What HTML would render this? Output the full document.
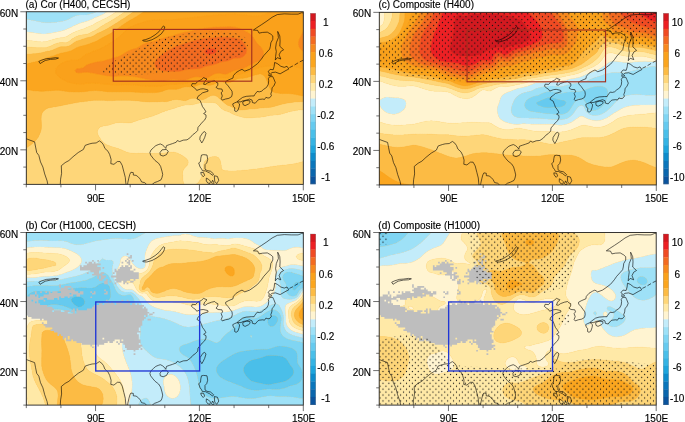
<!DOCTYPE html>
<html><head><meta charset="utf-8"><style>
html,body{margin:0;padding:0;background:#fff;}
svg{display:block;}
text{font-family:"Liberation Sans",sans-serif;font-size:10px;fill:#000;stroke:#000;stroke-width:0.15px;}
svg{will-change:transform;}
</style></head><body>
<svg width="685" height="422" viewBox="0 0 685 422">
<defs>
<pattern id="dotsa" x="5.390" y="5.780" width="5.88" height="5.88" patternUnits="userSpaceOnUse"><circle cx="1.47" cy="1.47" r="0.62" fill="#111"/><circle cx="4.41" cy="4.41" r="0.62" fill="#111"/></pattern>
<pattern id="dotsc" x="2.880" y="2.860" width="5.88" height="5.88" patternUnits="userSpaceOnUse"><circle cx="1.47" cy="1.47" r="0.62" fill="#111"/><circle cx="4.41" cy="4.41" r="0.62" fill="#111"/></pattern>
<pattern id="dotsd" x="2.320" y="2.310" width="5.88" height="5.88" patternUnits="userSpaceOnUse"><circle cx="1.47" cy="1.47" r="0.62" fill="#111"/><circle cx="4.41" cy="4.41" r="0.62" fill="#111"/></pattern>
<pattern id="dotsb" x="1.630" y="1.230" width="5.88" height="5.88" patternUnits="userSpaceOnUse"><circle cx="1.47" cy="1.47" r="0.62" fill="#111"/><circle cx="4.41" cy="4.41" r="0.62" fill="#111"/></pattern>
</defs>
<g transform="translate(26.3,11.75)">
<clipPath id="clipa"><rect x="0" y="0" width="277.0" height="172.6"/></clipPath>
<g clip-path="url(#clipa)">
<rect x="0" y="0" width="277.0" height="172.6" fill="#fba61f"/>
<path fill="#7fd5f3" stroke="#7fd5f3" stroke-width="0.3" fill-rule="evenodd" d="M-1.7 0L-0.4 0L0 -0L1.7 -0.2L3.5 -0.5L5.2 -0.9L6.9 -1.2L8.7 -1.6L9.1 -1.7L10.4 -2L12.1 -2.5L13.8 -2.9L15.6 -3.3L16.5 -3.5L17.3 -3.6L19 -3.8L20.8 -4L22.5 -4.2L24.2 -4.4L26 -4.5L27.7 -4.7L29.4 -4.9L31.2 -5.1L31.7 -5.2L32.9 -5.3L34.6 -5.5L36.4 -5.6L38.1 -5.8L39.8 -6L41.5 -6.2L43.3 -6.3L45 -6.5L46.7 -6.7L48.5 -6.8L50.2 -6.8L51.9 -6.7L53.7 -6.6L55.4 -6.4L57.1 -6.1L58.9 -5.9L60.6 -5.8L62.3 -5.8L64.1 -6L65.8 -6.4L67.4 -6.9L65.8 -6.9L64.1 -6.9L62.3 -6.9L60.6 -6.9L58.9 -6.9L57.1 -6.9L55.4 -6.9L53.7 -6.9L51.9 -6.9L50.2 -6.9L48.5 -6.9L46.7 -6.9L45 -6.9L43.3 -6.9L41.5 -6.9L39.8 -6.9L38.1 -6.9L36.4 -6.9L34.6 -6.9L32.9 -6.9L31.2 -6.9L29.4 -6.9L27.7 -6.9L26 -6.9L24.2 -6.9L22.5 -6.9L20.8 -6.9L19 -6.9L17.3 -6.9L15.6 -6.9L13.8 -6.9L12.1 -6.9L10.4 -6.9L8.7 -6.9L6.9 -6.9L5.2 -6.9L3.5 -6.9L1.7 -6.9L0 -6.9L-1.7 -6.9L-3.5 -6.9L-5.2 -6.9L-6.9 -6.9L-6.9 -5.2L-6.9 -3.5L-6.9 -1.7L-6.9 -0.2L-5.2 -0.1L-3.5 -0.1L-1.9 0Z"/>
<path fill="#9ee1f7" stroke="#9ee1f7" stroke-width="0.3" fill-rule="evenodd" d="M15.6 10.4L17.3 10.7L19 10.9L20.8 11L22.5 11L24.2 11L26 10.8L27.7 10.7L29.4 10.5L30.3 10.4L31.2 10.2L32.9 10L34.6 9.7L36.4 9.4L38.1 9.1L39.8 8.6L39.8 8.6L41.5 7.9L43.3 7L43.5 6.9L45 6.1L46.7 5.2L46.7 5.2L48.5 4.4L50.2 3.8L51.5 3.5L51.9 3.4L53.7 3.2L55.4 3.2L57.1 3.3L58.9 3.3L60.6 3.2L62.3 2.8L64.1 2.3L65.8 1.8L66 1.7L67.5 1.2L69.2 0.6L70.6 0L71 -0.2L72.7 -1.2L73.6 -1.7L74.4 -2.2L76.2 -3.4L76.3 -3.5L77.9 -4.6L78.6 -5.2L79.6 -6L80.8 -6.9L79.6 -6.9L77.9 -6.9L76.2 -6.9L74.4 -6.9L72.7 -6.9L71 -6.9L69.2 -6.9L67.5 -6.9L67.4 -6.9L65.8 -6.4L64.1 -6L62.3 -5.8L60.6 -5.8L58.9 -5.9L57.1 -6.1L55.4 -6.4L53.7 -6.6L51.9 -6.7L50.2 -6.8L48.5 -6.8L46.7 -6.7L45 -6.5L43.3 -6.3L41.5 -6.2L39.8 -6L38.1 -5.8L36.4 -5.6L34.6 -5.5L32.9 -5.3L31.7 -5.2L31.2 -5.1L29.4 -4.9L27.7 -4.7L26 -4.5L24.2 -4.4L22.5 -4.2L20.8 -4L19 -3.8L17.3 -3.6L16.5 -3.5L15.6 -3.3L13.8 -2.9L12.1 -2.5L10.4 -2L9.1 -1.7L8.7 -1.6L6.9 -1.2L5.2 -0.9L3.5 -0.5L1.7 -0.2L0 -0L-0.4 0L-1.7 0L-1.9 0L-3.5 -0.1L-5.2 -0.1L-6.9 -0.2L-6.9 0L-6.9 1.7L-6.9 3.5L-6.9 5.2L-6.9 6.9L-6.9 8.3L-5.2 8.1L-3.5 7.9L-1.7 7.7L0 7.7L1.7 7.8L3.5 8.1L5.2 8.4L6.2 8.6L6.9 8.8L8.7 9.1L10.4 9.5L12.1 9.8L13.8 10.1L15.2 10.4Z"/>
<path fill="#c3ecfa" stroke="#c3ecfa" stroke-width="0.3" fill-rule="evenodd" d="M5.2 20.8L6.9 21L8.7 21.3L10.4 21.6L12.1 21.8L13.8 22L15.6 22.2L17.3 22.2L19 22.2L20.8 22L22.5 21.8L24.2 21.5L26 21.2L27.7 20.8L28.4 20.7L29.4 20.5L31.2 20.2L32.9 19.8L34.6 19.4L36.2 19L36.4 19L38.1 18.4L39.8 17.7L40.8 17.3L41.5 17L43.3 16.2L44.6 15.5L45 15.4L46.7 14.5L48.3 13.8L48.5 13.7L50.2 13L51.9 12.3L52.4 12.1L53.7 11.6L55.4 11L57.1 10.5L57.5 10.4L58.9 10L60.6 9.5L62.3 8.9L63.1 8.6L64.1 8.2L65.8 7.5L66.9 6.9L67.5 6.6L69.2 5.8L70.8 5.2L71 5.1L72.7 4.4L74.4 3.6L74.8 3.5L76.2 2.8L77.9 1.9L78.1 1.7L79.6 0.8L81 0L81.4 -0.2L83.1 -1.4L83.5 -1.7L84.8 -2.7L85.9 -3.5L86.6 -4L88 -5.2L88.3 -5.4L90 -6.9L90 -6.9L90 -6.9L88.3 -6.9L86.6 -6.9L84.8 -6.9L83.1 -6.9L81.4 -6.9L80.8 -6.9L79.6 -6L78.6 -5.2L77.9 -4.6L76.3 -3.5L76.2 -3.4L74.4 -2.2L73.6 -1.7L72.7 -1.2L71 -0.2L70.6 0L69.2 0.6L67.5 1.2L66 1.7L65.8 1.8L64.1 2.3L62.3 2.8L60.6 3.2L58.9 3.3L57.1 3.3L55.4 3.2L53.7 3.2L51.9 3.4L51.5 3.5L50.2 3.8L48.5 4.4L46.7 5.2L46.7 5.2L45 6.1L43.5 6.9L43.3 7L41.5 7.9L39.8 8.6L39.8 8.6L38.1 9.1L36.4 9.4L34.6 9.7L32.9 10L31.2 10.2L30.3 10.4L29.4 10.5L27.7 10.7L26 10.8L24.2 11L22.5 11L20.8 11L19 10.9L17.3 10.7L15.6 10.4L15.2 10.4L13.8 10.1L12.1 9.8L10.4 9.5L8.7 9.1L6.9 8.8L6.2 8.6L5.2 8.4L3.5 8.1L1.7 7.8L0 7.7L-1.7 7.7L-3.5 7.9L-5.2 8.1L-6.9 8.3L-6.9 8.6L-6.9 10.4L-6.9 12.1L-6.9 13.8L-6.9 15.5L-6.9 17.3L-6.9 18.9L-6 19L-5.2 19.1L-3.5 19.4L-1.7 19.7L0 20L1.7 20.3L3.5 20.5L4.8 20.7Z"/>
<path fill="#fff4d1" stroke="#fff4d1" stroke-width="0.3" fill-rule="evenodd" d="M8.7 29.5L10.4 29.7L12.1 29.9L13.9 30.1L15.6 30.2L17.3 30.1L19 30L20.8 29.6L21.7 29.3L22.5 29.1L24.2 28.6L26 28L27.2 27.6L27.7 27.4L29.4 27L31.2 26.6L32.9 26.3L34.6 26.1L36.2 25.9L36.4 25.9L38.1 25.5L39.8 25L41.5 24.2L41.5 24.1L43.3 23.1L44.4 22.4L45 22.1L46.7 21.1L47.6 20.7L48.5 20.3L50.2 19.5L51.7 19L51.9 18.9L53.7 18.3L55.4 17.8L56.9 17.3L57.1 17.2L58.9 16.5L60.6 15.5L60.6 15.5L62.3 14.9L64.1 14.3L65.3 13.8L65.8 13.6L67.5 12.7L68.4 12.1L69.2 11.5L71 10.5L71.3 10.4L72.7 9.7L74.4 8.9L75 8.6L76.2 8.1L77.9 7.3L78.6 6.9L79.6 6.4L81.4 5.5L81.9 5.2L83.1 4.5L84.8 3.5L84.8 3.4L86.6 2.3L87.5 1.7L88.3 1.2L90 0L90 -0L91.8 -1.3L92.4 -1.7L93.5 -2.6L94.6 -3.5L95.2 -4L96.6 -5.2L97 -5.4L98.6 -6.9L97 -6.9L95.2 -6.9L93.5 -6.9L91.8 -6.9L90 -6.9L90 -6.9L88.3 -5.4L88 -5.2L86.6 -4L85.9 -3.5L84.8 -2.7L83.5 -1.7L83.1 -1.4L81.4 -0.2L81 0L79.6 0.8L78.1 1.7L77.9 1.9L76.2 2.8L74.8 3.5L74.4 3.6L72.7 4.4L71 5.1L70.8 5.2L69.2 5.8L67.5 6.6L66.9 6.9L65.8 7.5L64.1 8.2L63.1 8.6L62.3 8.9L60.6 9.5L58.9 10L57.5 10.4L57.1 10.5L55.4 11L53.7 11.6L52.4 12.1L51.9 12.3L50.2 13L48.5 13.7L48.3 13.8L46.7 14.5L45 15.4L44.6 15.5L43.3 16.2L41.5 17L40.8 17.3L39.8 17.7L38.1 18.4L36.4 19L36.2 19L34.6 19.4L32.9 19.8L31.2 20.2L29.4 20.5L28.4 20.7L27.7 20.8L26 21.2L24.2 21.5L22.5 21.8L20.8 22L19 22.2L17.3 22.2L15.6 22.2L13.8 22L12.1 21.8L10.4 21.6L8.7 21.3L6.9 21L5.2 20.8L4.8 20.7L3.5 20.5L1.7 20.3L0 20L-1.7 19.7L-3.5 19.4L-5.2 19.1L-6 19L-6.9 18.9L-6.9 19L-6.9 20.7L-6.9 22.4L-6.9 24.2L-6.9 25.9L-6.9 27.6L-6.9 27.9L-5.2 28.1L-3.5 28.2L-1.7 28.4L0 28.6L1.7 28.8L3.5 28.9L5.2 29.1L6.9 29.3L7.2 29.3Z"/>
<path fill="#ffe9a7" stroke="#ffe9a7" stroke-width="0.3" fill-rule="evenodd" d="M161 174.8L162.7 175.1L164.5 175.1L166.2 174.7L167 174.3L167.9 173.9L169.7 172.8L169.9 172.6L171.4 171.3L171.8 170.9L173.1 169.2L173.2 169.1L174.2 167.4L174.9 166.2L175.1 165.7L175.8 164L176.4 162.2L176.6 161.4L176.8 160.5L177.1 158.8L177.3 157.1L177.3 155.3L177.3 153.6L177.6 151.9L178.2 150.2L178.3 150L179.5 148.4L180 147.9L181.5 146.7L181.8 146.6L183.5 145.7L185.2 145.2L186.1 145L187 144.9L188.7 144.8L189.8 145L190.4 145.1L192.2 146.1L192.7 146.7L193.7 148.4L193.9 148.9L194.3 150.2L194.6 151.9L194.9 153.6L195 155.3L195.3 157.1L195.6 157.5L197.4 158.7L197.8 158.8L199.1 159L200.8 159.1L202.6 159.2L204.3 159.3L206 159.3L207.8 159.2L209.5 159.2L211.2 159.1L212.9 159L214.7 158.9L215.4 158.8L216.4 158.7L218.1 158.5L219.9 158.4L221.6 158.2L223.3 158L225.1 157.8L226.8 157.6L228.5 157.4L230.3 157.2L231.6 157.1L232 157L233.7 156.8L235.4 156.5L237.2 156.2L238.9 156L240.6 155.7L242.4 155.4L242.9 155.3L244.1 155.1L245.8 154.9L247.6 154.6L249.3 154.4L251 154.1L252.8 153.9L254.5 153.8L256 153.6L256.2 153.6L258 153.4L259.7 153.3L261.4 153.1L263.1 152.8L264.9 152.6L266.6 152.3L268.3 152L268.9 151.9L270.1 151.6L271.8 151.2L273.5 150.8L275.3 150.3L275.8 150.2L277 149.8L278.7 149.4L280.5 148.9L281.8 148.4L282.2 148.3L283.9 147.7L283.9 146.7L283.9 145L283.9 143.3L283.9 141.5L283.9 139.8L283.9 138.1L283.9 136.4L283.9 134.6L283.9 132.9L283.9 131.2L283.9 129.4L283.9 127.7L283.9 126L283.9 124.3L283.9 122.5L283.9 120.8L283.9 119.1L283.9 117.4L283.9 115.6L283.9 113.9L283.9 112.2L283.9 110.5L283.9 108.7L283.9 107L283.9 105.3L283.9 103.6L283.9 101.8L283.9 100.6L283 100.1L282.2 99.7L280.5 99L278.7 98.4L278.7 98.4L277 98.1L275.3 98L273.5 98.1L271.8 98.3L271 98.4L270.1 98.5L268.3 98.9L266.6 99.2L264.9 99.6L263.1 100L262.8 100.1L261.4 100.5L259.7 101L258 101.5L256.6 101.8L256.2 101.9L254.5 102.4L252.8 102.7L251 103L249.3 103.2L247.6 103.3L245.8 103.4L244.1 103.5L243.9 103.6L242.4 103.9L240.6 104.3L238.9 104.7L237.2 105L235.5 105.2L234.8 105.3L233.7 105.4L232 105.5L230.3 105.6L228.5 105.7L226.8 105.8L225.1 106L223.3 106.1L221.6 106.1L219.9 106L218.1 105.8L216.4 105.5L215.7 105.3L214.7 105L212.9 104.5L211.2 104L210 103.6L209.5 103.4L207.8 102.8L206 102L205.7 101.8L204.3 101.1L202.6 100.1L202.5 100.1L200.8 99.6L199.1 99L197.8 98.4L197.4 98.2L195.6 97.1L195.1 96.7L193.9 95.5L193.4 94.9L192.2 93.6L191.8 93.2L190.4 91.9L189.6 91.5L188.7 91.1L187 90.8L185.2 90.7L183.5 90.7L181.8 90.8L180 90.8L178.3 90.7L176.6 90.6L174.9 90.8L173.1 91.2L171.9 91.5L171.4 91.6L169.7 92.1L167.9 92.5L166.2 92.8L164.5 93L162.7 93.2L161.5 93.2L161 93.2L160.4 93.2L159.3 93.2L159.1 93.2L157.5 93.5L155.8 93.9L154.1 94.4L152.5 94.9L152.3 95L150.6 95.6L148.9 96.2L147.3 96.7L147.2 96.7L145.4 97.3L143.7 97.8L142 98.2L141.3 98.4L140.2 98.8L138.5 99.4L136.8 100.1L136.7 100.1L135 100.8L133.3 101.5L132.5 101.8L131.6 102.2L129.8 102.9L128.1 103.6L128.1 103.6L126.4 104.2L124.6 104.8L122.9 105.3L122.9 105.3L121.2 105.8L119.5 106.3L117.7 106.7L116.6 107L116 107.2L114.3 107.7L112.5 108.2L110.9 108.7L110.8 108.8L109.1 109.4L107.3 110L106.2 110.5L105.6 110.7L103.9 111.1L102.1 111.1L100.4 111L98.7 110.9L97 110.8L95.2 110.7L93.5 110.7L91.8 110.9L90 111.1L88.3 111.5L86.6 112L86.1 112.2L84.8 112.6L83.1 113.2L81.4 113.5L79.6 113.8L78.7 113.9L77.9 114L76.2 114.5L74.4 115.1L73.6 115.6L72.7 116.4L71.9 117.4L71.1 119.1L71 120.8L71.5 122.5L72.3 124.3L72.7 124.9L73.4 126L74.4 127.6L74.5 127.7L75.9 129.4L76.2 129.7L77.6 131.2L77.9 131.4L79.6 132.6L80.2 132.9L81.4 133.4L83.1 134.1L84.5 134.6L84.8 134.7L86.6 135.3L88.3 135.8L90 136.3L90.3 136.4L91.8 136.8L93.5 137.4L94.9 138.1L95.2 138.2L97 139L98.7 139.8L98.8 139.8L100.4 140.4L102.1 140.9L103.9 141.2L105.6 141.5L106.3 141.5L107.3 141.6L109.1 141.7L110.8 141.7L112.5 141.6L114.3 141.5L116 141.6L117.7 141.6L119.5 141.7L121.2 141.7L122.9 141.7L124.6 141.8L126.4 141.8L128.1 141.7L129.8 141.7L131.6 141.7L133.3 141.6L134 141.5L135 141.5L136.8 141.3L138.5 141.2L140.2 141L142 140.8L143.7 140.6L145.4 140.5L147.2 140.5L148.9 140.7L150.6 141.2L151.6 141.5L152.3 141.9L154.1 142.7L155 143.3L155.8 143.7L157.5 144.9L157.7 145L159.3 146.2L159.9 146.7L161 148L161.4 148.4L161.9 150.2L161.7 151.9L161 153.4L160.9 153.6L159.3 155.2L159.2 155.3L157.7 157.1L157.5 157.3L156.8 158.8L156.3 160.5L156.2 162.2L156.4 164L156.5 165.7L156.5 167.4L156.7 169.1L157.2 170.9L157.5 171.7L158.1 172.6L159.3 173.9L160.1 174.3ZM-5.2 35.3L-3.5 35.3L-1.7 35.2L0 35.2L1.7 35.3L3.5 35.4L5.2 35.6L6.9 35.7L8.7 35.8L10.4 35.9L12.1 36L13.8 36L15.6 36L17.3 36L19 36L20.8 35.7L22.5 35.1L23.9 34.5L24.2 34.4L26 33.5L27.6 32.8L27.7 32.7L29.4 32L31.2 31.5L32.9 31.1L32.9 31.1L34.6 30.8L36.4 30.8L38.1 30.9L39.8 30.9L41.5 30.4L43.1 29.3L43.3 29.2L45 27.8L45.3 27.6L46.7 26.6L47.9 25.9L48.5 25.5L50.2 24.7L51.8 24.2L51.9 24.1L53.7 23.6L55.4 23.2L57.1 22.9L58.9 22.7L60.6 22.5L61 22.4L62.3 22L64.1 21.1L64.8 20.7L65.8 20.1L67.5 19.3L68.3 19L69.2 18.5L71 17.5L71.4 17.3L72.7 16.2L73.7 15.5L74.4 15L76.2 13.9L76.3 13.8L77.9 12.9L79.3 12.1L79.6 11.9L81.4 10.9L82.4 10.4L83.1 10L84.8 9L85.4 8.6L86.6 7.9L88.2 6.9L88.3 6.9L90 5.8L91 5.2L91.8 4.7L93.5 3.5L93.6 3.5L95.2 2.4L96.2 1.7L97 1.2L98.7 0L98.7 -0L100.4 -1.3L100.9 -1.7L102.1 -2.7L103 -3.5L103.9 -4.2L105 -5.2L105.6 -5.7L106.9 -6.9L105.6 -6.9L103.9 -6.9L102.1 -6.9L100.4 -6.9L98.7 -6.9L98.6 -6.9L97 -5.4L96.6 -5.2L95.2 -4L94.6 -3.5L93.5 -2.6L92.4 -1.7L91.8 -1.3L90 -0L90 0L88.3 1.2L87.5 1.7L86.6 2.3L84.8 3.4L84.8 3.5L83.1 4.5L81.9 5.2L81.4 5.5L79.6 6.4L78.6 6.9L77.9 7.3L76.2 8.1L75 8.6L74.4 8.9L72.7 9.7L71.3 10.4L71 10.5L69.2 11.5L68.4 12.1L67.5 12.7L65.8 13.6L65.3 13.8L64.1 14.3L62.3 14.9L60.6 15.5L60.6 15.5L58.9 16.5L57.1 17.2L56.9 17.3L55.4 17.8L53.7 18.3L51.9 18.9L51.7 19L50.2 19.5L48.5 20.3L47.6 20.7L46.7 21.1L45 22.1L44.4 22.4L43.3 23.1L41.6 24.1L41.5 24.2L39.8 25L38.1 25.5L36.4 25.9L36.2 25.9L34.6 26.1L32.9 26.3L31.2 26.6L29.4 27L27.7 27.4L27.2 27.6L26 28L24.2 28.6L22.5 29.1L21.7 29.3L20.8 29.6L19 30L17.3 30.1L15.6 30.2L13.8 30.1L12.1 29.9L10.4 29.7L8.7 29.5L7.2 29.3L6.9 29.3L5.2 29.1L3.5 28.9L1.7 28.8L0 28.6L-1.7 28.4L-3.5 28.2L-5.2 28.1L-6.9 27.9L-6.9 29.3L-6.9 31.1L-6.9 32.8L-6.9 34.5L-6.9 35.5Z"/>
<path fill="#fed679" stroke="#fed679" stroke-width="0.3" fill-rule="evenodd" d="M-5.2 179.5L-3.5 179.5L-1.7 179.5L0 179.5L1.7 179.5L3.5 179.5L5.2 179.5L6.9 179.5L8.7 179.5L10.4 179.5L12.1 179.5L13.8 179.5L15.6 179.5L17.3 179.5L19 179.5L20.8 179.5L22.5 179.5L24.2 179.5L26 179.5L27.7 179.5L29.4 179.5L31.2 179.5L32.9 179.5L34.6 179.5L36.4 179.5L38.1 179.5L39.8 179.5L41.5 179.5L43.3 179.5L45 179.5L46.7 179.5L48.5 179.5L50.2 179.5L51.9 179.5L53.7 179.5L55.4 179.5L57.1 179.5L58.9 179.5L60.6 179.5L62.3 179.5L64.1 179.5L65.8 179.5L67.5 179.5L69.2 179.5L71 179.5L72.7 179.5L74.4 179.5L76.2 179.5L77.9 179.5L79.6 179.5L81.4 179.5L83.1 179.5L84.8 179.5L86.6 179.5L88.3 179.5L90 179.5L91.8 179.5L93.5 179.5L95.2 179.5L97 179.5L98.7 179.5L100.4 179.5L102.1 179.5L103.9 179.5L105.6 179.5L107.3 179.5L109.1 179.5L110.8 179.5L112.5 179.5L114.3 179.5L116 179.5L117.7 179.5L119.5 179.5L121.2 179.5L122.9 179.5L124.6 179.5L126.4 179.5L128.1 179.5L129.8 179.5L131.6 179.5L133.3 179.5L135 179.5L136.8 179.5L138.5 179.5L140.2 179.5L142 179.5L143.7 179.5L145.4 179.5L147.2 179.5L148.9 179.5L150.6 179.5L152.3 179.5L154.1 179.5L155.8 179.5L157.5 179.5L159.3 179.5L161 179.5L162.7 179.5L164.5 179.5L166.2 179.5L167.9 179.5L169.7 179.5L171.4 179.5L173.1 179.5L174.9 179.5L176.6 179.5L178.3 179.5L180 179.5L181.8 179.5L183.5 179.5L185.2 179.5L187 179.5L188.7 179.5L190.4 179.5L192.2 179.5L193.9 179.5L195.6 179.5L197.4 179.5L199.1 179.5L200.8 179.5L202.6 179.5L204.3 179.5L206 179.5L207.8 179.5L209.5 179.5L211.2 179.5L212.9 179.5L214.7 179.5L216.4 179.5L218.1 179.5L219.9 179.5L221.6 179.5L223.3 179.5L225.1 179.5L226.8 179.5L228.5 179.5L230.3 179.5L232 179.5L233.7 179.5L235.4 179.5L237.2 179.5L238.9 179.5L240.6 179.5L242.4 179.5L244.1 179.5L245.8 179.5L247.6 179.5L249.3 179.5L251 179.5L252.8 179.5L254.5 179.5L256.2 179.5L258 179.5L259.7 179.5L261.4 179.5L263.1 179.5L264.9 179.5L266.6 179.5L268.3 179.5L270.1 179.5L271.8 179.5L273.5 179.5L275.3 179.5L277 179.5L278.7 179.5L280.5 179.5L282.2 179.5L283.9 179.5L283.9 177.8L283.9 176.1L283.9 174.3L283.9 172.6L283.9 170.9L283.9 169.1L283.9 167.4L283.9 165.7L283.9 164L283.9 162.2L283.9 160.5L283.9 158.8L283.9 157.1L283.9 155.3L283.9 153.6L283.9 151.9L283.9 150.2L283.9 148.4L283.9 147.7L282.2 148.3L281.8 148.4L280.5 148.9L278.7 149.4L277 149.8L275.8 150.2L275.3 150.3L273.5 150.8L271.8 151.2L270.1 151.6L268.9 151.9L268.3 152L266.6 152.3L264.9 152.6L263.1 152.8L261.4 153.1L259.7 153.3L258 153.4L256.2 153.6L256 153.6L254.5 153.8L252.8 153.9L251 154.1L249.3 154.4L247.6 154.6L245.8 154.9L244.1 155.1L242.9 155.3L242.4 155.4L240.6 155.7L238.9 156L237.2 156.2L235.4 156.5L233.7 156.8L232 157L231.6 157.1L230.3 157.2L228.5 157.4L226.8 157.6L225.1 157.8L223.3 158L221.6 158.2L219.9 158.4L218.1 158.5L216.4 158.7L215.4 158.8L214.7 158.9L212.9 159L211.2 159.1L209.5 159.2L207.8 159.2L206 159.3L204.3 159.3L202.6 159.2L200.8 159.1L199.1 159L197.8 158.8L197.4 158.7L195.6 157.5L195.3 157.1L195 155.3L194.9 153.6L194.6 151.9L194.3 150.2L193.9 148.9L193.7 148.4L192.7 146.7L192.2 146.1L190.4 145.1L189.8 145L188.7 144.8L187 144.9L186.1 145L185.2 145.2L183.5 145.7L181.8 146.6L181.5 146.7L180 147.9L179.5 148.4L178.3 150L178.2 150.2L177.6 151.9L177.3 153.6L177.3 155.3L177.3 157.1L177.1 158.8L176.8 160.5L176.6 161.4L176.4 162.2L175.8 164L175.1 165.7L174.9 166.2L174.2 167.4L173.2 169.1L173.1 169.2L171.8 170.9L171.4 171.3L169.9 172.6L169.7 172.8L167.9 173.9L167 174.3L166.2 174.7L164.5 175.1L162.7 175.1L161 174.8L160.1 174.3L159.3 173.9L158.1 172.6L157.5 171.7L157.2 170.9L156.7 169.1L156.5 167.4L156.5 165.7L156.4 164L156.2 162.2L156.3 160.5L156.8 158.8L157.5 157.3L157.7 157.1L159.2 155.3L159.3 155.2L160.9 153.6L161 153.4L161.7 151.9L161.9 150.2L161.4 148.4L161 148L159.9 146.7L159.3 146.2L157.7 145L157.5 144.9L155.8 143.7L155 143.3L154.1 142.7L152.3 141.9L151.6 141.5L150.6 141.2L148.9 140.7L147.2 140.5L145.4 140.5L143.7 140.6L142 140.8L140.2 141L138.5 141.2L136.8 141.3L135 141.5L134 141.5L133.3 141.6L131.6 141.7L129.8 141.7L128.1 141.7L126.4 141.8L124.6 141.8L122.9 141.7L121.2 141.7L119.5 141.7L117.7 141.6L116 141.6L114.3 141.5L112.5 141.6L110.8 141.7L109.1 141.7L107.3 141.6L106.3 141.5L105.6 141.5L103.9 141.2L102.1 140.9L100.4 140.4L98.8 139.8L98.7 139.8L97 139L95.2 138.2L94.9 138.1L93.5 137.4L91.8 136.8L90.3 136.4L90 136.3L88.3 135.8L86.6 135.3L84.8 134.7L84.5 134.6L83.1 134.1L81.4 133.4L80.2 132.9L79.6 132.6L77.9 131.4L77.6 131.2L76.2 129.7L75.9 129.4L74.5 127.7L74.4 127.6L73.4 126L72.7 124.9L72.3 124.3L71.5 122.5L71 120.8L71.1 119.1L71.9 117.4L72.7 116.4L73.6 115.6L74.4 115.1L76.2 114.5L77.9 114L78.7 113.9L79.6 113.8L81.4 113.5L83.1 113.2L84.8 112.6L86.1 112.2L86.6 112L88.3 111.5L90 111.1L91.8 110.9L93.5 110.7L95.2 110.7L96.9 110.8L98.7 110.9L100.4 111L102.1 111.1L103.9 111.1L105.6 110.7L106.2 110.5L107.3 110L109.1 109.4L110.8 108.8L110.9 108.7L112.5 108.2L114.3 107.7L116 107.2L116.6 107L117.7 106.7L119.5 106.3L121.2 105.8L122.9 105.3L122.9 105.3L124.6 104.8L126.4 104.2L128.1 103.6L128.1 103.6L129.8 102.9L131.6 102.2L132.5 101.8L133.3 101.5L135 100.8L136.7 100.1L136.8 100.1L138.5 99.4L140.2 98.8L141.3 98.4L142 98.2L143.7 97.8L145.4 97.3L147.2 96.7L147.3 96.7L148.9 96.2L150.6 95.6L152.3 95L152.5 94.9L154.1 94.4L155.8 93.9L157.5 93.5L159.1 93.2L159.3 93.2L160.4 93.2L161 93.2L161.5 93.2L162.7 93.2L164.5 93L166.2 92.8L167.9 92.5L169.7 92.1L171.4 91.6L171.9 91.5L173.1 91.2L174.9 90.8L176.6 90.6L178.3 90.7L180 90.8L181.8 90.8L183.5 90.7L185.2 90.7L187 90.8L188.7 91.1L189.6 91.5L190.4 91.9L191.8 93.2L192.2 93.6L193.4 94.9L193.9 95.5L195.1 96.7L195.6 97.1L197.4 98.2L197.8 98.4L199.1 99L200.8 99.6L202.5 100.1L202.6 100.1L204.3 101.1L205.7 101.8L206 102L207.8 102.8L209.5 103.4L210 103.6L211.2 104L212.9 104.5L214.7 105L215.7 105.3L216.4 105.5L218.1 105.8L219.9 106L221.6 106.1L223.3 106.1L225.1 106L226.8 105.8L228.5 105.7L230.3 105.6L232 105.5L233.7 105.4L234.8 105.3L235.4 105.2L237.2 105L238.9 104.7L240.6 104.3L242.4 103.9L243.9 103.6L244.1 103.5L245.8 103.4L247.6 103.3L249.3 103.2L251 103L252.8 102.7L254.5 102.4L256.2 101.9L256.6 101.8L258 101.5L259.7 101L261.4 100.5L262.8 100.1L263.1 100L264.9 99.6L266.6 99.2L268.3 98.9L270.1 98.5L271 98.4L271.8 98.3L273.5 98.1L275.3 98L277 98.1L278.7 98.4L278.7 98.4L280.5 99L282.2 99.7L283 100.1L283.9 100.6L283.9 100.1L283.9 98.4L283.9 96.7L283.9 94.9L283.9 93.2L283.9 91.5L283.9 90.7L282.2 90.5L280.5 90.2L278.7 89.9L277 89.8L275.3 89.8L273.5 89.9L271.8 90.1L270.1 90.2L268.3 90.3L266.6 90.5L264.9 90.7L263.1 90.9L261.4 91.2L259.7 91.5L259.7 91.5L258 91.9L256.2 92.3L254.5 92.7L252.8 93.2L252.8 93.2L251 93.7L249.3 94.2L247.6 94.7L246.7 94.9L245.8 95.2L244.1 95.5L242.4 95.7L240.6 95.8L238.9 95.8L237.2 95.9L235.5 96.1L233.7 96.3L232 96.5L231.2 96.7L230.3 96.8L228.5 97L226.8 97.1L225.1 97.2L223.3 97.3L221.6 97.5L219.9 97.7L218.1 97.9L216.4 98.1L214.7 98.2L212.9 98.2L211.2 98L209.5 97.2L208.4 96.7L207.8 96.3L206 95.4L205 94.9L204.3 94.6L202.6 93.9L200.8 93.2L200.8 93.2L199.1 91.9L198.6 91.5L197.4 90.4L196.6 89.8L195.6 88.9L194.4 88L193.9 87.6L192.6 86.3L192.2 85.8L190.6 84.6L190.4 84.5L188.7 83.7L187 83.5L185.2 83.8L183.5 84.5L183.3 84.6L181.8 85.3L180.2 86.3L180 86.4L178.3 87.2L176.6 87.9L174.9 87.8L173.1 87.3L171.4 86.9L169.7 86.6L167.9 86.5L166.2 86.5L164.5 86.8L162.7 87.4L161.5 88L161 88.2L159.3 88.8L157.5 88.8L155.8 88.5L154.1 88.2L153 88L152.3 87.9L150.6 87.7L148.9 87.8L147.2 88L147 88L145.4 88.4L143.7 88.9L142 89.5L140.8 89.8L140.2 89.8L138.5 89.9L136.8 89.8L135 89.8L133.3 89.9L131.6 89.9L129.8 90L128.1 90L126.4 90.1L124.6 90.1L122.9 90.1L121.2 90L119.5 89.9L117.7 89.8L116.9 89.8L116 89.7L114.3 89.5L112.5 89.3L110.8 89.1L109.1 88.9L107.3 88.8L105.6 88.7L103.9 88.6L102.1 88.6L100.4 88.5L98.7 88.5L97 88.4L95.2 88.4L93.5 88.4L91.8 88.5L90 88.6L88.3 88.7L86.6 88.8L84.8 88.8L83.1 88.8L81.4 88.8L79.6 88.7L77.9 88.6L76.2 88.5L74.4 88.4L72.7 88.4L71 88.4L69.2 88.5L67.5 88.6L65.8 88.7L64.1 88.9L62.3 89.2L60.6 89.4L58.9 89.6L57.5 89.8L57.1 89.8L55.4 90L53.7 90.2L51.9 90.5L50.2 90.8L48.5 91.1L46.7 91.4L46.5 91.5L45 91.8L43.3 92.1L41.5 92.5L39.8 92.8L38.1 93.2L37.8 93.2L36.4 93.5L34.6 93.9L32.9 94.3L31.2 94.6L29.4 94.9L29 94.9L27.7 95.1L26 95.4L24.2 95.7L22.5 96.1L20.8 96.7L20.8 96.7L19 97.7L18.2 98.4L17.3 99.3L16.6 100.1L15.6 101.8L15.6 102L15.1 103.6L14.9 105.3L14.8 107L14.9 108.7L15 110.5L15.1 112.2L15.2 113.9L15.1 115.6L14.9 117.4L14.5 119.1L14 120.8L13.8 121.1L13.3 122.5L12.5 124.3L12.1 124.9L11.5 126L10.4 127.5L10.2 127.7L8.7 129.4L8.7 129.5L6.9 131.1L6.8 131.2L5.2 132.5L4.6 132.9L3.5 133.8L2.3 134.6L1.7 135L0 136.3L-0.1 136.4L-1.7 137.5L-2.5 138.1L-3.5 138.7L-5.1 139.8L-5.2 139.9L-6.9 141L-6.9 141.5L-6.9 143.3L-6.9 145L-6.9 146.7L-6.9 148.4L-6.9 150.2L-6.9 151.9L-6.9 153.6L-6.9 155.3L-6.9 157.1L-6.9 158.8L-6.9 160.5L-6.9 162.2L-6.9 164L-6.9 165.7L-6.9 167.4L-6.9 169.1L-6.9 170.9L-6.9 172.6L-6.9 174.3L-6.9 176.1L-6.9 177.8L-6.9 179.5ZM-5.2 43.3L-4.4 43.1L-3.5 43L-1.7 42.7L0 42.5L1.7 42.3L3.5 42.3L5.2 42.2L6.9 42.1L8.7 42L10.4 41.8L12.1 41.6L13 41.4L13.8 41.3L15.6 41L17.3 40.6L19 40.1L20.5 39.7L20.8 39.6L22.5 39.4L24.2 39L26 38.4L27.1 38L27.7 37.7L29.4 37L31.1 36.2L31.2 36.2L32.9 35.6L34.6 35L36.4 34.9L38.1 35L39.8 34.9L41.5 34.6L41.9 34.5L43.3 34L45 33L45.3 32.8L46.7 31.7L47.6 31.1L48.5 30.4L50.2 29.5L50.7 29.3L51.9 28.9L53.7 28.4L55.4 27.8L56 27.6L57.1 27.3L58.9 26.8L60.6 26.1L61.6 25.9L62.3 25.7L64.1 25.4L65.8 24.8L67.1 24.2L67.5 24L69.2 22.9L69.9 22.4L71 21.8L72.7 21.1L73.5 20.7L74.4 20.3L76.2 19.5L77.2 19L77.9 18.6L79.6 17.7L80.4 17.3L81.4 16.7L83.1 15.7L83.4 15.5L84.8 14.7L86.3 13.8L86.6 13.6L88.3 12.6L89 12.1L90 11.5L91.7 10.4L91.8 10.3L93.5 9.2L94.4 8.6L95.2 8.1L97 7L97 6.9L98.7 5.9L99.8 5.2L100.4 4.7L102.1 3.6L102.4 3.5L103.9 2.5L105 1.7L105.6 1.3L107.3 0L107.3 -0L109.1 -1.4L109.5 -1.7L110.8 -2.8L111.7 -3.5L112.5 -4.1L113.9 -5.2L114.3 -5.4L116 -6.6L116.5 -6.9L116 -6.9L114.3 -6.9L112.5 -6.9L110.8 -6.9L109.1 -6.9L107.3 -6.9L106.9 -6.9L105.6 -5.7L105 -5.2L103.9 -4.2L103 -3.5L102.1 -2.7L100.9 -1.7L100.4 -1.3L98.7 -0L98.7 0L97 1.2L96.2 1.7L95.2 2.4L93.6 3.5L93.5 3.5L91.8 4.7L91 5.2L90 5.8L88.3 6.9L88.2 6.9L86.6 7.9L85.4 8.6L84.8 9L83.1 10L82.4 10.4L81.4 10.9L79.6 11.9L79.3 12.1L77.9 12.9L76.3 13.8L76.2 13.9L74.4 15L73.7 15.5L72.7 16.2L71.4 17.3L71 17.5L69.2 18.5L68.3 19L67.5 19.3L65.8 20.1L64.8 20.7L64.1 21.1L62.3 22L61 22.4L60.6 22.5L58.9 22.7L57.1 22.9L55.4 23.2L53.7 23.6L51.9 24.1L51.8 24.2L50.2 24.7L48.5 25.5L47.9 25.9L46.7 26.6L45.3 27.6L45 27.8L43.3 29.2L43.1 29.3L41.5 30.4L39.8 30.9L38.1 30.9L36.4 30.8L34.6 30.8L32.9 31.1L32.9 31.1L31.2 31.5L29.4 32L27.7 32.7L27.6 32.8L26 33.5L24.2 34.4L23.9 34.5L22.5 35.1L20.8 35.7L19 36L17.3 36L15.6 36L13.8 36L12.1 36L10.4 35.9L8.7 35.8L6.9 35.7L5.2 35.6L3.5 35.4L1.7 35.3L0 35.2L-1.7 35.2L-3.5 35.3L-5.2 35.3L-6.9 35.5L-6.9 36.2L-6.9 38L-6.9 39.7L-6.9 41.4L-6.9 43.1L-6.9 43.7Z"/>
<path fill="#fcbb44" stroke="#fcbb44" stroke-width="0.3" fill-rule="evenodd" d="M-5.2 139.9L-5.1 139.8L-3.5 138.7L-2.5 138.1L-1.7 137.5L-0.1 136.4L0 136.3L1.7 135L2.3 134.6L3.5 133.8L4.6 132.9L5.2 132.5L6.8 131.2L6.9 131.1L8.7 129.5L8.7 129.4L10.2 127.7L10.4 127.5L11.5 126L12.1 124.9L12.5 124.3L13.3 122.5L13.8 121.1L14 120.8L14.5 119.1L14.9 117.4L15.1 115.6L15.2 113.9L15.1 112.2L15 110.5L14.9 108.7L14.8 107L14.9 105.3L15.1 103.6L15.6 102L15.6 101.8L16.6 100.1L17.3 99.3L18.2 98.4L19 97.7L20.8 96.7L20.8 96.7L22.5 96.1L24.2 95.7L26 95.4L27.7 95.1L29 94.9L29.4 94.9L31.2 94.6L32.9 94.3L34.6 93.9L36.4 93.5L37.8 93.2L38.1 93.2L39.8 92.8L41.5 92.5L43.3 92.1L45 91.8L46.5 91.5L46.7 91.4L48.5 91.1L50.2 90.8L51.9 90.5L53.7 90.2L55.4 90L57.1 89.8L57.5 89.8L58.9 89.6L60.6 89.4L62.3 89.2L64.1 88.9L65.8 88.7L67.5 88.6L69.2 88.5L71 88.4L72.7 88.4L74.4 88.4L76.2 88.5L77.9 88.6L79.6 88.7L81.4 88.8L83.1 88.8L84.8 88.8L86.6 88.8L88.3 88.7L90 88.6L91.8 88.5L93.5 88.4L95.2 88.4L97 88.4L98.7 88.5L100.4 88.5L102.1 88.6L103.9 88.6L105.6 88.7L107.3 88.8L109.1 88.9L110.8 89.1L112.5 89.3L114.3 89.5L116 89.7L116.9 89.8L117.7 89.8L119.5 89.9L121.2 90L122.9 90.1L124.6 90.1L126.4 90.1L128.1 90L129.8 90L131.6 89.9L133.3 89.9L135 89.8L136.8 89.8L138.5 89.9L140.2 89.8L140.8 89.8L142 89.5L143.7 88.9L145.4 88.4L147 88L147.2 88L148.9 87.8L150.6 87.7L152.3 87.9L153 88L154.1 88.2L155.8 88.5L157.5 88.8L159.3 88.8L161 88.2L161.5 88L162.7 87.4L164.5 86.8L166.2 86.5L167.9 86.5L169.7 86.6L171.4 86.9L173.1 87.3L174.9 87.8L176.6 87.9L178.3 87.2L180 86.4L180.2 86.3L181.8 85.3L183.3 84.6L183.5 84.5L185.2 83.8L187 83.5L188.7 83.7L190.4 84.5L190.6 84.6L192.2 85.8L192.6 86.3L193.9 87.6L194.4 88L195.6 88.9L196.6 89.8L197.4 90.4L198.6 91.5L199.1 91.9L200.8 93.2L200.8 93.2L202.6 93.9L204.3 94.6L205 94.9L206 95.4L207.8 96.3L208.4 96.7L209.5 97.2L211.2 98L212.9 98.2L214.7 98.2L216.4 98.1L218.1 97.9L219.9 97.7L221.6 97.5L223.3 97.3L225.1 97.2L226.8 97.1L228.5 97L230.3 96.8L231.2 96.7L232 96.5L233.7 96.3L235.4 96.1L237.2 95.9L238.9 95.8L240.6 95.8L242.4 95.7L244.1 95.5L245.8 95.2L246.7 94.9L247.6 94.7L249.3 94.2L251 93.7L252.8 93.2L252.8 93.2L254.5 92.7L256.2 92.3L258 91.9L259.7 91.5L259.7 91.5L261.4 91.2L263.1 90.9L264.9 90.7L266.6 90.5L268.3 90.3L270.1 90.2L271.8 90.1L273.5 89.9L275.3 89.8L277 89.8L278.7 89.9L280.5 90.2L282.2 90.5L283.9 90.7L283.9 89.8L283.9 88L283.9 86.3L283.9 84.6L283.9 83.1L282.2 83.4L280.5 83.7L278.7 84L277 84.2L275.3 83.9L273.5 83.6L271.8 83.2L270.1 82.8L270.1 82.8L268.3 82.5L266.6 82.2L264.9 82L263.1 81.8L261.4 81.7L259.7 81.7L258 81.7L256.2 81.8L254.5 81.7L252.8 81.6L251 81.3L249.9 81.1L249.3 81L247.6 80.4L245.8 79.4L245.8 79.4L244.3 77.7L244.1 77.4L243.3 75.9L242.6 74.2L242.4 73.6L242 72.5L241.3 70.8L240.6 69L240.6 69L240 67.3L239.1 65.6L238.9 65.3L237.6 63.9L237.2 63.6L235.4 62.6L233.7 62.1L232 62.4L230.3 62.8L228.5 63.3L226.8 63.8L226.5 63.9L225.1 64.4L223.3 65L221.6 65.5L221.4 65.6L219.9 66L218.1 66.3L216.4 66.5L214.7 66.6L212.9 66.7L211.2 67L210.5 67.3L209.5 67.8L207.8 68.8L207.3 69L206 69.8L204.3 70.4L202.6 70.8L202.6 70.8L200.8 70.9L199.7 70.8L199.1 70.7L197.4 70.4L195.6 70L193.9 69.9L192.2 70.3L190.9 70.8L190.4 71L188.7 71.9L187.4 72.5L187 72.7L185.2 73.3L183.5 73.6L181.8 73.6L180 73.3L178.3 72.8L177.5 72.5L176.6 72.3L174.9 72.4L174.2 72.5L173.1 72.9L171.4 73.6L169.7 74.2L169.7 74.2L167.9 74.8L166.2 75.1L164.5 75.3L162.7 75.2L161 75.1L159.3 75L157.5 75.3L155.8 75.8L155.4 75.9L154.1 76.5L152.3 77L150.6 77.4L148.9 77.6L147.2 77.6L145.4 77.6L143.7 77.6L142 77.6L141.6 77.7L140.2 78L138.5 78.6L136.8 79.2L136.2 79.4L135 79.8L133.3 80.2L131.6 80.5L129.8 80.7L128.1 80.8L126.4 80.8L124.6 80.8L122.9 80.8L121.2 80.8L119.5 80.8L117.7 80.8L116 80.8L114.3 80.7L112.5 80.6L110.8 80.5L109.1 80.4L107.3 80.3L105.6 80.2L103.9 80.1L102.1 80.1L100.4 80L98.7 80L97 80L95.2 80.1L93.5 80.1L91.8 80.1L90 80.1L88.3 80.1L86.6 80.1L84.8 80.1L83.1 80L81.4 79.9L79.6 79.7L77.9 79.5L76.7 79.4L76.2 79.3L74.4 79.1L72.7 79L71 78.8L69.2 78.7L67.5 78.8L65.8 78.9L64.1 79.1L62.3 79.3L61.6 79.4L60.6 79.5L58.9 79.7L57.1 79.9L55.4 80.1L53.7 80.2L51.9 80.3L50.2 80.3L48.5 80.3L46.7 80.2L45 80.1L43.3 80L41.5 79.8L39.8 79.5L39 79.4L38.1 79.2L36.4 79L34.6 78.7L32.9 78.6L31.2 78.6L29.4 78.6L27.7 78.7L26 78.7L24.2 78.9L22.5 79L20.8 79.1L19 79.3L17.3 79.4L17.3 79.4L15.6 79.4L13.8 79.4L13.8 79.4L12.1 79.3L10.4 79.2L8.7 79.1L6.9 78.9L5.2 78.6L3.5 78.3L1.7 78L0 77.7L-0.1 77.7L-1.7 77.6L-3.5 77.6L-5.2 77.5L-6.9 77.4L-6.9 77.7L-6.9 79.4L-6.9 81.1L-6.9 82.8L-6.9 84.6L-6.9 86.3L-6.9 88L-6.9 89.8L-6.9 91.5L-6.9 93.2L-6.9 94.9L-6.9 96.7L-6.9 98.4L-6.9 100.1L-6.9 101.8L-6.9 103.6L-6.9 105.3L-6.9 107L-6.9 108.7L-6.9 110.5L-6.9 112.2L-6.9 113.9L-6.9 115.6L-6.9 117.4L-6.9 119.1L-6.9 120.8L-6.9 122.5L-6.9 124.3L-6.9 126L-6.9 127.7L-6.9 129.4L-6.9 131.2L-6.9 132.9L-6.9 134.6L-6.9 136.4L-6.9 138.1L-6.9 139.8L-6.9 141ZM-5.2 54.2L-3.5 53.5L-3.4 53.5L-1.7 53L0 52.5L1.7 52L2.3 51.8L3.5 51.5L5.2 51L6.9 50.6L8.7 50.2L9.1 50.1L10.4 49.7L12.1 49.2L13.9 48.7L14.8 48.3L15.6 48.1L17.3 47.4L19 46.8L19.5 46.6L20.8 46.1L22.5 45.5L24.2 44.9L24.5 44.9L26 44.4L27.7 43.9L29.4 43.3L29.8 43.1L31.2 42.7L32.9 42.1L34.6 41.6L35.3 41.4L36.4 41.2L38.1 40.8L39.8 40.5L41.5 40.1L43 39.7L43.3 39.6L45 39L46.7 38L46.8 38L48.5 37L49.9 36.2L50.2 36.1L51.9 35.4L53.7 34.8L54.6 34.5L55.4 34.3L57.1 33.9L58.9 33.4L60.6 33L61.2 32.8L62.3 32.4L64.1 31.7L65.8 31.1L65.8 31.1L67.5 30.5L69.2 29.8L70.3 29.3L71 29L72.7 27.9L73.2 27.6L74.4 26.9L76.2 25.9L76.2 25.9L77.9 25.1L79.6 24.2L79.7 24.2L81.4 23.3L82.9 22.4L83.1 22.4L84.8 21.4L85.9 20.7L86.6 20.3L88.3 19.1L88.5 19L90 18L91 17.3L91.8 16.7L93.3 15.5L93.5 15.4L95.2 14.2L95.7 13.8L96.9 12.9L98.2 12.1L98.7 11.8L100.4 10.6L100.9 10.4L102.1 9.6L103.8 8.6L103.9 8.6L105.6 7.6L106.8 6.9L107.3 6.6L109.1 5.6L109.7 5.2L110.8 4.5L112.4 3.5L112.5 3.4L114.3 2.2L115 1.7L116 1.1L117.7 0L117.7 0L119.5 -0.8L121.2 -1.5L122 -1.7L122.9 -2L124.6 -2.5L126.4 -3L128.1 -3.4L128.6 -3.5L129.8 -3.7L131.6 -4L133.3 -4.3L135 -4.5L136.8 -4.8L138.5 -5L139.8 -5.2L140.2 -5.2L142 -5.4L143.7 -5.6L145.4 -5.8L147.2 -6L148.9 -6.2L150.6 -6.4L152.3 -6.6L154.1 -6.8L155 -6.9L154.1 -6.9L152.3 -6.9L150.6 -6.9L148.9 -6.9L147.2 -6.9L145.4 -6.9L143.7 -6.9L142 -6.9L140.2 -6.9L138.5 -6.9L136.8 -6.9L135 -6.9L133.3 -6.9L131.6 -6.9L129.8 -6.9L128.1 -6.9L126.4 -6.9L124.6 -6.9L122.9 -6.9L121.2 -6.9L119.5 -6.9L117.7 -6.9L116.5 -6.9L116 -6.6L114.3 -5.4L113.9 -5.2L112.5 -4.1L111.7 -3.5L110.8 -2.8L109.5 -1.7L109.1 -1.4L107.3 -0L107.3 0L105.6 1.3L105 1.7L103.9 2.5L102.4 3.5L102.1 3.6L100.4 4.7L99.8 5.2L98.7 5.9L97 6.9L97 7L95.2 8.1L94.4 8.6L93.5 9.2L91.8 10.3L91.7 10.4L90 11.5L89 12.1L88.3 12.6L86.6 13.6L86.3 13.8L84.8 14.7L83.4 15.5L83.1 15.7L81.4 16.7L80.4 17.3L79.6 17.7L77.9 18.6L77.2 19L76.2 19.5L74.4 20.3L73.5 20.7L72.7 21.1L71 21.8L69.9 22.4L69.2 22.9L67.5 24L67.1 24.2L65.8 24.8L64.1 25.4L62.3 25.7L61.6 25.9L60.6 26.1L58.9 26.8L57.1 27.3L56 27.6L55.4 27.8L53.7 28.4L51.9 28.9L50.7 29.3L50.2 29.5L48.5 30.4L47.6 31.1L46.7 31.7L45.3 32.8L45 33L43.3 34L41.9 34.5L41.5 34.6L39.8 34.9L38.1 35L36.4 34.9L34.6 35L32.9 35.6L31.2 36.2L31.1 36.2L29.4 37L27.7 37.7L27.1 38L26 38.4L24.2 39L22.5 39.4L20.8 39.6L20.5 39.7L19 40.1L17.3 40.6L15.6 41L13.9 41.3L13 41.4L12.1 41.6L10.4 41.8L8.7 42L6.9 42.1L5.2 42.2L3.5 42.3L1.7 42.3L0 42.5L-1.7 42.7L-3.5 43L-4.4 43.1L-5.2 43.3L-6.9 43.7L-6.9 44.9L-6.9 46.6L-6.9 48.3L-6.9 50.1L-6.9 51.8L-6.9 53.5L-6.9 55Z"/>
<path fill="#fba61f" stroke="#fba61f" stroke-width="0.3" fill-rule="evenodd" d="M271.8 83.2L273.5 83.6L275.3 83.9L277 84.2L278.7 84L280.5 83.7L282.2 83.4L283.9 83.1L283.9 82.8L283.9 81.1L283.9 79.4L283.9 77.7L283.9 75.9L283.9 74.2L283.9 72.5L283.9 70.8L283.9 69L283.9 67.3L283.9 65.6L283.9 63.9L283.9 62.1L283.9 60.9L283.2 60.4L282.2 59.8L280.5 58.8L280.2 58.7L278.7 58L277 57.3L276 57L275.3 56.7L273.5 56.2L271.8 55.7L270.3 55.2L270.1 55.2L268.3 54.6L266.6 54L265.3 53.5L264.9 53.4L263.1 52.8L261.4 52.2L259.7 51.8L259.7 51.8L258 51.7L256.2 51.8L256 51.8L254.5 52L252.8 52.2L251 52.6L249.3 52.9L247.6 53.2L246.2 53.5L245.8 53.6L244.1 53.9L242.4 54.2L240.6 54.4L238.9 54.7L237.2 55L235.7 55.2L235.4 55.3L233.7 55.6L232 56L230.3 56.5L228.9 57L228.5 57.1L226.8 57.7L225.1 58.4L224.5 58.7L223.3 59.2L221.6 59.9L220.4 60.4L219.9 60.6L218.1 61.2L216.4 61.6L214.7 61.9L213.3 62.1L212.9 62.2L211.2 62.5L209.5 63L207.8 63.6L207.3 63.9L206 64.4L204.3 65.2L203.3 65.6L202.6 65.9L200.8 66.2L199.1 66.3L197.4 66.2L195.6 66L193.9 65.9L192.2 65.9L190.4 66.3L188.7 66.9L187.8 67.3L187 67.7L185.2 68.5L183.7 69L183.5 69.1L181.8 69.5L180 69.6L178.3 69.5L176.6 69.2L175 69L174.9 69L173.1 69L172.4 69L171.4 69.1L169.7 69.4L167.9 69.8L166.2 70.3L164.5 70.7L164.2 70.8L162.7 71.1L161 71.4L159.3 71.6L157.5 71.8L155.8 72L154.1 72.2L152.3 72.3L150.6 72.4L148.9 72.5L148.1 72.5L147.2 72.5L145.4 72.6L143.7 72.7L142 72.9L140.2 73.2L138.5 73.5L136.8 73.8L135 74.1L134 74.2L133.3 74.3L131.6 74.5L129.8 74.5L128.1 74.6L126.4 74.5L124.6 74.5L122.9 74.4L121.2 74.3L119.5 74.2L119.1 74.2L117.7 74.1L116 74L114.3 73.8L112.5 73.6L110.8 73.4L109.1 73.3L107.3 73.1L105.6 73L103.9 72.9L102.1 72.9L100.4 72.9L98.7 72.9L97 72.9L95.2 72.9L93.5 72.9L91.8 73L90 73L88.3 73L86.6 72.9L84.8 72.9L83.1 72.7L81.4 72.6L80.4 72.5L79.6 72.4L77.9 72.2L76.2 72L74.4 71.8L72.7 71.6L71 71.5L69.2 71.4L67.5 71.3L65.8 71.3L64.1 71.4L62.3 71.5L60.6 71.6L58.9 71.7L57.1 71.9L55.4 72L53.7 72L51.9 72L50.2 71.9L48.5 71.7L46.7 71.5L45 71.1L43.8 70.8L43.3 70.6L41.5 70L39.8 69.3L39.2 69L38.1 68.4L36.4 67.5L36 67.3L34.6 66.4L33.4 65.6L32.9 65.1L31.4 63.9L31.2 63.5L30.1 62.1L29.4 60.4L29.4 59.7L29.4 58.7L29.4 58.7L30 57L31.2 55.3L31.2 55.2L32.9 53.6L32.9 53.5L34.6 52.3L35.4 51.8L36.4 51.2L38.1 50.4L38.9 50.1L39.8 49.7L41.5 49.2L43.3 48.9L45 48.6L46.7 48.5L48.5 48.5L50.2 48.5L51.9 48.3L51.9 48.3L53.7 47.2L54.5 46.6L55.4 45.9L56.6 44.9L57.1 44.5L58.9 43.4L59.2 43.1L60.6 42.4L62.3 41.6L62.7 41.4L64.1 40.9L65.8 40.2L67.2 39.7L67.5 39.6L69.2 38.9L71 38.3L71.7 38L72.7 37.6L74.4 36.8L75.6 36.2L76.2 36L77.9 35.1L78.9 34.5L79.6 34.1L81.4 33.1L81.9 32.8L83.1 32.1L84.7 31.1L84.8 31L86.6 29.9L87.3 29.3L88.3 28.7L89.7 27.6L90 27.4L91.8 26L91.9 25.9L93.5 24.5L93.8 24.2L95.2 22.9L95.7 22.4L97 21.3L97.5 20.7L98.7 19.6L99.3 19L100.4 18L101.3 17.3L102.1 16.6L103.8 15.5L103.9 15.5L105.6 14.6L107.3 13.9L107.6 13.8L109.1 13.3L110.8 12.6L112.4 12.1L112.5 12L114.3 11.4L116 10.8L117.5 10.4L117.7 10.3L119.5 9.8L121.2 9.4L122.9 9L124.6 8.8L126.1 8.6L126.4 8.6L128.1 8.5L129.8 8.5L131.6 8.5L133.3 8.5L135 8.5L136.8 8.5L138.5 8.5L140.2 8.4L142 8.4L143.7 8.3L145.4 8.2L147.2 8L148.9 7.8L150.6 7.6L152.3 7.3L154.1 7.1L155.8 6.9L155.8 6.9L157.5 6.7L159.3 6.6L161 6.5L162.7 6.3L164.5 6.1L166.2 5.9L167.9 5.7L169.7 5.5L171.4 5.3L172.7 5.2L173.1 5.1L174.9 4.9L176.6 4.7L178.3 4.5L180 4.3L181.8 4.1L183.5 4L185.2 3.8L187 3.6L188.7 3.5L189.2 3.5L190.4 3.4L192.2 3.2L193.9 3.1L195.6 3L197.4 2.9L199.1 2.8L200.8 2.7L202.6 2.7L204.3 2.6L206 2.6L207.8 2.6L209.5 2.7L211.2 2.8L212.9 2.9L214.7 3.1L216.4 3.2L218.1 3.4L218.3 3.5L219.9 3.6L221.6 3.8L223.3 4L225.1 4.2L226.8 4.3L228.5 4.4L230.3 4.4L232 4.3L233.7 4.1L235.4 3.8L236.6 3.5L237.2 3.3L238.9 2.7L240.6 1.9L240.9 1.7L242.4 0.9L243.9 0L244.1 -0.1L245.8 -1.3L246.4 -1.7L247.6 -2.5L248.8 -3.5L249.3 -3.8L251 -5.1L251.1 -5.2L252.8 -6.5L253.3 -6.9L252.8 -6.9L251 -6.9L249.3 -6.9L247.6 -6.9L245.8 -6.9L244.1 -6.9L242.4 -6.9L240.6 -6.9L238.9 -6.9L237.2 -6.9L235.4 -6.9L233.7 -6.9L232 -6.9L230.3 -6.9L228.5 -6.9L226.8 -6.9L225.1 -6.9L223.3 -6.9L221.6 -6.9L219.9 -6.9L218.1 -6.9L216.4 -6.9L214.7 -6.9L212.9 -6.9L211.2 -6.9L209.5 -6.9L207.8 -6.9L206 -6.9L204.3 -6.9L202.6 -6.9L200.8 -6.9L199.1 -6.9L197.4 -6.9L195.6 -6.9L193.9 -6.9L192.2 -6.9L190.4 -6.9L188.7 -6.9L187 -6.9L185.2 -6.9L183.5 -6.9L181.8 -6.9L180 -6.9L178.3 -6.9L176.6 -6.9L174.9 -6.9L173.1 -6.9L171.4 -6.9L169.7 -6.9L167.9 -6.9L166.2 -6.9L164.5 -6.9L162.7 -6.9L161 -6.9L159.3 -6.9L157.5 -6.9L155.8 -6.9L155 -6.9L154.1 -6.8L152.3 -6.6L150.6 -6.4L148.9 -6.2L147.2 -6L145.4 -5.8L143.7 -5.6L142 -5.4L140.2 -5.2L139.8 -5.2L138.5 -5L136.8 -4.8L135 -4.5L133.3 -4.3L131.6 -4L129.8 -3.7L128.6 -3.5L128.1 -3.4L126.4 -3L124.6 -2.5L122.9 -2L122 -1.7L121.2 -1.5L119.5 -0.8L117.7 0L117.7 0L116 1.1L115 1.7L114.3 2.2L112.5 3.4L112.4 3.5L110.8 4.5L109.7 5.2L109.1 5.6L107.3 6.6L106.8 6.9L105.6 7.6L103.9 8.6L103.8 8.6L102.1 9.6L100.9 10.4L100.4 10.6L98.7 11.8L98.2 12.1L97 12.9L95.7 13.8L95.2 14.2L93.5 15.4L93.3 15.5L91.8 16.7L91 17.3L90 18L88.5 19L88.3 19.1L86.6 20.3L85.9 20.7L84.8 21.4L83.1 22.4L82.9 22.4L81.4 23.3L79.7 24.2L79.6 24.2L77.9 25.1L76.2 25.9L76.2 25.9L74.4 26.9L73.2 27.6L72.7 27.9L71 29L70.3 29.3L69.2 29.8L67.5 30.5L65.8 31.1L65.8 31.1L64.1 31.7L62.3 32.4L61.2 32.8L60.6 33L58.9 33.4L57.1 33.9L55.4 34.3L54.6 34.5L53.7 34.8L51.9 35.4L50.2 36.1L49.9 36.2L48.5 37L46.8 38L46.7 38L45 39L43.3 39.6L43 39.7L41.5 40.1L39.8 40.5L38.1 40.8L36.4 41.2L35.3 41.4L34.6 41.6L32.9 42.1L31.2 42.7L29.8 43.1L29.4 43.3L27.7 43.9L26 44.4L24.5 44.9L24.2 44.9L22.5 45.5L20.8 46.1L19.5 46.6L19 46.8L17.3 47.4L15.6 48.1L14.8 48.3L13.9 48.7L12.1 49.2L10.4 49.7L9.1 50.1L8.7 50.2L6.9 50.6L5.2 51L3.5 51.5L2.3 51.8L1.7 52L0 52.5L-1.7 53L-3.4 53.5L-3.5 53.5L-5.2 54.2L-6.9 55L-6.9 55.2L-6.9 57L-6.9 58.7L-6.9 60.4L-6.9 62.1L-6.9 63.9L-6.9 65.6L-6.9 67.3L-6.9 69L-6.9 70.8L-6.9 72.5L-6.9 74.2L-6.9 75.9L-6.9 77.4L-5.2 77.5L-3.5 77.6L-1.7 77.6L-0.1 77.7L0 77.7L1.7 78L3.5 78.3L5.2 78.6L6.9 78.9L8.7 79.1L10.4 79.2L12.1 79.3L13.8 79.4L13.8 79.4L15.6 79.4L17.3 79.4L17.3 79.4L19 79.3L20.8 79.1L22.5 79L24.2 78.9L26 78.7L27.7 78.7L29.4 78.6L31.2 78.6L32.9 78.6L34.6 78.7L36.4 79L38.1 79.2L39 79.4L39.8 79.5L41.5 79.8L43.3 80L45 80.1L46.7 80.2L48.5 80.3L50.2 80.3L51.9 80.3L53.7 80.2L55.4 80.1L57.1 79.9L58.9 79.7L60.6 79.5L61.6 79.4L62.3 79.3L64.1 79.1L65.8 78.9L67.5 78.8L69.2 78.7L71 78.8L72.7 79L74.4 79.1L76.2 79.3L76.7 79.4L77.9 79.5L79.6 79.7L81.4 79.9L83.1 80L84.8 80.1L86.6 80.1L88.3 80.1L90 80.1L91.8 80.1L93.5 80.1L95.2 80.1L97 80L98.7 80L100.4 80L102.1 80.1L103.9 80.1L105.6 80.2L107.3 80.3L109.1 80.4L110.8 80.5L112.5 80.6L114.3 80.7L116 80.8L117.7 80.8L119.5 80.8L121.2 80.8L122.9 80.8L124.6 80.8L126.4 80.8L128.1 80.8L129.8 80.7L131.6 80.5L133.3 80.2L135 79.8L136.2 79.4L136.8 79.2L138.5 78.6L140.2 78L141.6 77.7L142 77.6L143.7 77.6L145.4 77.6L147.2 77.6L148.9 77.6L150.6 77.4L152.3 77L154.1 76.5L155.4 75.9L155.8 75.8L157.5 75.3L159.3 75L161 75.1L162.7 75.2L164.5 75.3L166.2 75.1L167.9 74.8L169.7 74.2L169.7 74.2L171.4 73.6L173.1 72.9L174.2 72.5L174.9 72.4L176.6 72.3L177.5 72.5L178.3 72.8L180 73.3L181.8 73.6L183.5 73.6L185.2 73.3L187 72.7L187.4 72.5L188.7 71.9L190.4 71L190.9 70.8L192.2 70.3L193.9 69.9L195.6 70L197.4 70.4L199.1 70.7L199.7 70.8L200.8 70.9L202.6 70.8L202.6 70.8L204.3 70.4L206 69.8L207.3 69L207.8 68.8L209.5 67.8L210.5 67.3L211.2 67L212.9 66.7L214.7 66.6L216.4 66.5L218.1 66.3L219.9 66L221.4 65.6L221.6 65.5L223.3 65L225.1 64.4L226.5 63.9L226.8 63.8L228.5 63.3L230.3 62.8L232 62.4L233.7 62.1L235.4 62.6L237.2 63.6L237.6 63.9L238.9 65.3L239.1 65.6L240 67.3L240.6 69L240.6 69L241.3 70.8L242 72.5L242.4 73.6L242.6 74.2L243.3 75.9L244.1 77.4L244.3 77.7L245.8 79.4L245.8 79.4L247.6 80.4L249.3 81L249.9 81.1L251 81.3L252.8 81.6L254.5 81.7L256.2 81.8L258 81.7L259.7 81.7L261.4 81.7L263.1 81.8L264.9 82L266.6 82.2L268.3 82.5L270.1 82.8L270.1 82.8Z"/>
<path fill="#faa11b" stroke="#faa11b" stroke-width="0.3" fill-rule="evenodd" d="M119.5 74.2L121.2 74.3L122.9 74.4L124.6 74.5L126.4 74.5L128.1 74.6L129.8 74.5L131.6 74.5L133.3 74.3L134 74.2L135 74.1L136.8 73.8L138.5 73.5L140.2 73.2L142 72.9L143.7 72.7L145.4 72.6L147.2 72.5L148.1 72.5L148.9 72.5L150.6 72.4L152.4 72.3L154.1 72.2L155.8 72L157.5 71.8L159.3 71.6L161 71.4L162.7 71.1L164.2 70.8L164.5 70.7L166.2 70.3L167.9 69.8L169.7 69.4L171.4 69.1L172.4 69L173.1 69L174.9 69L175 69L176.6 69.2L178.3 69.5L180 69.6L181.8 69.5L183.5 69.1L183.7 69L185.2 68.5L187 67.7L187.8 67.3L188.7 66.9L190.4 66.3L192.2 65.9L193.9 65.9L195.6 66L197.4 66.2L199.1 66.3L200.8 66.2L202.6 65.9L203.3 65.6L204.3 65.2L206 64.4L207.3 63.9L207.8 63.6L209.5 63L211.2 62.5L212.9 62.2L213.3 62.1L214.7 61.9L216.4 61.6L218.1 61.2L219.9 60.6L220.4 60.4L221.6 59.9L223.3 59.2L224.5 58.7L225.1 58.4L226.8 57.7L228.5 57.1L228.9 57L230.3 56.5L232 56L233.7 55.6L235.4 55.3L235.7 55.2L237.2 55L238.9 54.7L240.6 54.4L242.4 54.2L244.1 53.9L245.8 53.6L246.2 53.5L247.6 53.2L249.3 52.9L251 52.6L252.8 52.2L254.5 52L256 51.8L256.2 51.8L258 51.7L259.7 51.8L259.7 51.8L261.4 52.2L263.1 52.8L264.9 53.4L265.3 53.5L266.6 54L268.3 54.6L270.1 55.2L270.3 55.2L271.8 55.7L273.5 56.2L275.3 56.7L276 57L277 57.3L278.7 58L280.2 58.7L280.5 58.8L282.2 59.8L283.2 60.4L283.9 60.9L283.9 60.4L283.9 58.7L283.9 57L283.9 55.2L283.9 53.5L283.9 51.8L283.9 50.1L283.9 48.3L283.9 46.6L283.9 44.9L283.9 43.1L283.9 41.9L282.2 41.4L282.2 41.4L280.5 40.9L278.7 40.2L277.6 39.7L277 39.4L275.3 38.2L275 38L273.5 36.3L273.5 36.2L272.6 34.5L272.2 32.8L272.2 31.1L272.5 29.3L273.1 27.6L273.5 26.7L273.9 25.9L274.8 24.2L275.3 23.1L275.6 22.4L276.5 20.7L277 19.7L277.4 19L278.2 17.3L278.7 16.3L279.1 15.5L280.1 13.8L280.5 13.2L281.1 12.1L282.2 10.5L282.3 10.4L283.6 8.6L283.9 8.3L283.9 6.9L283.9 5.2L283.9 3.5L283.9 1.7L283.9 0L283.9 -1.7L283.9 -3.5L283.9 -5.2L283.9 -6.9L282.2 -6.9L280.5 -6.9L278.7 -6.9L277 -6.9L275.3 -6.9L273.5 -6.9L271.8 -6.9L270.1 -6.9L268.3 -6.9L266.6 -6.9L264.9 -6.9L263.1 -6.9L261.4 -6.9L259.7 -6.9L258 -6.9L256.2 -6.9L254.5 -6.9L253.3 -6.9L252.8 -6.5L251.1 -5.2L251 -5.1L249.3 -3.8L248.8 -3.5L247.6 -2.5L246.4 -1.7L245.8 -1.3L244.1 -0.1L243.9 0L242.4 0.9L240.9 1.7L240.6 1.9L238.9 2.7L237.2 3.3L236.6 3.5L235.4 3.8L233.7 4.1L232 4.3L230.3 4.4L228.5 4.4L226.8 4.3L225.1 4.2L223.3 4L221.6 3.8L219.9 3.6L218.3 3.5L218.1 3.4L216.4 3.2L214.7 3.1L212.9 2.9L211.2 2.8L209.5 2.7L207.8 2.6L206 2.6L204.3 2.6L202.6 2.7L200.8 2.7L199.1 2.8L197.4 2.9L195.6 3L193.9 3.1L192.2 3.2L190.4 3.4L189.2 3.5L188.7 3.5L187 3.6L185.2 3.8L183.5 4L181.8 4.1L180 4.3L178.3 4.5L176.6 4.7L174.9 4.9L173.1 5.1L172.7 5.2L171.4 5.3L169.7 5.5L167.9 5.7L166.2 5.9L164.5 6.1L162.7 6.3L161 6.5L159.3 6.6L157.5 6.7L155.8 6.9L155.8 6.9L154.1 7.1L152.3 7.3L150.6 7.6L148.9 7.8L147.2 8L145.4 8.2L143.7 8.3L142 8.4L140.2 8.4L138.5 8.5L136.8 8.5L135 8.5L133.3 8.5L131.6 8.5L129.8 8.5L128.1 8.5L126.4 8.6L126.1 8.6L124.6 8.8L122.9 9L121.2 9.4L119.5 9.8L117.7 10.3L117.5 10.4L116 10.8L114.3 11.4L112.5 12L112.4 12.1L110.8 12.6L109.1 13.3L107.6 13.8L107.3 13.9L105.6 14.6L103.9 15.5L103.8 15.5L102.1 16.6L101.3 17.3L100.4 18L99.3 19L98.7 19.6L97.5 20.7L97 21.3L95.7 22.4L95.2 22.9L93.8 24.2L93.5 24.5L91.9 25.9L91.8 26L90 27.4L89.7 27.6L88.3 28.7L87.3 29.3L86.6 29.9L84.8 31L84.7 31.1L83.1 32.1L81.9 32.8L81.4 33.1L79.6 34.1L78.9 34.5L77.9 35.1L76.2 36L75.6 36.2L74.4 36.8L72.7 37.6L71.7 38L71 38.3L69.2 38.9L67.5 39.6L67.2 39.7L65.8 40.2L64.1 40.9L62.7 41.4L62.3 41.6L60.6 42.4L59.2 43.1L58.9 43.4L57.1 44.5L56.6 44.9L55.4 45.9L54.5 46.6L53.7 47.2L51.9 48.3L51.9 48.3L50.2 48.5L48.5 48.5L46.7 48.5L45 48.6L43.3 48.9L41.5 49.2L39.8 49.7L38.9 50.1L38.1 50.4L36.4 51.2L35.4 51.8L34.6 52.3L32.9 53.5L32.9 53.6L31.2 55.2L31.2 55.3L30 57L29.4 58.7L29.4 58.7L29.4 59.7L29.4 60.4L30.1 62.1L31.2 63.5L31.4 63.9L32.9 65.1L33.4 65.6L34.6 66.4L36 67.3L36.4 67.5L38.1 68.4L39.2 69L39.8 69.3L41.5 70L43.3 70.6L43.8 70.8L45 71.1L46.7 71.5L48.5 71.7L50.2 71.9L51.9 72L53.7 72L55.4 72L57.1 71.9L58.9 71.7L60.6 71.6L62.3 71.5L64.1 71.4L65.8 71.3L67.5 71.3L69.2 71.4L71 71.5L72.7 71.6L74.4 71.8L76.2 72L77.9 72.2L79.6 72.4L80.4 72.5L81.4 72.6L83.1 72.7L84.8 72.9L86.6 72.9L88.3 73L90 73L91.8 73L93.5 72.9L95.2 72.9L97 72.9L98.7 72.9L100.4 72.9L102.1 72.9L103.9 72.9L105.6 73L107.3 73.1L109.1 73.3L110.8 73.4L112.5 73.6L114.3 73.8L116 74L117.7 74.1L119.1 74.2ZM135.2 69L135 69L133.3 68.9L131.6 68.8L129.8 68.6L128.1 68.4L126.4 68.2L124.6 68L122.9 67.8L121.2 67.6L119.8 67.3L119.5 67.2L117.7 66.8L116 66.4L114.3 66L112.5 65.7L112 65.6L110.8 65.3L109.1 65L107.3 64.8L105.6 64.6L103.9 64.4L102.1 64.3L100.4 64.2L98.7 64.1L97 64.1L95.2 64.1L93.5 64.1L91.8 64.2L90 64.4L88.3 64.5L86.6 64.5L84.8 64.4L83.1 64.2L81.4 64L80.6 63.9L79.6 63.7L77.9 63.4L76.2 63.1L74.4 62.8L72.7 62.5L71 62.2L70.6 62.1L69.2 61.8L67.5 61.5L65.8 61.1L64.1 60.9L62.3 60.6L60.6 60.4L58.9 60.5L57.1 60.6L55.4 60.9L53.7 61.1L51.9 61.1L50.2 60.7L49.7 60.4L48.8 58.7L50.2 57.2L51.3 57L51.9 56.9L53.7 56.8L55.4 56.6L57.1 55.9L57.9 55.2L58.9 54.6L60.2 53.5L60.6 53.2L62.3 52.5L64.1 51.9L64.3 51.8L65.8 51.4L67.5 51L69.2 50.5L71 50.2L71.7 50.1L72.7 49.9L74.4 49.7L76.2 49.5L77.9 49.1L79.6 48.6L80.5 48.3L81.4 48.1L83.1 47.5L84.8 47L86.2 46.6L86.6 46.5L88.3 46L90 45.5L91.8 45L92 44.9L93.5 44.3L95.2 43.4L95.7 43.1L97 42.3L98.4 41.4L98.7 41.2L100.4 40.2L101.3 39.7L102.1 39.3L103.9 38.5L105.3 38L105.6 37.8L107.3 37.3L109.1 36.8L110.8 36.4L111.1 36.2L112.5 35.3L113.8 34.5L114.3 34.2L116 33.1L116.5 32.8L117.7 32.2L119.5 31.5L120.9 31.1L121.2 31L122.9 30.6L124.6 30.2L126.4 29.9L128.1 29.5L128.7 29.3L129.8 29L131.6 28.3L133.3 27.6L133.4 27.6L135 27L136.8 26.5L138.5 26L138.8 25.9L140.2 25.5L142 25.1L143.7 24.8L145.4 24.4L146.4 24.2L147.2 23.9L148.9 23.3L150.6 22.7L151.6 22.4L152.3 22.2L154.1 21.7L155.8 21.2L157.5 20.8L158.2 20.7L159.3 20.5L161 20.2L162.7 19.9L164.5 19.5L166.2 19.1L166.6 19L167.9 18.6L169.7 18.2L171.4 17.8L173.1 17.5L174.3 17.3L174.9 17.2L176.6 16.9L178.3 16.6L180 16.4L181.8 16.2L183.5 16L185.2 15.8L187 15.6L187.7 15.5L188.7 15.4L190.4 15.3L192.2 15.3L193.9 15.2L195.6 15.2L197.4 15.2L199.1 15.2L200.8 15.1L202.6 15.1L204.3 15.1L206 15.2L207.8 15.4L208.4 15.5L209.5 15.7L211.2 16.1L212.9 16.6L214.6 17.3L214.7 17.3L216.4 18.1L218.1 19L218.1 19L219.9 19.9L221.3 20.7L221.6 20.9L223.3 22.1L223.7 22.4L225.1 23.7L225.5 24.2L226.8 25.7L227 25.9L228.1 27.6L228.5 28.2L229.2 29.3L230.3 31.1L230.3 31.1L231.9 32.8L232 32.9L233.6 34.5L233.7 34.7L235.1 36.2L235.4 36.8L236.2 38L236.9 39.7L237.2 41.4L237.2 41.4L237.2 41.4L237 43.2L236.5 44.9L235.5 46.6L235.4 46.6L233.7 48.3L233.7 48.3L232 49.2L230.3 50L230.2 50.1L228.5 50.8L226.8 51.6L226.5 51.8L225.1 52.4L223.3 53.3L223 53.5L221.6 54.2L219.9 55.2L219.8 55.2L218.1 56.1L216.4 56.9L216.3 57L214.7 57.4L212.9 57.6L211.2 57.9L209.5 58.2L207.9 58.7L207.8 58.7L206 59.4L204.3 60.3L204 60.4L202.6 61.1L200.8 62L200.4 62.1L199.1 62.4L197.4 62.3L196.6 62.1L195.6 61.9L193.9 61.6L192.2 61.5L190.4 61.7L188.7 62.1L188.6 62.1L187 62.7L185.2 63.7L184.9 63.9L183.5 64.7L182 65.6L181.8 65.7L180 66.3L178.3 66.5L176.6 66.1L174.9 65.6L174.5 65.6L173.1 65.3L171.4 65.1L169.7 65.1L167.9 65.3L166.8 65.6L166.2 65.7L164.5 66.3L162.7 67L162 67.3L161 67.7L159.3 68.3L157.5 68.6L155.8 68.5L154.1 68.3L152.3 68.1L150.6 67.9L148.9 67.8L147.2 67.8L145.4 67.8L143.7 68L142 68.2L140.2 68.6L138.5 68.9L137.3 69L136.8 69.1Z"/>
<path fill="#f7891e" stroke="#f7891e" stroke-width="0.3" fill-rule="evenodd" d="M136.8 69.1L137.3 69L138.5 68.9L140.2 68.6L142 68.2L143.7 68L145.4 67.8L147.2 67.8L148.9 67.8L150.6 67.9L152.3 68.1L154.1 68.3L155.8 68.5L157.5 68.6L159.3 68.3L161 67.7L162 67.3L162.7 67L164.5 66.3L166.2 65.7L166.8 65.6L167.9 65.3L169.7 65.1L171.4 65.1L173.1 65.3L174.5 65.6L174.9 65.6L176.6 66.1L178.3 66.5L180 66.3L181.8 65.7L182 65.6L183.5 64.7L184.9 63.9L185.2 63.7L187 62.7L188.6 62.1L188.7 62.1L190.4 61.7L192.2 61.5L193.9 61.6L195.6 61.9L196.6 62.1L197.4 62.3L199.1 62.4L200.4 62.1L200.8 62L202.6 61.1L204 60.4L204.3 60.3L206 59.4L207.8 58.7L207.9 58.7L209.5 58.2L211.2 57.9L212.9 57.6L214.7 57.4L216.3 57L216.4 56.9L218.1 56.1L219.8 55.2L219.9 55.2L221.6 54.2L223 53.5L223.3 53.3L225.1 52.4L226.5 51.8L226.8 51.6L228.5 50.8L230.2 50.1L230.3 50L232 49.2L233.7 48.3L233.7 48.3L235.4 46.6L235.5 46.6L236.5 44.9L237 43.2L237.2 41.4L237.2 41.4L237.2 41.4L236.9 39.7L236.2 38L235.4 36.8L235.1 36.2L233.7 34.7L233.6 34.5L232 32.9L231.9 32.8L230.3 31.1L230.3 31.1L229.2 29.3L228.5 28.2L228.1 27.6L227 25.9L226.8 25.7L225.5 24.2L225.1 23.7L223.7 22.4L223.3 22.1L221.6 20.9L221.3 20.7L219.9 19.9L218.1 19L218.1 19L216.4 18.1L214.7 17.3L214.6 17.3L212.9 16.6L211.2 16.1L209.5 15.7L208.4 15.5L207.7 15.4L206 15.2L204.3 15.1L202.6 15.1L200.8 15.1L199.1 15.2L197.4 15.2L195.6 15.2L193.9 15.2L192.2 15.3L190.4 15.3L188.7 15.4L187.7 15.5L187 15.6L185.2 15.8L183.5 16L181.8 16.2L180 16.4L178.3 16.6L176.6 16.9L174.9 17.2L174.3 17.3L173.1 17.5L171.4 17.8L169.7 18.2L167.9 18.6L166.6 19L166.2 19.1L164.5 19.5L162.7 19.9L161 20.2L159.3 20.5L158.2 20.7L157.5 20.8L155.8 21.2L154.1 21.7L152.4 22.2L151.6 22.4L150.6 22.7L148.9 23.3L147.2 23.9L146.4 24.2L145.4 24.4L143.7 24.8L142 25.1L140.2 25.5L138.8 25.9L138.5 26L136.8 26.5L135 27L133.4 27.6L133.3 27.6L131.6 28.3L129.8 29L128.7 29.3L128.1 29.5L126.4 29.9L124.6 30.2L122.9 30.6L121.2 31L120.9 31.1L119.5 31.5L117.7 32.2L116.5 32.8L116 33.1L114.3 34.2L113.8 34.5L112.5 35.3L111.1 36.2L110.8 36.4L109.1 36.8L107.3 37.3L105.6 37.8L105.3 38L103.9 38.5L102.1 39.3L101.3 39.7L100.4 40.2L98.7 41.2L98.4 41.4L97 42.3L95.7 43.1L95.2 43.4L93.5 44.3L92 44.9L91.8 45L90 45.5L88.3 46L86.6 46.5L86.2 46.6L84.8 47L83.1 47.5L81.4 48.1L80.5 48.3L79.6 48.6L77.9 49.1L76.2 49.5L74.4 49.7L72.7 49.9L71.7 50.1L71 50.2L69.2 50.5L67.5 51L65.8 51.4L64.3 51.8L64.1 51.9L62.3 52.5L60.6 53.2L60.2 53.5L58.9 54.6L57.9 55.2L57.1 55.9L55.4 56.6L53.7 56.8L51.9 56.9L51.3 57L50.2 57.2L48.8 58.7L49.7 60.4L50.2 60.7L51.9 61.1L53.7 61.1L55.4 60.9L57.1 60.6L58.9 60.5L60.6 60.4L62.3 60.6L64.1 60.9L65.8 61.1L67.5 61.5L69.2 61.8L70.6 62.1L71 62.2L72.7 62.5L74.4 62.8L76.2 63.1L77.9 63.4L79.6 63.7L80.6 63.9L81.4 64L83.1 64.2L84.8 64.4L86.6 64.5L88.3 64.5L90 64.4L91.8 64.2L93.5 64.1L95.2 64.1L97 64.1L98.7 64.1L100.4 64.2L102.1 64.3L103.9 64.4L105.6 64.6L107.3 64.8L109.1 65L110.8 65.3L112 65.6L112.5 65.7L114.3 66L116 66.4L117.7 66.8L119.5 67.2L119.8 67.3L121.2 67.6L122.9 67.8L124.6 68L126.4 68.2L128.1 68.4L129.8 68.6L131.6 68.8L133.3 68.9L135 69L135.2 69ZM134.7 58.7L133.3 58.1L131.6 57.3L131.1 57L129.8 55.9L129.2 55.2L128.4 53.5L128.4 51.8L128.9 50.1L129.8 48.6L130 48.3L131.4 46.6L131.6 46.5L133.2 44.9L133.3 44.8L135 43.3L135.2 43.1L136.8 42L137.5 41.4L138.5 40.8L140.2 39.7L140.2 39.7L142 38.7L143.3 38L143.7 37.7L145.4 36.8L146.4 36.2L147.2 35.9L148.9 35L150 34.5L150.6 34.3L152.3 33.7L154.1 33.2L155.2 32.8L155.8 32.6L157.5 32.1L159.3 31.5L160.6 31.1L161 30.9L162.7 30.4L164.5 29.9L166.2 29.4L166.3 29.3L167.9 28.9L169.7 28.5L171.4 28.1L173.1 27.7L173.7 27.6L174.9 27.4L176.6 27.1L178.3 26.9L180 26.7L181.8 26.5L183.5 26.3L185.2 26.1L187 25.9L187.2 25.9L188.7 25.7L190.4 25.6L192.2 25.5L193.9 25.5L195.6 25.5L197.4 25.5L199.1 25.6L200.8 25.6L202.6 25.7L204.3 25.8L205.6 25.9L206 25.9L207.8 26.1L209.5 26.4L211.2 26.8L212.9 27.3L213.5 27.6L214.7 28.4L215.8 29.3L216.4 30L217.3 31.1L218.1 32.2L218.6 32.8L219.5 34.5L219.9 35.7L220 36.2L220.3 38L220.2 39.7L219.9 41.1L219.8 41.4L218.7 43.1L218.1 43.7L216.7 44.9L216.4 45.1L214.7 45.9L212.9 46.3L211.2 46.5L209.5 46.5L207.8 46.6L207.8 46.6L206 47.3L204.3 48L203.6 48.3L202.6 48.7L200.8 49.3L199.1 49.6L197.4 49.8L195.6 49.9L195.2 50.1L193.9 50.5L192.2 51.3L190.9 51.8L190.4 52L188.7 52.5L187 53L185.2 53.5L185 53.5L183.5 53.8L181.8 54.1L180 54.4L178.3 54.8L177.4 55.2L176.6 55.7L174.9 56.5L173.1 56.9L172.5 57L171.4 57.1L169.7 57.2L167.9 57.3L166.2 57.4L164.5 57.6L162.7 57.7L161 57.8L159.3 57.9L157.5 58.3L156.5 58.7L155.8 59L154.1 59.5L152.3 59.7L150.6 59.7L148.9 59.7L147.2 59.7L145.4 59.7L143.7 59.7L142 59.7L140.2 59.6L138.5 59.4L136.8 59.2L135 58.8ZM282.2 41.4L283.9 41.9L283.9 41.4L283.9 39.7L283.9 38L283.9 36.2L283.9 34.5L283.9 32.8L283.9 31.1L283.9 29.3L283.9 27.6L283.9 25.9L283.9 24.2L283.9 22.4L283.9 20.7L283.9 19L283.9 17.3L283.9 15.5L283.9 13.8L283.9 12.1L283.9 10.4L283.9 8.6L283.9 8.3L283.6 8.6L282.3 10.4L282.2 10.5L281.1 12.1L280.5 13.2L280.1 13.8L279.1 15.5L278.7 16.3L278.2 17.3L277.4 19L277 19.7L276.5 20.7L275.6 22.4L275.3 23.1L274.8 24.2L273.9 25.9L273.5 26.7L273.1 27.6L272.5 29.3L272.2 31.1L272.2 32.8L272.6 34.5L273.5 36.2L273.5 36.3L275 38L275.3 38.2L277 39.4L277.6 39.7L278.7 40.2L280.5 40.9L282.2 41.4Z"/>
<path fill="#f36b21" stroke="#f36b21" stroke-width="0.3" fill-rule="evenodd" d="M135 58.8L136.8 59.2L138.5 59.4L140.2 59.6L142 59.7L143.7 59.7L145.4 59.7L147.2 59.7L148.9 59.7L150.6 59.7L152.3 59.7L154.1 59.5L155.8 59L156.5 58.7L157.5 58.3L159.3 57.9L161 57.8L162.7 57.7L164.5 57.6L166.2 57.4L167.9 57.3L169.7 57.2L171.4 57.1L172.5 57L173.1 56.9L174.9 56.5L176.6 55.7L177.4 55.2L178.3 54.8L180 54.4L181.8 54.1L183.5 53.8L185 53.5L185.2 53.5L187 53L188.7 52.5L190.4 52L190.9 51.8L192.2 51.3L193.9 50.5L195.2 50.1L195.6 49.9L197.4 49.8L199.1 49.6L200.8 49.3L202.6 48.7L203.6 48.3L204.3 48L206 47.3L207.8 46.6L207.8 46.6L209.5 46.5L211.2 46.5L212.9 46.3L214.7 45.9L216.4 45.1L216.7 44.9L218.1 43.7L218.7 43.1L219.8 41.4L219.9 41.1L220.2 39.7L220.3 38L220 36.2L219.9 35.7L219.5 34.5L218.6 32.8L218.1 32.2L217.3 31.1L216.4 30L215.8 29.3L214.7 28.4L213.5 27.6L212.9 27.3L211.2 26.8L209.5 26.4L207.8 26.1L206 25.9L205.6 25.9L204.3 25.8L202.6 25.7L200.8 25.6L199.1 25.6L197.4 25.5L195.6 25.5L193.9 25.5L192.2 25.5L190.4 25.6L188.7 25.7L187.2 25.9L187 25.9L185.2 26.1L183.5 26.3L181.8 26.5L180 26.7L178.3 26.9L176.6 27.1L174.9 27.4L173.7 27.6L173.1 27.7L171.4 28.1L169.7 28.5L167.9 28.9L166.3 29.3L166.2 29.4L164.5 29.9L162.7 30.4L161 30.9L160.6 31.1L159.3 31.5L157.5 32.1L155.8 32.6L155.2 32.8L154.1 33.2L152.3 33.7L150.6 34.3L150 34.5L148.9 35L147.2 35.9L146.4 36.2L145.4 36.8L143.7 37.7L143.3 38L142 38.7L140.2 39.7L140.2 39.7L138.5 40.8L137.5 41.4L136.8 42L135.2 43.1L135 43.3L133.3 44.8L133.2 44.9L131.6 46.5L131.4 46.6L130 48.3L129.8 48.6L128.9 50.1L128.4 51.8L128.4 53.5L129.2 55.2L129.8 55.9L131.1 57L131.6 57.3L133.3 58.1L134.7 58.7ZM179.3 41.4L178.3 39.7L179.7 38L180.1 37.8L181.8 37.3L183.5 37.1L185.2 37L187 37L188.7 37.5L189.5 38L190 39.7L188.7 41.2L188.4 41.4L187 42L185.2 42.2L183.5 42.3L181.8 42.2L180 41.8Z"/>
<path fill="#f04b23" stroke="#f04b23" stroke-width="0.3" fill-rule="evenodd" d="M180 41.8L181.8 42.2L183.5 42.3L185.2 42.2L187 42L188.4 41.4L188.7 41.2L190 39.7L189.5 38L188.7 37.5L187 37L185.2 37L183.5 37.1L181.8 37.3L180.1 37.8L179.7 38L178.3 39.7L179.3 41.4Z"/>

<path fill="url(#dotsa)" d="M76.2 57.0 L86.6 50.1 L93.5 46.6 L110.8 38.0 L128.1 29.3 L145.4 24.2 L166.2 20.7 L187.0 19.7 L207.8 20.7 L219.9 25.9 L221.6 34.5 L214.7 43.1 L200.8 48.3 L180.0 53.5 L155.8 58.7 L128.1 62.1 L103.9 63.2 L86.6 62.1 L76.2 60.4 Z"/>
<path fill="none" stroke="#000" stroke-width="0.6" stroke-linejoin="round" d="M-1.4 126.3 L1.7 127.7 L8.3 130.1 L9.3 135.3 L10.4 140.8 L12.5 143.6 L14.2 150.2 L16.6 155.3 L18.4 162.2 L20.8 169.1 L21.8 174.3"/>
<path fill="none" stroke="#000" stroke-width="0.6" stroke-linejoin="round" d="M33.9 174.3 L34.3 167.4 L35.3 161.6 L35.0 154.0 L38.8 150.9 L42.6 148.8 L46.7 145.0 L51.9 140.8 L57.1 137.7 L58.9 133.6 L63.0 132.2 L65.8 131.5 L69.9 131.2 L73.1 129.1 L75.5 130.8 L77.2 133.2 L78.6 136.7 L81.7 139.5 L83.4 142.9 L84.8 147.7 L84.5 151.9 L87.6 152.6 L91.1 149.8 L93.8 149.8 L95.9 153.6 L97.6 160.2 L99.0 165.7 L99.4 170.5 L100.1 174.3"/>
<path fill="none" stroke="#000" stroke-width="0.6" stroke-linejoin="round" d="M101.1 174.3 L101.5 170.9 L102.5 166.4 L103.5 162.6 L104.6 160.5 L107.0 160.9 L107.0 163.3 L109.8 163.6 L112.2 165.4 L113.9 167.4 L115.3 170.2 L118.4 170.9 L120.5 172.9 L120.5 174.3"/>
<path fill="none" stroke="#000" stroke-width="0.6" stroke-linejoin="round" d="M123.3 174.3 L126.4 172.3 L128.1 170.9 L131.2 169.8 L134.7 168.1 L135.7 165.7 L136.4 162.6 L135.7 159.5 L134.3 154.6 L132.3 151.5 L128.8 148.8 L126.7 146.4 L124.3 143.3 L123.6 140.8 L124.6 138.4 L127.1 136.0 L129.5 133.9 L131.9 132.9 L134.0 132.2 L136.1 133.2 L137.8 134.6 L139.5 136.7 L140.2 133.9 L143.0 132.9 L146.1 131.9 L149.9 130.5 L151.0 128.8 L153.4 129.8 L156.9 128.4 L160.7 128.1 L164.1 125.7 L166.5 122.9 L169.0 121.2 L171.4 118.7 L171.7 115.6 L173.8 113.2 L175.9 110.5 L178.3 108.4 L179.7 105.6 L179.7 103.2 L177.3 101.8 L179.7 100.1 L178.0 97.3 L176.2 94.9 L175.2 92.2 L173.8 88.7 L170.7 87.0 L171.7 84.6 L174.2 82.8 L176.2 81.1 L181.8 79.4 L181.4 78.0 L176.9 77.0 L174.2 77.3 L170.4 78.7 L169.3 77.0 L167.2 75.6 L165.2 73.9 L165.9 71.8 L169.3 72.1 L171.4 69.7 L174.9 68.0 L177.3 65.9 L180.7 67.3 L178.3 69.7 L177.3 72.5 L179.0 72.8 L181.4 71.1 L185.2 69.7 L188.4 69.0 L189.7 70.4 L191.5 71.1 L191.5 73.5 L189.7 75.6 L191.8 77.0 L195.6 77.3 L196.3 79.4 L194.9 81.1 L196.0 84.2 L194.9 87.0 L196.0 88.4 L199.1 87.3 L202.6 86.6 L205.3 84.9 L206.0 82.2 L205.7 79.4 L203.6 76.6 L201.9 74.2 L199.4 71.5 L199.4 69.7 L202.6 68.0 L206.7 66.3 L207.1 63.9 L209.8 60.8 L213.3 58.7 L215.7 57.6 L218.5 59.4 L223.3 57.6 L226.8 55.2 L231.3 51.8 L235.1 47.3 L237.5 43.8 L240.6 40.4 L243.4 37.3 L244.1 34.5 L244.5 31.1 L246.5 27.6 L246.5 24.2 L244.5 22.4 L241.0 20.4 L236.1 20.7 L232.7 21.4 L231.3 18.6 L227.1 18.3 L230.6 15.9 L235.4 12.8 L240.6 9.3 L245.8 5.5 L251.0 2.8 L258.0 2.1 L264.9 2.4 L271.8 2.4 L275.3 1.0 L278.7 1.4"/>
<path fill="none" stroke="#000" stroke-width="0.6" stroke-linejoin="round" d="M133.7 140.8 L135.7 138.1 L139.9 137.7 L142.0 139.5 L140.2 142.9 L136.8 144.3 L134.0 143.3 L133.7 140.8"/>
<path fill="none" stroke="#000" stroke-width="0.6" stroke-linejoin="round" d="M173.5 127.7 L175.5 131.2 L176.6 129.4 L178.3 126.0 L179.7 121.5 L178.3 119.8 L176.6 120.8 L173.8 125.0 L173.5 127.7"/>
<path fill="none" stroke="#000" stroke-width="0.6" stroke-linejoin="round" d="M206.4 92.2 L208.4 91.1 L210.9 90.1 L213.3 92.2 L212.9 94.9 L211.6 98.7 L209.8 99.8 L208.4 99.1 L208.4 96.0 L207.1 94.6 L206.4 92.2"/>
<path fill="none" stroke="#000" stroke-width="0.6" stroke-linejoin="round" d="M216.4 90.1 L219.9 88.7 L223.7 89.1 L223.7 90.8 L222.3 92.2 L218.8 93.9 L216.8 92.9 L216.4 90.1"/>
<path fill="none" stroke="#000" stroke-width="0.6" stroke-linejoin="round" d="M210.9 89.8 L212.6 88.4 L216.4 85.6 L219.9 84.6 L225.1 84.2 L227.8 84.2 L228.5 82.8 L230.9 79.7 L233.0 80.1 L235.4 79.4 L237.2 77.7 L240.3 75.6 L242.0 72.5 L242.4 69.0 L242.0 67.0 L243.4 64.9 L246.5 64.9 L247.6 67.3 L249.0 70.8 L247.6 74.2 L245.8 75.9 L245.5 79.4 L244.5 82.2 L245.1 83.9 L243.4 86.0 L241.7 86.3 L239.6 85.6 L238.2 87.7 L236.5 87.3 L232.7 87.7 L231.3 88.7 L228.9 91.5 L226.1 90.8 L225.8 88.4 L223.3 87.3 L219.9 88.4 L216.4 89.1 L214.7 90.1 L211.2 90.1 L210.9 89.8"/>
<path fill="none" stroke="#000" stroke-width="0.6" stroke-linejoin="round" d="M242.4 63.9 L243.1 61.1 L241.7 60.1 L243.8 57.6 L246.9 58.0 L247.9 54.5 L248.3 50.7 L251.0 51.8 L254.5 54.5 L258.0 55.6 L260.7 54.5 L262.5 57.3 L259.7 58.7 L253.8 62.1 L249.3 60.4 L245.8 60.8 L244.1 62.1 L245.5 63.5 L242.4 63.9"/>
<path fill="none" stroke="#000" stroke-width="0.6" stroke-linejoin="round" d="M249.0 48.3 L249.3 44.9 L250.0 39.7 L249.3 36.2 L250.0 31.1 L252.1 25.9 L251.7 22.1 L251.4 19.7 L253.5 24.2 L253.8 29.3 L253.5 34.5 L257.3 38.0 L254.5 39.7 L252.8 43.1 L254.5 47.3 L251.0 45.9 L249.0 48.3"/>
<path fill="none" stroke="#000" stroke-width="0.6" stroke-linejoin="round" d="M263.1 55.9 L266.6 54.2"/>
<path fill="none" stroke="#000" stroke-width="0.6" stroke-linejoin="round" d="M268.3 53.2 L271.8 51.1"/>
<path fill="none" stroke="#000" stroke-width="0.6" stroke-linejoin="round" d="M273.5 50.1 L278.7 47.6"/>
<path fill="none" stroke="#000" stroke-width="0.6" stroke-linejoin="round" d="M175.2 143.3 L177.3 142.9 L180.7 143.3 L181.4 147.7 L180.4 151.2 L178.7 152.9 L178.7 157.4 L180.7 158.8 L184.2 159.5 L187.3 162.2 L186.3 163.6 L183.2 161.2 L181.1 160.2 L179.0 159.1 L176.2 159.1 L175.2 157.1 L173.8 155.3 L172.4 151.2 L174.2 149.8 L174.5 146.4 L175.2 143.3"/>
<path fill="none" stroke="#000" stroke-width="0.6" stroke-linejoin="round" d="M174.5 160.5 L177.3 160.9 L178.3 163.6 L176.9 165.0 L174.9 162.6 L174.5 160.5"/>
<path fill="none" stroke="#000" stroke-width="0.6" stroke-linejoin="round" d="M180.0 166.4 L182.1 167.4 L184.2 169.5 L183.5 171.9 L181.4 171.2 L180.0 169.1 L180.0 166.4"/>
<path fill="none" stroke="#000" stroke-width="0.6" stroke-linejoin="round" d="M186.3 168.5 L187.7 171.2 L187.0 172.9 L185.2 171.2 L186.3 168.5"/>
<path fill="none" stroke="#000" stroke-width="0.6" stroke-linejoin="round" d="M188.0 164.0 L191.1 164.7 L192.5 168.5 L190.4 171.9 L188.4 169.5 L188.0 164.0"/>
<path fill="none" stroke="#000" stroke-width="0.6" stroke-linejoin="round" d="M192.2 173.3 L194.6 174.3 L195.6 173.3"/>
<path fill="none" stroke="#000" stroke-width="0.6" stroke-linejoin="round" d="M12.5 49.7 L15.6 48.3 L20.1 46.9 L24.2 46.6 L29.4 45.9 L32.2 46.3 L29.4 47.3 L24.2 47.6 L19.0 48.7 L15.6 50.7 L13.8 51.8 L12.5 49.7"/>
<path fill="none" stroke="#000" stroke-width="0.6" stroke-linejoin="round" d="M116.3 28.5 L119.5 27.8 L124.0 26.1 L128.8 23.1 L132.6 20.0 L135.0 16.9 L137.1 14.2 L138.5 15.2 L137.5 18.6 L135.0 22.1 L130.9 25.2 L125.7 28.0 L120.5 29.5 L117.0 29.3 L116.3 28.5"/>
<rect x="86.96" y="17.66" width="138.50" height="51.78" fill="none" stroke="#a3301e" stroke-width="1.15"/>
</g>
<rect x="0" y="0" width="277.0" height="172.6" fill="none" stroke="#222" stroke-width="0.9"/>
<line x1="-3" y1="172.60" x2="0" y2="172.60" stroke="#333" stroke-width="0.7"/>
<line x1="-3" y1="155.34" x2="0" y2="155.34" stroke="#333" stroke-width="0.7"/>
<line x1="-6" y1="138.08" x2="0" y2="138.08" stroke="#333" stroke-width="0.7"/>
<line x1="-3" y1="120.82" x2="0" y2="120.82" stroke="#333" stroke-width="0.7"/>
<line x1="-3" y1="103.56" x2="0" y2="103.56" stroke="#333" stroke-width="0.7"/>
<line x1="-3" y1="86.30" x2="0" y2="86.30" stroke="#333" stroke-width="0.7"/>
<line x1="-6" y1="69.04" x2="0" y2="69.04" stroke="#333" stroke-width="0.7"/>
<line x1="-3" y1="51.78" x2="0" y2="51.78" stroke="#333" stroke-width="0.7"/>
<line x1="-3" y1="34.52" x2="0" y2="34.52" stroke="#333" stroke-width="0.7"/>
<line x1="-3" y1="17.26" x2="0" y2="17.26" stroke="#333" stroke-width="0.7"/>
<line x1="-6" y1="0.00" x2="0" y2="0.00" stroke="#333" stroke-width="0.7"/>
<line x1="0.00" y1="172.6" x2="0.00" y2="175.6" stroke="#333" stroke-width="0.7"/>
<line x1="34.62" y1="172.6" x2="34.62" y2="175.6" stroke="#333" stroke-width="0.7"/>
<line x1="69.25" y1="172.6" x2="69.25" y2="178.6" stroke="#333" stroke-width="0.7"/>
<line x1="103.88" y1="172.6" x2="103.88" y2="175.6" stroke="#333" stroke-width="0.7"/>
<line x1="138.50" y1="172.6" x2="138.50" y2="175.6" stroke="#333" stroke-width="0.7"/>
<line x1="173.12" y1="172.6" x2="173.12" y2="178.6" stroke="#333" stroke-width="0.7"/>
<line x1="207.75" y1="172.6" x2="207.75" y2="175.6" stroke="#333" stroke-width="0.7"/>
<line x1="242.38" y1="172.6" x2="242.38" y2="175.6" stroke="#333" stroke-width="0.7"/>
<line x1="277.00" y1="172.6" x2="277.00" y2="178.6" stroke="#333" stroke-width="0.7"/>
<text x="-8.2" y="5.10" text-anchor="end">60N</text>
<text x="-8.2" y="74.14" text-anchor="end">40N</text>
<text x="-8.2" y="143.18" text-anchor="end">20N</text>
<text x="69.55" y="190.20" text-anchor="middle">90E</text>
<text x="173.43" y="190.20" text-anchor="middle">120E</text>
<text x="277.30" y="190.20" text-anchor="middle">150E</text>
<text x="-0.9" y="-3.90">(a) Cor (H400, CECSH)</text>
<rect x="284.0" y="1.50" width="5.5" height="8.06" fill="#d31920"/>
<rect x="284.0" y="9.26" width="5.5" height="8.06" fill="#ed2024"/>
<rect x="284.0" y="17.02" width="5.5" height="8.06" fill="#f04b23"/>
<rect x="284.0" y="24.78" width="5.5" height="8.06" fill="#f36b21"/>
<rect x="284.0" y="32.54" width="5.5" height="8.06" fill="#f7891e"/>
<rect x="284.0" y="40.30" width="5.5" height="8.06" fill="#faa11b"/>
<rect x="284.0" y="48.05" width="5.5" height="8.06" fill="#fba61f"/>
<rect x="284.0" y="55.81" width="5.5" height="8.06" fill="#fcbb44"/>
<rect x="284.0" y="63.57" width="5.5" height="8.06" fill="#fed679"/>
<rect x="284.0" y="71.33" width="5.5" height="8.06" fill="#ffe9a7"/>
<rect x="284.0" y="79.09" width="5.5" height="8.06" fill="#fff4d1"/>
<rect x="284.0" y="86.85" width="5.5" height="8.06" fill="#c3ecfa"/>
<rect x="284.0" y="94.61" width="5.5" height="8.06" fill="#9ee1f7"/>
<rect x="284.0" y="102.37" width="5.5" height="8.06" fill="#7fd5f3"/>
<rect x="284.0" y="110.13" width="5.5" height="8.06" fill="#66caef"/>
<rect x="284.0" y="117.89" width="5.5" height="8.06" fill="#4abfe9"/>
<rect x="284.0" y="125.65" width="5.5" height="8.06" fill="#35b3e3"/>
<rect x="284.0" y="133.40" width="5.5" height="8.06" fill="#1ea5dc"/>
<rect x="284.0" y="141.16" width="5.5" height="8.06" fill="#0e8ccb"/>
<rect x="284.0" y="148.92" width="5.5" height="8.06" fill="#0b76bb"/>
<rect x="284.0" y="156.68" width="5.5" height="8.06" fill="#0a66ad"/>
<rect x="284.0" y="164.44" width="5.5" height="8.06" fill="#0b539d"/>
<rect x="284.0" y="1.5" width="5.5" height="170.7" fill="none" stroke="#777" stroke-width="0.3"/>
<text x="299.5" y="13.96" text-anchor="middle">1</text>
<text x="299.5" y="45.00" text-anchor="middle">0.6</text>
<text x="299.5" y="76.03" text-anchor="middle">0.2</text>
<text x="299.5" y="107.07" text-anchor="middle">-0.2</text>
<text x="299.5" y="138.10" text-anchor="middle">-0.6</text>
<text x="299.5" y="169.14" text-anchor="middle">-1</text>
</g>
<g transform="translate(26.3,232.5)">
<clipPath id="clipb"><rect x="0" y="0" width="277.0" height="172.6"/></clipPath>
<g clip-path="url(#clipb)">
<rect x="0" y="0" width="277.0" height="172.6" fill="#fba61f"/>
<path fill="#4abfe9" stroke="#4abfe9" stroke-width="0.3" fill-rule="evenodd" d="M240.6 152L242.4 152.2L244.1 152L244.7 151.9L245.8 151.6L247.6 151.3L249.3 150.9L251 150.5L252.8 150.2L252.9 150.2L254.5 149.8L256.2 149.4L258 149L259.7 148.4L259.7 148.4L261.4 147.3L262.4 146.7L263.1 146.1L264.4 145L264.9 144.5L266 143.3L266.6 142.2L267 141.5L267.4 139.8L267.4 138.1L266.7 136.4L266.6 136.2L265.5 134.6L264.9 133.8L264.2 132.9L263.2 131.2L263.1 131.1L262.1 129.4L261.4 128.2L261.1 127.7L259.7 126L259.7 126L258 124.9L256.6 124.3L256.2 124.1L254.5 123.7L252.8 123.4L251 123.2L249.3 123.1L247.6 123L245.8 122.9L244.1 122.9L242.4 123L240.6 123.3L238.9 123.8L237.4 124.3L237.2 124.4L235.4 124.9L233.7 125.5L232 125.9L231.7 126L230.3 126.4L228.5 126.8L226.8 127.2L225.1 127.7L225.1 127.7L223.3 128.7L222.2 129.4L221.6 130L220.2 131.2L219.9 131.5L218.7 132.9L218.1 133.9L217.7 134.6L217.2 136.4L217.2 138.1L217.7 139.8L218.1 140.6L218.6 141.5L219.8 143.3L219.9 143.3L221.2 145L221.6 145.4L222.8 146.7L223.3 147.1L225.1 148.4L225.1 148.4L226.8 149L228.5 149.5L230.3 150L231.1 150.2L232 150.3L233.7 150.7L235.4 151L237.2 151.4L238.9 151.7L239.8 151.9ZM51.9 74.4L53.7 74.5L54.6 74.2L55.4 73.9L57.1 72.6L57.3 72.5L58.3 70.8L58.4 69L57.8 67.3L57.1 66.4L56.3 65.6L55.4 65L53.7 64.3L51.9 64L50.2 64.1L48.5 64.4L46.7 65.1L45.9 65.6L45 67.1L44.9 67.3L45 67.6L45.4 69L46.7 70.8L46.7 70.8L48.5 72.4L48.6 72.5L50.2 73.6L51.4 74.2Z"/>
<path fill="#66caef" stroke="#66caef" stroke-width="0.3" fill-rule="evenodd" d="M223.3 157.1L225.1 157.4L226.8 157.6L228.5 157.7L230.3 157.7L232 157.7L233.7 157.5L235.4 157.4L237.2 157.1L237.6 157.1L238.9 156.9L240.6 156.6L242.4 156.5L244.1 156.5L245.8 156.7L247.6 156.8L249.3 156.8L251 156.8L252.8 156.7L254.5 156.4L256.2 156.1L258 155.7L259 155.3L259.7 155.1L261.4 154.4L263.1 153.6L263.2 153.6L264.9 153.2L266.6 152.8L268.3 152.3L269.5 151.9L270.1 151.7L271.8 150.8L272.7 150.2L273.5 149.4L274.4 148.4L275.3 147L275.4 146.7L276 145L276.3 143.3L276.4 141.5L276.1 139.8L275.6 138.1L275.3 137.3L274.9 136.4L273.9 134.6L273.5 134.2L272.7 132.9L271.8 131.7L271.5 131.2L271.1 129.4L270.9 127.7L270.9 126L270.9 124.3L270.9 122.5L270.6 120.8L270.1 119.5L269.9 119.1L268.3 117.4L268.3 117.4L266.6 116.3L265.1 115.6L264.9 115.6L263.1 115L261.4 114.6L259.7 114.2L258.3 113.9L258 113.9L256.2 113.7L254.5 113.6L252.8 113.6L251 113.8L250.7 113.9L249.3 114.2L247.6 114.8L245.8 115.5L245.5 115.6L244.1 116.1L242.4 116.6L240.6 116.7L238.9 116.7L237.2 116.7L235.4 116.8L233.7 116.8L232 117L230.3 117.1L228.5 117.3L227.6 117.4L226.8 117.4L225.1 117.6L223.3 117.8L221.6 117.9L219.9 118.2L218.1 118.4L216.4 118.7L214.7 119.1L214.7 119.1L212.9 119.6L211.2 120.1L209.5 120.8L209.4 120.8L207.8 121.6L206 122.5L205.9 122.5L204.3 123.4L202.9 124.3L202.6 124.5L200.8 125.6L200.1 126L199.1 126.7L197.5 127.7L197.4 127.8L195.6 129.1L195.1 129.4L193.9 130.5L193 131.2L192.2 132.2L191.5 132.9L190.6 134.6L190.4 135.1L190.1 136.4L190.1 138.1L190.4 139.4L190.5 139.8L191.4 141.5L192.2 142.6L192.7 143.3L193.9 144.4L194.6 145L195.6 145.6L197.4 146.6L197.5 146.7L199.1 147.5L200.8 148.2L201.3 148.4L202.6 148.9L204.3 149.6L205.8 150.2L206 150.2L207.8 150.9L209.5 151.5L210.4 151.9L211.2 152.2L212.9 152.9L214.7 153.6L214.7 153.6L216.4 154.5L218.1 155.3L218.3 155.3L219.9 156L221.6 156.6L223.3 157.1ZM239.8 151.9L238.9 151.7L237.2 151.4L235.4 151L233.7 150.7L232 150.3L231.1 150.2L230.3 150L228.5 149.5L226.8 149L225.1 148.4L225.1 148.4L223.3 147.1L222.8 146.7L221.6 145.4L221.2 145L219.9 143.3L219.8 143.3L218.6 141.5L218.1 140.6L217.7 139.8L217.2 138.1L217.2 136.4L217.7 134.6L218.1 133.9L218.7 132.9L219.9 131.5L220.2 131.2L221.6 130L222.2 129.4L223.3 128.7L225.1 127.7L225.1 127.7L226.8 127.2L228.5 126.8L230.3 126.4L231.7 126L232 125.9L233.7 125.5L235.5 124.9L237.2 124.4L237.4 124.3L238.9 123.8L240.6 123.3L242.4 123L244.1 122.9L245.8 122.9L247.6 123L249.3 123.1L251 123.2L252.8 123.4L254.5 123.7L256.2 124.1L256.6 124.3L258 124.9L259.7 126L259.7 126L261.1 127.7L261.4 128.2L262.1 129.4L263.1 131.1L263.2 131.2L264.2 132.9L264.9 133.8L265.5 134.6L266.6 136.2L266.7 136.4L267.4 138.1L267.4 139.8L267 141.5L266.6 142.2L266 143.3L264.9 144.5L264.4 145L263.1 146.1L262.4 146.7L261.4 147.3L259.7 148.4L259.7 148.4L258 149L256.2 149.4L254.5 149.8L252.9 150.2L252.8 150.2L251 150.5L249.3 150.9L247.6 151.3L245.8 151.6L244.7 151.9L244.1 152L242.4 152.2L240.6 152ZM244.1 93.9L245.8 94.1L247.6 93.4L247.8 93.2L249.3 91.8L249.5 91.5L250.6 89.8L251 89.1L251.4 88L251.6 86.3L251 84.9L250.8 84.6L249.3 83.5L247.6 83.1L245.8 83.3L244.1 84.2L243.6 84.6L242.4 86L242.2 86.3L241.5 88L241.4 89.8L241.8 91.5L242.4 92.4L243.1 93.2ZM53.7 79.6L55.4 79.8L57.1 79.7L58.9 79.5L59.8 79.4L60.6 79.2L62.3 78.7L64.1 78.1L65.1 77.7L65.8 77.3L67.5 76.3L68.2 75.9L69.2 75.2L70.8 74.2L71 74.1L72.7 72.9L73.4 72.5L74.4 71.8L76.2 70.9L76.4 70.8L77.9 70L79.6 69.2L80 69L81.4 68.3L82.7 67.3L83.1 66.8L83.9 65.6L84.3 63.9L84.3 62.1L84.2 60.4L84 58.7L83.8 57L83.5 55.2L83.1 54.1L82.8 53.5L81.4 51.9L81.2 51.8L79.6 50.9L77.9 50.4L76.2 50.5L74.4 51.2L73.2 51.8L72.7 52.1L71 53.3L70.6 53.5L69.2 54.4L67.5 55.1L66.9 55.2L65.8 55.5L64.1 55.5L62.3 55.5L60.6 55.4L58.9 55.3L57.1 55.2L55.4 55.2L53.7 55.3L51.9 55.4L50.2 55.6L48.5 55.8L46.7 56L45 56.3L43.3 56.6L41.5 56.9L41.2 57L39.8 57.3L38.1 57.7L36.4 58L34.6 58.4L33.1 58.7L32.9 58.7L31.2 59L29.4 59.3L27.7 59.4L26 59.5L24.2 59.4L22.5 59.3L20.8 59.1L19 58.9L17.3 58.7L17.3 58.7L15.6 58.5L13.8 58.5L12.1 58.5L10.4 58.6L9.6 58.7L8.7 58.8L6.9 59.3L5.2 59.9L4.3 60.4L3.5 61L2.2 62.1L1.7 62.8L1.2 63.9L0.7 65.6L0.7 67.3L1.1 69L1.7 70.4L1.9 70.8L3 72.5L3.5 73L4.5 74.2L5.2 74.8L6.9 75.9L7 75.9L8.7 76.1L10.4 76L11 75.9L12.1 75.7L13.8 75.2L15.6 74.7L17.1 74.2L17.3 74.1L19 73.5L20.8 73L22.5 72.5L22.8 72.5L24.2 72.2L26 71.9L27.7 71.9L29.4 71.9L31.2 72.2L32.8 72.5L32.9 72.5L34.6 72.8L36.4 73.2L38.1 73.7L39.5 74.2L39.8 74.3L41.5 74.9L43.3 75.7L43.7 75.9L45 76.5L46.7 77.4L47.3 77.7L48.5 78.2L50.2 78.8L51.9 79.4L52.2 79.4ZM51.4 74.2L50.2 73.6L48.6 72.5L48.5 72.4L46.7 70.8L46.7 70.8L45.4 69L45 67.6L44.9 67.3L45 67.1L45.9 65.6L46.7 65.1L48.5 64.4L50.2 64.1L51.9 64L53.7 64.3L55.4 65L56.3 65.6L57.1 66.4L57.8 67.3L58.4 69L58.3 70.8L57.3 72.5L57.1 72.6L55.4 73.9L54.6 74.2L53.7 74.5L51.9 74.4ZM266.6 57.1L268.3 57.7L269 57L270.1 56L270.7 55.2L271.8 54.3L272.9 53.5L273.5 52.8L274.2 51.8L273.7 50.1L273.5 49.9L271.8 49.4L270.1 49.8L269.6 50.1L268.3 51L267.7 51.8L266.8 53.5L266.6 54.1L266.4 55.2L266.6 57Z"/>
<path fill="#7fd5f3" stroke="#7fd5f3" stroke-width="0.3" fill-rule="evenodd" d="M188.7 165.8L190.4 165.8L192 165.7L192.2 165.7L193.9 165.5L195.6 165.3L197.4 165.1L199.1 164.8L200.8 164.5L202.6 164.3L204.3 164.1L206 164L207.8 164L209.5 164.2L211.2 164.4L212.9 164.8L214.7 165.1L216.4 165.4L218.1 165.6L218.9 165.7L219.9 165.8L221.6 165.9L223.3 166L225.1 166L226.8 165.9L228.5 165.8L229.3 165.7L230.3 165.6L232 165.3L233.7 165L235.4 164.6L237.2 164.2L238.4 164L238.9 163.9L240.6 163.6L242.4 163.4L244.1 163.3L245.8 163.4L247.6 163.5L249.3 163.7L251 163.9L252.7 164L252.8 164L254.5 164.1L256.2 164.1L258 164.1L259.7 164.1L261.4 164.2L263.1 164.2L264.9 164.4L266.6 164.6L268.3 164.8L270.1 165.1L271.8 165.4L273.5 165.7L273.7 165.7L275.3 165.8L277 165.7L277 165.7L278.7 165.1L280.5 164.1L280.7 164L282.2 162.8L282.7 162.2L283.9 160.9L283.9 160.5L283.9 158.8L283.9 157.1L283.9 155.3L283.9 153.6L283.9 151.9L283.9 150.2L283.9 148.4L283.9 146.7L283.9 145L283.9 143.3L283.9 141.5L283.9 139.8L283.9 138.1L283.9 136.4L283.9 134.6L283.9 132.9L283.9 131.2L283.9 129.4L283.9 127.7L283.9 126.1L283.9 126L283.6 124.3L283.3 122.5L282.9 120.8L282.5 119.1L282.2 118.3L281.9 117.4L281.2 115.6L280.5 114.4L280.2 113.9L278.9 112.2L278.7 112L277 110.5L277 110.5L275.3 109.8L273.5 109.3L271.8 109L270.7 108.7L270.1 108.6L268.3 108.3L266.6 108L264.9 107.6L263.1 107L263 107L261.4 106.4L259.7 105.7L259 105.3L258 104.6L256.7 103.6L256.2 103.1L255.3 101.8L254.5 100.2L254.5 100.1L254 98.4L253.9 96.7L253.9 94.9L254.1 93.2L254.3 91.5L254.5 90.7L254.6 89.8L254.9 88L255 86.3L254.8 84.6L254.5 83.6L254.2 82.8L253.3 81.1L252.8 80.4L251.8 79.4L251 78.6L249.3 77.7L249.2 77.7L247.6 77.3L245.8 77.3L244.3 77.7L244.1 77.7L242.4 78.4L240.6 79.3L240.5 79.4L238.9 80.5L238 81.1L237.2 81.7L235.5 82.8L235.4 82.9L233.7 84L232.5 84.6L232 84.9L230.3 85.6L228.5 85.9L226.8 85.9L225.1 85.7L223.3 85.3L221.6 84.9L220.1 84.6L219.9 84.5L219.4 84.6L218.1 84.7L216.4 85.7L215.6 86.3L214.7 87.1L213.8 88L212.9 89L212.2 89.8L211.2 91L210.8 91.5L209.5 93.1L209.3 93.2L207.8 94.9L207.8 95L206 96.6L206 96.7L204.3 98.1L203.9 98.4L202.6 99.5L201.7 100.1L200.8 100.8L199.5 101.8L199.1 102.2L197.7 103.6L197.4 104L196.3 105.3L195.6 106.1L194.9 107L193.9 108.2L193.4 108.7L192.2 109.6L190.4 110.5L188.7 110.1L187 109.3L185.7 108.7L185.2 108.5L183.5 107.8L181.8 107.3L180.4 107L180 107L178.3 106.8L176.6 106.8L174.9 106.9L173.8 107L173.1 107.1L171.4 107.5L169.7 107.9L167.9 108.5L167.3 108.7L166.2 109.2L164.5 109.9L163 110.5L162.7 110.6L161 111.2L159.3 111.8L157.8 112.2L157.5 112.3L155.8 112.9L154.1 113.9L154.1 114L153.1 115.6L153.1 117.4L153.6 119.1L154.1 119.8L154.9 120.8L155.8 121.6L157.2 122.5L157.5 122.8L159.3 123.7L160.3 124.3L161 124.7L162.6 126L162.7 126.1L164.1 127.7L164.5 128.2L165.2 129.4L166.2 131.2L166.2 131.2L167.1 132.9L167.9 134.6L167.9 134.6L168.7 136.4L169.3 138.1L169.7 139L169.9 139.8L170.4 141.5L170.9 143.3L171.3 145L171.4 145.7L171.6 146.7L171.9 148.4L172.2 150.2L172.4 151.9L172.7 153.6L173.1 155.3L173.1 155.3L173.9 157.1L174.9 158.8L174.9 158.8L176.2 160.5L176.6 161L178 162.2L178.3 162.5L180 163.6L180.7 164L181.8 164.5L183.5 165.1L185.2 165.5L187 165.7L187.1 165.7ZM223.3 157.1L221.6 156.6L219.9 156L218.3 155.3L218.1 155.3L216.4 154.5L214.7 153.6L214.7 153.6L212.9 152.9L211.2 152.2L210.4 151.9L209.5 151.5L207.8 150.9L206 150.2L205.8 150.2L204.3 149.6L202.6 148.9L201.3 148.4L200.8 148.2L199.1 147.5L197.5 146.7L197.4 146.6L195.6 145.6L194.6 145L193.9 144.4L192.7 143.3L192.2 142.6L191.4 141.5L190.5 139.8L190.4 139.4L190.1 138.1L190.1 136.4L190.4 135.1L190.6 134.6L191.5 132.9L192.2 132.2L193 131.2L193.9 130.5L195.1 129.4L195.6 129.1L197.4 127.8L197.5 127.7L199.1 126.7L200.1 126L200.8 125.6L202.6 124.5L202.9 124.3L204.3 123.4L205.9 122.5L206 122.5L207.8 121.6L209.4 120.8L209.5 120.8L211.2 120.1L212.9 119.6L214.7 119.1L214.7 119.1L216.4 118.7L218.1 118.4L219.9 118.2L221.6 117.9L223.3 117.8L225.1 117.6L226.8 117.4L227.6 117.4L228.5 117.3L230.3 117.1L232 117L233.7 116.8L235.4 116.8L237.2 116.7L238.9 116.7L240.6 116.7L242.4 116.6L244.1 116.1L245.5 115.6L245.8 115.5L247.6 114.8L249.3 114.2L250.7 113.9L251 113.8L252.8 113.6L254.5 113.6L256.2 113.7L258 113.9L258.3 113.9L259.7 114.2L261.4 114.6L263.1 115L264.9 115.6L265.1 115.6L266.6 116.3L268.3 117.4L268.3 117.4L269.9 119.1L270.1 119.5L270.6 120.8L270.9 122.5L270.9 124.3L270.9 126L270.9 127.7L271.1 129.4L271.5 131.2L271.8 131.7L272.7 132.9L273.5 134.2L273.9 134.6L274.9 136.4L275.3 137.3L275.6 138.1L276.1 139.8L276.4 141.5L276.3 143.3L276 145L275.4 146.7L275.3 147L274.4 148.4L273.5 149.4L272.7 150.2L271.8 150.8L270.1 151.7L269.5 151.9L268.3 152.3L266.6 152.8L264.9 153.2L263.2 153.6L263.1 153.6L261.4 154.4L259.7 155.1L259 155.3L258 155.7L256.2 156.1L254.5 156.4L252.8 156.7L251 156.8L249.3 156.8L247.6 156.8L245.8 156.7L244.1 156.5L242.4 156.5L240.6 156.6L238.9 156.9L237.6 157.1L237.2 157.1L235.4 157.4L233.7 157.5L232 157.7L230.3 157.7L228.5 157.7L226.8 157.6L225.1 157.4L223.3 157.1ZM223.7 103.6L225.1 103L225.8 103.6L225.1 105.2ZM243.1 93.2L242.4 92.4L241.8 91.5L241.4 89.8L241.5 88L242.2 86.3L242.4 86L243.6 84.6L244.1 84.2L245.8 83.3L247.6 83.1L249.3 83.5L250.8 84.6L251 84.9L251.6 86.3L251.4 88L251 89.1L250.6 89.8L249.5 91.5L249.3 91.8L247.8 93.2L247.6 93.4L245.8 94.1L244.1 93.9ZM53.7 83.2L55.4 83.6L57.1 83.9L58.9 84.1L60.6 84.2L62.3 84.3L64.1 84.2L65.8 84L67.5 83.8L69.2 83.5L71 83.1L72.1 82.8L72.7 82.7L74.4 82.2L76.2 81.7L77.9 81.1L77.9 81.1L79.6 80.6L81.4 80L83.1 79.5L83.4 79.4L84.8 79L86.6 78.5L88.3 78.1L90 77.7L90.4 77.7L91.8 77.4L93.5 77.1L95.2 76.9L97 76.6L98.7 76.4L100.4 76.1L101 75.9L102.1 75.7L103.9 75.1L105.6 74.2L105.6 74.2L107.2 72.5L107.3 72.3L107.9 70.8L108 69L107.7 67.3L107.3 66.3L107 65.6L106 63.9L105.6 63.5L103.9 62.1L102.1 62.2L100.4 62.6L98.7 62.9L97 63L95.2 62.7L93.9 62.1L93.5 62L91.8 60.7L91.5 60.4L90.1 58.7L90 58.5L89.2 57L88.5 55.2L88.3 54.8L87.8 53.5L87.1 51.8L86.6 50.8L86 50.1L85 48.3L84.8 48L83.9 46.6L83.1 44.9L83.1 44.9L81.9 43.1L81.4 42.4L80.2 41.4L79.6 40.9L77.9 40.2L76.2 40.2L74.4 40.6L72.8 41.4L72.7 41.5L71 42.4L69.8 43.1L69.2 43.5L67.5 44.4L66.7 44.9L65.8 45.3L64.1 46.1L62.8 46.6L62.3 46.8L60.6 47.4L58.9 47.9L57.1 48.3L56.9 48.3L55.4 48.6L53.7 49L51.9 49.3L50.2 49.5L48.5 49.8L46.8 50.1L46.7 50.1L45 50.3L43.3 50.6L41.5 51L39.8 51.3L38.1 51.7L37.5 51.8L36.4 52L34.6 52.4L32.9 52.7L31.2 53L29.4 53.2L27.7 53.3L26 53.3L24.2 53.3L22.5 53.2L20.8 53.1L19 53L17.3 52.9L15.6 52.9L13.8 52.9L12.1 52.9L10.4 53L8.7 53.1L6.9 53.2L5.2 53.4L4.4 53.5L3.5 53.7L1.7 54.1L0 54.7L-1.2 55.2L-1.7 55.5L-3.5 56.6L-3.9 57L-5.2 58.1L-5.7 58.7L-6.9 60.4L-6.9 60.4L-6.9 62.1L-6.9 63.9L-6.9 65.6L-6.9 67.3L-6.9 68.3L-6.5 69L-5.2 70.8L-5.2 70.8L-3.5 72.5L-3.5 72.5L-1.7 73.9L-1.4 74.2L0 75.2L0.9 75.9L1.7 76.4L3.5 77.5L3.7 77.7L5.2 78.4L6.9 79L8.7 79.3L10.4 79.4L12.1 79.2L13.8 79L15.6 78.7L17.3 78.4L19 78.1L20.8 77.7L21.2 77.7L22.5 77.4L24.2 77.2L26 77L27.7 76.9L29.4 76.9L31.2 76.9L32.9 77.1L34.6 77.3L36.4 77.6L36.7 77.7L38.1 77.9L39.8 78.4L41.5 78.9L42.9 79.4L43.3 79.5L45 80.2L46.7 80.9L47.3 81.1L48.5 81.6L50.2 82.2L51.9 82.8L52.3 82.8ZM52.2 79.4L51.9 79.4L50.2 78.8L48.5 78.2L47.3 77.7L46.7 77.4L45 76.5L43.7 75.9L43.3 75.7L41.5 74.9L39.8 74.3L39.5 74.2L38.1 73.7L36.4 73.2L34.6 72.8L32.9 72.5L32.8 72.5L31.2 72.2L29.4 71.9L27.7 71.9L26 71.9L24.2 72.2L22.8 72.5L22.5 72.5L20.8 73L19 73.5L17.3 74.1L17.1 74.2L15.6 74.7L13.8 75.2L12.1 75.7L11 75.9L10.4 76L8.7 76.1L7 75.9L6.9 75.9L5.2 74.8L4.5 74.2L3.5 73L3 72.5L1.9 70.8L1.7 70.4L1.1 69L0.7 67.3L0.7 65.6L1.2 63.9L1.7 62.8L2.2 62.1L3.5 61L4.3 60.4L5.2 59.9L6.9 59.3L8.7 58.8L9.6 58.7L10.4 58.6L12.1 58.5L13.8 58.5L15.6 58.5L17.3 58.7L17.3 58.7L19 58.9L20.8 59.1L22.5 59.3L24.2 59.4L26 59.5L27.7 59.4L29.4 59.3L31.2 59L32.9 58.7L33.1 58.7L34.6 58.4L36.4 58L38.1 57.7L39.8 57.3L41.2 57L41.5 56.9L43.3 56.6L45 56.3L46.7 56L48.5 55.8L50.2 55.6L51.9 55.4L53.7 55.3L55.4 55.2L57.1 55.2L58.9 55.3L60.6 55.4L62.3 55.5L64.1 55.5L65.8 55.5L66.9 55.2L67.5 55.1L69.2 54.4L70.6 53.5L71 53.3L72.7 52.1L73.2 51.8L74.4 51.2L76.2 50.5L77.9 50.4L79.6 50.9L81.2 51.8L81.4 51.9L82.8 53.5L83.1 54.1L83.5 55.2L83.8 57L84 58.7L84.2 60.4L84.3 62.1L84.3 63.9L83.9 65.6L83.1 66.8L82.7 67.3L81.4 68.3L80 69L79.6 69.2L77.9 70L76.4 70.8L76.2 70.9L74.4 71.8L73.4 72.5L72.7 72.9L71 74.1L70.8 74.2L69.2 75.2L68.2 75.9L67.5 76.3L65.8 77.3L65.1 77.7L64.1 78.1L62.3 78.7L60.6 79.2L59.8 79.4L58.9 79.5L57.1 79.7L55.4 79.8L53.7 79.6ZM263.1 62.9L264.9 63.6L266.6 63.8L268.3 63.5L270.1 62.7L270.6 62.1L271.6 60.4L271.8 60.1L272.5 58.7L273.5 57.4L274 57L275.3 56L277 55.2L277 55.2L278.5 53.5L278.7 53L279.3 51.8L279.7 50.1L279.7 48.3L279.2 46.6L278.7 45.8L278 44.9L277 44L275.7 43.1L275.3 42.9L273.5 42.2L271.8 41.7L270.9 41.4L270.1 41.2L268.3 40.7L266.6 40.2L265.1 39.7L264.9 39.6L263.1 39.4L261.4 39.5L260.6 39.7L259.7 40.1L258 41.3L257.8 41.4L256.7 43.1L256.2 44.9L256.7 46.6L257.6 48.3L258 48.9L258.8 50.1L259.7 51.8L259.7 51.8L259.9 53.5L259.9 55.2L259.9 57L260.1 58.7L260.7 60.4L261.4 61.5L262 62.1ZM266.6 57L266.4 55.2L266.6 54.1L266.8 53.5L267.7 51.8L268.3 51L269.6 50.1L270.1 49.8L271.8 49.4L273.5 49.9L273.7 50.1L274.2 51.8L273.5 52.8L272.9 53.5L271.8 54.3L270.7 55.2L270.1 56L269 57L268.3 57.7L266.6 57.1ZM8.7 -1.7L10.4 -1.6L12.1 -1.5L13.8 -1.4L15.6 -1.3L17.3 -1.3L19 -1.2L20.8 -1.1L22.5 -1.1L24.2 -1.1L26 -1.2L27.7 -1.3L29.4 -1.4L31.2 -1.5L32.9 -1.6L34.6 -1.6L36.4 -1.6L38.1 -1.4L39.8 -1.2L41.5 -1L43.3 -0.7L45 -0.4L46.7 -0.2L48.5 -0.1L50.2 -0L51.9 -0.1L53.7 -0.2L55.4 -0.5L57.1 -0.8L58.9 -1.2L60.6 -1.6L61 -1.7L62.3 -2L64.1 -2.5L65.8 -2.9L67.5 -3.4L67.9 -3.5L69.2 -3.8L71 -4.3L72.7 -4.7L74.4 -5.1L74.7 -5.2L76.2 -5.5L77.9 -5.9L79.6 -6.2L81.4 -6.5L83.1 -6.8L83.7 -6.9L83.1 -6.9L81.4 -6.9L79.6 -6.9L77.9 -6.9L76.2 -6.9L74.4 -6.9L72.7 -6.9L71 -6.9L69.2 -6.9L67.5 -6.9L65.8 -6.9L64.1 -6.9L62.3 -6.9L60.6 -6.9L58.9 -6.9L57.1 -6.9L55.4 -6.9L53.7 -6.9L51.9 -6.9L50.2 -6.9L48.5 -6.9L46.7 -6.9L45 -6.9L43.3 -6.9L41.5 -6.9L39.8 -6.9L38.1 -6.9L36.4 -6.9L34.6 -6.9L32.9 -6.9L31.2 -6.9L29.4 -6.9L27.7 -6.9L26 -6.9L24.2 -6.9L22.5 -6.9L20.8 -6.9L19 -6.9L17.3 -6.9L15.6 -6.9L13.8 -6.9L12.1 -6.9L10.4 -6.9L8.7 -6.9L6.9 -6.9L5.2 -6.9L3.5 -6.9L1.7 -6.9L0 -6.9L-1.7 -6.9L-3.5 -6.9L-5.2 -6.9L-6.9 -6.9L-6.9 -5.2L-6.9 -3.5L-6.9 -2.6L-5.2 -2.6L-3.5 -2.6L-1.7 -2.6L0 -2.5L1.7 -2.4L3.5 -2.2L5.2 -2L6.9 -1.8L8.5 -1.7Z"/>
<path fill="#9ee1f7" stroke="#9ee1f7" stroke-width="0.3" fill-rule="evenodd" d="M114.3 178.5L115.3 179.5L116 179.5L117.7 179.5L119.5 179.5L121.2 179.5L122.9 179.5L124.2 179.5L124.6 178.2L124.8 177.8L124.9 176.1L124.7 174.3L124.7 173.8L124.4 172.6L123.9 170.9L123.2 169.1L122.9 168.5L122.2 167.4L121.2 166.2L120.1 165.7L119.5 165.5L117.7 165.7L117.7 165.7L116 166.7L115.2 167.4L114.3 168.3L113.6 169.1L112.5 170.8L112.5 170.9L112 172.6L112.1 174.3L112.5 175.9L112.6 176.1L113.7 177.8ZM167.9 179.5L169.7 179.5L171.4 179.5L173.1 179.5L174.9 179.5L176.6 179.5L178.3 179.5L180 179.5L181.8 179.5L183.5 179.5L185.2 179.5L187 179.5L188.7 179.5L190.4 179.5L192.2 179.5L193.9 179.5L195.6 179.5L197.4 179.5L199.1 179.5L200.8 179.5L202.6 179.5L204.3 179.5L206 179.5L207.8 179.5L209.5 179.5L211.2 179.5L212.9 179.5L214.7 179.5L216.4 179.5L218.1 179.5L219.6 179.5L219.9 179.4L221.6 179.1L223.3 178.8L225.1 178.4L226.8 178.1L228.1 177.8L228.5 177.7L230.3 177.3L232 177L233.7 176.6L235.5 176.3L236.6 176.1L237.2 176L238.9 175.7L240.6 175.5L242.4 175.3L244.1 175.3L245.8 175.3L247.6 175.4L249.3 175.5L251 175.8L252.8 176L252.8 176.1L254.5 176.4L256.2 176.7L258 177.1L259.7 177.5L260.8 177.8L261.4 177.9L263.1 178.3L264.9 178.7L266.6 179.1L268.3 179.4L269 179.5L270.1 179.5L271.8 179.5L273.5 179.5L275.3 179.5L277 179.5L278.7 179.5L280.5 179.5L281.2 179.5L282.2 179.3L283.9 178.9L283.9 177.8L283.9 176.1L283.9 174.3L283.9 172.6L283.9 170.9L283.9 169.1L283.9 167.4L283.9 165.7L283.9 164L283.9 162.2L283.9 160.9L282.7 162.2L282.2 162.8L280.7 164L280.5 164.1L278.7 165.1L277 165.7L277 165.7L275.3 165.8L273.7 165.7L273.5 165.7L271.8 165.4L270.1 165.1L268.3 164.8L266.6 164.6L264.9 164.4L263.1 164.2L261.4 164.2L259.7 164.1L258 164.1L256.2 164.1L254.5 164.1L252.8 164L252.7 164L251 163.9L249.3 163.7L247.6 163.5L245.8 163.4L244.1 163.3L242.4 163.4L240.6 163.6L238.9 163.9L238.4 164L237.2 164.2L235.4 164.6L233.7 165L232 165.3L230.3 165.6L229.3 165.7L228.5 165.8L226.8 165.9L225.1 166L223.3 166L221.6 165.9L219.9 165.8L218.9 165.7L218.1 165.6L216.4 165.4L214.7 165.1L212.9 164.8L211.2 164.4L209.5 164.2L207.8 164L206 164L204.3 164.1L202.6 164.3L200.8 164.5L199.1 164.8L197.4 165.1L195.6 165.3L193.9 165.5L192.2 165.7L192 165.7L190.4 165.8L188.7 165.8L187.1 165.7L187 165.7L185.2 165.5L183.5 165.1L181.8 164.5L180.7 164L180 163.6L178.3 162.5L178 162.2L176.6 161L176.2 160.5L174.9 158.8L174.9 158.8L173.9 157.1L173.1 155.3L173.1 155.3L172.7 153.6L172.4 151.9L172.2 150.2L171.9 148.4L171.6 146.7L171.4 145.7L171.3 145L170.9 143.3L170.4 141.5L169.9 139.8L169.7 139L169.3 138.1L168.7 136.4L167.9 134.6L167.9 134.6L167.1 132.9L166.2 131.2L166.2 131.2L165.2 129.4L164.5 128.2L164.1 127.7L162.7 126.1L162.6 126L161 124.7L160.3 124.3L159.3 123.7L157.5 122.8L157.2 122.5L155.8 121.6L154.9 120.8L154.1 119.8L153.6 119.1L153.1 117.4L153.1 115.6L154.1 114L154.1 113.9L155.8 112.9L157.5 112.3L157.8 112.2L159.3 111.8L161 111.2L162.7 110.6L163 110.5L164.5 109.9L166.2 109.2L167.3 108.7L167.9 108.5L169.7 107.9L171.4 107.5L173.1 107.1L173.8 107L174.9 106.9L176.6 106.8L178.3 106.8L180 107L180.4 107L181.8 107.3L183.5 107.8L185.2 108.5L185.7 108.7L187 109.3L188.7 110.1L190.4 110.5L192.2 109.6L193.4 108.7L193.9 108.2L194.9 107L195.6 106.1L196.3 105.3L197.4 104L197.7 103.6L199.1 102.2L199.5 101.8L200.8 100.8L201.7 100.1L202.6 99.5L203.9 98.4L204.3 98.1L206 96.7L206 96.6L207.8 95L207.8 94.9L209.3 93.2L209.5 93.1L210.8 91.5L211.2 91L212.2 89.8L212.9 89L213.8 88L214.7 87.1L215.6 86.3L216.4 85.7L218.1 84.7L219.4 84.6L219.9 84.5L220.1 84.6L221.6 84.9L223.3 85.3L225.1 85.7L226.8 85.9L228.5 85.9L230.3 85.6L232 84.9L232.5 84.6L233.7 84L235.4 82.9L235.5 82.8L237.2 81.7L238 81.1L238.9 80.5L240.5 79.4L240.6 79.3L242.4 78.4L244.1 77.7L244.3 77.7L245.8 77.3L247.6 77.3L249.2 77.7L249.3 77.7L251 78.6L251.8 79.4L252.8 80.4L253.3 81.1L254.2 82.8L254.5 83.6L254.8 84.6L255 86.3L254.9 88L254.6 89.8L254.5 90.7L254.3 91.5L254.1 93.2L253.9 94.9L253.9 96.7L254 98.4L254.5 100.1L254.5 100.2L255.3 101.8L256.2 103.1L256.7 103.6L258 104.6L259 105.3L259.7 105.7L261.4 106.4L263 107L263.1 107L264.9 107.6L266.6 108L268.3 108.3L270.1 108.6L270.7 108.7L271.8 109L273.5 109.3L275.3 109.8L277 110.5L277 110.5L278.7 112L278.9 112.2L280.2 113.9L280.5 114.4L281.2 115.6L281.9 117.4L282.2 118.3L282.5 119.1L282.9 120.8L283.3 122.5L283.6 124.3L283.9 126L283.9 126.1L283.9 126L283.9 124.3L283.9 122.5L283.9 120.8L283.9 119.1L283.9 117.4L283.9 115.6L283.9 113.9L283.9 112.2L283.9 110.5L283.9 110L282.5 108.7L282.2 108.5L280.5 107.3L279.9 107L278.7 106.4L277 105.7L275.8 105.3L275.3 105.1L273.5 104.6L271.8 104.2L270.1 103.8L269.2 103.6L268.3 103.3L266.6 102.8L264.9 102.1L264.3 101.8L263.1 101.3L261.5 100.1L261.4 100.1L259.7 98.4L259.7 98.3L258.6 96.7L258 95.1L257.9 94.9L257.4 93.2L257.2 91.5L257.2 89.8L257.3 88L257.3 86.3L257.3 84.6L257 82.8L256.6 81.1L256.2 79.8L256.1 79.4L255.4 77.7L254.6 75.9L254.5 75.7L253.6 74.2L252.8 72.8L252.4 72.5L251 71.5L249.3 71.2L247.6 71.5L245.8 72L244.8 72.5L244.1 72.8L242.4 73.6L241.4 74.2L240.6 74.6L238.9 75.6L238.3 75.9L237.2 76.6L235.4 77.5L234.9 77.7L233.7 78.2L232 78.7L230.3 79L228.5 79.1L226.8 79.1L225.1 78.9L223.3 78.8L221.6 78.6L219.9 78.6L218.1 78.8L216.4 79.1L215.6 79.4L214.7 79.7L212.9 80.5L211.5 81.1L211.2 81.3L209.5 82.2L208 82.8L207.8 83L206 83.8L204.3 84.6L204.3 84.6L202.6 85.3L200.8 85.9L199.3 86.3L199.1 86.4L197.4 86.8L195.6 87.2L193.9 87.6L192.2 87.9L191.4 88L190.4 88.2L188.7 88.6L187 89L185.2 89.4L183.9 89.8L183.5 89.9L181.8 90.4L180 90.8L178.3 91.3L177.7 91.5L176.6 91.8L174.9 92.2L173.1 92.7L171.4 93L170.6 93.2L169.7 93.4L167.9 93.7L166.2 94L164.5 94.3L162.7 94.4L161 94.4L159.3 94.3L157.5 93.9L155.8 93.4L155.5 93.2L154.1 92.7L152.3 91.9L151.5 91.5L150.6 91.1L148.9 90.3L147.7 89.8L147.2 89.5L145.4 88.8L143.7 88.1L143.5 88L142 87.5L140.2 86.9L138.5 86.3L138.4 86.3L136.8 85.9L135 85.5L133.3 85.1L131.6 84.8L130.4 84.6L129.8 84.5L128.1 84.2L126.4 83.8L124.6 83.4L123.2 82.8L122.9 82.7L121.2 81.9L120.2 81.1L119.5 80.5L118.6 79.4L117.7 78L117.6 77.7L116.8 75.9L116.1 74.2L116 73.9L115.5 72.5L114.8 70.8L114.3 69.7L114 69L113 67.3L112.5 66.7L111.8 65.6L110.8 64.6L110.2 63.9L109.1 62.7L108.6 62.1L107.3 61L106.4 60.4L105.6 59.9L103.9 59.5L102.1 59.5L100.4 59.6L98.7 59.6L97 59.2L95.8 58.7L95.2 58.4L93.5 57L93.4 57L92 55.2L91.8 55L90.8 53.5L90 52.2L89.8 51.8L88.8 50.1L88.3 48.9L88 48.3L87.4 46.6L87 44.9L86.7 43.1L86.6 42.3L86.4 41.4L86.1 39.7L85.9 38L85.9 36.2L86 34.5L86.5 32.8L86.6 32.4L86.9 31.1L87 29.3L86.6 28.7L84.9 27.6L84.8 27.6L83.1 27.4L81.4 27.4L79.6 27.4L77.9 27L76.3 25.9L76.2 24.7L76 25.9L74.6 27.6L74.4 27.7L72.8 29.3L72.7 29.4L71 30.9L70.8 31.1L69.3 32.8L69.2 32.8L68.5 34.5L67.5 35.7L66.9 36.2L65.8 37.1L64.3 38L64.1 38.1L62.3 39L60.9 39.7L60.6 39.8L58.9 40.6L57.1 41.3L56.9 41.4L55.4 42L53.7 42.6L51.9 43.1L51.9 43.1L50.2 43.5L48.5 43.9L46.7 44.3L45 44.7L44 44.9L43.3 45L41.5 45.4L39.8 45.8L38.1 46.3L36.7 46.6L36.4 46.7L34.6 47.1L32.9 47.5L31.2 47.8L29.4 48.1L27.7 48.3L27.6 48.3L26 48.4L24.6 48.3L24.2 48.3L22.5 48.3L20.8 48.2L19 48.2L17.3 48.2L15.6 48.2L13.8 48.3L13.8 48.3L12.1 48.4L10.4 48.5L8.7 48.6L6.9 48.7L5.2 48.8L3.5 48.8L1.7 48.9L0 49L-1.7 49.4L-3.5 49.8L-4.3 50.1L-5.2 50.3L-6.9 50.9L-6.9 51.8L-6.9 53.5L-6.9 55.2L-6.9 57L-6.9 58.7L-6.9 60.4L-5.7 58.7L-5.2 58.1L-3.9 57L-3.5 56.6L-1.7 55.5L-1.2 55.2L0 54.7L1.7 54.1L3.5 53.7L4.4 53.5L5.2 53.4L6.9 53.2L8.7 53.1L10.4 53L12.1 52.9L13.8 52.9L15.6 52.9L17.3 52.9L19 53L20.8 53.1L22.5 53.2L24.2 53.3L26 53.3L27.7 53.3L29.4 53.2L31.2 53L32.9 52.7L34.6 52.4L36.4 52L37.5 51.8L38.1 51.7L39.8 51.3L41.5 51L43.3 50.6L45 50.3L46.7 50.1L46.8 50.1L48.5 49.8L50.2 49.5L51.9 49.3L53.7 49L55.4 48.6L56.9 48.3L57.1 48.3L58.9 47.9L60.6 47.4L62.3 46.8L62.8 46.6L64.1 46.1L65.8 45.3L66.7 44.9L67.5 44.4L69.2 43.5L69.8 43.1L71 42.4L72.7 41.5L72.8 41.4L74.4 40.6L76.2 40.2L77.9 40.2L79.6 40.9L80.2 41.4L81.4 42.4L81.9 43.1L83.1 44.9L83.1 44.9L83.9 46.6L84.8 48L85 48.3L86 50.1L86.6 50.8L87.1 51.8L87.8 53.5L88.3 54.8L88.5 55.2L89.2 57L90 58.5L90.1 58.7L91.5 60.4L91.8 60.7L93.5 62L93.9 62.1L95.2 62.7L97 63L98.7 62.9L100.4 62.6L102.1 62.2L103.9 62.1L105.6 63.5L106 63.9L107 65.6L107.3 66.3L107.7 67.3L108 69L107.9 70.8L107.3 72.3L107.2 72.5L105.6 74.2L105.6 74.2L103.9 75.1L102.1 75.7L101 75.9L100.4 76.1L98.7 76.4L97 76.6L95.2 76.9L93.5 77.1L91.8 77.4L90.4 77.7L90 77.7L88.3 78.1L86.6 78.5L84.8 79L83.4 79.4L83.1 79.5L81.4 80L79.6 80.6L77.9 81.1L77.9 81.1L76.2 81.7L74.4 82.2L72.7 82.7L72.1 82.8L71 83.1L69.2 83.5L67.5 83.8L65.8 84L64.1 84.2L62.3 84.3L60.6 84.2L58.9 84.1L57.1 83.9L55.4 83.6L53.7 83.2L52.3 82.8L51.9 82.8L50.2 82.2L48.5 81.6L47.3 81.1L46.7 80.9L45 80.2L43.3 79.5L42.9 79.4L41.5 78.9L39.8 78.4L38.1 77.9L36.7 77.7L36.4 77.6L34.6 77.3L32.9 77.1L31.2 76.9L29.4 76.9L27.7 76.9L26 77L24.2 77.2L22.5 77.4L21.2 77.7L20.8 77.7L19 78.1L17.3 78.4L15.6 78.7L13.9 79L12.1 79.2L10.4 79.4L8.7 79.3L6.9 79L5.2 78.4L3.7 77.7L3.5 77.5L1.7 76.4L0.9 75.9L0 75.2L-1.4 74.2L-1.7 73.9L-3.5 72.5L-3.5 72.5L-5.2 70.8L-5.2 70.8L-6.5 69L-6.9 68.3L-6.9 69L-6.9 70.8L-6.9 72.5L-6.9 74.2L-6.9 75.9L-6.9 77.1L-5.2 77.5L-4.6 77.7L-3.5 77.9L-1.7 78.5L0 79.1L0.7 79.4L1.7 79.8L3.5 80.6L4.7 81.1L5.2 81.3L6.9 81.8L8.7 82L10.4 82.1L12.1 82.1L13.8 82L15.6 81.9L17.3 81.7L19 81.5L20.8 81.3L22 81.1L22.5 81.1L24.2 80.9L26 80.7L27.7 80.6L29.4 80.6L31.2 80.6L32.9 80.6L34.6 80.8L36.4 81L37.3 81.1L38.1 81.3L39.8 81.6L41.5 82.1L43.3 82.6L43.9 82.8L45 83.3L46.7 83.9L48.3 84.6L48.5 84.6L50.2 85.4L51.9 86.1L52.6 86.3L53.7 86.7L55.4 87.3L57.1 87.9L57.6 88L58.9 88.4L60.6 88.8L62.3 89.2L64.1 89.5L65.8 89.7L65.9 89.8L67.5 89.9L69.2 90L71 89.9L72.7 89.8L73.3 89.8L74.4 89.6L76.2 89.3L77.9 89L79.6 88.5L81.3 88L81.4 88L83.1 87.5L84.8 86.9L86.6 86.3L86.7 86.3L88.3 85.8L90 85.3L91.8 84.9L93.4 84.6L93.5 84.6L95.2 84.3L97 84.1L98.7 84L100.4 84L102.1 84.1L103.9 84.3L105.2 84.6L105.6 84.7L107.3 85.2L109.1 86L109.7 86.3L110.8 87.2L111.7 88L112.5 89.5L112.7 89.8L113.3 91.5L113.6 93.2L113.9 94.9L114 96.7L114 98.4L114 100.1L113.9 101.8L113.8 103.6L113.6 105.3L113.5 107L113.6 108.7L113.9 110.5L114.3 111.5L114.6 112.2L115.7 113.9L116 114.2L117.2 115.6L117.7 116.1L119 117.4L119.5 117.8L120.9 119.1L121.2 119.4L122.7 120.8L122.9 121L124.6 122.5L124.8 122.5L126.4 123.7L127.4 124.3L128.1 124.7L129.8 125.4L131.6 125.9L132 126L133.3 126.3L135 126.6L136.8 126.8L138.5 127.1L140.2 127.4L141.3 127.7L142 127.9L143.7 128.5L145.4 129.2L145.8 129.4L147.2 130.1L148.9 131.1L149 131.2L150.6 132.2L151.6 132.9L152.3 133.4L153.9 134.6L154.1 134.8L155.7 136.4L155.8 136.4L157.2 138.1L157.5 138.5L158.5 139.8L159.3 141.1L159.5 141.5L160.4 143.3L161 144.8L161.1 145L161.6 146.7L162.1 148.4L162.4 150.2L162.7 151.9L162.7 151.9L163 153.6L163.2 155.3L163.3 157.1L163.4 158.8L163.5 160.5L163.6 162.2L163.7 164L163.8 165.7L163.9 167.4L164.1 169.1L164.4 170.9L164.5 171.4L164.7 172.6L165.1 174.3L165.6 176.1L166.2 177.5L166.3 177.8L167.2 179.5ZM225.1 105.2L225.8 103.6L225.1 103L223.7 103.6ZM258 66.3L259.7 66.6L261.4 66.8L263.1 66.9L264.9 66.8L266.6 66.5L268.3 66L269.2 65.6L270.1 65.1L271.6 63.9L271.8 63.6L272.8 62.1L273.5 60.8L273.8 60.4L274.8 58.7L275.3 58.3L277 57L277.1 57L278.7 56L279.8 55.2L280.5 54.5L281.4 53.5L282.2 52.2L282.5 51.8L283.2 50.1L283.6 48.3L283.7 46.6L283.4 44.9L282.8 43.1L282.2 42.2L281.6 41.4L280.5 40.4L279.5 39.7L278.7 39.2L277 38.4L275.9 38L275.3 37.7L273.5 37.3L271.8 36.9L270.1 36.5L268.4 36.2L268.3 36.2L266.6 36.1L264.9 36L263.1 36.1L262.4 36.2L261.4 36.4L259.7 36.8L258 37.4L256.9 38L256.2 38.4L254.7 39.7L254.5 40L253.5 41.4L252.8 43.1L252.8 43.6L252.5 44.9L252.6 46.6L252.8 47.5L252.9 48.3L253.5 50.1L253.9 51.8L254.3 53.5L254.4 55.2L254.5 57L254.4 58.7L254.5 60.4L254.5 60.6L254.7 62.1L255.1 63.9L256.2 65.4L256.5 65.6ZM262 62.1L261.4 61.5L260.7 60.4L260.1 58.7L259.9 57L259.9 55.2L259.9 53.5L259.7 51.8L259.7 51.8L258.8 50.1L258 48.9L257.6 48.3L256.7 46.6L256.2 44.9L256.7 43.1L257.8 41.4L258 41.3L259.7 40.1L260.6 39.7L261.4 39.5L263.1 39.4L264.9 39.6L265.1 39.7L266.6 40.2L268.3 40.7L270.1 41.2L270.9 41.4L271.8 41.7L273.5 42.2L275.3 42.9L275.7 43.1L277 44L278 44.9L278.7 45.8L279.2 46.6L279.7 48.3L279.7 50.1L279.3 51.8L278.7 53L278.5 53.5L277 55.2L277 55.2L275.3 56L274 57L273.5 57.4L272.5 58.7L271.8 60.1L271.6 60.4L270.6 62.1L270.1 62.7L268.3 63.5L266.6 63.8L264.9 63.6L263.1 62.9ZM50.2 12.3L51.9 12.3L53.7 12.2L54.6 12.1L55.4 12L57.1 11.7L58.9 11.3L60.6 10.8L62.3 10.4L62.3 10.4L64.1 9.8L65.8 9.4L67.5 8.9L69 8.6L69.2 8.6L71 8.3L72.7 8L74.4 7.8L76.2 7.5L77.9 7.3L79.6 7L80.1 6.9L81.4 6.7L83.1 6.5L84.8 6.3L86.6 6.2L88.3 6.1L90 6L91.8 6.1L93.5 6.1L95.2 6.2L96.9 6.4L98.7 6.5L100.4 6.6L102.1 6.7L103.9 6.7L105.6 6.6L107.3 6.3L109.1 5.7L110.3 5.2L110.8 5L112.5 4.1L113.6 3.5L114.3 3.1L116 2.1L116.7 1.7L117.7 1.2L119.5 0.3L120.2 0L121.2 -0.4L122.9 -1L124.6 -1.6L125.3 -1.7L126.4 -2L128.1 -2.4L129.8 -2.6L131.6 -2.8L133.3 -3L135 -3.2L136.8 -3.4L137.4 -3.5L138.5 -3.6L140.2 -3.8L142 -4.1L143.7 -4.4L145.4 -4.8L147.2 -5.1L147.3 -5.2L148.9 -5.6L150.6 -6L152.4 -6.5L154.1 -6.8L154.5 -6.9L154.1 -6.9L152.3 -6.9L150.6 -6.9L148.9 -6.9L147.2 -6.9L145.4 -6.9L143.7 -6.9L142 -6.9L140.2 -6.9L138.5 -6.9L136.8 -6.9L135 -6.9L133.3 -6.9L131.6 -6.9L129.8 -6.9L128.1 -6.9L126.4 -6.9L124.6 -6.9L122.9 -6.9L121.2 -6.9L119.5 -6.9L117.7 -6.9L116 -6.9L114.3 -6.9L112.5 -6.9L110.8 -6.9L109.1 -6.9L107.3 -6.9L105.6 -6.9L103.9 -6.9L102.1 -6.9L100.4 -6.9L98.7 -6.9L97 -6.9L95.2 -6.9L93.5 -6.9L91.8 -6.9L90 -6.9L88.3 -6.9L86.6 -6.9L84.8 -6.9L83.7 -6.9L83.1 -6.8L81.4 -6.5L79.6 -6.2L77.9 -5.9L76.2 -5.5L74.7 -5.2L74.4 -5.1L72.7 -4.7L71 -4.3L69.2 -3.8L67.9 -3.5L67.5 -3.4L65.8 -2.9L64.1 -2.5L62.3 -2L61 -1.7L60.6 -1.6L58.9 -1.2L57.1 -0.8L55.4 -0.5L53.7 -0.2L51.9 -0.1L50.2 -0L48.5 -0.1L46.7 -0.2L45 -0.4L43.3 -0.7L41.5 -1L39.8 -1.2L38.1 -1.4L36.4 -1.6L34.6 -1.6L32.9 -1.6L31.2 -1.5L29.4 -1.4L27.7 -1.3L26 -1.2L24.2 -1.1L22.5 -1.1L20.8 -1.1L19 -1.2L17.3 -1.3L15.6 -1.3L13.9 -1.4L12.1 -1.5L10.4 -1.6L8.7 -1.7L8.5 -1.7L6.9 -1.8L5.2 -2L3.5 -2.2L1.7 -2.4L0 -2.5L-1.7 -2.6L-3.5 -2.6L-5.2 -2.6L-6.9 -2.6L-6.9 -1.7L-6.9 0L-6.9 1.7L-6.9 3.5L-6.9 5.2L-6.9 6.9L-6.9 8.6L-6.9 8.7L-5.2 8.9L-3.5 9.1L-1.7 9.2L0 9.3L1.7 9.1L3.5 8.8L4.7 8.6L5.2 8.5L6.9 8.3L8.7 8.1L10.4 7.9L12.1 7.9L13.8 7.8L15.6 7.8L17.3 7.9L19 8L20.8 8.1L22.5 8.3L24.2 8.4L26 8.6L27.7 8.6L29.4 8.5L31.2 8.4L32.9 8.3L34.6 8.3L36.4 8.4L37.7 8.6L38.1 8.7L39.8 9.1L41.5 9.6L43.3 10.2L43.6 10.4L45 10.9L46.7 11.5L48.5 12.1L48.5 12.1ZM169.7 -5.1L171.4 -4.7L173.1 -4.5L174.9 -4.4L176.6 -4.5L178.3 -4.8L180 -5.1L180.3 -5.2L181.8 -5.6L183.5 -6.1L185.2 -6.7L186 -6.9L185.2 -6.9L183.5 -6.9L181.8 -6.9L180 -6.9L178.3 -6.9L176.6 -6.9L174.9 -6.9L173.1 -6.9L171.4 -6.9L169.7 -6.9L167.9 -6.9L166.2 -6.9L164.5 -6.9L162.7 -6.9L161.9 -6.9L162.7 -6.8L164.5 -6.4L166.2 -6L167.9 -5.5L169.2 -5.2Z"/>
<path fill="#c3ecfa" stroke="#c3ecfa" stroke-width="0.3" fill-rule="evenodd" d="M103.9 179.5L105.6 179.5L107.3 179.5L109.1 179.5L110.8 179.5L112.5 179.5L114.3 179.5L115.3 179.5L114.3 178.5L113.7 177.8L112.6 176.1L112.5 175.9L112.1 174.3L112 172.6L112.5 170.9L112.5 170.8L113.6 169.1L114.3 168.3L115.2 167.4L116 166.7L117.7 165.7L117.7 165.7L119.5 165.5L120.1 165.7L121.2 166.2L122.2 167.4L122.9 168.5L123.2 169.1L123.9 170.9L124.4 172.6L124.7 173.8L124.7 174.3L124.9 176.1L124.8 177.8L124.6 178.2L124.2 179.5L124.6 179.5L126.4 179.5L128.1 179.5L129.8 179.5L131.6 179.5L133.3 179.5L135 179.5L136.8 179.5L138.5 179.5L140.2 179.5L142 179.5L143.7 179.5L145.4 179.5L147.2 179.5L148.9 179.5L150.6 179.5L152.3 179.5L154.1 179.5L155.8 179.5L157.5 179.5L159.3 179.5L161 179.5L162.7 179.5L164.5 179.5L166.2 179.5L167.2 179.5L166.3 177.8L166.2 177.5L165.6 176.1L165.1 174.3L164.7 172.6L164.5 171.4L164.4 170.9L164.1 169.1L163.9 167.4L163.8 165.7L163.7 164L163.6 162.2L163.5 160.5L163.4 158.8L163.3 157.1L163.2 155.3L163 153.6L162.7 151.9L162.7 151.9L162.4 150.2L162.1 148.4L161.6 146.7L161.1 145L161 144.8L160.4 143.3L159.5 141.5L159.3 141.1L158.5 139.8L157.5 138.5L157.2 138.1L155.8 136.4L155.7 136.4L154.1 134.8L153.9 134.6L152.3 133.4L151.6 132.9L150.6 132.2L149 131.2L148.9 131.1L147.2 130.1L145.8 129.4L145.4 129.2L143.7 128.5L142 127.9L141.3 127.7L140.2 127.4L138.5 127.1L136.8 126.8L135 126.6L133.3 126.3L132 126L131.6 125.9L129.8 125.4L128.1 124.7L127.4 124.3L126.4 123.7L124.8 122.5L124.6 122.5L122.9 121L122.7 120.8L121.2 119.4L120.9 119.1L119.5 117.8L119 117.4L117.7 116.1L117.2 115.6L116 114.2L115.7 113.9L114.6 112.2L114.3 111.5L113.9 110.5L113.6 108.7L113.5 107L113.6 105.3L113.8 103.6L113.9 101.8L114 100.1L114 98.4L114 96.7L113.9 94.9L113.6 93.2L113.3 91.5L112.7 89.8L112.5 89.5L111.7 88L110.8 87.2L109.7 86.3L109.1 86L107.3 85.2L105.6 84.7L105.2 84.6L103.9 84.3L102.1 84.1L100.4 84L98.7 84L97 84.1L95.2 84.3L93.5 84.6L93.4 84.6L91.8 84.9L90 85.3L88.3 85.8L86.7 86.3L86.6 86.3L84.8 86.9L83.1 87.5L81.4 88L81.3 88L79.6 88.5L77.9 89L76.2 89.3L74.4 89.6L73.3 89.8L72.7 89.8L71 89.9L69.2 90L67.5 89.9L65.9 89.8L65.8 89.7L64.1 89.5L62.3 89.2L60.6 88.8L58.9 88.4L57.6 88L57.1 87.9L55.4 87.3L53.7 86.7L52.6 86.3L51.9 86.1L50.2 85.4L48.5 84.6L48.3 84.6L46.7 83.9L45 83.3L43.9 82.8L43.3 82.6L41.5 82.1L39.8 81.6L38.1 81.3L37.3 81.1L36.4 81L34.6 80.8L32.9 80.6L31.2 80.6L29.4 80.6L27.7 80.6L26 80.7L24.2 80.9L22.5 81.1L22 81.1L20.8 81.3L19 81.5L17.3 81.7L15.6 81.9L13.8 82L12.1 82.1L10.4 82.1L8.7 82L6.9 81.8L5.2 81.3L4.7 81.1L3.5 80.6L1.7 79.8L0.7 79.4L0 79.1L-1.7 78.5L-3.5 77.9L-4.6 77.7L-5.2 77.5L-6.9 77.1L-6.9 77.7L-6.9 79.4L-6.9 81.1L-6.9 82.8L-6.9 84.6L-6.9 86.3L-6.9 86.8L-6.6 86.3L-5.2 84.7L-5.1 84.6L-3.5 83.6L-1.7 82.9L0 82.9L1.7 83.6L3.5 84.2L5.2 84.5L5.4 84.6L6.9 84.8L8.7 84.9L10.4 85L12.1 85L13.8 84.9L15.6 84.9L17.3 84.8L19 84.6L19.8 84.6L20.8 84.5L22.5 84.4L24.2 84.2L26 84.1L27.7 84L29.4 83.9L31.2 83.9L32.9 83.9L34.6 83.9L36.4 84.1L38.1 84.3L39.8 84.6L39.8 84.6L41.5 85L43.3 85.5L45 86.2L45.3 86.3L46.7 87L48.5 87.8L48.9 88L50.2 88.7L51.9 89.6L52.2 89.8L53.7 90.6L55.4 91.5L55.4 91.5L57.1 92.4L58.8 93.2L58.9 93.2L60.6 94.1L62.3 94.8L62.6 94.9L64.1 95.6L65.8 96.2L67.1 96.7L67.5 96.8L69.2 97.3L71 97.8L72.7 98.1L74.4 98.3L75.4 98.4L76.2 98.4L77.9 98.4L78.5 98.4L79.6 98.3L81.4 98.1L83.1 97.7L84.8 97.2L86.2 96.7L86.6 96.5L88.3 95.8L90 95L90.2 94.9L91.8 94.3L93.5 93.7L95.1 93.2L95.2 93.2L96.7 93.2L97 93.2L98.7 94.7L98.8 94.9L99.3 96.7L99.3 98.4L99.1 100.1L98.7 101.5L98.6 101.8L97.9 103.6L97.3 105.3L97 106.4L96.7 107L96.2 108.7L95.9 110.5L95.7 112.2L95.7 113.9L95.8 115.6L96.1 117.4L96.4 119.1L96.8 120.8L97 121.4L97.3 122.5L97.8 124.3L98.4 126L98.7 126.7L99.1 127.7L99.7 129.4L100.4 131.2L100.4 131.2L101.2 132.9L101.9 134.6L102.1 135.3L102.6 136.4L103.2 138.1L103.8 139.8L103.9 140L104.3 141.5L104.8 143.3L105.1 145L105.4 146.7L105.6 148.4L105.6 148.4L105.8 150.2L105.8 151.9L105.8 153.6L105.7 155.3L105.6 156.8L105.6 157.1L105.4 158.8L105.1 160.5L104.7 162.2L104.3 164L103.9 165.7L103.9 165.7L103.4 167.4L103 169.1L102.5 170.9L102.2 172.6L102.3 174.3L102.6 176.1L102.8 177.8L103 179.5ZM145.4 165.7L143.7 165.3L142 164.3L141.6 164L140.2 162.6L140 162.2L139.1 160.5L138.6 158.8L138.5 158.5L138.2 157.1L138 155.3L137.8 153.6L137.4 151.9L137.2 150.2L137.2 148.4L137.6 146.7L138.4 145L138.5 144.8L140 143.3L140.2 143.1L142 142.2L143.7 141.9L145.4 142.1L147.2 142.6L148.3 143.3L148.9 143.6L150.4 145L150.6 145.2L151.7 146.7L152.3 147.8L152.7 148.4L153.3 150.2L153.7 151.9L154 153.6L154 155.3L153.9 157.1L153.6 158.8L153.1 160.5L152.3 162.2L152.3 162.2L150.9 164L150.6 164.2L148.9 165.3L147.3 165.7L147.2 165.7L145.4 165.7ZM219.9 179.5L221.6 179.5L223.3 179.5L225.1 179.5L226.8 179.5L228.5 179.5L230.3 179.5L232 179.5L233.7 179.5L235.4 179.5L237.2 179.5L238.9 179.5L240.6 179.5L242.4 179.5L244.1 179.5L245.8 179.5L247.6 179.5L249.3 179.5L251 179.5L252.8 179.5L254.5 179.5L256.2 179.5L258 179.5L259.7 179.5L261.4 179.5L263.1 179.5L264.9 179.5L266.6 179.5L268.3 179.5L269 179.5L268.3 179.4L266.6 179.1L264.9 178.7L263.1 178.3L261.4 177.9L260.8 177.8L259.7 177.5L258 177.1L256.2 176.7L254.5 176.4L252.8 176.1L252.8 176L251 175.8L249.3 175.5L247.6 175.4L245.8 175.3L244.1 175.3L242.4 175.3L240.6 175.5L238.9 175.7L237.2 176L236.6 176.1L235.4 176.3L233.7 176.6L232 177L230.3 177.3L228.5 177.7L228.1 177.8L226.8 178.1L225.1 178.4L223.3 178.8L221.6 179.1L219.9 179.4L219.6 179.5ZM282.2 179.5L283.9 179.5L283.9 178.9L282.2 179.3L281.2 179.5ZM283.9 110L283.9 108.7L283.9 107L283.9 105.3L283.9 105L282.2 104L281.3 103.6L280.5 103.2L278.7 102.5L277 101.8L277 101.8L275.3 101.3L273.5 100.8L271.8 100.3L271.2 100.1L270.1 99.8L268.3 99.2L266.6 98.4L266.6 98.4L264.9 97.4L263.9 96.7L263.1 96L262.1 94.9L261.4 94L260.9 93.2L260.2 91.5L259.7 89.8L259.7 88L259.7 86.3L259.7 84.6L259.7 84.2L259.6 82.8L259.4 81.1L259.2 79.4L259 77.7L258.9 75.9L259 74.2L259.7 72.5L259.7 72.5L261.4 71.2L262.2 70.8L263.1 70.4L264.9 69.8L266.6 69.1L266.8 69L268.3 68.4L270.1 67.4L270.2 67.3L271.8 66.1L272.3 65.6L273.5 64.1L273.7 63.9L274.8 62.1L275.3 61.2L275.7 60.4L277 58.7L277 58.7L278.7 57.9L280.4 57L280.5 56.9L282.2 55.7L282.9 55.2L283.9 54.2L283.9 53.5L283.9 51.8L283.9 50.1L283.9 48.3L283.9 46.6L283.9 44.9L283.9 43.1L283.9 41.4L283.9 39.7L283.9 38L283.9 36.3L283.8 36.2L282.2 35.3L280.5 34.5L280.5 34.5L278.7 33.9L277 33.5L275.3 33.1L273.5 32.8L273.3 32.8L271.8 32.5L270.1 32.3L268.3 32.1L266.6 32L264.9 32L263.1 32.4L261.8 32.8L261.4 32.9L259.7 33.4L258 33.7L256.2 34.2L255.4 34.5L254.5 34.9L252.8 36.2L252.8 36.2L251.3 38L251 38.4L250.3 39.7L249.6 41.4L249.3 42.3L249 43.1L248.7 44.9L248.6 46.6L248.7 48.3L249 50.1L249.3 51.8L249.2 53.5L249 55.2L248.6 57L248 58.7L247.6 59.9L247.4 60.4L246.5 62.1L245.8 63.2L245.4 63.9L244.1 65.6L244.1 65.6L242.7 67.3L242.4 67.7L241.1 69L240.6 69.4L239 70.8L238.9 70.9L237.2 72L236.4 72.5L235.4 73L233.7 73.7L232 74.2L232 74.2L230.3 74.4L228.5 74.4L226.8 74.3L226.2 74.2L225.1 74.1L223.3 74L221.6 73.9L219.9 74L218.3 74.2L218.1 74.2L216.4 74.6L214.7 75.2L212.9 75.8L212.7 75.9L211.2 76.5L209.5 77.1L207.8 77.7L207.8 77.7L206 78.2L204.3 78.6L202.6 79L200.8 79.2L199.5 79.4L199.1 79.4L197.4 79.6L195.6 79.7L193.9 79.7L192.2 79.8L190.4 79.8L188.7 79.8L187 79.9L185.2 80L183.5 80.1L181.8 80.3L180 80.5L178.3 80.8L176.6 81.1L176.6 81.1L174.9 81.3L173.1 81.5L171.4 81.7L169.7 81.8L167.9 81.9L166.2 82L164.5 82L162.7 82L161 81.9L159.3 81.7L157.5 81.4L155.8 81.1L155.8 81.1L154.1 80.6L152.3 80.1L150.6 79.6L149.9 79.4L148.9 79.1L147.2 78.8L145.4 78.5L143.7 78.2L142 78L140.2 77.9L138.5 77.7L138.5 77.7L136.8 77.2L135 76.7L133.3 76.2L132.3 75.9L131.6 75.7L129.8 75.2L128.1 74.6L127.3 74.2L126.4 73.8L124.6 72.8L124.2 72.5L122.9 71.5L122.1 70.8L121.2 69.8L120.5 69L119.5 67.8L119.1 67.3L117.7 65.6L117.7 65.6L116.1 63.9L116 63.8L114.3 63.1L112.5 62.2L112.5 62.1L110.8 60.9L110.3 60.4L109.1 59.3L108.3 58.7L107.3 57.8L105.6 57L105.4 57L103.9 56.7L102.1 56.8L100.4 56.9L98.7 56.4L97 55.5L96.6 55.2L95.2 54.1L94.6 53.5L93.5 52.3L93.1 51.8L91.8 50.2L91.6 50.1L90.7 48.3L90.3 46.6L90.2 44.9L90.2 43.1L90.3 41.4L90.4 39.7L90.8 38L91.4 36.2L91.8 35.5L92.3 34.5L93.1 32.8L93.5 31.6L93.7 31.1L94.1 29.3L94.3 27.6L95 25.9L95.2 25.4L96.6 24.2L96.9 23.9L98.7 23.5L100.4 23.8L101 24.2L102.1 25L102.9 25.9L103.9 27.2L104.1 27.6L105.2 29.3L105.6 29.9L106.3 31.1L107.3 32.3L107.7 32.8L109.1 34L109.6 34.5L110.8 35.2L112.5 36L113.6 36.2L114.3 36.4L116 36.3L116.2 36.2L117.7 35.6L118.7 34.5L119.2 32.8L119.3 31.1L119.1 29.3L118.9 27.6L118.7 25.9L118.7 24.2L118.8 22.4L119.1 20.7L119.5 19.7L119.7 19L120.3 17.3L121 15.5L121.2 15.2L121.8 13.8L122.7 12.1L122.9 11.7L123.8 10.4L124.7 9.3L125.3 8.6L126.4 7.9L128.1 7L128.2 6.9L129.8 6.3L131.6 5.8L133.3 5.4L134.5 5.2L135 5.1L136.8 4.8L138.5 4.5L140.2 4.2L142 3.9L143.7 3.7L145.4 3.5L145.5 3.5L147.2 3.3L148.9 3.2L150.6 3.2L152.3 3.2L154.1 2.9L155.8 2.1L157.4 1.7L157.5 1.7L159.3 1.6L160.2 1.7L161 1.8L162.7 2.2L164.5 2.6L166.2 3.2L166.9 3.5L167.9 3.8L169.7 4.3L171.4 4.8L173.1 4.9L174.9 5L176.6 5.1L178.3 5.2L178.3 5.2L180 5.3L181.8 5.4L183.5 5.6L185.2 5.9L187 6.2L188.7 6.4L190.4 6.2L192.2 6L193.9 5.9L195.6 6L197.4 6.1L199.1 6.3L200.8 6.4L202.6 6.4L204.3 6.1L206 5.8L207.8 5.6L209.5 5.4L211.2 5.4L212.9 5.4L214.7 5.5L216.4 5.6L218.1 5.9L219.9 6.2L221.6 6.8L221.9 6.9L223.3 7.5L225.1 8.5L225.2 8.6L226.8 9.7L227.7 10.4L228.5 10.9L230.3 12.1L230.3 12.1L232 12.8L233.7 13.8L233.8 13.8L235.4 15.1L236 15.5L237.2 16.4L238.9 17.2L239.3 17.3L240.6 17.5L242.4 17.6L244.1 17.7L245.8 17.8L247.6 17.9L249.3 17.9L251 18L252.8 18.1L254.5 18.2L256.2 18.3L258 18.2L259.7 17.9L261.4 17.3L261.4 17.3L263.1 16.5L264.9 15.8L265.7 15.5L266.6 15.2L268.3 14.9L270.1 14.8L271.8 14.8L273.5 15L275.3 15.4L277 15.5L278.7 14.8L280.5 13.9L280.5 13.8L282.2 12.3L282.4 12.1L283.8 10.4L283.9 10.1L283.9 8.6L283.9 6.9L283.9 5.2L283.9 3.5L283.9 1.7L283.9 0L283.9 -1.7L283.9 -3.5L283.9 -5.2L283.9 -6.9L282.2 -6.9L280.5 -6.9L278.7 -6.9L277 -6.9L275.3 -6.9L273.5 -6.9L271.8 -6.9L270.1 -6.9L268.3 -6.9L266.6 -6.9L264.9 -6.9L263.1 -6.9L261.4 -6.9L259.7 -6.9L258 -6.9L256.2 -6.9L254.5 -6.9L252.8 -6.9L251 -6.9L249.3 -6.9L247.6 -6.9L245.8 -6.9L244.1 -6.9L242.4 -6.9L240.6 -6.9L238.9 -6.9L237.2 -6.9L235.4 -6.9L233.7 -6.9L232 -6.9L230.3 -6.9L228.5 -6.9L226.8 -6.9L225.1 -6.9L223.3 -6.9L221.6 -6.9L219.9 -6.9L218.1 -6.9L216.4 -6.9L214.7 -6.9L212.9 -6.9L211.2 -6.9L209.5 -6.9L207.8 -6.9L206 -6.9L204.3 -6.9L202.6 -6.9L200.8 -6.9L199.1 -6.9L197.4 -6.9L195.6 -6.9L193.9 -6.9L192.2 -6.9L190.4 -6.9L188.7 -6.9L187 -6.9L186 -6.9L185.2 -6.7L183.5 -6.1L181.8 -5.6L180.3 -5.2L180 -5.1L178.3 -4.8L176.6 -4.5L174.9 -4.4L173.1 -4.5L171.4 -4.7L169.7 -5.1L169.2 -5.2L167.9 -5.5L166.2 -6L164.5 -6.4L162.7 -6.8L161.9 -6.9L161 -6.9L159.3 -6.9L157.5 -6.9L155.8 -6.9L154.5 -6.9L154.1 -6.8L152.3 -6.5L150.6 -6L148.9 -5.6L147.3 -5.2L147.2 -5.1L145.4 -4.8L143.7 -4.4L142 -4.1L140.2 -3.8L138.5 -3.6L137.4 -3.5L136.8 -3.4L135 -3.2L133.3 -3L131.6 -2.8L129.8 -2.6L128.1 -2.4L126.4 -2L125.3 -1.7L124.6 -1.6L122.9 -1L121.2 -0.4L120.2 0L119.5 0.3L117.7 1.2L116.7 1.7L116 2.1L114.3 3.1L113.6 3.5L112.5 4.1L110.8 5L110.3 5.2L109.1 5.7L107.3 6.3L105.6 6.6L103.9 6.7L102.1 6.7L100.4 6.6L98.7 6.5L96.9 6.4L95.2 6.2L93.5 6.1L91.8 6.1L90 6L88.3 6.1L86.6 6.2L84.8 6.3L83.1 6.5L81.4 6.7L80.1 6.9L79.6 7L77.9 7.3L76.2 7.5L74.4 7.8L72.7 8L71 8.3L69.2 8.6L69 8.6L67.5 8.9L65.8 9.4L64.1 9.8L62.3 10.4L62.3 10.4L60.6 10.8L58.9 11.3L57.1 11.7L55.4 12L54.6 12.1L53.7 12.2L51.9 12.3L50.2 12.3L48.5 12.1L48.5 12.1L46.7 11.5L45 10.9L43.6 10.4L43.3 10.2L41.5 9.6L39.8 9.1L38.1 8.7L37.7 8.6L36.4 8.4L34.6 8.3L32.9 8.3L31.2 8.4L29.4 8.5L27.7 8.6L26 8.6L24.2 8.4L22.5 8.3L20.8 8.1L19 8L17.3 7.9L15.6 7.8L13.9 7.8L12.1 7.9L10.4 7.9L8.7 8.1L6.9 8.3L5.2 8.5L4.7 8.6L3.5 8.8L1.7 9.1L0 9.3L-1.7 9.2L-3.5 9.1L-5.2 8.9L-6.9 8.7L-6.9 10.4L-6.9 12.1L-6.9 13.8L-6.9 15.5L-6.9 16L-5.2 15.8L-3.5 15.7L-1.7 15.6L-0 15.5L0 15.5L1.7 15.3L3.5 15.1L5.2 14.9L6.9 14.7L8.7 14.6L10.4 14.5L12.1 14.4L13.8 14.4L15.6 14.5L17.3 14.6L19 14.7L20.8 14.8L22.5 14.9L24.2 15L26 15.1L27.7 15.2L29.4 15.2L31.2 15.2L32.9 15.3L34.6 15.5L35.2 15.5L36.4 15.7L38.1 16.1L39.8 16.6L41.5 17.2L41.8 17.3L43.3 17.9L45 18.6L45.8 19L46.7 19.4L48.5 20.3L49.3 20.7L50.2 21.3L51.9 22.4L51.9 22.4L53.7 24.1L53.7 24.2L54.8 25.9L55.2 27.6L55.1 29.3L54.5 31.1L53.7 32.1L53.2 32.8L51.9 33.9L51.3 34.5L50.2 35.2L48.5 36.2L48.5 36.2L46.7 37.2L45 38L45 38L43.3 38.7L41.5 39.3L40.5 39.7L39.8 40L38.1 40.6L36.4 41.2L35.9 41.4L34.6 41.8L32.9 42.3L31.2 42.7L29.4 43L27.7 43.1L27.7 43.2L26 43.4L24.2 43.6L22.5 43.7L20.8 43.7L19 43.7L17.3 43.8L15.6 44L13.9 44.3L12.1 44.5L10.4 44.7L8.7 44.9L8.4 44.9L6.9 45L5.2 45L3.5 45L1.7 44.9L0 44.9L-1.7 45L-3.5 45.2L-5.2 45.3L-6.9 45.5L-6.9 46.6L-6.9 48.3L-6.9 50.1L-6.9 50.9L-5.2 50.3L-4.3 50.1L-3.5 49.8L-1.7 49.4L0 49L1.7 48.9L3.5 48.8L5.2 48.8L6.9 48.7L8.7 48.6L10.4 48.5L12.1 48.4L13.8 48.3L13.8 48.3L15.6 48.2L17.3 48.2L19 48.2L20.8 48.2L22.5 48.3L24.2 48.3L24.6 48.3L26 48.4L27.6 48.3L27.7 48.3L29.4 48.1L31.2 47.8L32.9 47.5L34.6 47.1L36.4 46.7L36.7 46.6L38.1 46.3L39.8 45.8L41.5 45.4L43.3 45L44 44.9L45 44.7L46.7 44.3L48.5 43.9L50.2 43.5L51.9 43.1L51.9 43.1L53.7 42.6L55.4 42L56.9 41.4L57.1 41.3L58.9 40.6L60.6 39.8L60.9 39.7L62.3 39L64.1 38.1L64.3 38L65.8 37.1L66.9 36.2L67.5 35.7L68.5 34.5L69.2 32.8L69.3 32.8L70.8 31.1L71 30.9L72.7 29.4L72.8 29.3L74.4 27.7L74.6 27.6L76 25.9L76.2 24.7L76.3 25.9L77.9 27L79.6 27.4L81.4 27.4L83.1 27.4L84.8 27.6L84.9 27.6L86.6 28.7L87 29.3L86.9 31.1L86.6 32.4L86.5 32.8L86 34.5L85.9 36.2L85.9 38L86.1 39.7L86.4 41.4L86.6 42.3L86.7 43.1L87 44.9L87.4 46.6L88 48.3L88.3 48.9L88.8 50.1L89.8 51.8L90 52.2L90.8 53.5L91.8 55L92 55.2L93.4 57L93.5 57L95.2 58.4L95.8 58.7L97 59.2L98.7 59.6L100.4 59.6L102.1 59.5L103.9 59.5L105.6 59.9L106.4 60.4L107.3 61L108.6 62.1L109.1 62.7L110.2 63.9L110.8 64.6L111.8 65.6L112.5 66.7L113 67.3L114 69L114.3 69.7L114.8 70.8L115.5 72.5L116 73.9L116.1 74.2L116.8 75.9L117.6 77.7L117.7 78L118.6 79.4L119.5 80.5L120.2 81.1L121.2 81.9L122.9 82.7L123.2 82.8L124.6 83.4L126.4 83.8L128.1 84.2L129.8 84.5L130.4 84.6L131.6 84.8L133.3 85.1L135 85.5L136.8 85.9L138.4 86.3L138.5 86.3L140.2 86.9L142 87.5L143.5 88L143.7 88.1L145.4 88.8L147.2 89.5L147.7 89.8L148.9 90.3L150.6 91.1L151.5 91.5L152.3 91.9L154.1 92.7L155.5 93.2L155.8 93.4L157.5 93.9L159.3 94.3L161 94.4L162.7 94.4L164.5 94.3L166.2 94L167.9 93.7L169.7 93.4L170.6 93.2L171.4 93L173.1 92.7L174.9 92.2L176.6 91.8L177.7 91.5L178.3 91.3L180 90.8L181.8 90.4L183.5 89.9L183.9 89.8L185.2 89.4L187 89L188.7 88.6L190.4 88.2L191.4 88L192.2 87.9L193.9 87.6L195.6 87.2L197.4 86.8L199.1 86.4L199.3 86.3L200.8 85.9L202.6 85.3L204.3 84.6L204.3 84.6L206 83.8L207.8 83L208 82.8L209.5 82.2L211.2 81.3L211.5 81.1L212.9 80.5L214.7 79.7L215.6 79.4L216.4 79.1L218.1 78.8L219.9 78.6L221.6 78.6L223.3 78.8L225.1 78.9L226.8 79.1L228.5 79.1L230.3 79L232 78.7L233.7 78.2L234.9 77.7L235.4 77.5L237.2 76.6L238.3 75.9L238.9 75.6L240.6 74.6L241.4 74.2L242.4 73.6L244.1 72.8L244.8 72.5L245.8 72L247.6 71.5L249.3 71.2L251 71.5L252.4 72.5L252.8 72.8L253.6 74.2L254.5 75.7L254.6 75.9L255.4 77.7L256.1 79.4L256.2 79.8L256.6 81.1L257 82.8L257.3 84.6L257.3 86.3L257.3 88L257.2 89.8L257.2 91.5L257.4 93.2L257.9 94.9L258 95.1L258.6 96.7L259.7 98.3L259.7 98.4L261.4 100.1L261.5 100.1L263.1 101.3L264.3 101.8L264.9 102.1L266.6 102.8L268.3 103.3L269.2 103.6L270.1 103.8L271.8 104.2L273.5 104.6L275.3 105.1L275.8 105.3L277 105.7L278.7 106.4L279.9 107L280.5 107.3L282.2 108.5L282.5 108.7ZM256.5 65.6L256.2 65.4L255.1 63.9L254.7 62.1L254.5 60.6L254.5 60.4L254.4 58.7L254.5 57L254.4 55.2L254.3 53.5L253.9 51.8L253.5 50.1L252.9 48.3L252.8 47.5L252.6 46.6L252.5 44.9L252.8 43.6L252.8 43.1L253.5 41.4L254.5 40L254.7 39.7L256.2 38.4L256.9 38L258 37.4L259.7 36.8L261.4 36.4L262.4 36.2L263.1 36.1L264.9 36L266.6 36.1L268.3 36.2L268.4 36.2L270.1 36.5L271.8 36.9L273.5 37.3L275.3 37.7L275.9 38L277 38.4L278.7 39.2L279.5 39.7L280.5 40.4L281.6 41.4L282.2 42.2L282.8 43.1L283.4 44.9L283.7 46.6L283.6 48.3L283.2 50.1L282.5 51.8L282.2 52.2L281.4 53.5L280.5 54.5L279.8 55.2L278.7 56L277.1 57L277 57L275.3 58.3L274.8 58.7L273.8 60.4L273.5 60.8L272.8 62.1L271.8 63.6L271.6 63.9L270.1 65.1L269.2 65.6L268.3 66L266.6 66.5L264.9 66.8L263.1 66.9L261.4 66.8L259.7 66.6L258 66.3Z"/>
<path fill="#fff4d1" stroke="#fff4d1" stroke-width="0.3" fill-rule="evenodd" d="M-5.2 179.5L-3.5 179.5L-1.7 179.5L0 179.5L1.7 179.5L3.2 179.5L3.1 177.8L3 176.1L2.8 174.3L2.6 172.6L2.3 170.9L1.9 169.1L1.7 168.3L1.5 167.4L1 165.7L0.5 164L0 162.3L-0 162.2L-0.6 160.5L-1.1 158.8L-1.7 157.1L-1.7 157L-2.3 155.3L-2.8 153.6L-3.3 151.9L-3.5 151.5L-3.8 150.2L-4.3 148.4L-4.7 146.7L-5.1 145L-5.2 144.5L-5.4 143.3L-5.8 141.5L-6.1 139.8L-6.3 138.1L-6.6 136.4L-6.8 134.6L-6.9 133.9L-6.9 134.6L-6.9 136.4L-6.9 138.1L-6.9 139.8L-6.9 141.5L-6.9 143.3L-6.9 145L-6.9 146.7L-6.9 148.4L-6.9 150.2L-6.9 151.9L-6.9 153.6L-6.9 155.3L-6.9 157.1L-6.9 158.8L-6.9 160.5L-6.9 162.2L-6.9 164L-6.9 165.7L-6.9 167.4L-6.9 169.1L-6.9 170.9L-6.9 172.6L-6.9 174.3L-6.9 176.1L-6.9 177.8L-6.9 179.5ZM98.7 179.5L100.4 179.5L102.1 179.5L103 179.5L102.8 177.8L102.6 176.1L102.3 174.3L102.2 172.6L102.5 170.9L103 169.1L103.4 167.4L103.9 165.7L103.9 165.7L104.3 164L104.7 162.2L105.1 160.5L105.4 158.8L105.6 157.1L105.6 156.8L105.7 155.3L105.8 153.6L105.8 151.9L105.8 150.2L105.6 148.4L105.6 148.4L105.4 146.7L105.1 145L104.8 143.3L104.3 141.5L103.9 140L103.8 139.8L103.2 138.1L102.6 136.4L102.1 135.3L101.9 134.6L101.2 132.9L100.4 131.2L100.4 131.2L99.7 129.4L99.1 127.7L98.7 126.7L98.4 126L97.8 124.3L97.3 122.5L97 121.4L96.8 120.8L96.4 119.1L96.1 117.4L95.8 115.6L95.7 113.9L95.7 112.2L95.9 110.5L96.2 108.7L96.7 107L97 106.4L97.3 105.3L97.9 103.6L98.6 101.8L98.7 101.5L99.1 100.1L99.3 98.4L99.3 96.7L98.8 94.9L98.7 94.7L97 93.2L96.7 93.2L95.2 93.2L95.1 93.2L93.5 93.7L91.8 94.3L90.2 94.9L90 95L88.3 95.8L86.6 96.5L86.2 96.7L84.8 97.2L83.1 97.7L81.4 98.1L79.6 98.3L78.5 98.4L77.9 98.4L76.2 98.4L75.4 98.4L74.4 98.3L72.7 98.1L71 97.8L69.2 97.3L67.5 96.8L67.1 96.7L65.8 96.2L64.1 95.6L62.6 94.9L62.3 94.8L60.6 94.1L58.9 93.2L58.8 93.2L57.1 92.4L55.4 91.5L55.4 91.5L53.7 90.6L52.2 89.8L51.9 89.6L50.2 88.7L48.9 88L48.5 87.8L46.7 87L45.3 86.3L45 86.2L43.3 85.5L41.5 85L39.8 84.6L39.8 84.6L38.1 84.3L36.4 84.1L34.6 83.9L32.9 83.9L31.2 83.9L29.4 83.9L27.7 84L26 84.1L24.2 84.2L22.5 84.4L20.8 84.5L19.8 84.6L19 84.6L17.3 84.8L15.6 84.9L13.8 84.9L12.1 85L10.4 85L8.7 84.9L6.9 84.8L5.4 84.6L5.2 84.5L3.5 84.2L1.7 83.6L0 82.9L-1.7 82.9L-3.5 83.6L-5.1 84.6L-5.2 84.7L-6.6 86.3L-6.9 86.8L-6.9 88L-6.9 89.8L-6.9 91.5L-6.9 93.2L-6.9 94.9L-6.9 96.7L-6.9 98.4L-6.9 100.1L-6.9 101.8L-6.9 103.6L-6.9 105.3L-6.9 107L-6.9 108.7L-6.9 110.5L-6.9 112.2L-6.9 113.9L-6.9 115.6L-6.9 116.4L-6.8 115.6L-6.4 113.9L-5.9 112.2L-5.4 110.5L-5.2 110L-4.7 108.7L-4 107L-3.5 105.9L-3.2 105.3L-2.3 103.6L-1.7 102.4L-1.5 101.8L-0.7 100.1L-0 98.4L0 98.4L0.3 96.7L0.8 94.9L1.4 93.2L1.7 92.6L2.3 91.5L3.5 90.1L3.8 89.8L5.2 88.9L6.9 88.4L8.7 88.2L10.4 88.1L12.1 88L13.4 88L13.8 88L15.6 88L17.3 88L19 87.9L20.8 87.8L22.5 87.8L24.2 87.7L26 87.6L27.7 87.5L29.4 87.4L31.2 87.3L32.9 87.2L34.6 87.2L36.4 87.2L38.1 87.4L39.8 87.6L41.5 88L41.8 88L43.3 88.6L45 89.4L45.7 89.8L46.7 90.4L48.3 91.5L48.5 91.6L50.2 92.9L50.6 93.2L51.9 94.3L52.8 94.9L53.7 95.7L54.9 96.7L55.4 97.1L56.9 98.4L57.1 98.6L58.8 100.1L58.9 100.1L60.6 101.8L60.7 101.8L62.3 103.6L62.3 103.6L63.8 105.3L64.1 105.7L65 107L65.8 108.3L66.1 108.7L66.9 110.5L67.5 112.2L67.5 112.2L68 113.9L68.3 115.6L68.6 117.4L68.8 119.1L69.2 120.8L69.3 120.8L70.4 122.5L71 123.3L71.9 124.3L72.7 125L73.9 126L74.4 126.4L76.2 127.7L76.2 127.7L77.9 129L78.5 129.4L79.6 130.4L80.5 131.2L81.4 132L82.1 132.9L83.1 133.9L83.7 134.6L84.8 136L85.1 136.4L86.6 138.1L86.6 138.1L88 139.8L88.3 140.1L89.4 141.5L90 142.3L90.7 143.3L91.8 144.6L92 145L93.1 146.7L93.5 147.3L94.1 148.4L95 150.2L95.2 150.6L95.8 151.9L96.4 153.6L96.9 155.3L97 155.3L97.3 157.1L97.6 158.8L97.8 160.5L97.9 162.2L98.1 164L98.1 165.7L98.2 167.4L98.4 169.1L98.5 170.9L98.7 172.6L98.3 174.3L97.9 176.1L97.4 177.8L97.1 179.5ZM145.4 165.7L147.2 165.7L147.3 165.7L148.9 165.3L150.6 164.2L150.9 164L152.3 162.2L152.3 162.2L153.1 160.5L153.6 158.8L153.9 157.1L154 155.3L154 153.6L153.7 151.9L153.3 150.2L152.7 148.4L152.3 147.8L151.7 146.7L150.6 145.2L150.4 145L148.9 143.6L148.3 143.3L147.2 142.6L145.4 142.1L143.7 141.9L142 142.2L140.2 143.1L140 143.3L138.5 144.8L138.4 145L137.6 146.7L137.2 148.4L137.2 150.2L137.4 151.9L137.8 153.6L138 155.3L138.2 157.1L138.5 158.5L138.6 158.8L139.1 160.5L140 162.2L140.2 162.6L141.6 164L142 164.3L143.7 165.3L145.4 165.7ZM282.2 104L283.9 105L283.9 103.6L283.9 101.8L283.9 101L282.2 100.2L282 100.1L280.5 99.5L278.7 98.8L277.5 98.4L277 98.2L275.3 97.7L273.5 97.2L271.8 96.7L271.7 96.7L270.1 96L268.3 95.2L267.9 94.9L266.6 94L265.7 93.2L264.9 92.3L264.2 91.5L263.3 89.8L263.1 89.2L262.9 88L262.6 86.3L262.4 84.6L262.3 82.8L262.2 81.1L262.1 79.4L262.3 77.7L262.8 75.9L263.1 75.3L263.8 74.2L264.9 73.3L265.8 72.5L266.6 72L268.3 71L268.6 70.8L270.1 69.9L271.1 69L271.8 68.5L273.1 67.3L273.5 66.9L274.6 65.6L275.3 64.7L275.8 63.9L276.9 62.1L277 61.9L278.3 60.4L278.7 60.1L280.5 59.1L281.3 58.7L282.2 58.2L283.9 57.2L283.9 57L283.9 55.2L283.9 54.2L282.9 55.2L282.2 55.7L280.5 56.9L280.4 57L278.7 57.9L277 58.7L277 58.7L275.7 60.4L275.3 61.2L274.8 62.1L273.7 63.9L273.5 64.1L272.3 65.6L271.8 66.1L270.2 67.3L270.1 67.4L268.3 68.4L266.8 69L266.6 69.1L264.9 69.8L263.1 70.4L262.2 70.8L261.4 71.2L259.7 72.5L259.7 72.5L259 74.2L258.9 75.9L259 77.7L259.2 79.4L259.4 81.1L259.6 82.8L259.7 84.2L259.7 84.6L259.7 86.3L259.7 88L259.7 89.8L260.2 91.5L260.9 93.2L261.4 94L262.1 94.9L263.1 96L263.9 96.7L264.9 97.4L266.6 98.4L266.6 98.4L268.3 99.2L270.1 99.8L271.2 100.1L271.8 100.3L273.5 100.8L275.3 101.3L277 101.8L277 101.8L278.7 102.5L280.5 103.2L281.3 103.6ZM157.5 81.4L159.3 81.7L161 81.9L162.7 82L164.5 82L166.2 82L167.9 81.9L169.7 81.8L171.4 81.7L173.1 81.5L174.9 81.3L176.6 81.1L176.6 81.1L178.3 80.8L180 80.5L181.8 80.3L183.5 80.1L185.2 80L187 79.9L188.7 79.8L190.4 79.8L192.2 79.8L193.9 79.7L195.6 79.7L197.4 79.6L199.1 79.4L199.5 79.4L200.8 79.2L202.6 79L204.3 78.6L206 78.2L207.8 77.7L207.8 77.7L209.5 77.1L211.2 76.5L212.7 75.9L212.9 75.8L214.7 75.2L216.4 74.6L218.1 74.2L218.3 74.2L219.9 74L221.6 73.9L223.3 74L225.1 74.1L226.2 74.2L226.8 74.3L228.5 74.4L230.3 74.4L232 74.2L232 74.2L233.7 73.7L235.5 73L236.4 72.5L237.2 72L238.9 70.9L239 70.8L240.6 69.4L241.1 69L242.4 67.7L242.7 67.3L244.1 65.6L244.1 65.6L245.4 63.9L245.8 63.2L246.5 62.1L247.4 60.4L247.6 59.9L248 58.7L248.6 57L249 55.2L249.2 53.5L249.3 51.8L249 50.1L248.7 48.3L248.6 46.6L248.7 44.9L249 43.1L249.3 42.3L249.6 41.4L250.3 39.7L251 38.4L251.3 38L252.8 36.2L252.8 36.2L254.5 34.9L255.4 34.5L256.2 34.2L258 33.7L259.7 33.4L261.4 32.9L261.8 32.8L263.1 32.4L264.9 32L266.6 32L268.3 32.1L270.1 32.3L271.8 32.5L273.3 32.8L273.5 32.8L275.3 33.1L277 33.5L278.7 33.9L280.5 34.5L280.5 34.5L282.2 35.3L283.8 36.2L283.9 36.3L283.9 36.2L283.9 34.5L283.9 32.8L283.9 31.1L283.9 29.3L283.9 27.6L283.9 27.6L283.7 27.6L282.2 27.7L280.5 27.9L278.7 28L277 28L275.3 27.8L274.6 27.6L273.5 27.3L271.8 26.4L270.9 25.9L270.1 24.3L270 24.2L270.1 24.1L270.9 22.4L271.8 21.9L273.5 21.3L275.3 20.9L277 20.8L278.7 20.9L280.5 21.3L282.2 21.7L283.9 22.1L283.9 20.7L283.9 19L283.9 17.3L283.9 15.5L283.9 13.8L283.9 12.1L283.9 10.4L283.9 10.1L283.8 10.4L282.4 12.1L282.2 12.3L280.5 13.8L280.5 13.9L278.7 14.8L277 15.5L275.3 15.4L273.5 15L271.8 14.8L270.1 14.8L268.3 14.9L266.6 15.2L265.7 15.5L264.9 15.8L263.1 16.5L261.4 17.3L261.4 17.3L259.7 17.9L258 18.2L256.2 18.3L254.5 18.2L252.8 18.1L251 18L249.3 17.9L247.6 17.9L245.8 17.8L244.1 17.7L242.4 17.6L240.6 17.5L239.3 17.3L238.9 17.2L237.2 16.4L236 15.5L235.4 15.1L233.8 13.8L233.7 13.8L232 12.8L230.3 12.1L230.3 12.1L228.5 10.9L227.7 10.4L226.8 9.7L225.2 8.6L225.1 8.5L223.3 7.5L221.9 6.9L221.6 6.8L219.9 6.2L218.1 5.9L216.4 5.6L214.7 5.5L212.9 5.4L211.2 5.4L209.5 5.4L207.8 5.6L206 5.8L204.3 6.1L202.6 6.4L200.8 6.4L199.1 6.3L197.4 6.1L195.6 6L193.9 5.9L192.2 6L190.4 6.2L188.7 6.4L187 6.2L185.2 5.9L183.5 5.6L181.8 5.4L180 5.3L178.3 5.2L178.3 5.2L176.6 5.1L174.9 5L173.1 4.9L171.4 4.8L169.7 4.3L167.9 3.8L166.9 3.5L166.2 3.2L164.5 2.6L162.7 2.2L161 1.8L160.2 1.7L159.3 1.6L157.5 1.7L157.4 1.7L155.8 2.1L154.1 2.9L152.3 3.2L150.6 3.2L148.9 3.2L147.2 3.3L145.5 3.5L145.4 3.5L143.7 3.7L142 3.9L140.2 4.2L138.5 4.5L136.8 4.8L135 5.1L134.5 5.2L133.3 5.4L131.6 5.8L129.8 6.3L128.2 6.9L128.1 7L126.4 7.9L125.3 8.6L124.6 9.3L123.8 10.4L122.9 11.7L122.7 12.1L121.8 13.8L121.2 15.2L121 15.5L120.3 17.3L119.7 19L119.5 19.7L119.1 20.7L118.8 22.4L118.7 24.2L118.7 25.9L118.9 27.6L119.1 29.3L119.3 31.1L119.2 32.8L118.7 34.5L117.7 35.6L116.2 36.2L116 36.3L114.3 36.4L113.6 36.2L112.5 36L110.8 35.2L109.6 34.5L109.1 34L107.7 32.8L107.3 32.3L106.3 31.1L105.6 29.9L105.2 29.3L104.1 27.6L103.9 27.2L102.9 25.9L102.1 25L101 24.2L100.4 23.8L98.7 23.5L97 23.9L96.6 24.2L95.2 25.4L95 25.9L94.3 27.6L94.1 29.3L93.7 31.1L93.5 31.6L93.1 32.8L92.3 34.5L91.8 35.5L91.4 36.2L90.8 38L90.4 39.7L90.3 41.4L90.2 43.1L90.2 44.9L90.3 46.6L90.7 48.3L91.6 50.1L91.8 50.2L93.1 51.8L93.5 52.3L94.6 53.5L95.2 54.1L96.6 55.2L97 55.5L98.7 56.4L100.4 56.9L102.1 56.8L103.9 56.7L105.4 57L105.6 57L107.3 57.8L108.3 58.7L109.1 59.3L110.3 60.4L110.8 60.9L112.5 62.1L112.5 62.2L114.3 63.1L116 63.8L116.1 63.9L117.7 65.6L117.7 65.6L119.1 67.3L119.5 67.8L120.5 69L121.2 69.8L122.1 70.8L122.9 71.5L124.2 72.5L124.6 72.8L126.4 73.8L127.3 74.2L128.1 74.6L129.8 75.2L131.6 75.7L132.3 75.9L133.3 76.2L135 76.7L136.8 77.2L138.5 77.7L138.5 77.7L140.2 77.9L142 78L143.7 78.2L145.4 78.5L147.2 78.8L148.9 79.1L149.9 79.4L150.6 79.6L152.3 80.1L154.1 80.6L155.8 81.1L155.8 81.1ZM162.1 72.5L161 72.3L159.3 71.8L157.5 71.3L155.8 70.8L155.8 70.8L154.1 70.5L152.3 70.3L150.6 70.1L148.9 69.9L147.2 69.7L145.4 69.5L143.7 69.2L142.2 69L142 69L140.2 68.8L138.5 68.7L136.8 68.8L135.4 69L135 69.1L133.3 69.3L131.6 69.3L129.8 69.1L129.7 69L128.1 68.6L126.4 67.9L125.6 67.3L124.6 66.7L123.5 65.6L122.9 65L122.1 63.9L121.2 62.4L121 62.1L119.5 60.8L117.7 60.4L116 60.8L114.3 60.5L114.2 60.4L112.5 59.5L111.7 58.7L110.8 57.5L110.3 57L109.3 55.2L109.1 54.5L108.4 53.5L107.6 51.8L107.3 51.2L105.7 50.1L105.6 50L104.8 50.1L103.9 50.1L102.1 50.5L100.4 50.5L99 50.1L98.7 49.9L97 48.6L96.7 48.3L95.8 46.6L95.8 44.9L96.4 43.1L97 42.4L98.2 41.4L98.7 41.1L100.4 40.9L102.1 41.2L102.9 41.4L103.9 41.8L105.6 42.3L107.3 42.5L109.1 42.2L110.8 41.7L111.9 41.4L112.5 41.3L114.3 41L116 40.5L117.7 39.7L117.7 39.7L119.5 38.5L120.1 38L121.2 36.7L121.5 36.2L122.3 34.5L122.9 32.8L122.9 32.4L123.2 31.1L123.4 29.3L123.6 27.6L124 25.9L124.5 24.2L124.6 23.8L125.3 22.4L126.3 20.7L126.4 20.5L127.4 19L128.1 18.1L128.8 17.3L129.8 16.1L130.4 15.5L131.6 14.4L132.3 13.8L133.3 13.1L135 12.3L135.5 12.1L136.8 11.6L138.5 11.1L140.2 10.7L141.7 10.4L142 10.3L143.7 10L145.4 9.7L147.2 9.4L148.9 9.1L150.6 8.8L151.6 8.6L152.3 8.5L154.1 8.3L155.8 8.4L157.5 8.5L159.3 8.6L159.3 8.6L161 8.8L162.7 9.1L164.5 9.3L166.2 9.6L167.9 9.7L169.7 9.9L171.4 10.1L172.8 10.4L173.1 10.4L174.9 11L176.6 11.4L178.3 11.8L180 12.1L180.1 12.1L181.8 12.3L183.5 12.3L185.2 12.2L186.1 12.1L187 12L188.7 11.8L190.4 12L190.7 12.1L192.2 12.4L193.9 12.6L195.6 12.8L197.4 12.9L199.1 13L200.8 13L202.6 12.9L204.3 12.5L205.6 12.1L206 11.9L207.8 11.6L209.5 11.5L211.2 11.7L212.7 12.1L212.9 12.1L214.7 12.6L216.4 12.9L218.1 13.4L219.7 13.8L219.9 13.9L221.6 14.4L223.3 14.9L225.1 15.5L225.2 15.5L226.8 16L228.5 16.6L230.2 17.3L230.3 17.3L232 18.7L232.3 19L233.7 20.4L234.1 20.7L235.4 21.8L236.4 22.4L237.2 23L238.9 24L239.3 24.2L240.6 24.9L242.4 25.8L242.5 25.9L244.1 27.2L244.6 27.6L245.8 29.2L245.9 29.3L246.5 31.1L246.4 32.8L246.2 34.5L245.8 35.9L245.8 36.2L245.3 38L244.7 39.7L244.1 41.4L244.1 41.4L243.4 43.1L242.8 44.9L242.4 46.6L242.4 47.1L242.1 48.3L241.9 50.1L241.5 51.8L241.2 53.5L240.8 55.2L240.6 55.7L240.3 57L239.7 58.7L239.2 60.4L238.9 61.1L238.5 62.1L237.7 63.9L237.2 65L236.8 65.6L235.5 67.3L235.4 67.4L233.7 68.2L232 68.6L230.3 68.7L228.5 68.6L226.8 68.4L225.1 68.2L223.3 68.1L221.6 68.1L219.9 68.3L218.1 68.6L216.8 69L216.4 69.1L214.7 69.8L212.9 70.6L212.7 70.8L211.2 71.5L209.5 72.5L209.4 72.5L207.8 73.1L206 73.4L204.3 73.5L202.6 73.5L200.8 73.4L199.1 73.2L197.4 73L195.6 72.8L193.9 72.6L193.2 72.5L192.2 72.3L190.4 72.1L188.7 71.9L187 71.7L185.2 71.5L183.5 71.3L181.8 71.2L180 71.2L178.3 71.3L176.6 71.5L174.9 71.8L173.1 72.2L171.8 72.5L171.4 72.6L169.7 72.8L167.9 73L166.2 73L164.5 72.9L162.7 72.6ZM-5.2 45.3L-3.5 45.2L-1.7 45L0 44.9L1.7 44.9L3.5 45L5.2 45L6.9 45L8.4 44.9L8.7 44.9L10.4 44.7L12.1 44.5L13.9 44.3L15.6 44L17.3 43.8L19 43.7L20.8 43.7L22.5 43.7L24.2 43.6L26 43.4L27.7 43.2L27.7 43.1L29.4 43L31.2 42.7L32.9 42.3L34.6 41.8L35.9 41.4L36.4 41.2L38.1 40.6L39.8 40L40.5 39.7L41.5 39.3L43.3 38.7L45 38L45 38L46.7 37.2L48.5 36.2L48.5 36.2L50.2 35.2L51.3 34.5L51.9 33.9L53.2 32.8L53.7 32.1L54.5 31.1L55.1 29.3L55.2 27.6L54.8 25.9L53.7 24.2L53.7 24.1L51.9 22.4L51.9 22.4L50.2 21.3L49.3 20.7L48.5 20.3L46.7 19.4L45.8 19L45 18.6L43.3 17.9L41.8 17.3L41.5 17.2L39.8 16.6L38.1 16.1L36.4 15.7L35.2 15.5L34.6 15.5L32.9 15.3L31.2 15.2L29.4 15.2L27.7 15.2L26 15.1L24.2 15L22.5 14.9L20.8 14.8L19 14.7L17.3 14.6L15.6 14.5L13.8 14.4L12.1 14.4L10.4 14.5L8.7 14.6L6.9 14.7L5.2 14.9L3.5 15.1L1.7 15.3L0 15.5L-0 15.5L-1.7 15.6L-3.5 15.7L-5.2 15.8L-6.9 16L-6.9 17.3L-6.9 19L-6.9 20.7L-6.9 22.4L-6.9 22.5L-6.8 22.4L-5.2 21.9L-3.5 21.5L-1.7 21.1L0 20.7L0 20.7L1.7 20.5L3.5 20.3L5.2 20.1L6.9 20L8.7 20L10.4 20L12.1 20.1L13.9 20.2L15.6 20.3L17.3 20.4L19 20.6L20.8 20.7L20.8 20.7L22.5 20.8L24.2 20.9L26 20.9L27.7 21L29.4 21.2L31.2 21.3L32.9 21.6L34.6 22L36.4 22.4L36.4 22.4L38.1 23.2L39.8 24L40.1 24.2L41.5 25.3L42.3 25.9L43.3 27.6L42.8 29.3L41.5 30.7L41.2 31.1L39.8 32.1L38.9 32.8L38.1 33.3L36.4 34.5L36.4 34.5L34.6 36L34.3 36.2L32.9 37.2L31.3 38L31.2 38L29.4 38.6L27.7 38.9L26 39.2L24.2 39.4L22.5 39.5L20.8 39.6L19 39.6L17.4 39.7L17.3 39.7L15.6 40L13.8 40.4L12.1 40.7L10.4 41L8.7 41.3L7.6 41.4L6.9 41.5L5.2 41.6L3.5 41.7L1.7 41.7L0 41.7L-1.7 41.6L-2.9 41.4L-3.5 41.3L-5.2 41L-6.9 40.6L-6.9 41.4L-6.9 43.1L-6.9 44.9L-6.9 45.5Z"/>
<path fill="#ffe9a7" stroke="#ffe9a7" stroke-width="0.3" fill-rule="evenodd" d="M3.5 179.5L5.2 179.5L6.9 179.5L8.7 179.5L10.4 179.5L12.1 179.5L13.8 179.5L15.6 179.5L17.3 179.5L19 179.5L19.4 179.5L19.3 177.8L19.3 176.1L19.2 174.3L19 172.6L19 172.6L18.7 170.9L18.2 169.1L17.7 167.4L17.3 166.4L17.1 165.7L16.4 164L15.6 162.2L15.6 162.2L14.8 160.5L13.9 158.8L13.8 158.7L13 157.1L12.1 155.3L12.1 155.3L11.1 153.6L10.4 152.3L10.2 151.9L9.3 150.2L8.7 148.7L8.5 148.4L7.8 146.7L7.3 145L6.9 143.9L6.7 143.3L6.3 141.5L6 139.8L5.7 138.1L5.4 136.4L5.2 134.6L5.2 134.6L4.9 132.9L4.5 131.2L4.2 129.4L3.9 127.7L3.7 126L3.5 124.3L3.5 124.2L3.3 122.5L3.2 120.8L3.1 119.1L3.1 117.4L3.1 115.6L3.1 113.9L3.3 112.2L3.5 110.5L3.5 110.5L3.8 108.7L4.2 107L4.5 105.3L4.9 103.6L5.1 101.8L5.2 101L5.3 100.1L5.5 98.4L5.7 96.7L6.1 94.9L6.9 93.2L6.9 93.2L8.7 92.4L10.4 92.1L12.1 91.9L13.9 91.9L15.6 91.8L17.3 91.8L19 91.7L20.8 91.7L22.5 91.7L24.2 91.6L26 91.6L27.7 91.5L27.9 91.5L29.4 91.4L31.2 91.3L32.9 91.2L34.6 91.1L36.4 91L38.1 91L39.8 91.1L41.5 91.5L41.5 91.5L43.3 92.6L44.1 93.2L45 94.1L45.9 94.9L46.7 95.9L47.4 96.7L48.5 98.1L48.7 98.4L49.9 100.1L50.2 100.6L51 101.8L51.9 103.6L51.9 103.6L52.7 105.3L53.3 107L53.7 108.1L53.8 108.7L54.2 110.5L54.5 112.2L54.7 113.9L54.9 115.6L55.1 117.4L55.2 119.1L55.4 120.8L55.4 120.8L55.6 122.5L56 124.3L56.3 126L56.7 127.7L57.1 129.1L57.3 129.4L57.9 131.2L58.6 132.9L58.9 133.4L59.6 134.6L60.6 136.2L60.7 136.4L62.3 138.1L62.3 138.1L64.1 139.3L64.8 139.8L65.8 140.3L67.5 141.2L68.2 141.5L69.2 142L71 142.9L71.7 143.3L72.7 143.8L74.4 144.7L74.8 145L76.2 145.8L77.4 146.7L77.9 147.1L79.6 148.4L79.6 148.4L81.4 149.8L81.9 150.2L83.1 151.2L83.8 151.9L84.8 153L85.4 153.6L86.6 155.1L86.7 155.3L87.8 157.1L88.3 157.9L88.7 158.8L89.5 160.5L90 162.2L90 162.2L90.4 164L90.6 165.7L90.7 167.4L90.7 169.1L90.4 170.9L90 172.6L90 172.6L89.7 174.3L89.2 176.1L88.7 177.8L88.3 179.1L88.1 179.5L88.3 179.5L90 179.5L91.8 179.5L93.5 179.5L95.2 179.5L97 179.5L97.1 179.5L97.4 177.8L97.9 176.1L98.3 174.3L98.7 172.6L98.5 170.9L98.4 169.1L98.2 167.4L98.1 165.7L98.1 164L97.9 162.2L97.8 160.5L97.6 158.8L97.3 157.1L97 155.3L96.9 155.3L96.4 153.6L95.8 151.9L95.2 150.6L95 150.2L94.1 148.4L93.5 147.3L93.1 146.7L92 145L91.8 144.6L90.7 143.3L90 142.3L89.4 141.5L88.3 140.1L88 139.8L86.6 138.1L86.6 138.1L85.1 136.4L84.8 136L83.7 134.6L83.1 133.9L82.1 132.9L81.4 132L80.5 131.2L79.6 130.4L78.5 129.4L77.9 129L76.2 127.7L76.2 127.7L74.4 126.4L73.9 126L72.7 125L71.9 124.3L71 123.3L70.4 122.5L69.3 120.8L69.2 120.8L68.8 119.1L68.6 117.4L68.3 115.6L68 113.9L67.5 112.2L67.5 112.2L66.9 110.5L66.1 108.7L65.8 108.3L65 107L64.1 105.7L63.8 105.3L62.3 103.6L62.3 103.6L60.7 101.8L60.6 101.8L58.9 100.1L58.8 100.1L57.1 98.6L56.9 98.4L55.4 97.1L54.9 96.7L53.7 95.7L52.8 94.9L51.9 94.3L50.6 93.2L50.2 92.9L48.5 91.6L48.3 91.5L46.7 90.4L45.7 89.8L45 89.4L43.3 88.6L41.8 88L41.5 88L39.8 87.6L38.1 87.4L36.4 87.2L34.6 87.2L32.9 87.2L31.2 87.3L29.4 87.4L27.7 87.5L26 87.6L24.2 87.7L22.5 87.8L20.8 87.8L19 87.9L17.3 88L15.6 88L13.8 88L13.4 88L12.1 88L10.4 88.1L8.7 88.2L6.9 88.4L5.2 88.9L3.8 89.8L3.5 90.1L2.3 91.5L1.7 92.6L1.4 93.2L0.8 94.9L0.3 96.7L0 98.4L-0 98.4L-0.7 100.1L-1.5 101.8L-1.7 102.4L-2.3 103.6L-3.2 105.3L-3.5 105.9L-4 107L-4.7 108.7L-5.2 110L-5.4 110.5L-5.9 112.2L-6.4 113.9L-6.8 115.6L-6.9 116.4L-6.9 117.4L-6.9 119.1L-6.9 120.8L-6.9 122.5L-6.9 124.3L-6.9 126L-6.9 127.7L-6.9 129.4L-6.9 131.2L-6.9 132.9L-6.9 133.9L-6.8 134.6L-6.6 136.4L-6.3 138.1L-6.1 139.8L-5.8 141.5L-5.4 143.3L-5.2 144.5L-5.1 145L-4.7 146.7L-4.3 148.4L-3.8 150.2L-3.5 151.5L-3.3 151.9L-2.8 153.6L-2.3 155.3L-1.7 157L-1.7 157.1L-1.1 158.8L-0.6 160.5L-0 162.2L0 162.3L0.5 164L1 165.7L1.5 167.4L1.7 168.3L1.9 169.1L2.3 170.9L2.6 172.6L2.8 174.3L3 176.1L3.1 177.8L3.2 179.5ZM282.2 100.2L283.9 101L283.9 100.1L283.9 98.4L283.9 97.3L282.2 96.7L282 96.7L280.5 96.1L278.7 95.5L277 94.9L277 94.9L275.3 94.5L273.5 94L271.8 93.2L271.7 93.2L270.1 92.2L269.1 91.5L268.3 90.8L267.5 89.8L266.6 88.2L266.5 88L265.9 86.3L265.4 84.6L265.1 82.8L265 81.1L265.2 79.4L265.7 77.7L266.6 75.9L266.6 75.9L268.2 74.2L268.3 74.1L270.1 72.7L270.4 72.5L271.8 71.3L272.4 70.8L273.5 69.7L274.1 69L275.3 67.7L275.6 67.3L277 65.6L277 65.6L278.4 63.9L278.7 63.4L280.1 62.1L280.5 61.9L282.2 60.9L283.1 60.4L283.9 60L283.9 58.7L283.9 57.2L282.2 58.2L281.3 58.7L280.5 59.1L278.7 60.1L278.3 60.4L277 61.9L276.9 62.1L275.8 63.9L275.3 64.7L274.6 65.6L273.5 66.9L273.1 67.3L271.8 68.5L271.1 69L270.1 69.9L268.6 70.8L268.3 71L266.6 72L265.8 72.5L264.9 73.3L263.8 74.2L263.1 75.3L262.8 75.9L262.3 77.7L262.1 79.4L262.2 81.1L262.3 82.8L262.4 84.6L262.6 86.3L262.9 88L263.1 89.2L263.3 89.8L264.2 91.5L264.9 92.3L265.7 93.2L266.6 94L267.9 94.9L268.3 95.2L270.1 96L271.7 96.7L271.8 96.7L273.5 97.2L275.3 97.7L277 98.2L277.5 98.4L278.7 98.8L280.5 99.5L282 100.1ZM162.7 72.6L164.5 72.9L166.2 73L167.9 73L169.7 72.8L171.4 72.6L171.8 72.5L173.1 72.2L174.9 71.8L176.6 71.5L178.3 71.3L180 71.2L181.8 71.2L183.5 71.3L185.2 71.5L187 71.7L188.7 71.9L190.4 72.1L192.2 72.3L193.2 72.5L193.9 72.6L195.6 72.8L197.4 73L199.1 73.2L200.8 73.4L202.6 73.5L204.3 73.5L206 73.4L207.8 73.1L209.4 72.5L209.5 72.5L211.2 71.5L212.7 70.8L212.9 70.6L214.7 69.8L216.4 69.1L216.8 69L218.1 68.6L219.9 68.3L221.6 68.1L223.3 68.1L225.1 68.2L226.8 68.4L228.5 68.6L230.3 68.7L232 68.6L233.7 68.2L235.4 67.4L235.5 67.3L236.8 65.6L237.2 65L237.7 63.9L238.5 62.1L238.9 61.1L239.2 60.4L239.7 58.7L240.3 57L240.6 55.7L240.8 55.2L241.2 53.5L241.5 51.8L241.9 50.1L242.1 48.3L242.4 47.1L242.4 46.6L242.8 44.9L243.4 43.1L244.1 41.4L244.1 41.4L244.7 39.7L245.3 38L245.8 36.2L245.8 35.9L246.2 34.5L246.4 32.8L246.5 31.1L245.9 29.3L245.8 29.2L244.6 27.6L244.1 27.2L242.5 25.9L242.4 25.8L240.6 24.9L239.3 24.2L238.9 24L237.2 23L236.4 22.4L235.4 21.8L234.1 20.7L233.7 20.4L232.3 19L232 18.7L230.3 17.3L230.2 17.3L228.5 16.6L226.8 16L225.2 15.5L225.1 15.5L223.3 14.9L221.6 14.4L219.9 13.9L219.7 13.8L218.1 13.4L216.4 12.9L214.7 12.6L212.9 12.1L212.7 12.1L211.2 11.7L209.5 11.5L207.8 11.6L206 11.9L205.6 12.1L204.3 12.5L202.6 12.9L200.8 13L199.1 13L197.4 12.9L195.6 12.8L193.9 12.6L192.2 12.4L190.7 12.1L190.4 12L188.7 11.8L187 12L186.1 12.1L185.2 12.2L183.5 12.3L181.8 12.3L180.1 12.1L180.1 12.1L178.3 11.8L176.6 11.4L174.9 11L173.1 10.4L172.8 10.4L171.4 10.1L169.7 9.9L167.9 9.7L166.2 9.6L164.5 9.3L162.7 9.1L161 8.8L159.3 8.6L159.3 8.6L157.5 8.5L155.8 8.4L154.1 8.3L152.3 8.5L151.6 8.6L150.6 8.8L148.9 9.1L147.2 9.4L145.4 9.7L143.7 10L142 10.3L141.7 10.4L140.2 10.7L138.5 11.1L136.8 11.6L135.5 12.1L135 12.3L133.3 13.1L132.3 13.8L131.6 14.4L130.4 15.5L129.8 16.1L128.8 17.3L128.1 18.1L127.4 19L126.4 20.5L126.3 20.7L125.3 22.4L124.6 23.8L124.5 24.2L124 25.9L123.6 27.6L123.4 29.3L123.2 31.1L122.9 32.4L122.9 32.8L122.3 34.5L121.5 36.2L121.2 36.7L120.1 38L119.5 38.5L117.7 39.7L117.7 39.7L116 40.5L114.3 41L112.5 41.3L111.9 41.4L110.8 41.7L109.1 42.2L107.3 42.5L105.6 42.3L103.9 41.8L102.9 41.4L102.1 41.2L100.4 40.9L98.7 41.1L98.2 41.4L96.9 42.4L96.4 43.1L95.8 44.9L95.8 46.6L96.7 48.3L97 48.6L98.7 49.9L99 50.1L100.4 50.5L102.1 50.5L103.9 50.1L104.8 50.1L105.6 50L105.7 50.1L107.3 51.2L107.6 51.8L108.4 53.5L109.1 54.5L109.3 55.2L110.3 57L110.8 57.5L111.7 58.7L112.5 59.5L114.2 60.4L114.3 60.5L116 60.8L117.7 60.4L119.5 60.8L121 62.1L121.2 62.4L122.1 63.9L122.9 65L123.5 65.6L124.6 66.7L125.6 67.3L126.4 67.9L128.1 68.6L129.7 69L129.8 69.1L131.6 69.3L133.3 69.3L135 69.1L135.4 69L136.8 68.8L138.5 68.7L140.2 68.8L142 69L142.2 69L143.7 69.2L145.4 69.5L147.2 69.7L148.9 69.9L150.6 70.1L152.3 70.3L154.1 70.5L155.8 70.8L155.8 70.8L157.5 71.3L159.3 71.8L161 72.3L162.1 72.5ZM159.7 65.6L159.3 65.5L157.5 65L155.8 64.6L154.1 64.2L152.3 63.9L152.3 63.9L150.6 63.6L148.9 63.4L147.2 63.3L145.4 63.2L143.7 63.2L142 63.3L140.2 63.5L138.5 63.7L137.9 63.9L136.8 64.1L135 64.4L133.3 64.7L131.6 64.9L129.8 64.8L128.1 64.4L126.9 63.9L126.4 63.6L124.6 62.3L124.5 62.1L123.1 60.4L122.9 60.1L121.9 58.7L121.2 57.9L119.5 58.3L118.7 58.7L117.7 59L116 59.1L114.9 58.7L114.3 58.3L113.2 57L112.7 55.2L113 53.5L113.6 51.8L113.9 50.1L114.2 48.3L114.3 48.3L115 46.6L116 45.4L116.5 44.9L117.7 43.9L118.7 43.1L119.5 42.6L120.9 41.4L121.2 41.2L122.6 39.7L122.9 39.4L124 38L124.6 36.9L125.1 36.2L125.9 34.5L126.4 33.2L126.6 32.8L127 31.1L127.5 29.3L128.1 27.9L128.3 27.6L129.4 25.9L129.8 25.3L130.8 24.2L131.6 23.2L132.3 22.4L133.3 21.3L133.9 20.7L135 19.7L136 19L136.8 18.5L138.5 17.9L140.2 17.5L141.6 17.3L142 17.2L143.7 17L145.4 16.9L147.2 16.9L148.9 16.8L150.6 16.8L152.3 16.9L154.1 16.9L155.8 16.9L157.5 17L159.3 17.1L161 17.2L161.7 17.3L162.7 17.4L164.5 17.5L166.2 17.8L167.9 18L169.7 18.3L171.4 18.6L173.1 18.9L173.8 19L174.9 19.1L176.6 19.4L178.3 19.6L180.1 19.8L181.8 20L183.5 20.1L185.2 20.3L187 20.4L188.7 20.3L190.4 19.6L192.2 19L192.4 19L193.9 18.5L195.6 18.2L197.4 17.9L199.1 17.6L200.8 17.3L200.8 17.3L202.6 16.8L204.3 16.2L206 15.5L207.8 15.6L209.5 15.9L211.2 16.5L212.9 17L213.6 17.3L214.7 17.6L216.4 18.3L218.1 18.9L218.4 19L219.9 19.5L221.6 20.2L223 20.7L223.3 20.8L225.1 21.5L226.8 22.3L227.1 22.4L228.5 23.4L229.4 24.2L230.3 25L231.1 25.9L232 26.9L232.6 27.6L233.7 29.2L233.9 29.3L234.8 31.1L235.4 32.8L235.4 33.4L235.6 34.5L235.4 35.5L235.4 36.2L234.9 38L234.1 39.7L233.7 40.6L233.4 41.4L233.2 43.1L233 44.9L232.6 46.6L232 48L231.9 48.3L230.6 50.1L230.3 50.4L228.5 51.8L228.5 51.8L226.8 52.9L226 53.5L225.1 54.4L224.1 55.2L223.3 56L221.9 57L221.6 57.2L219.9 58.1L218.7 58.7L218.1 58.9L216.4 59.7L214.7 60.4L214.7 60.4L212.9 61.4L211.6 62.1L211.2 62.4L209.5 63.4L208.6 63.9L207.8 64.3L206 64.9L204.3 65.3L202.6 65.4L200.8 65.3L199.1 65.1L197.4 64.9L195.6 64.7L193.9 64.5L192.2 64.3L190.4 64.1L188.7 64L187 64L185.2 64L183.5 64.1L181.8 64.2L180.1 64.4L178.3 64.6L176.6 64.9L174.9 65.5L174.4 65.6L173.1 66L171.4 66.4L169.7 66.6L167.9 66.7L166.2 66.7L164.5 66.5L162.7 66.3L161 65.9ZM-1.7 41.6L0 41.7L1.7 41.7L3.5 41.7L5.2 41.6L6.9 41.5L7.6 41.4L8.7 41.3L10.4 41L12.1 40.7L13.8 40.4L15.6 40L17.3 39.7L17.4 39.7L19 39.6L20.8 39.6L22.5 39.5L24.2 39.4L26 39.2L27.7 38.9L29.4 38.6L31.2 38L31.3 38L32.9 37.2L34.3 36.2L34.6 36L36.4 34.5L36.4 34.5L38.1 33.3L38.9 32.8L39.8 32.1L41.2 31.1L41.5 30.7L42.8 29.3L43.3 27.6L42.3 25.9L41.5 25.3L40.1 24.2L39.8 24L38.1 23.2L36.4 22.4L36.4 22.4L34.6 22L32.9 21.6L31.2 21.3L29.4 21.2L27.7 21L26 20.9L24.2 20.9L22.5 20.8L20.8 20.7L20.8 20.7L19 20.6L17.3 20.4L15.6 20.3L13.9 20.2L12.1 20.1L10.4 20L8.7 20L6.9 20L5.2 20.1L3.5 20.3L1.7 20.5L0 20.7L0 20.7L-1.7 21.1L-3.5 21.5L-5.2 21.9L-6.8 22.4L-6.9 22.5L-6.9 24.2L-6.9 25.9L-6.9 27.6L-6.9 29.3L-6.9 31.1L-6.9 32.8L-6.9 34.5L-6.9 36.2L-6.9 38L-6.9 39.7L-6.9 40.6L-5.2 41L-3.5 41.3L-2.9 41.4ZM-3.7 36.2L-5.2 34.8L-5.5 34.5L-6.1 32.8L-6 31.1L-5.2 29.7L-4.9 29.3L-3.5 28.2L-2.2 27.6L-1.7 27.4L0 26.9L1.7 26.3L3.2 25.9L3.5 25.8L5.2 25.6L6.9 25.5L8.7 25.6L10.4 25.8L10.8 25.9L12.1 26.2L13.9 26.6L15.6 26.9L17.3 27.1L19 27.3L20.8 27.5L21.3 27.6L22.5 27.9L24.2 28.3L26 28.8L27.7 29.3L27.7 29.3L29.4 30.6L29.7 31.1L29.4 32.7L29.4 32.8L27.7 33.3L26 33.6L24.2 33.9L22.5 34.4L22.1 34.5L20.8 34.8L19 35.3L17.3 35.8L15.6 36L13.8 36.2L13.8 36.2L12.1 36.5L10.4 36.9L8.7 37.3L6.9 37.6L5.2 37.8L3.5 37.9L1.7 37.9L0 37.6L-1.7 37.2L-3.5 36.4ZM275.3 27.8L277 28L278.7 28L280.5 27.9L282.2 27.7L283.7 27.6L283.9 27.6L283.9 25.9L283.9 24.2L283.9 22.4L283.9 22.1L282.2 21.7L280.5 21.3L278.7 20.9L277 20.8L275.3 20.9L273.5 21.3L271.8 21.9L270.9 22.4L270.1 24.1L270 24.2L270.1 24.3L270.9 25.9L271.8 26.4L273.5 27.3L274.6 27.6Z"/>
<path fill="#fed679" stroke="#fed679" stroke-width="0.3" fill-rule="evenodd" d="M20.8 179.5L22.5 179.5L24.2 179.5L26 179.5L27.7 179.5L29.4 179.5L31.2 179.5L32.9 179.5L33.4 179.5L32.9 178.4L32.6 177.8L31.9 176.1L31.4 174.3L31.2 172.9L31.1 172.6L31.1 170.9L31.2 170.4L31.3 169.1L31.4 167.4L31.6 165.7L31.7 164L31.7 162.2L31.6 160.5L31.3 158.8L31.2 158.5L30.3 157.1L29.4 156.1L28.8 155.3L27.7 154.4L26.8 153.6L26 153L24.7 151.9L24.2 151.5L22.7 150.2L22.5 150L21.1 148.4L20.8 148L19.9 146.7L19 145.1L19 145L18.2 143.3L17.5 141.5L17.3 141L16.9 139.8L16.4 138.1L15.9 136.4L15.6 134.6L15.6 134.6L15.4 132.9L15.4 131.2L15.4 129.4L15.4 127.7L15.4 126L15.5 124.3L15.5 122.5L15.5 120.8L15.6 119.1L15.6 117.4L15.5 115.6L15.4 113.9L15.3 112.2L15.3 110.5L15.3 108.7L15.3 107L15.5 105.3L15.6 103.6L15.6 101.8L15.6 101.7L16 100.1L17.3 98.8L17.9 98.4L19 98.1L20.8 97.9L22.5 97.9L24.2 97.9L26 98L27.7 98.1L29.4 98.2L31.2 98.3L32.2 98.4L32.9 98.5L34.6 98.9L36.4 99.7L36.8 100.1L37.6 101.8L37.7 103.6L37.5 105.3L37.6 107L38.1 108.6L38.1 108.7L38.8 110.5L39.6 112.2L39.8 112.8L40.2 113.9L40.8 115.6L41.4 117.4L41.5 117.8L41.9 119.1L42.4 120.8L42.9 122.5L43.3 124.3L43.3 124.3L43.5 126L43.8 127.7L44 129.4L44.2 131.2L44.4 132.9L44.6 134.6L44.8 136.4L45 137.3L45.2 138.1L45.7 139.8L46.3 141.5L46.7 142.6L47 143.3L48 145L48.5 145.8L49.2 146.7L50.2 147.9L50.7 148.4L51.9 149.5L52.7 150.2L53.7 150.8L55.4 151.9L55.4 151.9L57.1 152.5L58.9 153L60.6 153.4L61.5 153.6L62.3 153.8L64.1 154.1L65.8 154.4L67.5 154.7L69.2 155L70.3 155.3L71 155.6L72.7 156.5L73.4 157.1L74.4 158.3L74.8 158.8L75.8 160.5L76.2 161.6L76.4 162.2L76.7 164L76.9 165.7L76.8 167.4L76.5 169.1L76.2 170.4L76 170.9L75.4 172.6L74.6 174.3L74.4 174.6L73.5 176.1L72.7 177.3L72.4 177.8L71.1 179.5L72.7 179.5L74.4 179.5L76.2 179.5L77.9 179.5L79.6 179.5L81.4 179.5L83.1 179.5L84.8 179.5L86.6 179.5L88.1 179.5L88.3 179.1L88.7 177.8L89.2 176.1L89.7 174.3L90 172.6L90 172.6L90.4 170.9L90.7 169.1L90.7 167.4L90.6 165.7L90.4 164L90 162.2L90 162.2L89.5 160.5L88.7 158.8L88.3 157.9L87.8 157.1L86.7 155.3L86.6 155.1L85.4 153.6L84.8 153L83.8 151.9L83.1 151.2L81.9 150.2L81.4 149.8L79.6 148.4L79.6 148.4L77.9 147.1L77.4 146.7L76.2 145.8L74.8 145L74.4 144.7L72.7 143.8L71.7 143.3L71 142.9L69.2 142L68.2 141.5L67.5 141.2L65.8 140.3L64.8 139.8L64.1 139.3L62.3 138.1L62.3 138.1L60.7 136.4L60.6 136.2L59.6 134.6L58.9 133.4L58.6 132.9L57.9 131.2L57.3 129.4L57.1 129.1L56.7 127.7L56.3 126L56 124.3L55.6 122.5L55.4 120.8L55.4 120.8L55.2 119.1L55.1 117.4L54.9 115.6L54.7 113.9L54.5 112.2L54.2 110.5L53.8 108.7L53.7 108.1L53.3 107L52.7 105.3L51.9 103.6L51.9 103.6L51 101.8L50.2 100.6L49.9 100.1L48.7 98.4L48.5 98.1L47.4 96.7L46.7 95.9L45.9 94.9L45 94.1L44.1 93.2L43.3 92.6L41.5 91.5L41.5 91.5L39.8 91.1L38.1 91L36.4 91L34.6 91.1L32.9 91.2L31.2 91.3L29.4 91.4L27.9 91.5L27.7 91.5L26 91.6L24.2 91.6L22.5 91.7L20.8 91.7L19 91.7L17.3 91.8L15.6 91.8L13.9 91.9L12.1 91.9L10.4 92.1L8.7 92.4L6.9 93.2L6.9 93.2L6.1 94.9L5.7 96.7L5.5 98.4L5.3 100.1L5.2 101L5.1 101.8L4.9 103.6L4.5 105.3L4.2 107L3.8 108.7L3.5 110.5L3.5 110.5L3.3 112.2L3.1 113.9L3.1 115.6L3.1 117.4L3.1 119.1L3.2 120.8L3.3 122.5L3.5 124.2L3.5 124.3L3.7 126L3.9 127.7L4.2 129.4L4.5 131.2L4.9 132.9L5.2 134.6L5.2 134.6L5.4 136.4L5.7 138.1L6 139.8L6.3 141.5L6.7 143.3L6.9 143.9L7.3 145L7.8 146.7L8.5 148.4L8.7 148.7L9.3 150.2L10.2 151.9L10.4 152.3L11.1 153.6L12.1 155.3L12.1 155.3L13 157.1L13.8 158.7L13.9 158.8L14.8 160.5L15.6 162.2L15.6 162.2L16.4 164L17.1 165.7L17.3 166.4L17.7 167.4L18.2 169.1L18.7 170.9L19 172.6L19 172.6L19.2 174.3L19.3 176.1L19.3 177.8L19.4 179.5ZM282.2 96.7L283.9 97.3L283.9 96.7L283.9 94.9L283.9 93.8L282.2 93.4L281.4 93.2L280.5 93L278.7 92.5L277 92.1L275.3 91.5L275.3 91.5L273.5 90.5L272.4 89.8L271.8 89.3L270.5 88L270.1 87.5L269.2 86.3L268.3 84.6L268.3 84.5L268.1 82.8L268.2 81.1L268.3 80.5L268.6 79.4L269.4 77.7L270.1 76.8L270.8 75.9L271.8 74.9L272.5 74.2L273.5 73.2L274.2 72.5L275.3 71.2L275.7 70.8L277 69L277 69L278.6 67.3L278.7 67.2L280.4 65.6L280.5 65.5L282.2 64.2L282.8 63.9L283.9 63.2L283.9 62.1L283.9 60.4L283.9 60L283.1 60.4L282.2 60.9L280.5 61.9L280.1 62.1L278.7 63.4L278.4 63.9L277 65.6L277 65.6L275.6 67.3L275.3 67.7L274.1 69L273.5 69.7L272.4 70.8L271.8 71.3L270.4 72.5L270.1 72.7L268.3 74.1L268.2 74.2L266.6 75.9L266.6 75.9L265.7 77.7L265.2 79.4L265 81.1L265.1 82.8L265.4 84.6L265.9 86.3L266.5 88L266.6 88.2L267.5 89.8L268.3 90.8L269.1 91.5L270.1 92.2L271.7 93.2L271.8 93.2L273.5 94L275.3 94.5L277 94.9L277 94.9L278.7 95.5L280.5 96.1L282 96.7ZM161 65.9L162.7 66.3L164.5 66.5L166.2 66.7L167.9 66.7L169.7 66.6L171.4 66.4L173.1 66L174.4 65.6L174.9 65.5L176.6 64.9L178.3 64.6L180.1 64.4L181.8 64.2L183.5 64.1L185.2 64L187 64L188.7 64L190.4 64.1L192.2 64.3L193.9 64.5L195.6 64.7L197.4 64.9L199.1 65.1L200.8 65.3L202.6 65.4L204.3 65.3L206 64.9L207.8 64.3L208.6 63.9L209.5 63.4L211.2 62.4L211.6 62.1L212.9 61.4L214.7 60.4L214.7 60.4L216.4 59.7L218.1 58.9L218.7 58.7L219.9 58.1L221.6 57.2L221.9 57L223.3 56L224.1 55.2L225.1 54.4L226 53.5L226.8 52.9L228.5 51.8L228.5 51.8L230.3 50.4L230.6 50.1L231.9 48.3L232 48L232.6 46.6L233 44.9L233.2 43.1L233.4 41.4L233.7 40.6L234.1 39.7L234.9 38L235.4 36.2L235.4 35.5L235.6 34.5L235.4 33.4L235.4 32.8L234.8 31.1L233.9 29.3L233.7 29.2L232.6 27.6L232 26.9L231.1 25.9L230.3 25L229.4 24.2L228.5 23.4L227.1 22.4L226.8 22.3L225.1 21.5L223.3 20.8L223 20.7L221.6 20.2L219.9 19.5L218.4 19L218.1 18.9L216.4 18.3L214.7 17.6L213.6 17.3L212.9 17L211.2 16.5L209.5 15.9L207.8 15.6L206 15.5L204.3 16.2L202.6 16.8L200.8 17.3L200.8 17.3L199.1 17.6L197.4 17.9L195.6 18.2L193.9 18.5L192.4 19L192.2 19L190.4 19.6L188.7 20.3L187 20.4L185.2 20.3L183.5 20.1L181.8 20L180 19.8L178.3 19.6L176.6 19.4L174.9 19.1L173.8 19L173.1 18.9L171.4 18.6L169.7 18.3L167.9 18L166.2 17.8L164.5 17.5L162.7 17.4L161.7 17.3L161 17.2L159.3 17.1L157.5 17L155.8 16.9L154.1 16.9L152.3 16.9L150.6 16.8L148.9 16.8L147.2 16.9L145.4 16.9L143.7 17L142 17.2L141.6 17.3L140.2 17.5L138.5 17.9L136.8 18.5L136 19L135 19.7L133.9 20.7L133.3 21.3L132.3 22.4L131.6 23.2L130.8 24.2L129.8 25.3L129.4 25.9L128.3 27.6L128.1 27.9L127.5 29.3L127 31.1L126.6 32.8L126.4 33.2L125.9 34.5L125.1 36.2L124.6 36.9L124 38L122.9 39.4L122.6 39.7L121.2 41.2L120.9 41.4L119.5 42.6L118.7 43.1L117.7 43.9L116.5 44.9L116 45.4L115 46.6L114.3 48.3L114.2 48.3L113.9 50.1L113.6 51.8L113 53.5L112.7 55.2L113.2 57L114.3 58.3L114.9 58.7L116 59.1L117.7 59L118.7 58.7L119.5 58.3L121.2 57.9L121.9 58.7L122.9 60.1L123.1 60.4L124.5 62.1L124.6 62.3L126.4 63.6L126.9 63.9L128.1 64.4L129.8 64.8L131.6 64.9L133.3 64.7L135 64.4L136.8 64.1L137.9 63.9L138.5 63.7L140.2 63.5L142 63.3L143.7 63.2L145.4 63.2L147.2 63.3L148.9 63.4L150.6 63.6L152.3 63.9L152.4 63.9L154.1 64.2L155.8 64.6L157.5 65L159.3 65.5L159.7 65.6ZM127.4 60.4L126.4 60L124.7 58.7L124.6 58.6L124.1 57L122.9 55.3L122.7 55.2L121.2 54.4L119.5 55.1L119.4 55.2L118 57L117.7 57.1L116 57L115.9 57L115.8 55.2L116 54.6L116.8 53.5L117.6 51.8L117.7 51.2L118.2 50.1L119.1 48.3L119.5 47.9L120.8 46.6L121.2 46.3L122.8 44.9L122.9 44.7L124.5 43.2L124.6 43L126.1 41.4L126.4 41L127.5 39.7L128.1 39L129.4 38L129.8 37.5L131.6 36.2L131.6 36.2L133.3 35.3L135 34.8L136.3 34.5L136.8 34.4L138.5 33.5L140.1 32.8L140.2 32.7L142 32L143.7 31.5L145.4 31.2L147.2 31.1L148.1 31.1L148.9 31.1L149.8 31.1L150.6 31.1L152.3 31.1L153.2 31.1L154.1 31L155.8 30.9L157.5 30.7L159.3 30.4L161 30.3L162.7 30.1L164.5 29.9L166.2 29.8L167.9 29.7L169.7 29.5L171.4 29.3L171.4 29.3L173.1 29.2L174.9 28.9L176.6 28.6L178.3 28.2L180 27.7L180.3 27.6L181.8 27.2L183.5 26.5L185 25.9L185.2 25.8L187 25.1L188.7 24.2L188.9 24.2L190.4 23.8L192.2 23.6L193.9 23.4L195.6 23.3L197.4 23.1L199.1 22.9L200.8 22.7L202.4 22.4L202.6 22.4L204.3 22.2L206 22.1L207.8 22.1L209.5 22.3L210.2 22.4L211.2 22.7L212.9 23.2L214.7 23.7L216.1 24.2L216.4 24.3L218.1 25L219.9 25.8L220.1 25.9L221.6 26.9L222.6 27.6L223.3 28.2L224.6 29.3L225.1 29.8L226.1 31.1L226.8 32L227.3 32.8L228.1 34.5L228.5 36.2L228.4 38L228 39.7L227.7 41.4L227.3 43.1L226.8 44.4L226.4 44.9L225.1 45.9L223.9 46.6L223.3 46.9L221.6 47.6L220 48.3L219.9 48.4L218.1 49.1L216.4 49.9L216.2 50.1L214.7 50.8L212.9 51.6L212.5 51.8L211.2 52.4L209.5 53L208.1 53.5L207.8 53.6L206 54L204.3 54.3L202.6 54.4L200.8 54.4L199.1 54.3L197.4 54.2L195.6 54.1L193.9 54.2L192.2 54.2L190.4 54.4L188.7 54.7L187 55L186.3 55.2L185.2 55.5L183.5 56.1L181.8 56.8L181.5 57L180 57.6L178.3 58.5L178 58.7L176.6 59.4L174.9 60.3L174.6 60.4L173.1 60.8L171.4 61L169.7 61L167.9 60.9L166.2 60.7L164.5 60.5L163.8 60.4L162.7 60.2L161 59.9L159.3 59.5L157.5 59L156.8 58.7L155.8 58.2L154.1 57.5L152.3 57L152.3 57L150.6 56.4L148.9 56.1L147.2 56L145.4 56.1L143.7 56.4L142.1 57L142 57L140.2 57.6L138.5 58.4L137.8 58.7L136.8 59.1L135 59.7L133.3 60.3L132.8 60.4L131.6 60.7L129.8 60.8L128.1 60.6ZM-3.5 36.4L-1.7 37.2L0 37.6L1.7 37.9L3.5 37.9L5.2 37.8L6.9 37.6L8.7 37.3L10.4 36.9L12.1 36.5L13.8 36.2L13.8 36.2L15.6 36L17.3 35.8L19 35.3L20.8 34.8L22.1 34.5L22.5 34.4L24.2 33.9L26 33.6L27.7 33.3L29.4 32.8L29.4 32.7L29.7 31.1L29.4 30.6L27.7 29.3L27.7 29.3L26 28.8L24.2 28.3L22.5 27.9L21.3 27.6L20.8 27.5L19 27.3L17.3 27.1L15.6 26.9L13.9 26.6L12.1 26.2L10.8 25.9L10.4 25.8L8.7 25.6L6.9 25.5L5.2 25.6L3.5 25.8L3.2 25.9L1.7 26.3L0 26.9L-1.7 27.4L-2.2 27.6L-3.5 28.2L-4.9 29.3L-5.2 29.7L-6 31.1L-6.1 32.8L-5.5 34.5L-5.2 34.8L-3.7 36.2Z"/>
<path fill="#fcbb44" stroke="#fcbb44" stroke-width="0.3" fill-rule="evenodd" d="M32.9 178.4L33.4 179.5L34.6 179.5L36.4 179.5L38.1 179.5L39.8 179.5L41.5 179.5L43.3 179.5L45 179.5L46.7 179.5L48.5 179.5L50.2 179.5L51.9 179.5L53.7 179.5L55.4 179.5L57.1 179.5L58.9 179.5L60.6 179.5L62.3 179.5L64.1 179.5L65.8 179.5L67.5 179.5L69.2 179.5L71 179.5L71.1 179.5L72.4 177.8L72.7 177.3L73.5 176.1L74.4 174.6L74.6 174.3L75.4 172.6L76 170.9L76.2 170.4L76.5 169.1L76.8 167.4L76.9 165.7L76.7 164L76.4 162.2L76.2 161.6L75.8 160.5L74.8 158.8L74.4 158.3L73.4 157.1L72.7 156.5L71 155.6L70.3 155.3L69.2 155L67.5 154.7L65.8 154.4L64.1 154.1L62.3 153.8L61.5 153.6L60.6 153.4L58.9 153L57.1 152.5L55.4 151.9L55.4 151.9L53.7 150.8L52.7 150.2L51.9 149.5L50.7 148.4L50.2 147.9L49.2 146.7L48.5 145.8L48 145L47 143.3L46.7 142.6L46.3 141.5L45.7 139.8L45.2 138.1L45 137.3L44.8 136.4L44.6 134.6L44.4 132.9L44.2 131.2L44 129.4L43.8 127.7L43.5 126L43.3 124.3L43.3 124.3L42.9 122.5L42.4 120.8L41.9 119.1L41.5 117.8L41.4 117.4L40.8 115.6L40.2 113.9L39.8 112.8L39.6 112.2L38.8 110.5L38.1 108.7L38.1 108.6L37.6 107L37.5 105.3L37.7 103.6L37.6 101.8L36.8 100.1L36.4 99.7L34.6 98.9L32.9 98.5L32.2 98.4L31.2 98.3L29.4 98.2L27.7 98.1L26 98L24.2 97.9L22.5 97.9L20.8 97.9L19 98.1L17.9 98.4L17.3 98.8L16 100.1L15.6 101.7L15.6 101.8L15.6 103.6L15.5 105.3L15.3 107L15.3 108.7L15.3 110.5L15.3 112.2L15.4 113.9L15.5 115.6L15.6 117.4L15.6 119.1L15.5 120.8L15.5 122.5L15.5 124.3L15.4 126L15.4 127.7L15.4 129.4L15.4 131.2L15.4 132.9L15.6 134.6L15.6 134.6L15.9 136.4L16.4 138.1L16.9 139.8L17.3 141L17.5 141.5L18.2 143.3L19 145L19 145.1L19.9 146.7L20.8 148L21.1 148.4L22.5 150L22.7 150.2L24.2 151.5L24.7 151.9L26 153L26.8 153.6L27.7 154.4L28.8 155.3L29.4 156.1L30.3 157.1L31.2 158.5L31.3 158.8L31.6 160.5L31.7 162.2L31.7 164L31.6 165.7L31.4 167.4L31.3 169.1L31.2 170.4L31.1 170.9L31.1 172.6L31.2 172.9L31.4 174.3L31.9 176.1L32.6 177.8ZM282.2 93.4L283.9 93.8L283.9 93.2L283.9 91.5L283.9 90L282.6 89.8L282.2 89.7L280.5 89.3L278.7 88.8L277 88L277 88L275.3 86.8L274.6 86.3L273.5 84.9L273.3 84.6L272.8 82.8L272.8 81.1L273.3 79.4L273.5 79L274.3 77.7L275.3 76.3L275.6 75.9L277 74.2L277 74.2L278.3 72.5L278.7 72L279.8 70.8L280.5 70L281.6 69L282.2 68.5L283.9 67.3L283.9 67.3L283.9 65.6L283.9 63.9L283.9 63.2L282.8 63.9L282.2 64.2L280.5 65.5L280.4 65.6L278.7 67.2L278.6 67.3L277 69L277 69L275.7 70.8L275.3 71.2L274.2 72.5L273.5 73.2L272.5 74.2L271.8 74.9L270.8 75.9L270.1 76.8L269.4 77.7L268.6 79.4L268.3 80.5L268.2 81.1L268.1 82.8L268.3 84.5L268.3 84.6L269.2 86.3L270.1 87.5L270.5 88L271.8 89.3L272.4 89.8L273.5 90.5L275.3 91.5L275.3 91.5L277 92.1L278.7 92.5L280.5 93L281.4 93.2ZM128.1 60.6L129.8 60.8L131.6 60.7L132.8 60.4L133.3 60.3L135 59.7L136.8 59.1L137.8 58.7L138.5 58.4L140.2 57.6L142 57L142.1 57L143.7 56.4L145.4 56.1L147.2 56L148.9 56.1L150.6 56.4L152.3 57L152.3 57L154.1 57.5L155.8 58.2L156.8 58.7L157.5 59L159.3 59.5L161 59.9L162.7 60.2L163.8 60.4L164.5 60.5L166.2 60.7L167.9 60.9L169.7 61L171.4 61L173.1 60.8L174.6 60.4L174.9 60.3L176.6 59.4L178 58.7L178.3 58.5L180 57.6L181.5 57L181.8 56.8L183.5 56.1L185.2 55.5L186.3 55.2L187 55L188.7 54.7L190.4 54.4L192.2 54.2L193.9 54.2L195.6 54.1L197.4 54.2L199.1 54.3L200.8 54.4L202.6 54.4L204.3 54.3L206 54L207.8 53.6L208.1 53.5L209.5 53L211.2 52.4L212.5 51.8L212.9 51.6L214.7 50.8L216.2 50.1L216.4 49.9L218.1 49.1L219.9 48.4L220 48.3L221.6 47.6L223.3 46.9L223.9 46.6L225.1 45.9L226.4 44.9L226.8 44.4L227.3 43.1L227.7 41.4L228 39.7L228.4 38L228.5 36.2L228.1 34.5L227.3 32.8L226.8 32L226.1 31.1L225.1 29.8L224.6 29.3L223.3 28.2L222.6 27.6L221.6 26.9L220.1 25.9L219.9 25.8L218.1 25L216.4 24.3L216.1 24.2L214.7 23.7L212.9 23.2L211.2 22.7L210.2 22.4L209.5 22.3L207.8 22.1L206 22.1L204.3 22.2L202.6 22.4L202.4 22.4L200.8 22.7L199.1 22.9L197.4 23.1L195.6 23.3L193.9 23.4L192.2 23.6L190.4 23.8L188.9 24.2L188.7 24.2L187 25.1L185.2 25.8L185 25.9L183.5 26.5L181.8 27.2L180.3 27.6L180 27.7L178.3 28.2L176.6 28.6L174.9 28.9L173.1 29.2L171.4 29.3L171.4 29.3L169.7 29.5L167.9 29.7L166.2 29.8L164.5 29.9L162.7 30.1L161 30.3L159.3 30.4L157.5 30.7L155.8 30.9L154.1 31L153.2 31.1L152.3 31.1L150.6 31.1L149.8 31.1L148.9 31.1L148.1 31.1L147.2 31.1L145.4 31.2L143.7 31.5L142 32L140.2 32.7L140.1 32.8L138.5 33.5L136.8 34.4L136.3 34.5L135 34.8L133.3 35.3L131.6 36.2L131.6 36.2L129.8 37.5L129.4 38L128.1 39L127.5 39.7L126.4 41L126.1 41.4L124.6 43L124.5 43.1L122.9 44.7L122.8 44.9L121.2 46.3L120.8 46.6L119.5 47.9L119.1 48.3L118.2 50.1L117.7 51.2L117.6 51.8L116.8 53.5L116 54.6L115.8 55.2L115.9 57L116 57L117.7 57.1L118 57L119.4 55.2L119.5 55.1L121.2 54.4L122.7 55.2L122.9 55.3L124.1 57L124.6 58.6L124.7 58.7L126.4 60L127.4 60.4ZM203.5 43.1L202.6 42.5L201.1 41.4L200.8 41L199.7 39.7L199.1 38.4L198.9 38L198.7 36.2L199.1 35.3L199.7 34.5L200.8 34L202.6 33.7L204.3 33.9L205.8 34.5L206 34.6L207.4 36.2L207.8 37.2L207.9 38L208 39.7L207.9 41.4L207.8 41.7L206.8 43.1L206 43.6L204.3 43.5Z"/>
<path fill="#fba61f" stroke="#fba61f" stroke-width="0.3" fill-rule="evenodd" d="M283.9 90L283.9 89.8L283.9 88L283.9 86.3L283.9 84.6L283.9 84.2L282.2 83.5L281.1 82.8L280.5 82L280 81.1L280.1 79.4L280.5 78.7L281 77.7L282.1 75.9L282.2 75.9L283.7 74.2L283.9 74L283.9 72.5L283.9 70.8L283.9 69L283.9 67.3L282.2 68.5L281.6 69L280.5 70L279.8 70.8L278.7 72L278.3 72.5L277 74.2L277 74.2L275.6 75.9L275.3 76.3L274.3 77.7L273.5 79L273.3 79.4L272.8 81.1L272.8 82.8L273.3 84.6L273.5 84.9L274.6 86.3L275.3 86.8L277 88L277 88L278.7 88.8L280.5 89.3L282.2 89.7L282.6 89.8ZM204.3 43.5L206 43.6L206.8 43.1L207.8 41.7L207.9 41.4L208 39.7L207.9 38L207.8 37.2L207.4 36.2L206 34.6L205.8 34.5L204.3 33.9L202.6 33.7L200.8 34L199.7 34.5L199.1 35.3L198.7 36.2L198.9 38L199.1 38.4L199.7 39.7L200.8 41L201.1 41.4L202.6 42.5L203.5 43.1Z"/>
<path fill="#faa11b" stroke="#faa11b" stroke-width="0.3" fill-rule="evenodd" d="M282.2 83.5L283.9 84.2L283.9 82.8L283.9 81.1L283.9 79.4L283.9 77.7L283.9 75.9L283.9 74.2L283.9 74L283.7 74.2L282.2 75.9L282.1 75.9L281 77.7L280.5 78.7L280.1 79.4L280 81.1L280.5 82L281.1 82.8Z"/>

<path fill="#bebebe" d="M107.3 120.8H109.1V122.5H107.3ZM97.0 117.4H98.7V119.1H97.0ZM107.3 117.4H109.1V119.1H107.3ZM100.4 115.6H112.5V117.4H100.4ZM114.3 115.6H116.0V117.4H114.3ZM65.8 113.9H67.5V115.6H65.8ZM98.7 113.9H114.3V115.6H98.7ZM64.1 112.2H65.8V113.9H64.1ZM71.0 112.2H72.7V113.9H71.0ZM98.7 112.2H116.0V113.9H98.7ZM55.4 110.5H77.9V112.2H55.4ZM91.8 110.5H93.5V112.2H91.8ZM97.0 110.5H112.5V112.2H97.0ZM50.2 108.7H81.4V110.5H50.2ZM83.1 108.7H86.6V110.5H83.1ZM90.0 108.7H91.8V110.5H90.0ZM93.5 108.7H114.3V110.5H93.5ZM39.8 107.0H45.0V108.7H39.8ZM46.7 107.0H88.3V108.7H46.7ZM93.5 107.0H95.2V108.7H93.5ZM97.0 107.0H114.3V108.7H97.0ZM36.4 105.3H38.1V107.0H36.4ZM39.8 105.3H41.5V107.0H39.8ZM43.3 105.3H76.2V107.0H43.3ZM77.9 105.3H112.5V107.0H77.9ZM36.4 103.6H41.5V105.3H36.4ZM43.3 103.6H112.5V105.3H43.3ZM31.2 101.8H32.9V103.6H31.2ZM34.6 101.8H112.5V103.6H34.6ZM31.2 100.1H110.8V101.8H31.2ZM27.7 98.4H114.3V100.1H27.7ZM24.2 96.7H112.5V98.4H24.2ZM26.0 94.9H112.5V96.7H26.0ZM19.0 93.2H114.3V94.9H19.0ZM17.3 91.5H116.0V93.2H17.3ZM15.6 89.8H17.3V91.5H15.6ZM20.8 89.8H116.0V91.5H20.8ZM20.8 88.0H116.0V89.8H20.8ZM13.8 86.3H15.6V88.0H13.8ZM17.3 86.3H117.7V88.0H17.3ZM121.2 86.3H124.6V88.0H121.2ZM-1.7 84.6H0.0V86.3H-1.7ZM5.2 84.6H119.5V86.3H5.2ZM-1.7 82.8H0.0V84.6H-1.7ZM1.7 82.8H117.7V84.6H1.7ZM119.5 82.8H121.2V84.6H119.5ZM0.0 81.1H121.2V82.8H0.0ZM122.9 81.1H126.4V82.8H122.9ZM-1.7 79.4H41.5V81.1H-1.7ZM46.7 79.4H48.5V81.1H46.7ZM50.2 79.4H122.9V81.1H50.2ZM126.4 79.4H128.1V81.1H126.4ZM0.0 77.7H26.0V79.4H0.0ZM27.7 77.7H34.6V79.4H27.7ZM38.1 77.7H43.3V79.4H38.1ZM45.0 77.7H48.5V79.4H45.0ZM50.2 77.7H121.2V79.4H50.2ZM0.0 75.9H27.7V77.7H0.0ZM46.7 75.9H48.5V77.7H46.7ZM50.2 75.9H51.9V77.7H50.2ZM60.6 75.9H121.2V77.7H60.6ZM-1.7 74.2H26.0V75.9H-1.7ZM65.8 74.2H116.0V75.9H65.8ZM117.7 74.2H119.5V75.9H117.7ZM0.0 72.5H20.8V74.2H0.0ZM67.5 72.5H117.7V74.2H67.5ZM-1.7 70.8H13.8V72.5H-1.7ZM72.7 70.8H76.2V72.5H72.7ZM77.9 70.8H88.3V72.5H77.9ZM90.0 70.8H103.9V72.5H90.0ZM105.6 70.8H109.1V72.5H105.6ZM110.8 70.8H112.5V72.5H110.8ZM-1.7 69.0H8.7V70.8H-1.7ZM10.4 69.0H12.1V70.8H10.4ZM71.0 69.0H72.7V70.8H71.0ZM81.4 69.0H83.1V70.8H81.4ZM84.8 69.0H86.6V70.8H84.8ZM90.0 69.0H95.2V70.8H90.0ZM102.1 69.0H103.9V70.8H102.1ZM-1.7 67.3H5.2V69.0H-1.7ZM6.9 67.3H12.1V69.0H6.9ZM17.3 67.3H19.0V69.0H17.3ZM79.6 67.3H81.4V69.0H79.6ZM95.2 67.3H97.0V69.0H95.2ZM100.4 67.3H102.1V69.0H100.4ZM-1.7 65.6H17.3V67.3H-1.7ZM20.8 65.6H27.7V67.3H20.8ZM31.2 65.6H32.9V67.3H31.2ZM-1.7 63.9H12.1V65.6H-1.7ZM13.8 63.9H32.9V65.6H13.8ZM34.6 63.9H38.1V65.6H34.6ZM41.5 63.9H43.3V65.6H41.5ZM64.1 63.9H65.8V65.6H64.1ZM3.5 62.1H8.7V63.9H3.5ZM10.4 62.1H12.1V63.9H10.4ZM17.3 62.1H46.7V63.9H17.3ZM50.2 62.1H53.7V63.9H50.2ZM8.7 60.4H10.4V62.1H8.7ZM22.5 60.4H43.3V62.1H22.5ZM45.0 60.4H57.1V62.1H45.0ZM65.8 60.4H69.2V62.1H65.8ZM77.9 60.4H81.4V62.1H77.9ZM8.7 58.7H10.4V60.4H8.7ZM13.8 58.7H15.6V60.4H13.8ZM19.0 58.7H20.8V60.4H19.0ZM22.5 58.7H24.2V60.4H22.5ZM26.0 58.7H31.2V60.4H26.0ZM34.6 58.7H51.9V60.4H34.6ZM53.7 58.7H57.1V60.4H53.7ZM64.1 58.7H65.8V60.4H64.1ZM67.5 58.7H69.2V60.4H67.5ZM79.6 58.7H81.4V60.4H79.6ZM32.9 57.0H48.5V58.7H32.9ZM77.9 57.0H79.6V58.7H77.9ZM34.6 55.2H41.5V57.0H34.6ZM45.0 55.2H46.7V57.0H45.0ZM32.9 53.5H34.6V55.2H32.9ZM38.1 53.5H45.0V55.2H38.1ZM32.9 51.8H34.6V53.5H32.9ZM77.9 50.1H81.4V51.8H77.9ZM88.3 50.1H90.0V51.8H88.3ZM97.0 50.1H98.7V51.8H97.0ZM100.4 50.1H102.1V51.8H100.4ZM77.9 48.3H81.4V50.1H77.9ZM83.1 48.3H84.8V50.1H83.1ZM90.0 48.3H95.2V50.1H90.0ZM97.0 48.3H100.4V50.1H97.0ZM103.9 48.3H107.3V50.1H103.9ZM72.7 46.6H76.2V48.3H72.7ZM79.6 46.6H81.4V48.3H79.6ZM88.3 46.6H103.9V48.3H88.3ZM107.3 46.6H109.1V48.3H107.3ZM71.0 44.9H72.7V46.6H71.0ZM74.4 44.9H77.9V46.6H74.4ZM90.0 44.9H112.5V46.6H90.0ZM71.0 43.1H72.7V44.9H71.0ZM74.4 43.1H79.6V44.9H74.4ZM84.8 43.1H112.5V44.9H84.8ZM65.8 41.4H76.2V43.1H65.8ZM90.0 41.4H112.5V43.1H90.0ZM60.6 39.7H62.3V41.4H60.6ZM67.5 39.7H72.7V41.4H67.5ZM74.4 39.7H77.9V41.4H74.4ZM86.6 39.7H88.3V41.4H86.6ZM90.0 39.7H112.5V41.4H90.0ZM64.1 38.0H72.7V39.7H64.1ZM88.3 38.0H107.3V39.7H88.3ZM53.7 36.2H74.4V38.0H53.7ZM88.3 36.2H90.0V38.0H88.3ZM91.8 36.2H103.9V38.0H91.8ZM107.3 36.2H109.1V38.0H107.3ZM53.7 34.5H74.4V36.2H53.7ZM76.2 34.5H77.9V36.2H76.2ZM93.5 34.5H105.6V36.2H93.5ZM53.7 32.8H55.4V34.5H53.7ZM57.1 32.8H71.0V34.5H57.1ZM95.2 32.8H97.0V34.5H95.2ZM98.7 32.8H102.1V34.5H98.7ZM103.9 32.8H105.6V34.5H103.9ZM60.6 31.1H74.4V32.8H60.6ZM102.1 31.1H103.9V32.8H102.1ZM58.9 29.3H60.6V31.1H58.9ZM62.3 29.3H65.8V31.1H62.3ZM67.5 29.3H69.2V31.1H67.5ZM95.2 29.3H97.0V31.1H95.2ZM100.4 29.3H103.9V31.1H100.4ZM65.8 27.6H67.5V29.3H65.8ZM71.0 27.6H72.7V29.3H71.0ZM98.7 27.6H100.4V29.3H98.7ZM102.1 27.6H103.9V29.3H102.1ZM105.6 27.6H107.3V29.3H105.6ZM100.4 25.9H102.1V27.6H100.4ZM102.1 24.2H105.6V25.9H102.1ZM103.9 22.4H105.6V24.2H103.9ZM100.4 20.7H102.1V22.4H100.4Z"/>
<path fill="none" stroke="#000" stroke-width="0.6" stroke-linejoin="round" d="M-1.4 126.3 L1.7 127.7 L8.3 130.1 L9.3 135.3 L10.4 140.8 L12.5 143.6 L14.2 150.2 L16.6 155.3 L18.4 162.2 L20.8 169.1 L21.8 174.3"/>
<path fill="none" stroke="#000" stroke-width="0.6" stroke-linejoin="round" d="M33.9 174.3 L34.3 167.4 L35.3 161.6 L35.0 154.0 L38.8 150.9 L42.6 148.8 L46.7 145.0 L51.9 140.8 L57.1 137.7 L58.9 133.6 L63.0 132.2 L65.8 131.5 L69.9 131.2 L73.1 129.1 L75.5 130.8 L77.2 133.2 L78.6 136.7 L81.7 139.5 L83.4 142.9 L84.8 147.7 L84.5 151.9 L87.6 152.6 L91.1 149.8 L93.8 149.8 L95.9 153.6 L97.6 160.2 L99.0 165.7 L99.4 170.5 L100.1 174.3"/>
<path fill="none" stroke="#000" stroke-width="0.6" stroke-linejoin="round" d="M101.1 174.3 L101.5 170.9 L102.5 166.4 L103.5 162.6 L104.6 160.5 L107.0 160.9 L107.0 163.3 L109.8 163.6 L112.2 165.4 L113.9 167.4 L115.3 170.2 L118.4 170.9 L120.5 172.9 L120.5 174.3"/>
<path fill="none" stroke="#000" stroke-width="0.6" stroke-linejoin="round" d="M123.3 174.3 L126.4 172.3 L128.1 170.9 L131.2 169.8 L134.7 168.1 L135.7 165.7 L136.4 162.6 L135.7 159.5 L134.3 154.6 L132.3 151.5 L128.8 148.8 L126.7 146.4 L124.3 143.3 L123.6 140.8 L124.6 138.4 L127.1 136.0 L129.5 133.9 L131.9 132.9 L134.0 132.2 L136.1 133.2 L137.8 134.6 L139.5 136.7 L140.2 133.9 L143.0 132.9 L146.1 131.9 L149.9 130.5 L151.0 128.8 L153.4 129.8 L156.9 128.4 L160.7 128.1 L164.1 125.7 L166.5 122.9 L169.0 121.2 L171.4 118.7 L171.7 115.6 L173.8 113.2 L175.9 110.5 L178.3 108.4 L179.7 105.6 L179.7 103.2 L177.3 101.8 L179.7 100.1 L178.0 97.3 L176.2 94.9 L175.2 92.2 L173.8 88.7 L170.7 87.0 L171.7 84.6 L174.2 82.8 L176.2 81.1 L181.8 79.4 L181.4 78.0 L176.9 77.0 L174.2 77.3 L170.4 78.7 L169.3 77.0 L167.2 75.6 L165.2 73.9 L165.9 71.8 L169.3 72.1 L171.4 69.7 L174.9 68.0 L177.3 65.9 L180.7 67.3 L178.3 69.7 L177.3 72.5 L179.0 72.8 L181.4 71.1 L185.2 69.7 L188.4 69.0 L189.7 70.4 L191.5 71.1 L191.5 73.5 L189.7 75.6 L191.8 77.0 L195.6 77.3 L196.3 79.4 L194.9 81.1 L196.0 84.2 L194.9 87.0 L196.0 88.4 L199.1 87.3 L202.6 86.6 L205.3 84.9 L206.0 82.2 L205.7 79.4 L203.6 76.6 L201.9 74.2 L199.4 71.5 L199.4 69.7 L202.6 68.0 L206.7 66.3 L207.1 63.9 L209.8 60.8 L213.3 58.7 L215.7 57.6 L218.5 59.4 L223.3 57.6 L226.8 55.2 L231.3 51.8 L235.1 47.3 L237.5 43.8 L240.6 40.4 L243.4 37.3 L244.1 34.5 L244.5 31.1 L246.5 27.6 L246.5 24.2 L244.5 22.4 L241.0 20.4 L236.1 20.7 L232.7 21.4 L231.3 18.6 L227.1 18.3 L230.6 15.9 L235.4 12.8 L240.6 9.3 L245.8 5.5 L251.0 2.8 L258.0 2.1 L264.9 2.4 L271.8 2.4 L275.3 1.0 L278.7 1.4"/>
<path fill="none" stroke="#000" stroke-width="0.6" stroke-linejoin="round" d="M133.7 140.8 L135.7 138.1 L139.9 137.7 L142.0 139.5 L140.2 142.9 L136.8 144.3 L134.0 143.3 L133.7 140.8"/>
<path fill="none" stroke="#000" stroke-width="0.6" stroke-linejoin="round" d="M173.5 127.7 L175.5 131.2 L176.6 129.4 L178.3 126.0 L179.7 121.5 L178.3 119.8 L176.6 120.8 L173.8 125.0 L173.5 127.7"/>
<path fill="none" stroke="#000" stroke-width="0.6" stroke-linejoin="round" d="M206.4 92.2 L208.4 91.1 L210.9 90.1 L213.3 92.2 L212.9 94.9 L211.6 98.7 L209.8 99.8 L208.4 99.1 L208.4 96.0 L207.1 94.6 L206.4 92.2"/>
<path fill="none" stroke="#000" stroke-width="0.6" stroke-linejoin="round" d="M216.4 90.1 L219.9 88.7 L223.7 89.1 L223.7 90.8 L222.3 92.2 L218.8 93.9 L216.8 92.9 L216.4 90.1"/>
<path fill="none" stroke="#000" stroke-width="0.6" stroke-linejoin="round" d="M210.9 89.8 L212.6 88.4 L216.4 85.6 L219.9 84.6 L225.1 84.2 L227.8 84.2 L228.5 82.8 L230.9 79.7 L233.0 80.1 L235.4 79.4 L237.2 77.7 L240.3 75.6 L242.0 72.5 L242.4 69.0 L242.0 67.0 L243.4 64.9 L246.5 64.9 L247.6 67.3 L249.0 70.8 L247.6 74.2 L245.8 75.9 L245.5 79.4 L244.5 82.2 L245.1 83.9 L243.4 86.0 L241.7 86.3 L239.6 85.6 L238.2 87.7 L236.5 87.3 L232.7 87.7 L231.3 88.7 L228.9 91.5 L226.1 90.8 L225.8 88.4 L223.3 87.3 L219.9 88.4 L216.4 89.1 L214.7 90.1 L211.2 90.1 L210.9 89.8"/>
<path fill="none" stroke="#000" stroke-width="0.6" stroke-linejoin="round" d="M242.4 63.9 L243.1 61.1 L241.7 60.1 L243.8 57.6 L246.9 58.0 L247.9 54.5 L248.3 50.7 L251.0 51.8 L254.5 54.5 L258.0 55.6 L260.7 54.5 L262.5 57.3 L259.7 58.7 L253.8 62.1 L249.3 60.4 L245.8 60.8 L244.1 62.1 L245.5 63.5 L242.4 63.9"/>
<path fill="none" stroke="#000" stroke-width="0.6" stroke-linejoin="round" d="M249.0 48.3 L249.3 44.9 L250.0 39.7 L249.3 36.2 L250.0 31.1 L252.1 25.9 L251.7 22.1 L251.4 19.7 L253.5 24.2 L253.8 29.3 L253.5 34.5 L257.3 38.0 L254.5 39.7 L252.8 43.1 L254.5 47.3 L251.0 45.9 L249.0 48.3"/>
<path fill="none" stroke="#000" stroke-width="0.6" stroke-linejoin="round" d="M263.1 55.9 L266.6 54.2"/>
<path fill="none" stroke="#000" stroke-width="0.6" stroke-linejoin="round" d="M268.3 53.2 L271.8 51.1"/>
<path fill="none" stroke="#000" stroke-width="0.6" stroke-linejoin="round" d="M273.5 50.1 L278.7 47.6"/>
<path fill="none" stroke="#000" stroke-width="0.6" stroke-linejoin="round" d="M175.2 143.3 L177.3 142.9 L180.7 143.3 L181.4 147.7 L180.4 151.2 L178.7 152.9 L178.7 157.4 L180.7 158.8 L184.2 159.5 L187.3 162.2 L186.3 163.6 L183.2 161.2 L181.1 160.2 L179.0 159.1 L176.2 159.1 L175.2 157.1 L173.8 155.3 L172.4 151.2 L174.2 149.8 L174.5 146.4 L175.2 143.3"/>
<path fill="none" stroke="#000" stroke-width="0.6" stroke-linejoin="round" d="M174.5 160.5 L177.3 160.9 L178.3 163.6 L176.9 165.0 L174.9 162.6 L174.5 160.5"/>
<path fill="none" stroke="#000" stroke-width="0.6" stroke-linejoin="round" d="M180.0 166.4 L182.1 167.4 L184.2 169.5 L183.5 171.9 L181.4 171.2 L180.0 169.1 L180.0 166.4"/>
<path fill="none" stroke="#000" stroke-width="0.6" stroke-linejoin="round" d="M186.3 168.5 L187.7 171.2 L187.0 172.9 L185.2 171.2 L186.3 168.5"/>
<path fill="none" stroke="#000" stroke-width="0.6" stroke-linejoin="round" d="M188.0 164.0 L191.1 164.7 L192.5 168.5 L190.4 171.9 L188.4 169.5 L188.0 164.0"/>
<path fill="none" stroke="#000" stroke-width="0.6" stroke-linejoin="round" d="M192.2 173.3 L194.6 174.3 L195.6 173.3"/>
<path fill="none" stroke="#000" stroke-width="0.6" stroke-linejoin="round" d="M12.5 49.7 L15.6 48.3 L20.1 46.9 L24.2 46.6 L29.4 45.9 L32.2 46.3 L29.4 47.3 L24.2 47.6 L19.0 48.7 L15.6 50.7 L13.8 51.8 L12.5 49.7"/>
<path fill="none" stroke="#000" stroke-width="0.6" stroke-linejoin="round" d="M116.3 28.5 L119.5 27.8 L124.0 26.1 L128.8 23.1 L132.6 20.0 L135.0 16.9 L137.1 14.2 L138.5 15.2 L137.5 18.6 L135.0 22.1 L130.9 25.2 L125.7 28.0 L120.5 29.5 L117.0 29.3 L116.3 28.5"/>
<rect x="69.45" y="69.44" width="103.88" height="69.04" fill="none" stroke="#1f36d6" stroke-width="1.35"/>
</g>
<rect x="0" y="0" width="277.0" height="172.6" fill="none" stroke="#222" stroke-width="0.9"/>
<line x1="-3" y1="172.60" x2="0" y2="172.60" stroke="#333" stroke-width="0.7"/>
<line x1="-3" y1="155.34" x2="0" y2="155.34" stroke="#333" stroke-width="0.7"/>
<line x1="-6" y1="138.08" x2="0" y2="138.08" stroke="#333" stroke-width="0.7"/>
<line x1="-3" y1="120.82" x2="0" y2="120.82" stroke="#333" stroke-width="0.7"/>
<line x1="-3" y1="103.56" x2="0" y2="103.56" stroke="#333" stroke-width="0.7"/>
<line x1="-3" y1="86.30" x2="0" y2="86.30" stroke="#333" stroke-width="0.7"/>
<line x1="-6" y1="69.04" x2="0" y2="69.04" stroke="#333" stroke-width="0.7"/>
<line x1="-3" y1="51.78" x2="0" y2="51.78" stroke="#333" stroke-width="0.7"/>
<line x1="-3" y1="34.52" x2="0" y2="34.52" stroke="#333" stroke-width="0.7"/>
<line x1="-3" y1="17.26" x2="0" y2="17.26" stroke="#333" stroke-width="0.7"/>
<line x1="-6" y1="0.00" x2="0" y2="0.00" stroke="#333" stroke-width="0.7"/>
<line x1="0.00" y1="172.6" x2="0.00" y2="175.6" stroke="#333" stroke-width="0.7"/>
<line x1="34.62" y1="172.6" x2="34.62" y2="175.6" stroke="#333" stroke-width="0.7"/>
<line x1="69.25" y1="172.6" x2="69.25" y2="178.6" stroke="#333" stroke-width="0.7"/>
<line x1="103.88" y1="172.6" x2="103.88" y2="175.6" stroke="#333" stroke-width="0.7"/>
<line x1="138.50" y1="172.6" x2="138.50" y2="175.6" stroke="#333" stroke-width="0.7"/>
<line x1="173.12" y1="172.6" x2="173.12" y2="178.6" stroke="#333" stroke-width="0.7"/>
<line x1="207.75" y1="172.6" x2="207.75" y2="175.6" stroke="#333" stroke-width="0.7"/>
<line x1="242.38" y1="172.6" x2="242.38" y2="175.6" stroke="#333" stroke-width="0.7"/>
<line x1="277.00" y1="172.6" x2="277.00" y2="178.6" stroke="#333" stroke-width="0.7"/>
<text x="-8.2" y="5.10" text-anchor="end">60N</text>
<text x="-8.2" y="74.14" text-anchor="end">40N</text>
<text x="-8.2" y="143.18" text-anchor="end">20N</text>
<text x="69.55" y="189.40" text-anchor="middle">90E</text>
<text x="173.43" y="189.40" text-anchor="middle">120E</text>
<text x="277.30" y="189.40" text-anchor="middle">150E</text>
<text x="-0.9" y="-3.90">(b) Cor (H1000, CECSH)</text>
<rect x="284.0" y="1.50" width="5.5" height="8.06" fill="#d31920"/>
<rect x="284.0" y="9.26" width="5.5" height="8.06" fill="#ed2024"/>
<rect x="284.0" y="17.02" width="5.5" height="8.06" fill="#f04b23"/>
<rect x="284.0" y="24.78" width="5.5" height="8.06" fill="#f36b21"/>
<rect x="284.0" y="32.54" width="5.5" height="8.06" fill="#f7891e"/>
<rect x="284.0" y="40.30" width="5.5" height="8.06" fill="#faa11b"/>
<rect x="284.0" y="48.05" width="5.5" height="8.06" fill="#fba61f"/>
<rect x="284.0" y="55.81" width="5.5" height="8.06" fill="#fcbb44"/>
<rect x="284.0" y="63.57" width="5.5" height="8.06" fill="#fed679"/>
<rect x="284.0" y="71.33" width="5.5" height="8.06" fill="#ffe9a7"/>
<rect x="284.0" y="79.09" width="5.5" height="8.06" fill="#fff4d1"/>
<rect x="284.0" y="86.85" width="5.5" height="8.06" fill="#c3ecfa"/>
<rect x="284.0" y="94.61" width="5.5" height="8.06" fill="#9ee1f7"/>
<rect x="284.0" y="102.37" width="5.5" height="8.06" fill="#7fd5f3"/>
<rect x="284.0" y="110.13" width="5.5" height="8.06" fill="#66caef"/>
<rect x="284.0" y="117.89" width="5.5" height="8.06" fill="#4abfe9"/>
<rect x="284.0" y="125.65" width="5.5" height="8.06" fill="#35b3e3"/>
<rect x="284.0" y="133.40" width="5.5" height="8.06" fill="#1ea5dc"/>
<rect x="284.0" y="141.16" width="5.5" height="8.06" fill="#0e8ccb"/>
<rect x="284.0" y="148.92" width="5.5" height="8.06" fill="#0b76bb"/>
<rect x="284.0" y="156.68" width="5.5" height="8.06" fill="#0a66ad"/>
<rect x="284.0" y="164.44" width="5.5" height="8.06" fill="#0b539d"/>
<rect x="284.0" y="1.5" width="5.5" height="170.7" fill="none" stroke="#777" stroke-width="0.3"/>
<text x="299.5" y="13.96" text-anchor="middle">1</text>
<text x="299.5" y="45.00" text-anchor="middle">0.6</text>
<text x="299.5" y="76.03" text-anchor="middle">0.2</text>
<text x="299.5" y="107.07" text-anchor="middle">-0.2</text>
<text x="299.5" y="138.10" text-anchor="middle">-0.6</text>
<text x="299.5" y="169.14" text-anchor="middle">-1</text>
</g>
<g transform="translate(379.3,12.35)">
<clipPath id="clipc"><rect x="0" y="0" width="277.0" height="172.6"/></clipPath>
<g clip-path="url(#clipc)">
<rect x="0" y="0" width="277.0" height="172.6" fill="#fba61f"/>
<path fill="#66caef" stroke="#66caef" stroke-width="0.3" fill-rule="evenodd" d="M166.2 95.2L167.9 95.4L169.7 95.4L171.4 95.3L173.1 94.9L173.6 94.9L174.9 94.9L175.8 94.9L176.6 94.9L178.3 94.9L178.8 94.9L180 94.9L181.8 94.6L183.5 94L184.9 93.2L185.2 92.9L186.4 91.5L187 89.8L185.2 88.3L184.3 88L183.5 87.9L181.8 87.7L180 87.4L178.3 87L176.6 86.3L176.5 86.3L174.9 85.8L173.1 85.4L171.4 85.2L169.7 85.2L167.9 85.5L166.2 86.1L165.6 86.3L164.5 86.8L162.7 87.6L161.7 88L161 88.4L159.3 89.1L157.6 89.8L157.5 89.8L157.3 91.5L157.5 91.7L159.3 93.1L159.4 93.2L161 93.7L162.7 94.3L164.5 94.8L164.9 94.9Z"/>
<path fill="#7fd5f3" stroke="#7fd5f3" stroke-width="0.3" fill-rule="evenodd" d="M176.6 101.9L178.3 102.1L180 102.1L181.8 102.1L183.5 101.9L183.8 101.8L185.2 101.5L187 100.7L187.9 100.1L188.7 99.4L189.7 98.4L190.4 97.5L191 96.7L192.2 95L192.2 94.9L193.3 93.2L193.9 92.1L194.3 91.5L195.4 89.8L195.6 89.4L196.9 88L197.4 87.5L199.1 86.5L200.8 86.3L200.8 86.3L200.8 86.3L202.6 86.6L204.3 87.5L204.7 88L206 89.6L206.1 89.8L207 91.5L207.5 93.2L207.8 94.9L207.8 94.9L209.3 96.7L209.5 96.8L211.2 97.7L212.9 98.1L214.7 98.2L216.4 97.9L218.1 97.3L219.5 96.7L219.9 96.4L221.6 95.2L221.9 94.9L223.3 93.5L223.6 93.2L224.9 91.5L225.1 91.2L225.9 89.8L226.8 88L226.8 88L227.5 86.3L228 84.6L228.4 82.8L228.5 81.9L228.6 81.1L228.6 79.4L228.5 79.2L228.1 77.7L226.8 75.9L226.8 75.9L225.1 74.8L223.4 74.2L223.3 74.2L221.6 73.9L219.9 73.9L218.1 74L216.4 74.2L216.2 74.2L214.7 74.5L212.9 75L211.2 75.5L209.9 75.9L209.5 76.1L207.8 76.7L206 77.3L205 77.7L204.3 78L202.6 78.6L200.8 79.1L199.1 79.4L198.7 79.4L197.4 79.5L195.6 79.5L193.9 79.5L192.2 79.5L190.4 79.6L188.7 79.7L187 80L185.2 80.3L183.5 80.7L181.8 81L180 81.1L178.3 80.8L176.6 80.3L174.9 79.9L173.1 79.6L171.6 79.4L171.4 79.4L169.7 79.4L169.2 79.4L167.9 79.5L166.2 79.9L164.5 80.4L162.8 81.1L162.7 81.1L161 82L159.3 82.8L159.3 82.8L157.5 83.3L155.8 83.7L154.1 84.2L152.9 84.6L152.3 84.8L150.6 85.6L149.4 86.3L148.9 86.7L147.3 88L147.2 88.2L146.1 89.8L145.4 91.5L145.4 91.5L145.3 93.2L145.4 93.6L145.8 94.9L147.1 96.7L147.2 96.7L148.9 97.8L150 98.4L150.6 98.6L152.3 99.1L154.1 99.5L155.8 99.7L157.5 99.9L159.3 100.1L159.3 100.1L161 100.4L162.7 100.7L164.5 101L166.2 101.2L167.9 101.4L169.7 101.5L171.4 101.6L173.1 101.7L174.9 101.8L175 101.8ZM164.9 94.9L164.5 94.8L162.7 94.3L161 93.7L159.4 93.2L159.3 93.1L157.5 91.7L157.3 91.5L157.5 89.8L157.6 89.8L159.3 89.1L161 88.4L161.7 88L162.7 87.6L164.5 86.8L165.6 86.3L166.2 86.1L167.9 85.5L169.7 85.2L171.4 85.2L173.1 85.4L174.9 85.8L176.5 86.3L176.6 86.3L178.3 87L180 87.4L181.8 87.7L183.5 87.9L184.3 88L185.2 88.3L187 89.8L186.4 91.5L185.2 92.9L184.9 93.2L183.5 94L181.8 94.6L180 94.9L178.8 94.9L178.3 94.9L176.6 94.9L175.8 94.9L174.9 94.9L173.6 94.9L173.1 94.9L171.4 95.3L169.7 95.4L167.9 95.4L166.2 95.2Z"/>
<path fill="#9ee1f7" stroke="#9ee1f7" stroke-width="0.3" fill-rule="evenodd" d="M173.1 107.1L174.9 107.2L176.6 107.3L178.3 107.4L180 107.4L181.8 107.4L183.5 107.2L184.6 107L185.2 106.9L187 106.4L188.7 105.6L189.2 105.3L190.4 104.5L191.7 103.6L192.2 103.1L193.4 101.8L193.9 101.2L194.8 100.1L195.6 98.9L196 98.4L197.2 96.7L197.4 96.4L198.6 94.9L199.1 94.4L200.8 93.3L201.7 93.2L202.6 93.1L202.8 93.2L204.3 93.9L205 94.9L205.6 96.7L206 97.6L206.3 98.4L207.7 100.1L207.8 100.2L209.5 101.5L210.2 101.8L211.2 102.3L212.9 102.9L214.7 103.1L216.4 103.2L218.1 103L219.9 102.6L221.6 102L222.1 101.8L223.3 101.2L225.1 100.3L225.3 100.1L226.8 99.1L227.7 98.4L228.5 97.7L229.8 96.7L230.3 96.2L231.6 94.9L232 94.5L233.3 93.2L233.7 92.7L234.8 91.5L235.4 90.7L236.3 89.8L237.2 88.7L237.9 88L238.9 87L239.9 86.3L240.6 85.8L242.4 84.9L243.3 84.6L244.1 84.2L245.8 83.7L247.6 83.2L249.3 82.8L249.3 82.8L251 82.6L252.8 82.4L254.5 82.3L256.2 82.2L258 82.2L259.7 82.3L261.4 82.4L263.1 82.6L264.9 82.7L266.6 82.8L266.9 82.8L268.3 82.9L270.1 83L271.8 83L273.5 83L275.1 82.8L275.3 82.8L277 82.5L278.7 81.9L280.2 81.1L280.5 81L282.2 79.7L282.6 79.4L283.9 78L283.9 77.7L283.9 75.9L283.9 74.2L283.9 72.5L283.9 70.8L283.9 69L283.9 67.3L283.9 65.6L283.9 63.9L283.9 62.7L283.6 62.1L282.4 60.4L282.2 60.1L281 58.7L280.5 58.1L279.2 57L278.7 56.5L277 55.2L277 55.2L275.3 54L273.5 54L271.8 54.2L270.1 54.5L268.3 54.8L266.6 55.1L266.2 55.2L264.9 55.5L263.1 55.9L261.4 56.3L259.7 56.8L258.8 57L258 57.2L256.2 57.7L254.5 58.1L252.8 58.6L252.3 58.7L251 59L249.3 59.4L247.6 59.8L245.8 60.1L244.1 60.3L242.4 60.4L240.6 60.4L238.9 60.2L237.2 60.1L235.4 60.1L233.7 60.2L232 60.4L232 60.4L230.3 60.7L228.5 61.2L226.8 61.7L225.2 62.1L225.1 62.2L223.3 62.7L221.6 63.3L219.9 63.8L219.8 63.9L218.1 64.4L216.4 64.9L214.7 65.5L214.4 65.6L212.9 66.1L211.2 66.8L210.1 67.3L209.5 67.6L207.8 68.3L206 68.9L205.4 69L204.3 69.3L202.6 69.7L200.8 70.1L199.1 70.4L197.4 70.7L196.9 70.8L195.6 71L193.9 71.3L192.2 71.6L190.4 72L188.7 72.5L188.6 72.5L187 73L185.2 73.4L183.5 73.8L181.8 74.1L180 74.2L178.3 74.1L176.6 73.9L174.9 73.7L173.1 73.6L171.4 73.6L169.7 73.7L167.9 73.9L166.2 74.1L165.6 74.2L164.5 74.4L162.7 74.7L161 75.1L159.3 75.5L157.6 75.9L157.5 76L155.8 76.7L154.1 77.6L153.9 77.7L152.3 78.3L150.6 78.8L148.9 79.3L148.3 79.4L147.2 79.7L145.4 80.2L143.7 80.7L142.5 81.1L142 81.4L140.2 82.3L139.4 82.8L138.5 83.6L137.4 84.6L136.8 85.2L135.9 86.3L135 87.6L134.8 88L134 89.8L133.3 91.5L133.3 91.5L132.7 93.2L132.2 94.9L131.9 96.7L131.8 98.4L132.2 100.1L133 101.8L133.3 102.2L134.7 103.6L135 103.8L136.8 104.7L138.5 105.3L138.5 105.3L140.2 105.5L142 105.6L143.7 105.6L145.4 105.7L147.2 105.7L148.9 105.7L150.6 105.8L152.4 105.8L154.1 105.9L155.8 105.9L157.5 106L159.3 106.1L161 106.2L162.7 106.3L164.5 106.4L166.2 106.6L167.9 106.7L169.7 106.8L171.4 107L171.9 107ZM175 101.8L174.9 101.8L173.1 101.7L171.4 101.6L169.7 101.5L167.9 101.4L166.2 101.2L164.5 101L162.7 100.7L161 100.4L159.3 100.1L159.3 100.1L157.5 99.9L155.8 99.7L154.1 99.5L152.3 99.1L150.6 98.6L150 98.4L148.9 97.8L147.2 96.7L147.1 96.7L145.8 94.9L145.4 93.6L145.3 93.2L145.4 91.5L145.4 91.5L146.1 89.8L147.2 88.2L147.3 88L148.9 86.7L149.4 86.3L150.6 85.6L152.3 84.8L152.9 84.6L154.1 84.2L155.8 83.7L157.5 83.3L159.3 82.8L159.3 82.8L161 82L162.7 81.1L162.8 81.1L164.5 80.4L166.2 79.9L167.9 79.5L169.2 79.4L169.7 79.4L171.4 79.4L171.6 79.4L173.1 79.6L174.9 79.9L176.6 80.3L178.3 80.8L180 81.1L181.8 81L183.5 80.7L185.2 80.3L187 80L188.7 79.7L190.4 79.6L192.2 79.5L193.9 79.5L195.6 79.5L197.4 79.5L198.7 79.4L199.1 79.4L200.8 79.1L202.6 78.6L204.3 78L205 77.7L206 77.3L207.8 76.7L209.5 76.1L209.9 75.9L211.2 75.5L212.9 75L214.7 74.5L216.2 74.2L216.4 74.2L218.1 74L219.9 73.9L221.6 73.9L223.3 74.2L223.4 74.2L225.1 74.8L226.8 75.9L226.8 75.9L228.1 77.7L228.5 79.2L228.6 79.4L228.6 81.1L228.5 81.9L228.4 82.8L228 84.6L227.5 86.3L226.8 88L226.8 88L225.9 89.8L225.1 91.2L224.9 91.5L223.6 93.2L223.3 93.5L221.9 94.9L221.6 95.2L219.9 96.4L219.5 96.7L218.1 97.3L216.4 97.9L214.7 98.2L212.9 98.1L211.2 97.7L209.5 96.8L209.3 96.7L207.8 94.9L207.8 94.9L207.5 93.2L207 91.5L206.1 89.8L206 89.6L204.7 88L204.3 87.5L202.6 86.6L200.8 86.3L200.8 86.3L200.8 86.3L199.1 86.5L197.4 87.5L196.9 88L195.6 89.4L195.4 89.8L194.3 91.5L193.9 92.1L193.3 93.2L192.2 94.9L192.2 95L191 96.7L190.4 97.5L189.7 98.4L188.7 99.4L187.9 100.1L187 100.7L185.2 101.5L183.8 101.8L183.5 101.9L181.8 102.1L180 102.1L178.3 102.1L176.6 101.9Z"/>
<path fill="#c3ecfa" stroke="#c3ecfa" stroke-width="0.3" fill-rule="evenodd" d="M174.9 112.2L176.6 112.5L178.3 112.7L180 112.8L181.8 112.8L183.5 112.6L185.2 112.4L186.1 112.2L187 112L188.7 111.5L190.4 110.7L191 110.5L192.2 109.8L193.9 108.8L194 108.7L195.6 107.6L196.4 107L197.4 106.3L198.8 105.3L199.1 105.1L200.8 104.2L202.6 104L204.3 104.5L206 105.3L206 105.3L207.8 106.1L209.5 106.9L209.9 107L211.2 107.5L212.9 107.9L214.7 108.2L216.4 108.4L218.1 108.4L219.9 108.2L221.6 107.9L223.3 107.4L224.3 107L225.1 106.7L226.8 105.9L227.9 105.3L228.5 104.9L230.3 103.8L230.7 103.6L232 102.7L233.2 101.8L233.7 101.5L235.4 100.4L235.9 100.1L237.2 99.3L238.9 98.4L238.9 98.4L240.6 97.3L242 96.7L242.4 96.4L244.1 95.6L245.8 94.9L245.8 94.9L247.6 94.3L249.3 93.9L251 93.6L252.8 93.3L253.6 93.2L254.5 93.1L256.2 93L258 92.8L259.7 92.8L261.4 92.7L263.1 92.7L264.9 92.7L266.6 92.7L268.3 92.6L270.1 92.6L271.8 92.6L273.5 92.6L275.3 92.6L277 92.5L278.7 92.4L280.5 92.1L282.2 91.8L283.8 91.5L283.9 91.5L283.9 89.8L283.9 88L283.9 86.3L283.9 84.6L283.9 82.8L283.9 81.1L283.9 79.4L283.9 78L282.6 79.4L282.2 79.7L280.5 81L280.2 81.1L278.7 81.9L277 82.5L275.3 82.8L275.1 82.8L273.5 83L271.8 83L270.1 83L268.3 82.9L266.9 82.8L266.6 82.8L264.9 82.7L263.1 82.6L261.4 82.4L259.7 82.3L258 82.2L256.2 82.2L254.5 82.3L252.8 82.4L251 82.6L249.3 82.8L249.3 82.8L247.6 83.2L245.8 83.7L244.1 84.2L243.3 84.6L242.4 84.9L240.6 85.8L239.9 86.3L238.9 87L237.9 88L237.2 88.7L236.3 89.8L235.4 90.7L234.8 91.5L233.7 92.7L233.3 93.2L232 94.5L231.6 94.9L230.3 96.2L229.8 96.7L228.5 97.7L227.7 98.4L226.8 99.1L225.3 100.1L225.1 100.3L223.3 101.2L222.1 101.8L221.6 102L219.9 102.6L218.1 103L216.4 103.2L214.7 103.1L212.9 102.9L211.2 102.3L210.2 101.8L209.5 101.5L207.8 100.2L207.7 100.1L206.3 98.4L206 97.6L205.6 96.7L205 94.9L204.3 93.9L202.8 93.2L202.6 93.1L201.7 93.2L200.8 93.3L199.1 94.4L198.6 94.9L197.4 96.4L197.2 96.7L196 98.4L195.6 98.9L194.8 100.1L193.9 101.2L193.4 101.8L192.2 103.1L191.7 103.6L190.4 104.5L189.2 105.3L188.7 105.6L187 106.4L185.2 106.9L184.6 107L183.5 107.2L181.8 107.4L180.1 107.4L178.3 107.4L176.6 107.3L174.9 107.2L173.1 107.1L171.9 107L171.4 107L169.7 106.8L167.9 106.7L166.2 106.6L164.5 106.4L162.7 106.3L161 106.2L159.3 106.1L157.5 106L155.8 105.9L154.1 105.9L152.3 105.8L150.6 105.8L148.9 105.7L147.2 105.7L145.4 105.7L143.7 105.6L142 105.6L140.2 105.5L138.5 105.3L138.5 105.3L136.8 104.7L135 103.8L134.7 103.6L133.3 102.2L133 101.8L132.2 100.1L131.8 98.4L131.9 96.7L132.2 94.9L132.7 93.2L133.3 91.5L133.3 91.5L134 89.8L134.8 88L135 87.6L135.9 86.3L136.8 85.2L137.4 84.6L138.5 83.6L139.4 82.8L140.2 82.3L142 81.4L142.5 81.1L143.7 80.7L145.4 80.2L147.2 79.7L148.3 79.4L148.9 79.3L150.6 78.8L152.4 78.3L153.9 77.7L154.1 77.6L155.8 76.7L157.5 76L157.6 75.9L159.3 75.5L161 75.1L162.7 74.7L164.5 74.4L165.6 74.2L166.2 74.1L167.9 73.9L169.7 73.7L171.4 73.6L173.1 73.6L174.9 73.7L176.6 73.9L178.3 74.1L180 74.2L181.8 74.1L183.5 73.8L185.2 73.4L187 73L188.6 72.5L188.7 72.5L190.4 72L192.2 71.6L193.9 71.3L195.6 71L196.9 70.8L197.4 70.7L199.1 70.4L200.8 70.1L202.6 69.7L204.3 69.3L205.4 69L206 68.9L207.8 68.3L209.5 67.6L210.1 67.3L211.2 66.8L212.9 66.1L214.4 65.6L214.7 65.5L216.4 64.9L218.1 64.4L219.8 63.9L219.9 63.8L221.6 63.3L223.3 62.7L225.1 62.2L225.2 62.1L226.8 61.7L228.5 61.2L230.3 60.7L232 60.4L232 60.4L233.7 60.2L235.4 60.1L237.2 60.1L238.9 60.2L240.6 60.4L242.4 60.4L244.1 60.3L245.8 60.1L247.6 59.8L249.3 59.4L251 59L252.3 58.7L252.8 58.6L254.5 58.1L256.2 57.7L258 57.2L258.8 57L259.7 56.8L261.4 56.3L263.1 55.9L264.9 55.5L266.2 55.2L266.6 55.1L268.3 54.8L270.1 54.5L271.8 54.2L273.5 54L275.3 54L277 55.2L277 55.2L278.7 56.5L279.2 57L280.5 58.1L281 58.7L282.2 60.1L282.4 60.4L283.6 62.1L283.9 62.7L283.9 62.1L283.9 60.4L283.9 58.7L283.9 57L283.9 55.2L283.9 53.5L283.9 52.3L283.1 51.8L282.2 51.3L280.5 50.4L279.9 50.1L278.7 49.7L277 49.3L275.3 49.2L273.5 49.2L271.8 49.2L270.1 49.1L268.3 49.1L266.6 49L264.9 49L263.1 49.1L261.4 49.1L259.7 49.2L258 49.4L256.2 49.5L254.5 49.6L252.8 49.8L251 49.9L249.3 49.9L247.6 49.9L245.8 49.9L244.1 49.8L242.4 49.6L240.6 49.4L238.9 49.2L237.2 48.9L235.4 48.8L233.7 48.7L232 49L230.3 49.6L229.4 50.1L228.5 50.6L227 51.8L226.8 51.9L225.1 53.3L224.8 53.5L223.3 54.5L222.3 55.2L221.6 55.7L219.9 56.7L219.4 57L218.1 57.6L216.4 58.4L215.6 58.7L214.7 59L212.9 59.6L211.2 60.2L210.5 60.4L209.5 60.8L207.8 61.5L206.4 62.1L206 62.3L204.3 63.2L202.8 63.9L202.6 63.9L200.8 64.6L199.1 65.1L197.4 65.5L196.7 65.6L195.6 65.8L193.9 66.1L192.2 66.4L190.4 66.7L188.7 67.2L188.2 67.3L187 67.6L185.2 68.1L183.5 68.4L181.8 68.7L180 68.8L178.3 68.8L176.6 68.8L174.9 68.7L173.1 68.7L171.4 68.9L170.5 69L169.7 69.2L167.9 69.5L166.2 69.8L164.5 70L162.7 70.2L161 70.4L159.3 70.5L157.5 70.5L155.8 70.7L155.6 70.8L154.1 71.3L152.3 72.1L151.3 72.5L150.6 72.8L148.9 73.5L147.2 74.1L146.6 74.2L145.4 74.5L143.7 74.9L142 75.3L140.2 75.6L138.5 75.9L138.5 75.9L136.8 76.6L135 77.3L133.9 77.7L133.3 77.9L131.6 78.6L129.8 79.3L129.4 79.4L128.1 79.9L126.4 80.7L125.5 81.1L124.6 81.7L123.1 82.8L122.9 83L121.8 84.6L121.2 85.9L121 86.3L120.5 88L119.9 89.8L119.5 91.5L119.5 91.5L118.7 93.2L118.1 94.9L117.8 96.7L117.8 98.4L118.1 100.1L118.6 101.8L119.1 103.6L119.5 104.4L119.9 105.3L121.2 106.8L121.4 107L122.9 108.1L124 108.7L124.6 109.1L126.4 109.8L128.1 110.5L128.1 110.5L129.8 110.9L131.6 111.3L133.3 111.7L135 111.9L136.8 112.1L138.5 112.1L140.2 111.8L142 111.6L143.7 111.5L145.4 111.5L147.2 111.6L148.9 111.6L150.6 111.7L152.3 111.8L154.1 111.9L155.8 111.9L157.5 112L159.3 112L161 112L162.7 112L164.5 112L166.2 111.9L167.9 111.9L169.7 111.9L171.4 111.9L173.1 112L174.5 112.2ZM13.8 101.9L14.2 101.8L15.6 101.8L17.3 101.4L19 100.9L20.8 100.1L20.8 100.1L22.5 99L23.4 98.4L24.2 97.5L25.1 96.7L26 95.1L26.1 94.9L26.6 93.2L26.8 91.5L26.7 89.8L26 88.4L25.8 88L24.2 87L22.9 86.3L22.5 86.2L20.8 85.8L19 85.5L17.3 85.3L15.6 85.3L13.9 85.2L12.1 85L10.4 84.8L8.7 84.7L6.9 84.7L5.2 85.1L3.5 85.8L2.5 86.3L1.7 86.9L0.7 88L0.1 89.8L0.2 91.5L0.6 93.2L1.5 94.9L1.7 95.3L2.7 96.7L3.5 97.4L4.5 98.4L5.2 98.9L6.9 100.1L6.9 100.1L8.7 100.9L10.4 101.4L12.1 101.7L13.5 101.8Z"/>
<path fill="#fff4d1" stroke="#fff4d1" stroke-width="0.3" fill-rule="evenodd" d="M161 119.1L162.7 119.2L164.5 119.2L166.2 119.1L167.8 119.1L167.9 119.1L169.7 119.1L171.4 119.1L171.6 119.1L173.1 119.2L174.9 119.4L176.6 119.6L178.3 119.7L180 119.7L181.8 119.6L183.5 119.5L185.2 119.3L186.1 119.1L187 118.9L188.7 118.5L190.4 118L192.1 117.4L192.2 117.4L193.9 116.7L195.6 115.9L196.1 115.6L197.4 115.1L199.1 114.3L200 113.9L200.8 113.6L202.6 113.1L204.3 112.9L206 113L207.8 113.3L209.5 113.7L210.3 113.9L211.2 114.1L212.9 114.5L214.7 114.8L216.4 114.9L218.1 115L219.9 114.9L221.6 114.7L223.3 114.3L224.6 113.9L225.1 113.8L226.8 113.2L228.5 112.4L228.9 112.2L230.3 111.5L232 110.5L232 110.5L233.7 109.4L234.6 108.7L235.4 108.2L237.2 107L237.2 107L238.9 106L240.6 105.3L240.6 105.3L242.4 104.7L244.1 104.3L245.8 103.9L247.3 103.6L247.6 103.5L249.3 103.2L251 103L252.8 102.7L254.5 102.6L256.2 102.4L258 102.3L259.7 102.2L261.4 102L263.1 101.9L263.8 101.8L264.9 101.8L266.6 101.6L268.3 101.4L270.1 101.2L271.8 101L273.5 100.8L275.3 100.6L277 100.5L278.7 100.6L280.5 100.7L282.2 100.9L283.9 101.1L283.9 100.1L283.9 98.4L283.9 96.7L283.9 94.9L283.9 93.2L283.9 91.5L283.9 91.5L283.8 91.5L282.2 91.8L280.5 92.1L278.7 92.4L277 92.5L275.3 92.6L273.5 92.6L271.8 92.6L270.1 92.6L268.3 92.6L266.6 92.7L264.9 92.7L263.1 92.7L261.4 92.7L259.7 92.8L258 92.8L256.2 93L254.5 93.1L253.6 93.2L252.8 93.3L251 93.6L249.3 93.9L247.6 94.3L245.8 94.9L245.8 94.9L244.1 95.6L242.4 96.4L242 96.7L240.6 97.3L238.9 98.4L238.9 98.4L237.2 99.3L235.9 100.1L235.4 100.4L233.7 101.5L233.2 101.8L232 102.7L230.7 103.6L230.3 103.8L228.5 104.9L227.9 105.3L226.8 105.9L225.1 106.7L224.3 107L223.3 107.4L221.6 107.9L219.9 108.2L218.1 108.4L216.4 108.4L214.7 108.2L212.9 107.9L211.2 107.5L209.9 107L209.5 106.9L207.8 106.1L206 105.3L206 105.3L204.3 104.5L202.6 104L200.8 104.2L199.1 105.1L198.8 105.3L197.4 106.3L196.4 107L195.6 107.6L194 108.7L193.9 108.8L192.2 109.8L191 110.5L190.4 110.7L188.7 111.5L187 112L186.1 112.2L185.2 112.4L183.5 112.6L181.8 112.8L180 112.8L178.3 112.7L176.6 112.5L174.9 112.2L174.5 112.2L173.1 112L171.4 111.9L169.7 111.9L167.9 111.9L166.2 111.9L164.5 112L162.7 112L161 112L159.3 112L157.5 112L155.8 111.9L154.1 111.9L152.3 111.8L150.6 111.7L148.9 111.6L147.2 111.6L145.4 111.5L143.7 111.5L142 111.6L140.2 111.8L138.5 112.1L136.8 112.1L135 111.9L133.3 111.7L131.6 111.3L129.8 110.9L128.1 110.5L128.1 110.5L126.4 109.8L124.6 109.1L124 108.7L122.9 108.1L121.4 107L121.2 106.8L119.9 105.3L119.5 104.4L119.1 103.6L118.6 101.8L118.1 100.1L117.8 98.4L117.8 96.7L118.1 94.9L118.7 93.2L119.5 91.5L119.5 91.5L119.9 89.8L120.5 88L121 86.3L121.2 85.9L121.8 84.6L122.9 83L123.1 82.8L124.6 81.7L125.5 81.1L126.4 80.7L128.1 79.9L129.4 79.4L129.8 79.3L131.6 78.6L133.3 77.9L133.9 77.7L135 77.3L136.8 76.6L138.5 75.9L138.5 75.9L140.2 75.6L142 75.3L143.7 74.9L145.4 74.5L146.6 74.2L147.2 74.1L148.9 73.5L150.6 72.8L151.3 72.5L152.3 72.1L154.1 71.3L155.6 70.8L155.8 70.7L157.5 70.5L159.3 70.5L161 70.4L162.7 70.2L164.5 70L166.2 69.8L167.9 69.5L169.7 69.2L170.5 69L171.4 68.9L173.1 68.7L174.9 68.7L176.6 68.8L178.3 68.8L180 68.8L181.8 68.7L183.5 68.4L185.2 68.1L187 67.6L188.2 67.3L188.7 67.2L190.4 66.7L192.2 66.4L193.9 66.1L195.6 65.8L196.7 65.6L197.4 65.5L199.1 65.1L200.8 64.6L202.6 63.9L202.8 63.9L204.3 63.2L206 62.3L206.4 62.1L207.8 61.5L209.5 60.8L210.5 60.4L211.2 60.2L212.9 59.6L214.7 59L215.6 58.7L216.4 58.4L218.1 57.6L219.4 57L219.9 56.7L221.6 55.7L222.3 55.2L223.3 54.5L224.8 53.5L225.1 53.3L226.8 51.9L227 51.8L228.5 50.6L229.4 50.1L230.3 49.6L232 49L233.7 48.7L235.4 48.8L237.2 48.9L238.9 49.2L240.6 49.4L242.4 49.6L244.1 49.8L245.8 49.9L247.6 49.9L249.3 49.9L251 49.9L252.8 49.8L254.5 49.6L256.2 49.5L258 49.4L259.7 49.2L261.4 49.1L263.1 49.1L264.9 49L266.6 49L268.3 49.1L270.1 49.1L271.8 49.2L273.5 49.2L275.3 49.2L277 49.3L278.7 49.7L279.9 50.1L280.5 50.4L282.2 51.3L283.1 51.8L283.9 52.3L283.9 51.8L283.9 50.1L283.9 48.3L283.9 48.1L282.2 47.7L280.5 47.4L278.7 47.4L277 47.4L275.3 47L274.2 46.6L273.5 46.3L271.8 45.6L270.1 45.2L268.8 44.9L268.3 44.8L266.6 44.4L264.9 44.2L263.1 44L261.4 43.9L259.7 43.8L258 43.8L256.2 43.8L254.5 43.9L252.8 43.9L251 43.9L249.3 43.9L247.6 43.8L245.8 43.6L244.1 43.4L243.1 43.1L242.4 43L240.6 42.6L238.9 42.1L237.2 41.6L236.5 41.4L235.4 41.1L233.7 40.7L232 40.5L230.3 40.5L228.5 40.9L227.6 41.4L226.8 41.9L225.6 43.1L225.1 43.9L224.4 44.9L223.3 46.4L223.2 46.6L221.8 48.3L221.6 48.6L220.2 50.1L219.9 50.3L218.2 51.8L218.1 51.8L216.4 53L215.6 53.5L214.7 54.1L212.9 55L212.4 55.2L211.2 55.7L209.5 56.4L207.8 57L207.8 57L206 57.8L204.3 58.7L204.3 58.7L202.6 59.5L200.8 60.3L200.5 60.4L199.1 61L197.4 61.5L195.6 61.9L194.6 62.1L193.9 62.3L192.2 62.6L190.4 62.9L188.7 63.3L187 63.7L186.5 63.9L185.2 64.2L183.5 64.5L181.8 64.8L180 65L178.3 65.1L176.6 65.2L174.9 65.2L173.1 65.3L171.4 65.5L170.7 65.6L169.7 65.8L167.9 66.1L166.2 66.4L164.5 66.7L162.7 66.9L161 67.1L159.3 67.3L159.1 67.3L157.5 67.4L155.8 67.6L154.1 68L152.3 68.5L150.6 69L150.4 69L148.9 69.6L147.2 70.1L145.4 70.6L144.7 70.8L143.7 71L142 71.4L140.2 71.8L138.5 72.1L136.8 72.5L136.8 72.5L135 72.9L133.3 73.3L131.6 73.7L129.8 73.9L128.1 74.1L126.4 74.2L124.6 74.1L122.9 74L121.2 73.9L119.7 74.2L119.5 74.3L117.7 75.1L116 75.9L116 76L114.3 77L112.9 77.7L112.5 78L110.8 78.7L109.1 78.7L107.3 78.2L105.9 77.7L105.6 77.6L103.9 77.4L103 77.7L102.1 78.1L100.4 79.2L100.1 79.4L98.7 80.7L98.1 81.1L97 82.2L96 82.8L95.2 83.5L93.5 84.5L93.4 84.6L91.8 85.4L90 85.9L88.3 86.2L86.6 86.3L84.8 86.2L83.1 85.9L81.4 85.5L79.6 84.8L79.1 84.6L77.9 84.1L76.2 83.2L75.5 82.8L74.4 82.3L72.7 81.4L72.3 81.1L71 80.5L69.2 79.8L67.5 79.4L67.3 79.4L65.8 79.2L64.1 79.1L62.3 79L60.6 79L58.9 78.9L57.1 78.9L55.4 78.8L53.7 78.6L51.9 78.4L50.2 78.1L48.6 77.7L48.5 77.6L46.7 77.2L45 76.7L43.3 76.1L42.9 75.9L41.5 75.5L39.8 74.9L38.1 74.4L37.6 74.2L36.4 73.9L34.6 73.6L32.9 73.5L31.2 73.5L29.4 73.6L27.7 73.7L26 73.8L24.2 73.9L22.5 73.9L20.8 73.9L19 73.8L17.3 73.6L15.6 73.4L13.9 73L12.1 72.6L11.9 72.5L10.4 72.1L8.7 71.5L6.9 70.9L6.7 70.8L5.2 70.3L3.5 69.6L1.7 69.1L1.6 69L0 68.7L-1.7 68.7L-3.5 68.9L-4.8 69L-5.2 69.1L-6.9 69.4L-6.9 70.8L-6.9 72.5L-6.9 74.2L-6.9 75.9L-6.9 77.7L-6.9 79.4L-6.9 81.1L-6.9 82.8L-6.9 84.6L-6.9 86.3L-6.9 88L-6.9 89.8L-6.9 91.5L-6.9 93.2L-6.9 94.9L-6.9 96.7L-6.9 98.4L-6.9 100.1L-6.9 101.8L-6.9 103.6L-6.9 105.3L-6.9 107L-6.9 107.2L-5.2 107.7L-3.5 108.3L-2.2 108.7L-1.7 108.9L0 109.4L1.7 110L3 110.5L3.5 110.6L5.2 111.2L6.9 111.6L8.7 112L9.6 112.2L10.4 112.3L12.1 112.6L13.8 112.7L15.6 112.9L17.3 112.9L19 112.9L20.8 112.9L22.5 112.8L24.2 112.7L26 112.6L27.7 112.5L29.4 112.4L31.2 112.2L31.7 112.2L32.9 112.1L34.6 111.8L36.4 111.5L38.1 111L39.8 110.6L40.4 110.5L41.5 110.1L43.3 109.7L45 109.3L46.7 109L48.5 108.7L48.5 108.7L50.2 108.6L51.9 108.5L53.7 108.6L55.3 108.7L55.4 108.7L57.1 109L58.9 109.2L60.6 109.5L62.3 109.8L64.1 110.1L65.8 110.4L66.4 110.5L67.5 110.6L69.2 110.8L71 110.9L72.7 110.9L74.4 110.9L76.2 110.9L77.9 110.8L79.6 110.7L81.4 110.6L83.1 110.5L83.8 110.5L84.8 110.4L86.6 110.3L88.3 110.1L90 110.1L91.8 110L93.5 110L95.2 110L97 110L98.7 110.1L100.4 110.2L102.1 110.4L103.9 110.5L105.6 110.4L107.3 110.3L109.1 110.3L109.6 110.5L110.8 110.7L112.5 111.5L113.5 112.2L114.3 112.6L116 113.7L116.3 113.9L117.7 114.7L119.5 115.6L119.6 115.6L121.2 116.2L122.9 116.7L124.6 117.1L126.4 117.3L127.7 117.4L128.1 117.4L128.7 117.4L129.8 117.3L131.6 117.2L133.3 116.9L135 116.5L136.8 116.1L138.5 115.7L140.2 115.8L142 116.2L143.7 116.6L145.4 116.9L147.2 117.3L147.4 117.4L148.9 117.7L150.6 118L152.3 118.3L154.1 118.6L155.8 118.8L157.5 118.9L159.3 119.1L160.3 119.1ZM13.5 101.8L12.1 101.7L10.4 101.4L8.7 100.9L6.9 100.1L6.9 100.1L5.2 98.9L4.5 98.4L3.5 97.4L2.7 96.7L1.7 95.3L1.5 94.9L0.6 93.2L0.2 91.5L0.1 89.8L0.7 88L1.7 86.9L2.5 86.3L3.5 85.8L5.2 85.1L6.9 84.7L8.7 84.7L10.4 84.8L12.1 85L13.9 85.2L15.6 85.3L17.3 85.3L19 85.5L20.8 85.8L22.5 86.2L22.9 86.3L24.2 87L25.8 88L26 88.4L26.7 89.8L26.8 91.5L26.6 93.2L26.1 94.9L26 95.1L25.1 96.7L24.2 97.5L23.4 98.4L22.5 99L20.8 100.1L20.8 100.1L19 100.9L17.3 101.4L15.6 101.8L14.2 101.8L13.8 101.9ZM-5.2 15.1L-3.5 14.9L-1.7 14.6L0 14.1L0.8 13.8L1.7 13.3L3.4 12.1L3.5 11.9L4.2 10.4L4.7 8.6L5.1 6.9L5.2 5.9L5.3 5.2L5.3 3.5L5.3 1.7L5.2 0.1L5.2 0L4.8 -1.7L4.3 -3.5L4 -5.2L3.7 -6.9L3.5 -6.9L1.7 -6.9L0 -6.9L-1.7 -6.9L-3.5 -6.9L-5.2 -6.9L-6.9 -6.9L-6.9 -5.2L-6.9 -3.5L-6.9 -1.7L-6.9 0L-6.9 1.7L-6.9 3.5L-6.9 5.2L-6.9 6.9L-6.9 8.6L-6.9 10.4L-6.9 12.1L-6.9 13.8L-6.9 15.3Z"/>
<path fill="#ffe9a7" stroke="#ffe9a7" stroke-width="0.3" fill-rule="evenodd" d="M167.9 131.3L169.7 131.6L171.4 131.8L173.1 131.7L174.9 131.4L176.1 131.2L176.6 131.1L178.3 130.7L180 130.3L181.8 130L183.5 129.6L184.1 129.4L185.2 129.2L187 128.9L188.7 128.5L190.4 128.1L191.9 127.7L192.2 127.7L193.9 127.3L195.6 126.9L197.4 126.5L199.1 126.1L199.7 126L200.8 125.8L202.6 125.5L204.3 125.4L206 125.3L207.8 125.3L209.5 125.3L211.2 125.3L212.9 125.4L214.7 125.5L216.4 125.5L218.1 125.5L219.9 125.4L221.6 125.2L223.3 124.9L225.1 124.5L225.9 124.3L226.8 124L228.5 123.5L230.3 122.8L230.8 122.5L232 122L233.7 121.2L234.4 120.8L235.4 120.3L237.2 119.3L237.6 119.1L238.9 118.4L240.6 117.6L241.1 117.4L242.4 116.8L244.1 116.2L245.8 115.7L246.3 115.6L247.6 115.4L249.3 115.2L251 115L252.8 114.9L254.5 114.8L256.2 114.8L258 114.8L259.7 114.8L261.4 114.8L263.1 114.9L264.9 114.9L266.6 115L268.3 115.1L270.1 115.3L271.8 115.5L273 115.6L273.5 115.7L275.3 116L277 116.3L278.7 116.6L280.5 116.9L282.2 117.3L282.8 117.4L283.9 117.6L283.9 117.4L283.9 115.6L283.9 113.9L283.9 112.2L283.9 110.5L283.9 108.7L283.9 107L283.9 105.3L283.9 103.6L283.9 101.8L283.9 101.1L282.2 100.9L280.5 100.7L278.7 100.6L277 100.5L275.3 100.6L273.5 100.8L271.8 101L270.1 101.2L268.3 101.4L266.6 101.6L264.9 101.8L263.8 101.8L263.1 101.9L261.4 102L259.7 102.2L258 102.3L256.2 102.4L254.5 102.6L252.8 102.7L251 103L249.3 103.2L247.6 103.5L247.3 103.6L245.8 103.9L244.1 104.3L242.4 104.7L240.6 105.3L240.6 105.3L238.9 106L237.2 107L237.2 107L235.4 108.2L234.6 108.7L233.7 109.4L232 110.5L232 110.5L230.3 111.5L228.9 112.2L228.5 112.4L226.8 113.2L225.1 113.8L224.6 113.9L223.3 114.3L221.6 114.7L219.9 114.9L218.1 115L216.4 114.9L214.7 114.8L212.9 114.5L211.2 114.1L210.3 113.9L209.5 113.7L207.8 113.3L206 113L204.3 112.9L202.6 113.1L200.8 113.6L200 113.9L199.1 114.3L197.4 115.1L196.1 115.6L195.6 115.9L193.9 116.7L192.2 117.4L192.1 117.4L190.4 118L188.7 118.5L187 118.9L186.1 119.1L185.2 119.3L183.5 119.5L181.8 119.6L180 119.7L178.3 119.7L176.6 119.6L174.9 119.4L173.1 119.2L171.6 119.1L171.4 119.1L169.7 119.1L167.9 119.1L167.8 119.1L166.2 119.1L164.5 119.2L162.7 119.2L161 119.1L160.3 119.1L159.3 119.1L157.5 118.9L155.8 118.8L154.1 118.6L152.3 118.3L150.6 118L148.9 117.7L147.4 117.4L147.2 117.3L145.4 116.9L143.7 116.6L142 116.2L140.2 115.8L138.5 115.7L136.8 116.1L135 116.5L133.3 116.9L131.6 117.2L129.8 117.3L128.7 117.4L128.1 117.4L127.7 117.4L126.4 117.3L124.6 117.1L122.9 116.7L121.2 116.2L119.6 115.6L119.5 115.6L117.7 114.7L116.3 113.9L116 113.7L114.3 112.6L113.5 112.2L112.5 111.5L110.8 110.7L109.6 110.5L109.1 110.3L107.3 110.3L105.6 110.4L103.9 110.5L102.1 110.4L100.4 110.2L98.7 110.1L97 110L95.2 110L93.5 110L91.8 110L90 110.1L88.3 110.1L86.6 110.3L84.8 110.4L83.8 110.5L83.1 110.5L81.4 110.6L79.6 110.7L77.9 110.8L76.2 110.9L74.4 110.9L72.7 110.9L71 110.9L69.2 110.8L67.5 110.6L66.4 110.5L65.8 110.4L64.1 110.1L62.3 109.8L60.6 109.5L58.9 109.2L57.1 109L55.4 108.7L55.3 108.7L53.7 108.6L51.9 108.5L50.2 108.6L48.5 108.7L48.5 108.7L46.7 109L45 109.3L43.3 109.7L41.5 110.1L40.4 110.5L39.8 110.6L38.1 111L36.4 111.5L34.6 111.8L32.9 112.1L31.7 112.2L31.2 112.2L29.4 112.4L27.7 112.5L26 112.6L24.2 112.7L22.5 112.8L20.8 112.9L19 112.9L17.3 112.9L15.6 112.9L13.8 112.7L12.1 112.6L10.4 112.3L9.6 112.2L8.7 112L6.9 111.6L5.2 111.2L3.5 110.6L3 110.5L1.7 110L0 109.4L-1.7 108.9L-2.2 108.7L-3.5 108.3L-5.2 107.7L-6.9 107.2L-6.9 108.7L-6.9 110.5L-6.9 112.2L-6.9 113.9L-6.9 115.6L-6.9 117.4L-6.9 119.1L-6.9 119.6L-5.2 119.9L-3.5 120.2L-1.7 120.5L0 120.8L0 120.8L1.7 121.1L3.5 121.3L5.2 121.6L6.9 121.8L8.7 122L10.4 122.2L12.1 122.4L13.8 122.5L13.8 122.6L15.6 122.7L17.3 122.7L19 122.7L20.8 122.7L22.5 122.7L24.2 122.6L24.8 122.5L26 122.5L27.7 122.4L29.4 122.2L31.2 122.1L32.9 122L34.6 121.9L36.4 121.8L38.1 121.7L39.8 121.7L41.5 121.7L43.3 121.7L45 121.7L46.7 121.7L48.5 121.8L50.2 121.8L51.9 121.9L53.7 122L55.4 122.1L57.1 122.2L58.9 122.3L60.6 122.3L62.3 122.4L64.1 122.4L65.8 122.4L67.5 122.5L69.2 122.5L69.2 122.5L71 122.8L72.7 123L74.4 123.2L76.2 123.4L77.9 123.6L79.6 123.7L81.4 123.8L83.1 123.8L84.8 123.8L86.6 123.8L88.3 123.7L90 123.6L91.8 123.4L93.5 123.3L95.2 123.1L97 122.9L98.7 122.8L100.4 122.6L102 122.5L102.1 122.5L103.5 122.5L103.9 122.5L105.6 122.7L107.3 123L109.1 123.4L110.8 123.8L112.5 124.3L112.5 124.3L114.3 124.7L116 125.2L117.7 125.6L119.5 126L119.6 126L121.2 126.3L122.9 126.6L124.7 126.8L126.4 126.9L128.1 127L129.8 127.1L131.6 127.1L133.3 127.2L135 127.3L136.8 127.5L138.5 127.7L140.2 127.5L142 127.3L143.7 127.3L145.4 127.4L147.2 127.6L148.4 127.7L148.9 127.8L150.6 128.1L152.3 128.3L154.1 128.6L155.8 128.9L157.5 129.2L158.8 129.4L159.3 129.5L161 129.9L162.7 130.2L164.5 130.6L166.2 130.9L167.3 131.2ZM79.6 84.8L81.4 85.5L83.1 85.9L84.8 86.2L86.6 86.3L88.3 86.2L90 85.9L91.8 85.4L93.4 84.6L93.5 84.5L95.2 83.5L96 82.8L97 82.2L98.1 81.1L98.7 80.7L100.1 79.4L100.4 79.2L102.1 78.1L103 77.7L103.9 77.4L105.6 77.6L105.9 77.7L107.3 78.2L109.1 78.7L110.8 78.7L112.5 78L112.9 77.7L114.3 77L116 76L116 75.9L117.7 75.1L119.5 74.3L119.7 74.2L121.2 73.9L122.9 74L124.6 74.1L126.4 74.2L128.1 74.1L129.8 73.9L131.6 73.7L133.3 73.3L135 72.9L136.8 72.5L136.8 72.5L138.5 72.1L140.2 71.8L142 71.4L143.7 71L144.7 70.8L145.4 70.6L147.2 70.1L148.9 69.6L150.4 69L150.6 69L152.3 68.5L154.1 68L155.8 67.6L157.5 67.4L159.1 67.3L159.3 67.3L161 67.1L162.7 66.9L164.5 66.7L166.2 66.4L167.9 66.1L169.7 65.8L170.7 65.6L171.4 65.5L173.1 65.3L174.9 65.2L176.6 65.2L178.3 65.1L180 65L181.8 64.8L183.5 64.5L185.2 64.2L186.5 63.9L187 63.7L188.7 63.3L190.4 62.9L192.2 62.6L193.9 62.3L194.6 62.1L195.6 61.9L197.4 61.5L199.1 61L200.5 60.4L200.8 60.3L202.6 59.5L204.3 58.7L204.3 58.7L206 57.8L207.8 57L207.8 57L209.5 56.4L211.2 55.7L212.4 55.2L212.9 55L214.7 54.1L215.6 53.5L216.4 53L218.1 51.8L218.2 51.8L219.9 50.3L220.2 50.1L221.6 48.6L221.8 48.3L223.2 46.6L223.3 46.4L224.4 44.9L225.1 43.9L225.6 43.1L226.8 41.9L227.6 41.4L228.5 40.9L230.3 40.5L232 40.5L233.7 40.7L235.4 41.1L236.5 41.4L237.2 41.6L238.9 42.1L240.6 42.6L242.4 43L243.1 43.1L244.1 43.4L245.8 43.6L247.6 43.8L249.3 43.9L251 43.9L252.8 43.9L254.5 43.9L256.2 43.8L258 43.8L259.7 43.8L261.4 43.9L263.1 44L264.9 44.2L266.6 44.4L268.3 44.8L268.8 44.9L270.1 45.2L271.8 45.6L273.5 46.3L274.2 46.6L275.3 47L277 47.4L278.7 47.4L280.5 47.4L282.2 47.7L283.9 48.1L283.9 46.6L283.9 44.9L283.9 44.2L282.2 43.9L280.5 43.7L278.7 43.3L278.4 43.2L277 42.6L275.3 42.2L273.5 41.7L272.5 41.4L271.8 41.3L270.1 40.8L268.3 40.4L266.6 40L264.9 39.7L264.9 39.7L263.1 39.4L261.4 39.2L259.7 39.1L258 39.1L256.2 39.1L254.5 39.1L252.8 39.1L251 39.1L249.3 39L247.6 38.9L245.8 38.6L244.1 38.3L242.8 38L242.4 37.9L240.6 37.3L238.9 36.7L237.8 36.2L237.2 36L235.4 35.4L233.7 35L232 34.6L230.5 34.5L230.3 34.5L230 34.5L228.5 34.6L226.8 35.2L225.3 36.2L225.1 36.5L223.8 38L223.3 38.6L222.7 39.7L221.6 41.4L221.6 41.4L220.4 43.1L219.9 43.8L219 44.9L218.1 45.8L217.3 46.6L216.4 47.4L215.3 48.3L214.7 48.8L213.1 50.1L212.9 50.2L211.2 51.4L210.6 51.8L209.5 52.5L207.8 53.5L207.7 53.5L206 54.2L204.3 55L203.7 55.2L202.6 55.8L200.8 56.5L199.9 57L199.1 57.3L197.4 57.9L195.6 58.5L195 58.7L193.9 59L192.2 59.4L190.4 59.8L188.7 60.1L187.3 60.4L187 60.5L185.2 60.8L183.5 61.1L181.8 61.4L180 61.7L178.3 61.9L176.7 62.1L176.6 62.1L174.9 62.3L173.1 62.5L171.4 62.7L169.7 62.9L167.9 63.1L166.2 63.4L164.5 63.7L163.7 63.9L162.7 64L161 64.4L159.3 64.7L157.5 64.9L155.8 65.2L154.1 65.4L153.1 65.6L152.3 65.7L150.6 66.1L148.9 66.4L147.2 66.8L145.4 67.3L145.2 67.3L143.7 67.7L142 68.1L140.2 68.5L138.5 68.9L137.8 69L136.8 69.2L135 69.6L133.3 69.9L131.6 70.2L129.8 70.4L128.1 70.7L127.4 70.8L126.4 70.9L124.7 71.1L122.9 71.4L121.2 71.6L119.5 71.8L117.7 72L116 72.3L115.1 72.5L114.3 72.7L112.5 73.2L110.8 73.6L109.1 73.9L107.8 74.2L107.3 74.3L105.6 74.7L103.9 75.1L102.1 75.3L100.4 75.6L99.5 75.9L98.7 76.3L97 77L95.6 77.7L95.2 77.9L93.5 78.7L91.8 79.3L91.5 79.4L90 79.9L88.3 80.2L86.6 80.4L84.8 80.4L83.1 80.2L81.4 79.8L79.9 79.4L79.6 79.3L77.9 78.8L76.2 78.1L75.2 77.7L74.4 77.4L72.7 76.7L71 76.1L70.4 75.9L69.2 75.6L67.5 75L65.8 74.5L64.3 74.2L64.1 74.2L62.3 73.9L60.6 73.6L58.9 73.4L57.1 73.1L55.4 72.8L53.7 72.5L53.7 72.5L51.9 72.2L50.2 71.8L48.5 71.5L46.7 71.1L45.3 70.8L45 70.7L43.3 70.3L41.5 69.9L39.8 69.5L38.1 69.2L37.2 69L36.4 68.9L34.6 68.7L32.9 68.5L31.2 68.4L29.4 68.3L27.7 68.3L26 68.2L24.2 68.2L22.5 68L20.8 67.9L19 67.6L17.3 67.4L17.1 67.3L15.6 67L13.8 66.7L12.1 66.2L10.4 65.8L9.7 65.6L8.7 65.3L6.9 64.9L5.2 64.4L3.5 64L2.5 63.9L1.7 63.7L0 63.5L-1.7 63.2L-3.5 63L-5.2 62.9L-6.9 62.8L-6.9 63.9L-6.9 65.6L-6.9 67.3L-6.9 69L-6.9 69.4L-5.2 69.1L-4.8 69L-3.5 68.9L-1.7 68.7L0 68.7L1.6 69L1.7 69.1L3.5 69.6L5.2 70.3L6.7 70.8L6.9 70.9L8.7 71.5L10.4 72.1L11.9 72.5L12.1 72.6L13.9 73L15.6 73.4L17.3 73.6L19 73.8L20.8 73.9L22.5 73.9L24.2 73.9L26 73.8L27.7 73.7L29.4 73.6L31.2 73.5L32.9 73.5L34.6 73.6L36.4 73.9L37.6 74.2L38.1 74.4L39.8 74.9L41.5 75.5L42.9 75.9L43.3 76.1L45 76.7L46.7 77.2L48.5 77.6L48.6 77.7L50.2 78.1L51.9 78.4L53.7 78.6L55.4 78.8L57.1 78.9L58.9 78.9L60.6 79L62.3 79L64.1 79.1L65.8 79.2L67.3 79.4L67.5 79.4L69.2 79.8L71 80.5L72.3 81.1L72.7 81.4L74.4 82.3L75.5 82.8L76.2 83.2L77.9 84.1L79.1 84.6ZM-5.2 21.8L-3.5 21.4L-1.7 21L-1 20.7L0 20.4L1.7 19.6L3 19L3.5 18.7L5.2 17.7L5.9 17.3L6.9 16.4L7.8 15.5L8.7 14.3L9 13.8L10 12.1L10.4 11.4L11 10.4L11.7 8.6L12.1 7.3L12.2 6.9L12.7 5.2L13 3.5L13.1 1.7L13.2 0L13.3 -1.7L13.3 -3.5L13.3 -5.2L13.3 -6.9L12.1 -6.9L10.4 -6.9L8.7 -6.9L6.9 -6.9L5.2 -6.9L3.7 -6.9L4 -5.2L4.3 -3.5L4.8 -1.7L5.2 0L5.2 0.1L5.3 1.7L5.3 3.5L5.3 5.2L5.2 5.9L5.1 6.9L4.7 8.6L4.2 10.4L3.5 11.9L3.4 12.1L1.7 13.3L0.8 13.8L0 14.1L-1.7 14.6L-3.5 14.9L-5.2 15.1L-6.9 15.3L-6.9 15.5L-6.9 17.3L-6.9 19L-6.9 20.7L-6.9 22.2Z"/>
<path fill="#fed679" stroke="#fed679" stroke-width="0.3" fill-rule="evenodd" d="M278.7 155.7L280.5 155.9L282.2 156L283.9 156.1L283.9 155.3L283.9 153.6L283.9 151.9L283.9 150.2L283.9 148.4L283.9 146.7L283.9 145L283.9 143.3L283.9 141.5L283.9 139.8L283.9 138.1L283.9 136.4L283.9 134.6L283.9 132.9L283.9 131.2L283.9 129.4L283.9 127.7L283.9 126L283.9 124.3L283.9 122.5L283.9 120.8L283.9 119.1L283.9 117.6L282.8 117.4L282.2 117.3L280.5 116.9L278.7 116.6L277 116.3L275.3 116L273.5 115.7L273 115.6L271.8 115.5L270.1 115.3L268.3 115.1L266.6 115L264.9 114.9L263.1 114.9L261.4 114.8L259.7 114.8L258 114.8L256.2 114.8L254.5 114.8L252.8 114.9L251 115L249.3 115.2L247.6 115.4L246.3 115.6L245.8 115.7L244.1 116.2L242.4 116.8L241.1 117.4L240.6 117.6L238.9 118.4L237.6 119.1L237.2 119.3L235.4 120.3L234.4 120.8L233.7 121.2L232 122L230.8 122.5L230.3 122.8L228.5 123.5L226.8 124L225.9 124.3L225.1 124.5L223.3 124.9L221.6 125.2L219.9 125.4L218.1 125.5L216.4 125.5L214.7 125.5L212.9 125.4L211.2 125.3L209.5 125.3L207.8 125.3L206 125.3L204.3 125.4L202.6 125.5L200.8 125.8L199.7 126L199.1 126.1L197.4 126.5L195.6 126.9L193.9 127.3L192.2 127.7L191.9 127.7L190.4 128.1L188.7 128.5L187 128.9L185.2 129.2L184.1 129.4L183.5 129.6L181.8 130L180 130.3L178.3 130.7L176.6 131.1L176.1 131.2L174.9 131.4L173.1 131.7L171.4 131.8L169.7 131.6L167.9 131.3L167.3 131.2L166.2 130.9L164.5 130.6L162.7 130.2L161 129.9L159.3 129.5L158.8 129.4L157.5 129.2L155.8 128.9L154.1 128.6L152.3 128.3L150.6 128.1L148.9 127.8L148.4 127.7L147.2 127.6L145.4 127.4L143.7 127.3L142 127.3L140.2 127.5L138.5 127.7L136.8 127.5L135 127.3L133.3 127.2L131.6 127.1L129.8 127.1L128.1 127L126.4 126.9L124.6 126.8L122.9 126.6L121.2 126.3L119.6 126L119.5 126L117.7 125.6L116 125.2L114.3 124.7L112.5 124.3L112.5 124.3L110.8 123.8L109.1 123.4L107.3 123L105.6 122.7L103.9 122.5L103.5 122.5L102.1 122.5L102 122.5L100.4 122.6L98.7 122.8L97 122.9L95.2 123.1L93.5 123.3L91.8 123.4L90 123.6L88.3 123.7L86.6 123.8L84.8 123.8L83.1 123.8L81.4 123.8L79.6 123.7L77.9 123.6L76.2 123.4L74.4 123.2L72.7 123L71 122.8L69.2 122.5L69.2 122.5L67.5 122.5L65.8 122.4L64.1 122.4L62.3 122.4L60.6 122.3L58.9 122.3L57.1 122.2L55.4 122.1L53.7 122L51.9 121.9L50.2 121.8L48.5 121.8L46.7 121.7L45 121.7L43.3 121.7L41.5 121.7L39.8 121.7L38.1 121.7L36.4 121.8L34.6 121.9L32.9 122L31.2 122.1L29.4 122.2L27.7 122.4L26 122.5L24.8 122.5L24.2 122.6L22.5 122.7L20.8 122.7L19 122.7L17.3 122.7L15.6 122.7L13.8 122.6L13.8 122.5L12.1 122.4L10.4 122.2L8.7 122L6.9 121.8L5.2 121.6L3.5 121.3L1.7 121.1L0 120.8L0 120.8L-1.7 120.5L-3.5 120.2L-5.2 119.9L-6.9 119.6L-6.9 120.8L-6.9 122.5L-6.9 124.3L-6.9 126L-6.9 127.7L-6.9 129.4L-6.9 131.2L-6.9 132L-5.2 131.9L-3.5 131.8L-1.7 131.8L0 131.9L1.7 132.2L3.5 132.6L5 132.9L5.2 133L6.9 133.4L8.7 133.8L10.4 134.2L12.1 134.5L13 134.6L13.8 134.8L15.6 135L17.3 135.1L19 135.1L20.8 135L22.5 134.8L23.8 134.6L24.2 134.6L26 134.3L27.7 134L29.4 133.6L31.2 133.3L32.9 133L34.6 132.9L36.4 133L38.1 133.3L39.8 133.7L41.5 134.2L43.3 134.6L43.3 134.6L45 135.2L46.7 135.7L48.5 136.3L48.6 136.4L50.2 136.9L51.9 137.5L53.5 138.1L53.7 138.2L55.4 138.8L57.1 139.5L58 139.8L58.9 140.2L60.6 140.9L62.3 141.5L62.3 141.5L64.1 142.2L65.8 142.9L66.9 143.3L67.5 143.5L69.2 144.1L71 144.6L72.3 145L72.7 145.1L74.4 145.5L76.2 145.7L77.9 145.6L79.6 145.4L81.4 145.1L81.8 145L83.1 144.7L84.8 144.2L86.6 143.6L87.7 143.3L88.3 143.1L90 142.5L91.8 142L93.5 141.5L93.5 141.5L95.2 141.2L96.9 140.9L98.7 140.7L100.4 140.6L102.1 140.5L103.9 140.5L105.6 140.5L107.3 140.5L109.1 140.6L110.8 140.8L112.5 140.9L114.3 141.1L116 141.3L117.7 141.5L117.7 141.5L119.5 141.8L121.2 142L122.9 142.2L124.6 142.4L126.4 142.6L128.1 142.8L129.8 142.9L131.6 143L133.3 143.1L135 143.2L136.8 143.2L138.5 143.3L138.5 143.3L140.2 143.4L142 143.5L143.7 143.7L145.4 143.8L147.2 143.9L148.9 144L150.6 144L152.3 144L154.1 144L155.8 143.9L157.5 143.8L159.3 143.7L161 143.6L162.7 143.4L163.6 143.3L164.5 143.2L166.2 142.9L167.9 142.7L169.7 142.5L171.4 142.3L173.1 142.3L174.9 142.4L176.6 142.5L178.3 142.6L180 142.6L181.8 142.7L183.5 142.7L185.2 142.7L187 142.8L188.7 142.8L190.4 142.9L192.2 143L193.9 143.3L193.9 143.3L195.6 143.7L197.4 144.3L199 145L199.1 145L200.8 145.9L202.2 146.7L202.6 146.9L204.3 148L205 148.4L206 149.1L207.8 150.2L207.8 150.2L209.5 150.9L211.2 151.5L212.3 151.9L212.9 152.1L214.7 152.6L216.4 153L218.1 153.4L219.1 153.6L219.9 153.8L221.6 154.1L223.3 154.4L225.1 154.6L226.8 154.7L228.5 154.8L230.3 154.8L232 154.6L233.7 154.1L235.1 153.6L235.4 153.5L237.2 152.7L238.9 151.9L239.1 151.9L240.6 151.2L242.4 150.4L243.1 150.2L244.1 149.8L245.8 149.2L247.6 148.7L248.9 148.4L249.3 148.4L251 148.1L252.8 148L254.5 148L256.2 148.1L258 148.4L258.2 148.4L259.7 148.8L261.4 149.2L263.1 149.8L264.1 150.2L264.9 150.4L266.6 151.1L268.3 151.9L268.3 151.9L270.1 152.7L271.8 153.4L272.3 153.6L273.5 154.1L275.3 154.8L277 155.3L277 155.3ZM81.4 79.8L83.1 80.2L84.8 80.4L86.6 80.4L88.3 80.2L90 79.9L91.5 79.4L91.8 79.3L93.5 78.7L95.2 77.9L95.6 77.7L97 77L98.7 76.3L99.5 75.9L100.4 75.6L102.1 75.3L103.9 75.1L105.6 74.7L107.3 74.3L107.8 74.2L109.1 73.9L110.8 73.6L112.5 73.2L114.3 72.7L115.1 72.5L116 72.3L117.7 72L119.5 71.8L121.2 71.6L122.9 71.4L124.7 71.1L126.4 70.9L127.4 70.8L128.1 70.7L129.8 70.4L131.6 70.2L133.3 69.9L135 69.6L136.8 69.2L137.8 69L138.5 68.9L140.2 68.5L142 68.1L143.7 67.7L145.2 67.3L145.4 67.3L147.2 66.8L148.9 66.4L150.6 66.1L152.3 65.7L153.1 65.6L154.1 65.4L155.8 65.2L157.5 64.9L159.3 64.7L161 64.4L162.7 64L163.7 63.9L164.5 63.7L166.2 63.4L167.9 63.1L169.7 62.9L171.4 62.7L173.1 62.5L174.9 62.3L176.6 62.1L176.7 62.1L178.3 61.9L180 61.7L181.8 61.4L183.5 61.1L185.2 60.8L187 60.5L187.3 60.4L188.7 60.1L190.4 59.8L192.2 59.4L193.9 59L195 58.7L195.6 58.5L197.4 57.9L199.1 57.3L199.9 57L200.8 56.5L202.6 55.8L203.7 55.2L204.3 55L206 54.2L207.7 53.5L207.8 53.5L209.5 52.5L210.6 51.8L211.2 51.4L212.9 50.2L213.1 50.1L214.7 48.8L215.3 48.3L216.4 47.4L217.3 46.6L218.1 45.8L219 44.9L219.9 43.8L220.4 43.1L221.6 41.4L221.6 41.4L222.7 39.7L223.3 38.6L223.8 38L225.1 36.5L225.3 36.2L226.8 35.2L228.5 34.6L230 34.5L230.3 34.5L230.5 34.5L232 34.6L233.7 35L235.4 35.4L237.2 36L237.8 36.2L238.9 36.7L240.6 37.3L242.4 37.9L242.8 38L244.1 38.3L245.8 38.6L247.6 38.9L249.3 39L251 39.1L252.8 39.1L254.5 39.1L256.2 39.1L258 39.1L259.7 39.1L261.4 39.2L263.1 39.4L264.9 39.7L264.9 39.7L266.6 40L268.3 40.4L270.1 40.8L271.8 41.3L272.5 41.4L273.5 41.7L275.3 42.2L277 42.6L278.4 43.1L278.7 43.3L280.5 43.7L282.2 43.9L283.9 44.2L283.9 43.1L283.9 41.4L283.9 40L282.8 39.7L282.2 39.6L280.5 39.1L278.7 38.7L277 38.3L275.8 38L275.3 37.8L273.5 37.4L271.8 37.1L270.1 36.7L268.3 36.3L268 36.2L266.6 35.9L264.9 35.6L263.1 35.2L261.4 35L259.7 34.9L258 34.9L256.2 34.9L254.5 35L252.8 35L251 34.9L249.3 34.7L248.3 34.5L247.6 34.4L245.8 33.9L244.1 33.4L242.4 32.8L242.4 32.8L240.6 31.8L238.9 31.1L238.9 31.1L237.2 30.6L235.4 30.4L233.7 30.1L232 29.9L230.3 29.7L228.5 29.5L226.8 29.6L225.1 30.1L223.5 31.1L223.3 31.2L221.7 32.8L221.6 32.9L220.5 34.5L219.9 35.6L219.5 36.2L218.7 38L218.1 39L217.7 39.7L216.4 41L215.9 41.4L214.7 42.4L213.6 43.1L212.9 43.6L211.3 44.9L211.2 44.9L209.5 46.3L209.1 46.6L207.8 47.7L207 48.3L206 49L204.7 50.1L204.3 50.3L202.6 51.5L202.1 51.8L200.8 52.4L199.1 53.3L198.7 53.5L197.4 54.1L195.6 54.8L194.7 55.2L193.9 55.6L192.2 56.2L190.4 56.7L188.9 57L188.7 57L187 57.3L185.2 57.5L183.5 57.8L181.8 58.1L180 58.5L179 58.7L178.3 58.8L176.6 59.1L174.9 59.4L173.1 59.7L171.4 59.8L169.7 60L167.9 60.2L166.2 60.4L166.2 60.4L164.5 60.7L162.7 61.1L161 61.5L159.3 62L158.6 62.1L157.5 62.4L155.8 62.7L154.1 62.9L152.3 63.1L150.6 63.2L148.9 63.4L147.2 63.7L146.4 63.9L145.4 64.1L143.7 64.4L142 64.9L140.2 65.3L139.2 65.6L138.5 65.8L136.8 66.1L135 66.4L133.3 66.7L131.6 66.9L129.8 67.2L129.1 67.3L128.1 67.5L126.4 67.8L124.7 68.1L122.9 68.4L121.2 68.7L119.5 68.9L118.2 69L117.7 69.1L116 69.3L114.3 69.5L112.5 69.8L110.8 70.1L109.1 70.4L107.3 70.8L107.3 70.8L105.6 71.1L103.9 71.5L102.1 72.1L100.8 72.5L100.4 72.6L98.7 73.1L97 73.7L95.6 74.2L95.2 74.4L93.5 75L91.8 75.6L90.3 75.9L90 76L88.3 76.4L86.6 76.5L84.8 76.5L83.1 76.3L81.4 76L81.3 75.9L79.6 75.5L77.9 74.9L76.2 74.3L76 74.2L74.4 73.6L72.7 72.9L71.8 72.5L71 72.1L69.2 71.5L67.5 70.9L66.9 70.8L65.8 70.6L64.1 70.3L62.3 70L60.6 69.7L58.9 69.3L57.8 69L57.1 68.9L55.4 68.5L53.7 68.1L51.9 67.7L50.2 67.4L49.8 67.3L48.5 67.1L46.7 66.8L45 66.5L43.3 66.1L41.5 65.8L40.3 65.6L39.8 65.5L38.1 65.2L36.4 64.9L34.6 64.6L32.9 64.5L31.2 64.3L29.4 64.2L27.7 64L26.4 63.9L26 63.8L24.2 63.6L22.5 63.3L20.8 63L19 62.7L17.3 62.3L16.4 62.1L15.6 62L13.8 61.6L12.1 61.2L10.4 60.8L8.7 60.4L8.7 60.4L6.9 60L5.2 59.6L3.5 59.2L1.7 58.8L1.4 58.7L0 58.4L-1.7 58.2L-3.5 58L-5.2 57.7L-6.9 57.4L-6.9 58.7L-6.9 60.4L-6.9 62.1L-6.9 62.8L-5.2 62.9L-3.5 63L-1.7 63.2L0 63.5L1.7 63.7L2.5 63.9L3.5 64L5.2 64.4L6.9 64.9L8.7 65.3L9.7 65.6L10.4 65.8L12.1 66.2L13.8 66.7L15.6 67L17.1 67.3L17.3 67.4L19 67.6L20.8 67.9L22.5 68L24.2 68.2L26 68.2L27.7 68.3L29.4 68.3L31.2 68.4L32.9 68.5L34.6 68.7L36.4 68.9L37.2 69L38.1 69.2L39.8 69.5L41.5 69.9L43.3 70.3L45 70.7L45.3 70.8L46.7 71.1L48.5 71.5L50.2 71.8L51.9 72.2L53.7 72.5L53.7 72.5L55.4 72.8L57.1 73.1L58.9 73.4L60.6 73.6L62.3 73.9L64.1 74.2L64.3 74.2L65.8 74.5L67.5 75L69.2 75.6L70.4 75.9L71 76.1L72.7 76.7L74.4 77.4L75.2 77.7L76.2 78.1L77.9 78.8L79.6 79.3L79.9 79.4ZM-6.1 27.6L-5.2 27.3L-3.5 26.9L-1.7 26.5L0 26.2L1.3 25.9L1.7 25.7L3.5 25.2L5.2 24.7L6.9 24.2L7.1 24.2L8.7 23.6L10.4 22.6L10.7 22.4L12.1 21.3L12.8 20.7L13.8 19.7L14.5 19L15.6 17.7L15.9 17.3L16.9 15.5L17.3 14.9L17.8 13.8L18.6 12.1L19 11.1L19.4 10.4L19.9 8.6L20.3 6.9L20.4 5.2L20.5 3.5L20.7 1.7L20.8 0L20.7 -1.7L20.6 -3.5L20.6 -5.2L20.7 -6.9L19 -6.9L17.3 -6.9L15.6 -6.9L13.8 -6.9L13.3 -6.9L13.3 -5.2L13.3 -3.5L13.3 -1.7L13.2 0L13.1 1.7L13 3.5L12.7 5.2L12.2 6.9L12.1 7.3L11.7 8.6L11 10.4L10.4 11.4L10 12.1L9 13.8L8.7 14.3L7.8 15.5L6.9 16.4L5.9 17.3L5.2 17.7L3.5 18.7L3 19L1.7 19.6L0 20.4L-1 20.7L-1.7 21L-3.5 21.4L-5.2 21.8L-6.9 22.2L-6.9 22.4L-6.9 24.2L-6.9 25.9L-6.9 27.6L-6.9 27.9Z"/>
<path fill="#fcbb44" stroke="#fcbb44" stroke-width="0.3" fill-rule="evenodd" d="M50.2 177.8L51.9 178.4L53.7 179.1L54.9 179.5L55.4 179.5L57.1 179.5L58.9 179.5L60.6 179.5L62.3 179.5L64.1 179.5L65.8 179.5L67.5 179.5L69.2 179.5L71 179.5L72.7 179.5L74.4 179.5L76.2 179.5L77.9 179.5L79.6 179.5L81.4 179.5L83.1 179.5L84.8 179.5L86.6 179.5L88.3 179.5L90 179.5L91.8 179.5L93.5 179.5L95.2 179.5L97 179.5L98.7 179.5L100.4 179.5L102.1 179.5L103.9 179.5L105.6 179.5L107.3 179.5L109.1 179.5L110.8 179.5L112.5 179.5L114.3 179.5L116 179.5L117.7 179.5L119.5 179.5L121.2 179.5L122.9 179.5L124.6 179.5L126.4 179.5L128.1 179.5L129.8 179.5L131.6 179.5L133.3 179.5L135 179.5L136.8 179.5L138.5 179.5L140.2 179.5L142 179.5L143.7 179.5L145.4 179.5L147.2 179.5L148.9 179.5L150.6 179.5L152.3 179.5L154.1 179.5L155.8 179.5L157.5 179.5L159.3 179.5L161 179.5L162.7 179.5L164.5 179.5L166.2 179.5L167.9 179.5L169.7 179.5L171.4 179.5L173.1 179.5L174.9 179.5L176.6 179.5L177.6 179.5L178.3 179.4L180 179.3L181.8 179.3L183.5 179.3L185.2 179.4L186 179.5L187 179.5L188.7 179.5L190.4 179.5L192.2 179.5L193.9 179.5L195.6 179.5L197.4 179.5L199.1 179.5L200.8 179.5L202.6 179.5L204.3 179.5L206 179.5L207.8 179.5L209.5 179.5L211.2 179.5L212.9 179.5L214.7 179.5L216.4 179.5L218.1 179.5L219.9 179.5L221.6 179.5L223.3 179.5L225.1 179.5L226.8 179.5L228.5 179.5L230.3 179.5L232 179.5L233.7 179.5L235.4 179.5L237.2 179.5L238.9 179.5L240.6 179.5L242.4 179.5L244.1 179.5L245.8 179.5L247.6 179.5L249.3 179.5L251 179.5L252.8 179.5L254.5 179.5L256.2 179.5L258 179.5L259.7 179.5L261.4 179.5L263.1 179.5L264.9 179.5L266.6 179.5L268.3 179.5L270.1 179.5L271.8 179.5L273.5 179.5L275.3 179.5L277 179.5L278.7 179.5L280.5 179.5L282.2 179.5L283.9 179.5L283.9 177.8L283.9 176.1L283.9 174.3L283.9 172.6L283.9 170.9L283.9 169.1L283.9 167.4L283.9 165.7L283.9 164L283.9 162.2L283.9 160.5L283.9 158.8L283.9 157.1L283.9 156.1L282.2 156L280.5 155.9L278.7 155.7L277 155.3L277 155.3L275.3 154.8L273.5 154.1L272.3 153.6L271.8 153.4L270.1 152.7L268.3 151.9L268.3 151.9L266.6 151.1L264.9 150.4L264.1 150.2L263.1 149.8L261.4 149.2L259.7 148.8L258.2 148.4L258 148.4L256.2 148.1L254.5 148L252.8 148L251 148.1L249.3 148.4L248.9 148.4L247.6 148.7L245.8 149.2L244.1 149.8L243.1 150.2L242.4 150.4L240.6 151.2L239.1 151.9L238.9 151.9L237.2 152.7L235.4 153.5L235.1 153.6L233.7 154.1L232 154.6L230.3 154.8L228.5 154.8L226.8 154.7L225.1 154.6L223.3 154.4L221.6 154.1L219.9 153.8L219.1 153.6L218.1 153.4L216.4 153L214.7 152.6L212.9 152.1L212.3 151.9L211.2 151.5L209.5 150.9L207.8 150.2L207.8 150.2L206 149.1L205 148.4L204.3 148L202.6 146.9L202.2 146.7L200.8 145.9L199.1 145L199 145L197.4 144.3L195.6 143.7L193.9 143.3L193.9 143.3L192.2 143L190.4 142.9L188.7 142.8L187 142.8L185.2 142.7L183.5 142.7L181.8 142.7L180 142.6L178.3 142.6L176.6 142.5L174.9 142.4L173.1 142.3L171.4 142.3L169.7 142.5L167.9 142.7L166.2 142.9L164.5 143.2L163.6 143.3L162.7 143.4L161 143.6L159.3 143.7L157.5 143.8L155.8 143.9L154.1 144L152.3 144L150.6 144L148.9 144L147.2 143.9L145.4 143.8L143.7 143.7L142 143.5L140.2 143.4L138.5 143.3L138.5 143.3L136.8 143.2L135 143.2L133.3 143.1L131.6 143L129.8 142.9L128.1 142.8L126.4 142.6L124.7 142.4L122.9 142.2L121.2 142L119.5 141.8L117.7 141.5L117.7 141.5L116 141.3L114.3 141.1L112.5 140.9L110.8 140.8L109.1 140.6L107.3 140.5L105.6 140.5L103.9 140.5L102.1 140.5L100.4 140.6L98.7 140.7L97 140.9L95.2 141.2L93.5 141.5L93.5 141.5L91.8 142L90 142.5L88.3 143.1L87.7 143.3L86.6 143.6L84.8 144.2L83.1 144.7L81.8 145L81.4 145.1L79.6 145.4L77.9 145.6L76.2 145.7L74.4 145.5L72.7 145.1L72.3 145L71 144.6L69.2 144.1L67.5 143.5L66.9 143.3L65.8 142.9L64.1 142.2L62.3 141.5L62.3 141.5L60.6 140.9L58.9 140.2L58 139.8L57.1 139.5L55.4 138.8L53.7 138.2L53.5 138.1L51.9 137.5L50.2 136.9L48.6 136.4L48.5 136.3L46.7 135.7L45 135.2L43.3 134.6L43.3 134.6L41.5 134.2L39.8 133.7L38.1 133.3L36.4 133L34.6 132.9L32.9 133L31.2 133.3L29.4 133.6L27.7 134L26 134.3L24.2 134.6L23.8 134.6L22.5 134.8L20.8 135L19 135.1L17.3 135.1L15.6 135L13.8 134.8L13 134.6L12.1 134.5L10.4 134.2L8.7 133.8L6.9 133.4L5.2 133L5 132.9L3.5 132.6L1.7 132.2L0 131.9L-1.7 131.8L-3.5 131.8L-5.2 131.9L-6.9 132L-6.9 132.9L-6.9 134.6L-6.9 136.4L-6.9 138.1L-6.9 139.8L-6.9 141.5L-6.9 143.3L-6.9 145L-6.9 146.7L-6.9 148.4L-6.9 150.2L-6.9 151.9L-6.9 153.6L-6.9 155.3L-6.9 155.8L-5.2 156.2L-3.5 156.7L-2.6 157.1L-1.7 157.4L0 158.3L0.9 158.8L1.7 159.3L3.5 160.4L3.6 160.5L5.2 161.6L6 162.2L6.9 162.9L8.3 164L8.7 164.2L10.4 165.4L10.8 165.7L12.1 166.5L13.7 167.4L13.8 167.5L15.6 168.4L17.3 169.1L17.4 169.1L19 169.8L20.8 170.3L22.5 170.8L22.7 170.9L24.2 171.3L26 171.7L27.7 172L29.4 172.4L30.7 172.6L31.2 172.7L32.9 173L34.6 173.4L36.4 173.7L38.1 174.1L38.8 174.3L39.8 174.6L41.5 175L43.3 175.5L44.9 176.1L45 176.1L46.7 176.6L48.5 177.2L50.1 177.8ZM81.4 76L83.1 76.3L84.8 76.5L86.6 76.5L88.3 76.4L90 76L90.3 75.9L91.8 75.6L93.5 75L95.2 74.4L95.6 74.2L97 73.7L98.7 73.1L100.4 72.6L100.8 72.5L102.1 72.1L103.9 71.5L105.6 71.1L107.3 70.8L107.3 70.8L109.1 70.4L110.8 70.1L112.5 69.8L114.3 69.5L116 69.3L117.7 69.1L118.2 69L119.5 68.9L121.2 68.7L122.9 68.4L124.6 68.1L126.4 67.8L128.1 67.5L129.1 67.3L129.8 67.2L131.6 66.9L133.3 66.7L135 66.4L136.8 66.1L138.5 65.8L139.2 65.6L140.2 65.3L142 64.9L143.7 64.4L145.4 64.1L146.4 63.9L147.2 63.7L148.9 63.4L150.6 63.2L152.3 63.1L154.1 62.9L155.8 62.7L157.5 62.4L158.6 62.1L159.3 62L161 61.5L162.7 61.1L164.5 60.7L166.2 60.4L166.2 60.4L167.9 60.2L169.7 60L171.4 59.8L173.1 59.7L174.9 59.4L176.6 59.1L178.3 58.8L179 58.7L180 58.5L181.8 58.1L183.5 57.8L185.2 57.5L187 57.3L188.7 57L188.9 57L190.4 56.7L192.2 56.2L193.9 55.6L194.7 55.2L195.6 54.8L197.4 54.1L198.7 53.5L199.1 53.3L200.8 52.4L202.1 51.8L202.6 51.5L204.3 50.3L204.7 50.1L206 49L207 48.3L207.8 47.7L209.1 46.6L209.5 46.3L211.2 44.9L211.3 44.9L212.9 43.6L213.6 43.1L214.7 42.4L215.9 41.4L216.4 41L217.7 39.7L218.1 39L218.7 38L219.5 36.2L219.9 35.6L220.5 34.5L221.6 32.9L221.7 32.8L223.3 31.2L223.5 31.1L225.1 30.1L226.8 29.6L228.5 29.5L230.3 29.7L232 29.9L233.7 30.1L235.4 30.4L237.2 30.6L238.9 31.1L238.9 31.1L240.6 31.8L242.4 32.8L242.4 32.8L244.1 33.4L245.8 33.9L247.6 34.4L248.3 34.5L249.3 34.7L251 34.9L252.8 35L254.5 35L256.2 34.9L258 34.9L259.7 34.9L261.4 35L263.1 35.2L264.9 35.6L266.6 35.9L268 36.2L268.3 36.3L270.1 36.7L271.8 37.1L273.5 37.4L275.3 37.8L275.8 38L277 38.3L278.7 38.7L280.5 39.1L282.2 39.6L282.8 39.7L283.9 40L283.9 39.7L283.9 38L283.9 36.2L283.9 35.9L282.2 35.6L280.5 35.1L278.7 34.6L278.3 34.5L277 34.2L275.3 34L273.5 33.7L271.8 33.4L270.1 33.1L268.9 32.8L268.3 32.7L266.6 32.3L264.9 31.9L263.1 31.5L261.4 31.2L259.7 31.1L258 31.2L256.2 31.4L254.5 31.5L252.8 31.4L251 31.1L250.8 31.1L249.3 30.6L247.6 29.8L246.9 29.3L245.8 28.6L244.8 27.6L244.1 27.1L242.4 25.9L242.2 25.9L240.6 25.8L240.1 25.9L238.9 26.1L237.2 26.2L235.4 26.3L233.7 26.2L232 25.9L232 25.9L230.3 25.5L228.5 24.9L226.8 24.4L226 24.2L225.1 23.8L223.3 23.2L221.6 23.2L220.4 24.2L219.9 24.6L219 25.9L218.1 27.1L217.7 27.6L216.4 28.9L215.9 29.3L214.7 30.4L213.8 31.1L212.9 31.7L211.3 32.8L211.2 32.8L209.5 34L208.9 34.5L207.8 35.6L207.2 36.2L206 37.4L205.5 38L204.3 39L203.6 39.7L202.6 40.7L201.9 41.4L200.8 43L200.7 43.1L199.9 44.9L199.1 46.1L198.8 46.6L197.4 48.3L197.3 48.3L195.6 49.7L195.2 50.1L193.9 50.9L192.3 51.8L192.2 51.9L190.4 52.6L188.7 53.1L187 53.5L186.7 53.5L185.2 53.7L183.5 54L181.8 54.3L180 54.7L178.3 55.1L177.7 55.2L176.6 55.5L174.9 55.9L173.1 56.2L171.4 56.4L169.7 56.5L167.9 56.6L166.2 56.9L165.7 57L164.5 57.2L162.7 57.5L161 58L159.3 58.6L159 58.7L157.5 59.1L155.8 59.6L154.1 59.8L152.3 59.9L150.6 59.9L148.9 60L147.2 60.2L146 60.4L145.4 60.5L143.7 60.8L142 61.2L140.2 61.7L139 62.1L138.5 62.3L136.8 62.7L135 63L133.3 63.2L131.6 63.4L129.8 63.7L128.7 63.9L128.1 64L126.4 64.3L124.6 64.7L122.9 65.1L121.2 65.5L120.7 65.6L119.5 65.7L117.7 65.9L116 66.1L114.3 66.3L112.5 66.5L110.8 66.8L109.1 67.1L108.1 67.3L107.3 67.5L105.6 67.9L103.9 68.3L102.1 68.8L101.5 69L100.4 69.4L98.7 70L97 70.6L96.6 70.8L95.2 71.3L93.5 71.9L91.8 72.4L91.5 72.5L90 72.9L88.3 73.2L86.6 73.3L84.8 73.3L83.1 73.1L81.4 72.7L80.6 72.5L79.6 72.2L77.9 71.6L76.2 71L75.7 70.8L74.4 70.2L72.7 69.5L71.8 69L71 68.7L69.2 68.1L67.5 67.8L65.8 67.6L64.6 67.3L64.1 67.2L62.3 66.8L60.6 66.3L58.9 65.8L58.3 65.6L57.1 65.2L55.4 64.7L53.7 64.3L51.9 63.9L51.7 63.9L50.2 63.6L48.5 63.3L46.7 63.1L45 62.8L43.3 62.5L41.5 62.3L40.5 62.1L39.8 62L38.1 61.8L36.4 61.6L34.6 61.4L32.9 61.1L31.2 60.8L29.4 60.4L29.3 60.4L27.7 60.1L26 59.7L24.2 59.2L22.5 58.8L22.1 58.7L20.8 58.3L19 57.9L17.3 57.4L15.6 57L15.4 57L13.8 56.6L12.1 56.3L10.4 55.9L8.7 55.7L6.9 55.4L5.6 55.2L5.2 55.2L3.5 54.9L1.7 54.7L0 54.5L-1.7 54L-3.2 53.5L-3.5 53.4L-5.2 52.5L-6.6 51.8L-6.9 51.5L-6.9 51.8L-6.9 53.5L-6.9 55.2L-6.9 57L-6.9 57.4L-5.2 57.7L-3.5 58L-1.7 58.2L0 58.4L1.4 58.7L1.7 58.8L3.5 59.2L5.2 59.6L6.9 60L8.7 60.4L8.7 60.4L10.4 60.8L12.1 61.2L13.8 61.6L15.6 62L16.4 62.1L17.3 62.3L19 62.7L20.8 63L22.5 63.3L24.2 63.6L26 63.8L26.4 63.9L27.7 64L29.4 64.2L31.2 64.3L32.9 64.5L34.6 64.6L36.4 64.9L38.1 65.2L39.8 65.5L40.3 65.6L41.5 65.8L43.3 66.1L45 66.5L46.7 66.8L48.5 67.1L49.8 67.3L50.2 67.4L51.9 67.7L53.7 68.1L55.4 68.5L57.1 68.9L57.8 69L58.9 69.3L60.6 69.7L62.3 70L64.1 70.3L65.8 70.6L66.9 70.8L67.5 70.9L69.2 71.5L71 72.1L71.8 72.5L72.7 72.9L74.4 73.6L76 74.2L76.2 74.3L77.9 74.9L79.6 75.5L81.3 75.9ZM-5.2 33L-4.9 32.8L-3.5 32.1L-1.7 31.3L-1.1 31.1L0 30.8L1.7 30.4L3.5 30.2L5.2 29.9L6.9 29.6L7.8 29.3L8.7 29.1L10.4 28.5L12.1 27.7L12.3 27.6L13.8 26.7L14.9 25.9L15.6 25.4L17 24.2L17.3 23.9L18.7 22.4L19 22.1L20.1 20.7L20.8 19.7L21.1 19L21.9 17.3L22.5 15.7L22.6 15.5L23.3 13.8L24 12.1L24.2 11.3L24.6 10.4L25.1 8.6L25.4 6.9L25.6 5.2L25.6 3.5L25.6 1.7L25.7 0L25.9 -1.7L26 -2.1L26.3 -3.5L26.7 -5.2L27.2 -6.9L26 -6.9L24.2 -6.9L22.5 -6.9L20.8 -6.9L20.7 -6.9L20.6 -5.2L20.6 -3.5L20.7 -1.7L20.8 0L20.7 1.7L20.5 3.5L20.4 5.2L20.3 6.9L19.9 8.6L19.4 10.4L19 11.1L18.6 12.1L17.8 13.8L17.3 14.9L16.9 15.5L15.9 17.3L15.6 17.7L14.5 19L13.8 19.7L12.8 20.7L12.1 21.3L10.7 22.4L10.4 22.6L8.7 23.6L7.1 24.2L6.9 24.2L5.2 24.7L3.5 25.2L1.7 25.7L1.3 25.9L0 26.2L-1.7 26.5L-3.5 26.9L-5.2 27.3L-6.1 27.6L-6.9 27.9L-6.9 29.3L-6.9 31.1L-6.9 32.8L-6.9 34.1Z"/>
<path fill="#fba61f" stroke="#fba61f" stroke-width="0.3" fill-rule="evenodd" d="M-5.2 179.5L-3.5 179.5L-1.7 179.5L0 179.5L1.7 179.5L3.5 179.5L5.2 179.5L6.9 179.5L8.7 179.5L10.4 179.5L12.1 179.5L13.8 179.5L15.6 179.5L17.3 179.5L19 179.5L20.8 179.5L22.5 179.5L24.2 179.5L26 179.5L27.7 179.5L29.4 179.5L31.2 179.5L32.9 179.5L34.6 179.5L36.4 179.5L38.1 179.5L39.8 179.5L41.5 179.5L43.3 179.5L45 179.5L46.7 179.5L48.5 179.5L50.2 179.5L51.9 179.5L53.7 179.5L54.9 179.5L53.7 179.1L51.9 178.4L50.2 177.8L50.1 177.8L48.5 177.2L46.7 176.6L45 176.1L44.9 176.1L43.3 175.5L41.5 175L39.8 174.6L38.8 174.3L38.1 174.1L36.4 173.7L34.6 173.4L32.9 173L31.2 172.7L30.7 172.6L29.4 172.4L27.7 172L26 171.7L24.2 171.3L22.7 170.9L22.5 170.8L20.8 170.3L19 169.8L17.4 169.1L17.3 169.1L15.6 168.4L13.8 167.5L13.7 167.4L12.1 166.5L10.8 165.7L10.4 165.4L8.7 164.2L8.3 164L6.9 162.9L6 162.2L5.2 161.6L3.6 160.5L3.5 160.4L1.7 159.3L0.9 158.8L0 158.3L-1.7 157.4L-2.6 157.1L-3.5 156.7L-5.2 156.2L-6.9 155.8L-6.9 157.1L-6.9 158.8L-6.9 160.5L-6.9 162.2L-6.9 164L-6.9 165.7L-6.9 167.4L-6.9 169.1L-6.9 170.9L-6.9 172.6L-6.9 174.3L-6.9 176.1L-6.9 177.8L-6.9 179.5ZM178.3 179.5L180 179.5L181.8 179.5L183.5 179.5L185.2 179.5L186 179.5L185.2 179.4L183.5 179.3L181.8 179.3L180 179.3L178.3 179.4L177.6 179.5ZM81.4 72.7L83.1 73.1L84.8 73.3L86.6 73.3L88.3 73.2L90 72.9L91.5 72.5L91.8 72.4L93.5 71.9L95.2 71.3L96.6 70.8L97 70.6L98.7 70L100.4 69.4L101.5 69L102.1 68.8L103.9 68.3L105.6 67.9L107.3 67.5L108.1 67.3L109.1 67.1L110.8 66.8L112.5 66.5L114.3 66.3L116 66.1L117.7 65.9L119.5 65.7L120.7 65.6L121.2 65.5L122.9 65.1L124.6 64.7L126.4 64.3L128.1 64L128.7 63.9L129.8 63.7L131.6 63.4L133.3 63.2L135 63L136.8 62.7L138.5 62.3L139 62.1L140.2 61.7L142 61.2L143.7 60.8L145.4 60.5L146 60.4L147.2 60.2L148.9 60L150.6 59.9L152.3 59.9L154.1 59.8L155.8 59.6L157.5 59.1L159 58.7L159.3 58.6L161 58L162.7 57.5L164.5 57.2L165.7 57L166.2 56.9L167.9 56.6L169.7 56.5L171.4 56.4L173.1 56.2L174.9 55.9L176.6 55.5L177.7 55.2L178.3 55.1L180 54.7L181.8 54.3L183.5 54L185.2 53.7L186.7 53.5L187 53.5L188.7 53.1L190.4 52.6L192.2 51.9L192.3 51.8L193.9 50.9L195.2 50.1L195.6 49.7L197.3 48.3L197.4 48.3L198.8 46.6L199.1 46.1L199.9 44.9L200.7 43.1L200.8 43L201.9 41.4L202.6 40.7L203.6 39.7L204.3 39L205.5 38L206 37.4L207.2 36.2L207.8 35.6L208.9 34.5L209.5 34L211.2 32.8L211.3 32.8L212.9 31.7L213.8 31.1L214.7 30.4L215.9 29.3L216.4 28.9L217.7 27.6L218.1 27.1L219 25.9L219.9 24.6L220.4 24.2L221.6 23.2L223.3 23.2L225.1 23.8L226 24.2L226.8 24.4L228.5 24.9L230.3 25.5L232 25.9L232 25.9L233.7 26.2L235.4 26.3L237.2 26.2L238.9 26.1L240.1 25.9L240.6 25.8L242.2 25.9L242.4 25.9L244.1 27.1L244.8 27.6L245.8 28.6L246.9 29.3L247.6 29.8L249.3 30.6L250.8 31.1L251 31.1L252.8 31.4L254.5 31.5L256.2 31.4L258 31.2L259.7 31.1L261.4 31.2L263.1 31.5L264.9 31.9L266.6 32.3L268.3 32.7L268.9 32.8L270.1 33.1L271.8 33.4L273.5 33.7L275.3 34L277 34.2L278.3 34.5L278.7 34.6L280.5 35.1L282.2 35.6L283.9 35.9L283.9 34.5L283.9 32.8L283.9 32.2L282.2 32L280.5 31.7L278.7 31.5L277 31.2L276 31.1L275.3 30.9L273.5 30.6L271.8 30.2L270.1 29.7L268.6 29.3L268.3 29.3L266.6 28.8L264.9 28.4L263.1 28.1L261.4 28L259.7 27.9L258 28.1L256.2 28.2L254.5 28.3L252.8 28.2L251 27.7L250.9 27.6L249.3 26.8L248.1 25.9L247.6 25.4L245.9 24.2L245.8 24.1L244.1 23.1L242.4 22.7L240.6 22.6L238.9 22.8L237.2 23L235.4 23L233.7 22.7L232.9 22.4L232 22.1L230.3 20.9L230.1 20.7L228.7 19L228.5 18.7L227.8 17.3L227.1 15.5L226.8 15L226.2 13.8L225.1 12.1L225 12.1L223.3 11.1L222.1 10.4L221.6 10L219.9 8.8L219.5 8.6L218.1 7.7L216.4 6.9L216.4 6.9L214.7 6.4L212.9 6.7L212.5 6.9L211.2 7.9L210.7 8.6L209.8 10.4L209.5 11.5L209.3 12.1L209 13.8L208.8 15.5L208.6 17.3L208.4 19L208.1 20.7L207.8 22L207.6 22.4L207 24.2L206.2 25.9L206 26.2L205.2 27.6L204.3 29L204.1 29.3L202.9 31.1L202.6 31.6L201.7 32.8L200.8 33.9L200.3 34.5L199.1 36L198.9 36.2L197.6 38L197.4 38.3L196.4 39.7L195.6 40.8L195.1 41.4L193.9 43.1L193.9 43.1L192.3 44.9L192.2 45L190.4 46.4L190.1 46.6L188.7 47.3L187 48.1L186.1 48.3L185.2 48.6L183.5 48.9L181.8 49.2L180 49.5L178.3 49.7L176.6 50L176.4 50.1L174.9 50.3L173.1 50.6L171.4 50.9L169.7 51.1L167.9 51.4L166.2 51.7L165.6 51.8L164.5 52L162.7 52.4L161 52.8L159.3 53.4L158.8 53.5L157.5 53.9L155.8 54.4L154.1 54.8L152.3 55L150.6 55.2L150 55.2L148.9 55.3L147.2 55.5L145.4 55.7L143.7 56.1L142 56.5L140.4 57L140.2 57L138.5 57.5L136.8 58L135 58.4L133.8 58.7L133.3 58.8L131.6 59L129.8 59.2L128.1 59.5L126.4 59.8L124.6 60.3L124.1 60.4L122.9 60.7L121.2 61.2L119.5 61.7L117.7 62.1L117.6 62.1L116 62.4L114.3 62.7L112.5 63L110.8 63.4L109.1 63.7L108.5 63.9L107.3 64.1L105.6 64.6L103.9 65.1L102.3 65.6L102.1 65.6L100.4 66.2L98.7 66.8L97.5 67.3L97 67.5L95.2 68.2L93.5 68.8L92.8 69L91.8 69.4L90 69.9L88.3 70.2L86.6 70.3L84.8 70.3L83.1 70L81.4 69.6L79.6 69.1L79.4 69L77.9 68.5L76.2 67.9L74.4 67.3L74.4 67.3L72.7 66.8L71 66.3L69.2 66L67.6 65.6L67.5 65.6L65.8 65L64.1 64.4L62.5 63.9L62.3 63.8L60.6 63.1L58.9 62.4L58.2 62.1L57.1 61.7L55.4 61.1L53.7 60.7L52.3 60.4L51.9 60.3L50.2 60.1L48.5 59.9L46.7 59.6L45 59.4L43.3 59.1L41.5 58.9L40.3 58.7L39.8 58.6L38.1 58.4L36.4 58.1L34.6 57.8L32.9 57.3L31.5 57L31.2 56.9L29.4 56.3L27.7 55.7L26.3 55.2L26 55.1L24.2 54.4L22.5 53.7L22.1 53.5L20.8 52.9L19 52.1L18 51.8L17.3 51.5L15.6 50.9L13.8 50.5L12.1 50.2L11 50.1L10.4 50L8.7 49.8L6.9 49.7L5.2 49.5L3.5 49.3L1.7 48.9L0.3 48.3L0 48.2L-1.7 46.9L-2 46.6L-3.1 44.9L-3.5 43.4L-3.5 43.1L-3.5 42.8L-3.2 41.4L-2.3 39.7L-1.7 39L-0.5 38L0 37.7L1.7 36.9L3.5 36.3L3.7 36.2L5.2 36L6.9 35.6L8.7 35.3L10.4 34.8L11 34.5L12.1 34.1L13.8 33.2L14.3 32.8L15.6 31.9L16.5 31.1L17.3 30.3L18.2 29.3L19 28.5L19.7 27.6L20.8 26.4L21.2 25.9L22.5 24.2L22.5 24.1L23.5 22.4L24.2 21.1L24.4 20.7L25.2 19L26 17.4L26 17.3L26.9 15.5L27.7 14.1L27.8 13.8L28.7 12.1L29.4 10.5L29.5 10.4L30.2 8.6L30.8 6.9L31.2 5.4L31.2 5.2L31.7 3.5L32.1 1.7L32.6 0L32.9 -1.1L33.1 -1.7L33.7 -3.5L34.3 -5.2L34.6 -6.3L34.8 -6.9L34.6 -6.9L32.9 -6.9L31.2 -6.9L29.4 -6.9L27.7 -6.9L27.2 -6.9L26.7 -5.2L26.3 -3.5L26 -2.1L25.9 -1.7L25.7 0L25.6 1.7L25.6 3.5L25.6 5.2L25.4 6.9L25.1 8.6L24.6 10.4L24.2 11.3L24 12.1L23.3 13.8L22.6 15.5L22.5 15.7L21.9 17.3L21.1 19L20.8 19.7L20.1 20.7L19 22.1L18.7 22.4L17.3 23.9L17 24.2L15.6 25.4L14.9 25.9L13.8 26.7L12.3 27.6L12.1 27.7L10.4 28.5L8.7 29.1L7.8 29.3L6.9 29.6L5.2 29.9L3.5 30.2L1.7 30.4L0 30.8L-1.1 31.1L-1.7 31.3L-3.5 32.1L-4.9 32.8L-5.2 33L-6.9 34.1L-6.9 34.5L-6.9 36.2L-6.9 38L-6.9 39.7L-6.9 41.4L-6.9 43.1L-6.9 44.9L-6.9 46.6L-6.9 48.3L-6.9 50.1L-6.9 51.5L-6.6 51.8L-5.2 52.5L-3.5 53.4L-3.2 53.5L-1.7 54L0 54.5L1.7 54.7L3.5 54.9L5.2 55.2L5.6 55.2L6.9 55.4L8.7 55.7L10.4 55.9L12.1 56.3L13.8 56.6L15.4 57L15.6 57L17.3 57.4L19 57.9L20.8 58.3L22.1 58.7L22.5 58.8L24.2 59.2L26 59.7L27.7 60.1L29.3 60.4L29.4 60.4L31.2 60.8L32.9 61.1L34.6 61.4L36.4 61.6L38.1 61.8L39.8 62L40.5 62.1L41.5 62.3L43.3 62.5L45 62.8L46.7 63.1L48.5 63.3L50.2 63.6L51.7 63.9L51.9 63.9L53.7 64.3L55.4 64.7L57.1 65.2L58.3 65.6L58.9 65.8L60.6 66.3L62.3 66.8L64.1 67.2L64.6 67.3L65.8 67.6L67.5 67.8L69.2 68.1L71 68.7L71.8 69L72.7 69.5L74.4 70.2L75.7 70.8L76.2 71L77.9 71.6L79.6 72.2L80.6 72.5Z"/>
<path fill="#faa11b" stroke="#faa11b" stroke-width="0.3" fill-rule="evenodd" d="M79.6 69.1L81.4 69.6L83.1 70L84.8 70.3L86.6 70.3L88.3 70.2L90 69.9L91.8 69.4L92.8 69L93.5 68.8L95.2 68.2L97 67.5L97.5 67.3L98.7 66.8L100.4 66.2L102.1 65.6L102.3 65.6L103.9 65.1L105.6 64.6L107.3 64.1L108.5 63.9L109.1 63.7L110.8 63.4L112.5 63L114.3 62.7L116 62.4L117.6 62.1L117.7 62.1L119.5 61.7L121.2 61.2L122.9 60.7L124.1 60.4L124.6 60.3L126.4 59.8L128.1 59.5L129.8 59.2L131.6 59L133.3 58.8L133.8 58.7L135 58.4L136.8 58L138.5 57.5L140.2 57L140.4 57L142 56.5L143.7 56.1L145.4 55.7L147.2 55.5L148.9 55.3L150 55.2L150.6 55.2L152.3 55L154.1 54.8L155.8 54.4L157.5 53.9L158.8 53.5L159.3 53.4L161 52.8L162.7 52.4L164.5 52L165.6 51.8L166.2 51.7L167.9 51.4L169.7 51.1L171.4 50.9L173.1 50.6L174.9 50.3L176.4 50.1L176.6 50L178.3 49.7L180 49.5L181.8 49.2L183.5 48.9L185.2 48.6L186.1 48.3L187 48.1L188.7 47.3L190.1 46.6L190.4 46.4L192.2 45L192.3 44.9L193.9 43.1L193.9 43.1L195.1 41.4L195.6 40.8L196.4 39.7L197.4 38.3L197.6 38L198.9 36.2L199.1 36L200.3 34.5L200.8 33.9L201.7 32.8L202.6 31.6L202.9 31.1L204.1 29.3L204.3 29L205.2 27.6L206 26.2L206.2 25.9L207 24.2L207.6 22.4L207.8 22L208.1 20.7L208.4 19L208.6 17.3L208.8 15.5L209 13.8L209.3 12.1L209.5 11.5L209.8 10.4L210.7 8.6L211.2 7.9L212.5 6.9L212.9 6.7L214.7 6.4L216.4 6.9L216.4 6.9L218.1 7.7L219.5 8.6L219.9 8.8L221.6 10L222.1 10.4L223.3 11.1L225 12.1L225.1 12.1L226.2 13.8L226.8 15L227.1 15.5L227.8 17.3L228.5 18.7L228.7 19L230.1 20.7L230.3 20.9L232 22.1L232.9 22.4L233.7 22.7L235.4 23L237.2 23L238.9 22.8L240.6 22.6L242.4 22.7L244.1 23.1L245.8 24.1L245.9 24.2L247.6 25.4L248.1 25.9L249.3 26.8L250.9 27.6L251 27.7L252.8 28.2L254.5 28.3L256.2 28.2L258 28.1L259.7 27.9L261.4 28L263.1 28.1L264.9 28.4L266.6 28.8L268.3 29.3L268.6 29.3L270.1 29.7L271.8 30.2L273.5 30.6L275.3 30.9L276 31.1L277 31.2L278.7 31.5L280.5 31.7L282.2 32L283.9 32.2L283.9 31.1L283.9 29.3L283.9 28.5L282.2 28.5L280.5 28.5L278.7 28.4L277 28.3L275.3 27.9L274.3 27.6L273.5 27.3L271.8 26.8L270.1 26.2L269.1 25.9L268.3 25.7L266.6 25.2L264.9 24.8L263.1 24.6L261.4 24.5L259.7 24.5L258 24.7L256.2 24.8L254.5 25L252.8 24.8L251.5 24.2L251 23.9L249.3 22.5L249.2 22.4L247.6 21.2L246.7 20.7L245.8 20.3L244.1 19.6L242.4 19.3L240.6 19.3L238.9 19.4L237.2 19.6L235.4 19.6L234.2 19L233.7 18.6L232.5 17.3L232 16.6L231.3 15.5L230.3 14L230.1 13.8L228.5 12.1L228.5 12.1L226.8 10.8L226.3 10.4L225.1 8.8L224.9 8.6L224.2 6.9L223.7 5.2L223.5 3.5L223.4 1.7L223.3 0.1L223.3 0L222.8 -1.7L222.1 -3.5L221.6 -4.6L221.3 -5.2L220.3 -6.9L219.9 -6.9L218.1 -6.9L216.4 -6.9L214.7 -6.9L212.9 -6.9L211.2 -6.9L209.5 -6.9L207.8 -6.9L206 -6.9L204.3 -6.9L202.6 -6.9L200.8 -6.9L199.1 -6.9L197.4 -6.9L195.6 -6.9L193.9 -6.9L192.2 -6.9L190.4 -6.9L188.7 -6.9L187.2 -6.9L187.4 -5.2L187.8 -3.5L188.2 -1.7L188.7 0L188.7 0L189.2 1.7L189.8 3.5L190.4 4.8L190.7 5.2L192.1 6.9L192.2 7L193.9 8.6L193.9 8.6L195.4 10.4L195.6 10.7L196.4 12.1L197.3 13.8L197.4 14L198 15.5L198.6 17.3L198.7 19L198.5 20.7L198.1 22.4L197.8 24.2L197.5 25.9L197.4 26.8L197.2 27.6L196.6 29.3L195.6 31.1L195.6 31.1L194.5 32.8L193.9 33.6L193.3 34.5L192.2 36.2L192.1 36.2L190.8 38L190.4 38.3L188.9 39.7L188.7 39.9L187 41L185.9 41.4L185.2 41.7L183.5 42.2L181.8 42.5L180 42.6L178.3 42.5L176.6 42.4L174.9 42.2L173.1 42.2L171.4 42.5L169.7 42.9L168.9 43.1L167.9 43.4L166.2 43.9L164.5 44.4L162.7 44.8L162.2 44.9L161 45.1L159.3 45.5L157.5 45.8L155.8 46.2L154.4 46.6L154.1 46.7L152.3 47.3L150.6 47.8L148.9 48.2L148.4 48.3L147.2 48.6L145.4 48.9L143.7 49.3L142 49.6L140.5 50.1L140.2 50.1L138.5 50.8L136.8 51.6L136.4 51.8L135 52.3L133.3 52.9L131.6 53.4L131 53.5L129.8 53.7L128.1 54L126.4 54.1L124.6 54.3L122.9 54.7L121.6 55.2L121.2 55.4L119.5 56.4L118.4 57L117.7 57.3L116 58.1L114.4 58.7L114.3 58.7L112.5 59.2L110.8 59.6L109.1 60L107.3 60.4L107.2 60.4L105.6 60.9L103.9 61.4L102.1 62.1L102 62.1L100.4 62.7L98.7 63.4L97.7 63.9L97 64.2L95.2 64.9L93.5 65.5L93.4 65.6L91.8 66.2L90 66.7L88.3 67.1L86.6 67.3L86.6 67.3L86.5 67.3L84.8 67.2L83.1 66.9L81.4 66.4L79.6 65.9L78.4 65.6L77.9 65.4L76.2 65L74.4 64.5L72.7 64.2L71 64L69.3 63.9L69.2 63.9L67.5 63L65.8 62.2L65.7 62.1L64.1 61.3L62.3 60.5L62 60.4L60.6 59.8L58.9 59L58.1 58.7L57.1 58.3L55.4 57.7L53.7 57.3L51.9 57L51.6 57L50.2 56.8L48.5 56.5L46.7 56.3L45 56L43.3 55.6L41.5 55.2L41.5 55.2L39.8 54.8L38.1 54.4L36.4 53.9L35 53.5L34.6 53.4L32.9 52.7L31.2 52L30.7 51.8L29.4 51.1L27.7 50.1L27.7 50.1L26 48.5L25.8 48.3L24.4 46.6L24.2 46.3L23.4 44.9L22.8 43.1L22.5 41.4L22.5 41.4L22 39.7L21.8 38L21.9 36.2L22.2 34.5L22.5 33.5L22.7 32.8L23.4 31.1L24.2 29.6L24.4 29.3L25.4 27.6L26 26.6L26.3 25.9L27.2 24.2L27.7 22.8L27.9 22.4L28.6 20.7L29.4 19.3L29.6 19L30.8 17.3L31.2 16.8L32.1 15.5L32.9 14.4L33.3 13.8L34.5 12.1L34.6 11.9L35.7 10.4L36.4 9.2L36.7 8.6L37.6 6.9L38.1 5.9L38.5 5.2L39.3 3.5L39.8 2.3L40.1 1.7L40.8 0L41.5 -1.7L41.5 -1.9L42 -3.5L42.6 -5.2L43.1 -6.9L41.5 -6.9L39.8 -6.9L38.1 -6.9L36.4 -6.9L34.8 -6.9L34.6 -6.3L34.3 -5.2L33.7 -3.5L33.1 -1.7L32.9 -1.1L32.6 0L32.1 1.7L31.7 3.5L31.2 5.2L31.2 5.4L30.8 6.9L30.2 8.6L29.5 10.4L29.4 10.5L28.7 12.1L27.8 13.8L27.7 14.1L26.9 15.5L26 17.3L26 17.4L25.2 19L24.4 20.7L24.2 21.1L23.5 22.4L22.5 24.1L22.5 24.2L21.2 25.9L20.8 26.4L19.7 27.6L19 28.5L18.2 29.3L17.3 30.3L16.5 31.1L15.6 31.9L14.3 32.8L13.8 33.2L12.1 34.1L11 34.5L10.4 34.8L8.7 35.3L6.9 35.6L5.2 36L3.7 36.2L3.5 36.3L1.7 36.9L0 37.7L-0.5 38L-1.7 39L-2.3 39.7L-3.2 41.4L-3.5 42.8L-3.5 43.1L-3.5 43.4L-3.1 44.9L-2 46.6L-1.7 46.9L0 48.2L0.3 48.3L1.7 48.9L3.5 49.3L5.2 49.5L6.9 49.7L8.7 49.8L10.4 50L11 50.1L12.1 50.2L13.8 50.5L15.6 50.9L17.3 51.5L18 51.8L19 52.1L20.8 52.9L22.1 53.5L22.5 53.7L24.2 54.4L26 55.1L26.3 55.2L27.7 55.7L29.4 56.3L31.2 56.9L31.5 57L32.9 57.3L34.6 57.8L36.4 58.1L38.1 58.4L39.8 58.6L40.3 58.7L41.5 58.9L43.3 59.1L45 59.4L46.7 59.6L48.5 59.9L50.2 60.1L51.9 60.3L52.3 60.4L53.7 60.7L55.4 61.1L57.1 61.7L58.2 62.1L58.9 62.4L60.6 63.1L62.3 63.8L62.5 63.9L64.1 64.4L65.8 65L67.5 65.6L67.6 65.6L69.2 66L71 66.3L72.7 66.8L74.4 67.3L74.4 67.3L76.2 67.9L77.9 68.5L79.4 69Z"/>
<path fill="#f7891e" stroke="#f7891e" stroke-width="0.3" fill-rule="evenodd" d="M86.6 67.3L86.6 67.3L88.3 67.1L90 66.7L91.8 66.2L93.4 65.6L93.5 65.5L95.2 64.9L97 64.2L97.7 63.9L98.7 63.4L100.4 62.7L102 62.1L102.1 62.1L103.9 61.4L105.6 60.9L107.2 60.4L107.3 60.4L109.1 60L110.8 59.6L112.5 59.2L114.3 58.7L114.4 58.7L116 58.1L117.7 57.3L118.4 57L119.5 56.4L121.2 55.4L121.6 55.2L122.9 54.7L124.6 54.3L126.4 54.1L128.1 54L129.8 53.7L131 53.5L131.6 53.4L133.3 52.9L135 52.3L136.4 51.8L136.8 51.6L138.5 50.8L140.2 50.1L140.5 50.1L142 49.6L143.7 49.3L145.4 48.9L147.2 48.6L148.4 48.3L148.9 48.2L150.6 47.8L152.3 47.3L154.1 46.7L154.4 46.6L155.8 46.2L157.5 45.8L159.3 45.5L161 45.1L162.2 44.9L162.7 44.8L164.5 44.4L166.2 43.9L167.9 43.4L168.9 43.1L169.7 42.9L171.4 42.5L173.1 42.2L174.9 42.2L176.6 42.4L178.3 42.5L180 42.6L181.8 42.5L183.5 42.2L185.2 41.7L185.9 41.4L187 41L188.7 39.9L188.9 39.7L190.4 38.3L190.8 38L192.1 36.2L192.2 36.2L193.3 34.5L193.9 33.6L194.5 32.8L195.6 31.1L195.6 31.1L196.6 29.3L197.2 27.6L197.4 26.8L197.5 25.9L197.8 24.2L198.1 22.4L198.5 20.7L198.7 19L198.6 17.3L198 15.5L197.4 14L197.3 13.8L196.4 12.1L195.6 10.7L195.4 10.4L193.9 8.6L193.9 8.6L192.2 7L192.1 6.9L190.7 5.2L190.4 4.8L189.8 3.5L189.2 1.7L188.7 0L188.7 0L188.2 -1.7L187.8 -3.5L187.4 -5.2L187.2 -6.9L187 -6.9L185.2 -6.9L183.5 -6.9L181.8 -6.9L180 -6.9L178.3 -6.9L176.6 -6.9L175.6 -6.9L176.3 -5.2L176.6 -4.6L177 -3.5L177.7 -1.7L178.3 -0L178.3 0L179.3 1.7L180 3L180.3 3.5L181.2 5.2L181.8 6.3L182.1 6.9L183 8.6L183.5 9.5L184.2 10.4L185.2 11.9L185.3 12.1L186.2 13.8L186.6 15.5L187 17.2L187 17.3L187.7 19L188.2 20.7L188.4 22.4L188.3 24.2L188.1 25.9L188.2 27.6L188.2 29.3L187.7 31.1L187 32.5L186.8 32.8L185.2 34.4L185.1 34.5L183.5 35.5L181.8 36.1L180.8 36.2L180 36.4L178.3 36.4L176.6 36.4L174.9 36.3L173.1 36.2L171.4 36.5L169.7 36.8L167.9 37.2L166.2 37.7L165.2 38L164.5 38.2L162.7 38.6L161 39L159.3 39.3L157.5 39.6L157.2 39.7L155.8 40L154.1 40.5L152.3 41.1L151.3 41.4L150.6 41.6L148.9 42.2L147.2 42.7L145.4 43L144.6 43.1L143.7 43.3L142 43.6L140.2 43.9L138.5 44.2L136.8 44.7L136.5 44.9L135 45.9L134.1 46.6L133.3 47.2L131.6 48.2L131.2 48.3L129.8 48.8L128.1 49.2L126.4 49.2L124.6 49L122.9 48.5L121.5 48.3L121.2 48.3L121.1 48.3L119.5 49.5L119 50.1L117.7 51.6L117.6 51.8L116 53.4L115.8 53.5L114.3 54.5L112.6 55.2L112.5 55.2L110.8 55.7L109.1 56L107.3 56.2L105.6 56.4L103.9 57L103.9 57L102.1 57.7L100.4 58.6L100.3 58.7L98.7 59.5L97 60.4L96.9 60.4L95.2 61.1L93.5 61.8L92.7 62.1L91.8 62.5L90 63L88.3 63.4L86.6 63.5L84.8 63.4L83.1 63.2L81.4 62.8L79.6 62.4L78.7 62.1L77.9 61.9L76.2 61.5L74.4 61.1L72.7 60.7L71.7 60.4L71 60.2L69.2 59.4L67.5 58.8L67.1 58.7L65.8 58.3L64.1 57.7L62.3 57.1L62 57L60.6 56.4L58.9 55.7L57.6 55.2L57.1 55.1L55.4 54.5L53.7 54.1L51.9 53.7L50.5 53.5L50.2 53.5L48.5 53.1L46.7 52.8L45 52.3L43.4 51.8L43.3 51.7L41.5 51L39.8 50.3L39.3 50.1L38.1 49.3L36.4 48.3L36.4 48.3L34.6 47L34.2 46.6L32.9 45.2L32.6 44.9L31.5 43.1L31.2 42.3L30.8 41.4L30.5 39.7L30.3 38L30.4 36.2L30.6 34.5L30.9 32.8L31.2 32L31.4 31.1L31.9 29.3L32.4 27.6L32.9 25.9L32.9 25.9L33.6 24.2L34.4 22.4L34.6 22.1L35.4 20.7L36.4 19.4L36.6 19L37.9 17.3L38.1 17L39.2 15.5L39.8 14.7L40.5 13.8L41.5 12.3L41.7 12.1L42.9 10.4L43.3 9.8L44 8.6L44.9 6.9L45 6.7L45.8 5.2L46.6 3.5L46.7 3.2L47.4 1.7L48.1 0L48.5 -0.9L48.8 -1.7L49.4 -3.5L50 -5.2L50.2 -5.6L50.7 -6.9L50.2 -6.9L48.5 -6.9L46.7 -6.9L45 -6.9L43.3 -6.9L43.1 -6.9L42.6 -5.2L42 -3.5L41.5 -1.9L41.5 -1.7L40.8 0L40.1 1.7L39.8 2.3L39.3 3.5L38.5 5.2L38.1 5.9L37.6 6.9L36.7 8.6L36.4 9.2L35.7 10.4L34.6 11.9L34.5 12.1L33.3 13.8L32.9 14.4L32.1 15.5L31.2 16.8L30.8 17.3L29.6 19L29.4 19.3L28.6 20.7L27.9 22.4L27.7 22.8L27.2 24.2L26.3 25.9L26 26.6L25.4 27.6L24.4 29.3L24.2 29.6L23.4 31.1L22.7 32.8L22.5 33.5L22.2 34.5L21.9 36.2L21.8 38L22 39.7L22.5 41.4L22.5 41.4L22.8 43.1L23.4 44.9L24.2 46.3L24.4 46.6L25.8 48.3L26 48.5L27.7 50.1L27.7 50.1L29.4 51.1L30.7 51.8L31.2 52L32.9 52.7L34.6 53.4L35 53.5L36.4 53.9L38.1 54.4L39.8 54.8L41.5 55.2L41.5 55.2L43.3 55.6L45 56L46.7 56.3L48.5 56.5L50.2 56.8L51.6 57L51.9 57L53.7 57.3L55.4 57.7L57.1 58.3L58.1 58.7L58.9 59L60.6 59.8L62 60.4L62.3 60.5L64.1 61.3L65.7 62.1L65.8 62.2L67.5 63L69.2 63.9L69.3 63.9L71 64L72.7 64.2L74.4 64.5L76.2 65L77.9 65.4L78.4 65.6L79.6 65.9L81.4 66.4L83.1 66.9L84.8 67.2L86.5 67.3ZM275.3 27.9L277 28.3L278.7 28.4L280.5 28.5L282.2 28.5L283.9 28.5L283.9 27.6L283.9 25.9L283.9 24.2L283.9 24.1L283.4 24.2L282.2 24.2L280.5 24.3L278.7 24.3L277 24.2L277 24.2L275.3 23.6L273.5 23L272 22.4L271.8 22.4L270.1 21.8L268.3 21.2L266.6 20.8L266 20.7L264.9 20.5L263.1 20.2L261.4 20L259.7 19.9L258 19.8L256.2 19.7L254.5 19.4L253.3 19L252.8 18.8L251 17.9L250 17.3L249.3 16.9L247.6 16L246.5 15.5L245.8 15.2L244.1 14.6L242.4 14.2L240.6 13.8L240.6 13.8L238.9 13.4L237.2 12.7L236.4 12.1L235.4 11.3L234.6 10.4L233.7 9.3L233.1 8.6L232 6.9L232 6.9L230.8 5.2L230.3 3.7L230.2 3.5L229.8 1.7L229.6 0L229.5 -1.7L229.4 -3.5L229.2 -5.2L229 -6.9L228.5 -6.9L226.8 -6.9L225.1 -6.9L223.3 -6.9L221.6 -6.9L220.3 -6.9L221.3 -5.2L221.6 -4.6L222.1 -3.5L222.8 -1.7L223.3 0L223.3 0.1L223.4 1.7L223.5 3.5L223.7 5.2L224.2 6.9L224.9 8.6L225.1 8.8L226.3 10.4L226.8 10.8L228.5 12.1L228.5 12.1L230.1 13.8L230.3 14L231.3 15.5L232 16.6L232.5 17.3L233.7 18.6L234.2 19L235.4 19.6L237.2 19.6L238.9 19.4L240.6 19.3L242.4 19.3L244.1 19.6L245.8 20.3L246.7 20.7L247.6 21.2L249.2 22.4L249.3 22.5L251 23.9L251.5 24.2L252.8 24.8L254.5 25L256.2 24.8L258 24.7L259.7 24.5L261.4 24.5L263.1 24.6L264.9 24.8L266.6 25.2L268.3 25.7L269.1 25.9L270.1 26.2L271.8 26.8L273.5 27.3L274.3 27.6Z"/>
<path fill="#f36b21" stroke="#f36b21" stroke-width="0.3" fill-rule="evenodd" d="M79.6 62.4L81.4 62.8L83.1 63.2L84.8 63.4L86.6 63.5L88.3 63.4L90 63L91.8 62.5L92.7 62.1L93.5 61.8L95.2 61.1L96.9 60.4L97 60.4L98.7 59.5L100.3 58.7L100.4 58.6L102.1 57.7L103.9 57L103.9 57L105.6 56.4L107.3 56.2L109.1 56L110.8 55.7L112.5 55.2L112.6 55.2L114.3 54.5L115.8 53.5L116 53.4L117.6 51.8L117.7 51.6L119 50.1L119.5 49.5L121.1 48.3L121.2 48.3L121.5 48.3L122.9 48.5L124.6 49L126.4 49.2L128.1 49.2L129.8 48.8L131.2 48.3L131.6 48.2L133.3 47.2L134.1 46.6L135 45.9L136.5 44.9L136.8 44.7L138.5 44.2L140.2 43.9L142 43.6L143.7 43.3L144.6 43.1L145.4 43L147.2 42.7L148.9 42.2L150.6 41.6L151.3 41.4L152.3 41.1L154.1 40.5L155.8 40L157.2 39.7L157.5 39.6L159.3 39.3L161 39L162.7 38.6L164.5 38.2L165.2 38L166.2 37.7L167.9 37.2L169.7 36.8L171.4 36.5L173.1 36.2L174.9 36.3L176.6 36.4L178.3 36.4L180 36.4L180.8 36.2L181.8 36.1L183.5 35.5L185.1 34.5L185.2 34.4L186.8 32.8L187 32.5L187.7 31.1L188.2 29.3L188.2 27.6L188.1 25.9L188.3 24.2L188.4 22.4L188.2 20.7L187.7 19L187 17.3L187 17.2L186.6 15.5L186.2 13.8L185.3 12.1L185.2 11.9L184.2 10.4L183.5 9.5L183 8.6L182.1 6.9L181.8 6.3L181.2 5.2L180.3 3.5L180 3L179.3 1.7L178.3 0L178.3 -0L177.7 -1.7L177 -3.5L176.6 -4.6L176.3 -5.2L175.6 -6.9L174.9 -6.9L173.1 -6.9L171.4 -6.9L169.7 -6.9L167.9 -6.9L166.2 -6.9L164.5 -6.9L163 -6.9L164.5 -5.8L165.3 -5.2L166.2 -4.5L167.5 -3.5L167.9 -3.1L169.6 -1.7L169.7 -1.7L171.4 -0.2L171.5 0L173.1 1.6L173.2 1.7L174.2 3.5L174.9 4.6L175.2 5.2L176.3 6.9L176.6 7.2L177.8 8.6L178.3 9.1L179.6 10.4L180.1 10.7L181.3 12.1L181.8 13.1L182 13.8L182.3 15.5L182.6 17.3L183.1 19L183.5 20L183.8 20.7L184.2 22.4L184.2 24.2L184.2 25.9L183.8 27.6L183.5 28.2L182.3 29.3L181.8 29.7L180 30.4L178.3 30.7L176.6 30.8L174.9 30.9L173.1 31.1L172.9 31.1L171.4 31.1L169.7 31.3L167.9 31.6L166.2 32.2L164.5 32.8L164.5 32.8L162.7 33.4L161 34L159.3 34.5L159.3 34.5L157.5 35L155.8 35.5L154.1 36L153.4 36.2L152.3 36.6L150.6 37.1L148.9 37.7L148 38L147.2 38.2L145.4 38.7L143.7 39.1L142 39.4L140.5 39.7L140.2 39.8L138.5 40.1L136.8 40.6L135 41.4L135 41.4L133.3 42.6L132.5 43.2L131.6 43.9L130 44.9L129.8 45L128.1 45.6L126.4 45.9L124.7 45.6L123 44.9L122.9 44.9L121.2 44L119.5 44.1L118.3 44.9L117.7 45.4L116.9 46.6L116 48.1L115.8 48.3L114.6 50.1L114.3 50.3L112.5 51.5L111.7 51.8L110.8 52.1L109.1 52.2L107.3 52L105.6 51.8L103.9 51.8L102.1 52.6L100.8 53.5L100.4 53.8L98.7 55L98.3 55.2L97 56L95.2 56.9L95 57L93.5 57.6L91.8 58.2L90 58.6L89.8 58.7L88.3 58.9L86.6 59L84.8 58.9L83.1 58.7L83 58.7L81.4 58.3L79.6 57.8L77.9 57.3L76.7 57L76.2 56.8L74.4 56.3L72.7 55.8L71 55.3L70.6 55.2L69.2 54.9L67.5 54.6L65.8 54.3L64.1 53.9L62.3 53.5L62.3 53.5L60.6 52.9L58.9 52.2L57.7 51.8L57.1 51.5L55.4 50.9L53.7 50.4L52.5 50.1L51.9 49.9L50.2 49.4L48.5 48.9L46.8 48.3L46.7 48.3L45 47.2L44.3 46.6L43.3 45.5L42.7 44.9L41.6 43.2L41.5 43.1L40.8 41.4L40.3 39.7L40.1 38L40.1 36.2L40.2 34.5L40.5 32.8L40.8 31.1L41.1 29.3L41.4 27.6L41.5 27.1L41.8 25.9L42.4 24.2L43 22.4L43.3 21.8L43.8 20.7L44.8 19L45 18.7L45.9 17.3L46.7 16L47.1 15.5L48.2 13.8L48.5 13.3L49.2 12.1L50.2 10.4L50.2 10.4L51.1 8.6L51.9 6.9L51.9 6.9L52.8 5.2L53.5 3.5L53.7 3.2L54.3 1.7L55.1 0L55.4 -0.8L55.8 -1.7L56.6 -3.5L57.1 -4.6L57.4 -5.2L58.4 -6.9L57.1 -6.9L55.4 -6.9L53.7 -6.9L51.9 -6.9L50.7 -6.9L50.2 -5.6L50 -5.2L49.4 -3.5L48.8 -1.7L48.5 -0.9L48.1 0L47.4 1.7L46.7 3.2L46.6 3.5L45.8 5.2L45 6.7L44.9 6.9L44 8.6L43.3 9.8L42.9 10.4L41.7 12.1L41.5 12.3L40.5 13.8L39.8 14.7L39.2 15.5L38.1 17L37.9 17.3L36.6 19L36.4 19.4L35.4 20.7L34.6 22.1L34.4 22.4L33.6 24.2L32.9 25.9L32.9 25.9L32.4 27.6L31.9 29.3L31.4 31.1L31.2 32L30.9 32.8L30.6 34.5L30.4 36.2L30.3 38L30.5 39.7L30.8 41.4L31.2 42.3L31.5 43.1L32.6 44.9L32.9 45.2L34.2 46.6L34.6 47L36.4 48.3L36.4 48.3L38.1 49.3L39.3 50.1L39.8 50.3L41.5 51L43.3 51.7L43.4 51.8L45 52.3L46.7 52.8L48.5 53.1L50.2 53.5L50.5 53.5L51.9 53.7L53.7 54.1L55.4 54.5L57.1 55.1L57.6 55.2L58.9 55.7L60.6 56.4L62 57L62.3 57.1L64.1 57.7L65.8 58.3L67.1 58.7L67.5 58.8L69.2 59.4L71 60.2L71.7 60.4L72.7 60.7L74.4 61.1L76.2 61.5L77.9 61.9L78.7 62.1ZM278.7 24.3L280.5 24.3L282.2 24.2L283.4 24.2L283.9 24.1L283.9 22.4L283.9 20.7L283.9 19L283.9 17.9L282.2 17.8L280.5 17.6L278.7 17.3L278.5 17.3L277 16.9L275.3 16.7L273.5 16.4L271.8 16L270.1 15.6L269.9 15.5L268.3 15.1L266.6 14.6L264.9 14.2L263.4 13.8L263.1 13.7L261.4 13.2L259.7 12.7L258 12.2L257.6 12.1L256.2 11.5L254.5 10.8L253.6 10.4L252.8 9.9L251 9L250.4 8.6L249.3 8L247.6 6.9L247.6 6.9L245.8 5.8L245 5.2L244.1 4.5L243 3.5L242.4 2.8L241.4 1.7L240.6 0.6L240.3 0L239.5 -1.7L239 -3.5L238.9 -3.6L238.5 -5.2L238.2 -6.9L237.2 -6.9L235.4 -6.9L233.7 -6.9L232 -6.9L230.3 -6.9L229 -6.9L229.2 -5.2L229.4 -3.5L229.5 -1.7L229.6 0L229.8 1.7L230.2 3.5L230.3 3.7L230.8 5.2L232 6.9L232 6.9L233.1 8.6L233.7 9.3L234.6 10.4L235.4 11.3L236.4 12.1L237.2 12.7L238.9 13.4L240.6 13.8L240.6 13.8L242.4 14.2L244.1 14.6L245.8 15.2L246.5 15.5L247.6 16L249.3 16.9L250 17.3L251 17.9L252.8 18.8L253.3 19L254.5 19.4L256.2 19.7L258 19.8L259.7 19.9L261.4 20L263.1 20.2L264.9 20.5L266 20.7L266.6 20.8L268.3 21.2L270.1 21.8L271.8 22.4L272 22.4L273.5 23L275.3 23.6L277 24.2L277 24.2Z"/>
<path fill="#f04b23" stroke="#f04b23" stroke-width="0.3" fill-rule="evenodd" d="M83.1 58.7L84.8 58.9L86.6 59L88.3 58.9L89.8 58.7L90 58.6L91.8 58.2L93.5 57.6L95 57L95.2 56.9L96.9 56L98.3 55.2L98.7 55L100.4 53.8L100.8 53.5L102.1 52.6L103.9 51.8L105.6 51.8L107.3 52L109.1 52.2L110.8 52.1L111.7 51.8L112.5 51.5L114.3 50.3L114.6 50.1L115.8 48.3L116 48.1L116.9 46.6L117.7 45.4L118.3 44.9L119.5 44.1L121.2 44L122.9 44.9L123 44.9L124.6 45.6L126.4 45.9L128.1 45.6L129.8 45L130 44.9L131.6 43.9L132.5 43.1L133.3 42.6L135 41.4L135 41.4L136.8 40.6L138.5 40.1L140.2 39.8L140.5 39.7L142 39.4L143.7 39.1L145.4 38.7L147.2 38.2L148 38L148.9 37.7L150.6 37.1L152.3 36.6L153.4 36.2L154.1 36L155.8 35.5L157.5 35L159.3 34.5L159.3 34.5L161 34L162.7 33.4L164.5 32.8L164.5 32.8L166.2 32.2L167.9 31.6L169.7 31.3L171.4 31.1L172.9 31.1L173.1 31.1L174.9 30.9L176.6 30.8L178.3 30.7L180 30.4L181.8 29.7L182.3 29.3L183.5 28.2L183.8 27.6L184.2 25.9L184.2 24.2L184.2 22.4L183.8 20.7L183.5 20L183.1 19L182.6 17.3L182.3 15.5L182 13.8L181.8 13.1L181.3 12.1L180 10.7L179.6 10.4L178.3 9.1L177.8 8.6L176.6 7.2L176.3 6.9L175.2 5.2L174.9 4.6L174.2 3.5L173.2 1.7L173.1 1.6L171.5 0L171.4 -0.2L169.7 -1.7L169.6 -1.7L167.9 -3.1L167.5 -3.5L166.2 -4.5L165.3 -5.2L164.5 -5.8L163 -6.9L162.7 -6.9L161 -6.9L159.3 -6.9L157.5 -6.9L155.8 -6.9L154.1 -6.9L152.3 -6.9L150.6 -6.9L148.9 -6.9L147.2 -6.9L145.4 -6.9L143.7 -6.9L142 -6.9L140.2 -6.9L139.8 -6.9L140.2 -6.8L142 -6L143.3 -5.2L143.7 -4.9L145.4 -3.6L145.6 -3.5L147.2 -1.9L147.3 -1.7L148.8 0L148.9 0.1L150.3 1.7L150.6 2L152.1 3.5L152.3 3.7L154.1 5.2L154.1 5.2L155.8 6.8L155.9 6.9L157.5 8.6L157.5 8.7L158.9 10.4L159.3 11L160 12.1L160.9 13.8L161 14L161.6 15.5L162.2 17.3L162.7 19L162.7 19L163.1 20.7L163.2 22.4L163 24.2L162.7 25L162.4 25.9L161 27.6L160.9 27.6L159.3 28.7L158.4 29.3L157.5 29.8L155.8 30.7L155.1 31.1L154.1 31.5L152.3 32.2L150.9 32.8L150.6 32.9L148.9 33.5L147.2 34.2L146.2 34.5L145.4 34.8L143.7 35.3L142 35.7L140.2 36.1L139.6 36.2L138.5 36.5L136.8 36.9L135 37.5L134.1 38L133.3 38.4L131.6 39.4L131.2 39.7L129.8 40.7L128.9 41.4L128.1 41.9L126.4 42.7L124.7 42.5L122.9 41.4L122.9 41.4L121.2 40.5L119.5 40.2L117.7 40.5L116.1 41.4L116 41.5L114.5 43.1L114.3 43.5L113.5 44.9L112.8 46.6L112.5 47L110.8 48.3L109.1 48.2L107.3 47.9L105.6 47.6L103.9 47.6L102.1 48L101.3 48.3L100.4 48.7L98.7 49.8L98.4 50.1L97 51L95.4 51.8L95.2 51.9L93.5 52.4L91.8 52.9L90 53.2L88.3 53.5L86.6 53.5L84.8 53.2L83.1 52.7L81.4 52.1L80.4 51.8L79.6 51.5L77.9 51L76.2 50.7L74.4 50.4L72.7 50.2L71.8 50.1L71 49.9L69.2 49.7L67.5 49.6L65.8 49.4L64.1 49.1L62.3 48.7L61 48.3L60.6 48.1L58.9 47.2L57.8 46.6L57.1 46.1L55.4 44.9L55.4 44.9L53.7 43.2L53.6 43.1L52.5 41.4L51.9 39.7L51.9 39.7L51.6 38L51.5 36.2L51.6 34.5L51.9 32.8L51.9 32.5L52.2 31.1L52.6 29.3L53 27.6L53.4 25.9L53.7 24.6L53.8 24.2L54.4 22.4L55 20.7L55.4 19.9L56 19L57 17.3L57.1 17L57.8 15.5L58.3 13.8L58.7 12.1L58.9 11.5L59.3 10.4L60.1 8.6L60.6 7.6L60.9 6.9L61.7 5.2L62.2 3.5L62.3 3L62.7 1.7L63.4 0L64.1 -1.1L64.5 -1.7L65.8 -3.2L66 -3.5L67.5 -4.8L68 -5.2L69.2 -6.1L70.6 -6.9L69.2 -6.9L67.5 -6.9L65.8 -6.9L64.1 -6.9L62.3 -6.9L60.6 -6.9L58.9 -6.9L58.4 -6.9L57.4 -5.2L57.1 -4.6L56.6 -3.5L55.8 -1.7L55.4 -0.8L55.1 0L54.3 1.7L53.7 3.2L53.5 3.5L52.8 5.2L51.9 6.9L51.9 6.9L51.1 8.6L50.2 10.4L50.2 10.4L49.2 12.1L48.5 13.3L48.2 13.8L47.1 15.5L46.7 16L45.9 17.3L45 18.7L44.8 19L43.8 20.7L43.3 21.8L43 22.4L42.4 24.2L41.8 25.9L41.5 27.1L41.4 27.6L41.1 29.3L40.8 31.1L40.5 32.8L40.2 34.5L40.1 36.2L40.1 38L40.3 39.7L40.8 41.4L41.5 43.1L41.6 43.1L42.7 44.9L43.3 45.5L44.3 46.6L45 47.2L46.7 48.3L46.8 48.3L48.5 48.9L50.2 49.4L51.9 49.9L52.5 50.1L53.7 50.4L55.4 50.9L57.1 51.5L57.7 51.8L58.9 52.2L60.6 52.9L62.3 53.5L62.3 53.5L64.1 53.9L65.8 54.3L67.5 54.6L69.2 54.9L70.6 55.2L71 55.3L72.7 55.8L74.4 56.3L76.2 56.8L76.7 57L77.9 57.3L79.6 57.8L81.4 58.3L83 58.7ZM278.7 17.3L280.5 17.6L282.2 17.8L283.9 17.9L283.9 17.3L283.9 15.5L283.9 13.8L283.9 12.1L283.9 10.4L283.9 9.6L282.2 9.6L280.5 9.6L278.7 9.5L277 9.3L275.3 8.9L274.3 8.6L273.5 8.4L271.8 7.9L270.1 7.3L269.3 6.9L268.3 6.4L266.6 5.2L266.6 5.2L264.9 4.1L264 3.5L263.1 2.8L261.7 1.7L261.4 1.5L259.7 0L259.7 0L258 -1.5L257.7 -1.7L256.2 -3.1L255.8 -3.5L254.5 -4.9L254.3 -5.2L253 -6.9L252.8 -6.9L251 -6.9L249.3 -6.9L247.6 -6.9L245.8 -6.9L244.1 -6.9L242.4 -6.9L240.6 -6.9L238.9 -6.9L238.2 -6.9L238.5 -5.2L238.9 -3.6L239 -3.5L239.5 -1.7L240.3 0L240.6 0.6L241.4 1.7L242.4 2.8L243 3.5L244.1 4.5L245 5.2L245.8 5.8L247.6 6.9L247.6 6.9L249.3 8L250.4 8.6L251 9L252.8 9.9L253.6 10.4L254.5 10.8L256.2 11.5L257.6 12.1L258 12.2L259.7 12.7L261.4 13.2L263.1 13.7L263.4 13.8L264.9 14.2L266.6 14.6L268.3 15.1L269.9 15.5L270.1 15.6L271.8 16L273.5 16.4L275.3 16.7L277 16.9L278.5 17.3Z"/>
<path fill="#ed2024" stroke="#ed2024" stroke-width="0.3" fill-rule="evenodd" d="M81.4 52.1L83.1 52.7L84.8 53.2L86.6 53.5L88.3 53.5L90 53.2L91.8 52.9L93.5 52.4L95.2 51.9L95.4 51.8L97 51L98.4 50.1L98.7 49.8L100.4 48.7L101.3 48.3L102.1 48L103.9 47.6L105.6 47.6L107.3 47.9L109.1 48.2L110.8 48.3L112.5 47L112.8 46.6L113.5 44.9L114.3 43.5L114.5 43.1L116 41.5L116.1 41.4L117.7 40.5L119.5 40.2L121.2 40.5L122.9 41.4L122.9 41.4L124.6 42.5L126.4 42.7L128.1 41.9L128.9 41.4L129.8 40.7L131.2 39.7L131.6 39.4L133.3 38.4L134.1 38L135 37.5L136.8 36.9L138.5 36.5L139.6 36.2L140.2 36.1L142 35.7L143.7 35.3L145.4 34.8L146.2 34.5L147.2 34.2L148.9 33.5L150.6 32.9L150.9 32.8L152.3 32.2L154.1 31.5L155.1 31.1L155.8 30.7L157.5 29.8L158.4 29.3L159.3 28.7L160.9 27.6L161 27.6L162.4 25.9L162.7 25L163 24.2L163.2 22.4L163.1 20.7L162.7 19L162.7 19L162.2 17.3L161.6 15.5L161 14L160.9 13.8L160 12.1L159.3 11L158.9 10.4L157.5 8.7L157.5 8.6L155.9 6.9L155.8 6.8L154.1 5.2L154.1 5.2L152.3 3.7L152.1 3.5L150.6 2L150.3 1.7L148.9 0.1L148.8 0L147.3 -1.7L147.2 -1.9L145.6 -3.5L145.4 -3.6L143.7 -4.9L143.3 -5.2L142 -6L140.2 -6.8L139.8 -6.9L138.5 -6.9L136.8 -6.9L135 -6.9L133.3 -6.9L131.6 -6.9L129.8 -6.9L128.1 -6.9L126.4 -6.9L124.6 -6.9L122.9 -6.9L121.2 -6.9L119.5 -6.9L117.7 -6.9L116 -6.9L114.3 -6.9L112.5 -6.9L110.8 -6.9L109.1 -6.9L107.3 -6.9L105.6 -6.9L103.9 -6.9L102.1 -6.9L100.4 -6.9L98.7 -6.9L97 -6.9L95.2 -6.9L93.5 -6.9L91.8 -6.9L90 -6.9L88.3 -6.9L86.6 -6.9L84.8 -6.9L83.1 -6.9L81.4 -6.9L79.6 -6.9L77.9 -6.9L76.2 -6.9L74.4 -6.9L72.7 -6.9L71 -6.9L70.6 -6.9L69.2 -6.1L68 -5.2L67.5 -4.8L66 -3.5L65.8 -3.2L64.5 -1.7L64.1 -1.1L63.4 0L62.7 1.7L62.3 3L62.2 3.5L61.7 5.2L60.9 6.9L60.6 7.6L60.1 8.6L59.3 10.4L58.9 11.5L58.7 12.1L58.3 13.8L57.8 15.5L57.1 17L57 17.3L56 19L55.4 19.9L55 20.7L54.4 22.4L53.8 24.2L53.7 24.6L53.4 25.9L53 27.6L52.6 29.3L52.2 31.1L51.9 32.5L51.9 32.8L51.6 34.5L51.5 36.2L51.6 38L51.9 39.7L51.9 39.7L52.5 41.4L53.6 43.1L53.7 43.2L55.4 44.9L55.4 44.9L57.1 46.1L57.8 46.6L58.9 47.2L60.6 48.1L61 48.3L62.3 48.7L64.1 49.1L65.8 49.4L67.5 49.6L69.2 49.7L71 49.9L71.8 50.1L72.7 50.2L74.4 50.4L76.2 50.7L77.9 51L79.6 51.5L80.4 51.8ZM78.4 43.1L77.9 43L76.2 42.3L74.4 41.5L74.3 41.4L72.7 40.2L72.1 39.7L71 38L70.9 38L70.5 36.2L70.5 34.5L70.9 32.8L71 32.6L71.4 31.1L72 29.3L72.7 27.6L72.7 27.4L73.1 25.9L73.4 24.2L73.6 22.4L73.8 20.7L74 19L74.1 17.3L74.2 15.5L74.4 13.8L74.4 13.3L74.6 12.1L74.8 10.4L75.1 8.6L75.4 6.9L76 5.2L76.2 4.9L77.3 3.5L77.9 3L79.6 2.6L81.4 2.7L83.1 2.9L84.8 3.1L86.6 3.1L88.3 2.9L90 2.5L91.8 2.1L93.5 1.7L93.5 1.7L95.2 1.4L97 1.4L98.7 1.5L100.4 1.7L101 1.7L102.1 1.8L103.9 1.8L105.3 1.7L105.6 1.7L107.3 1.5L109.1 1.3L110.8 1.1L112.5 1L114.3 1L116 1.2L117.7 1.4L119.3 1.7L119.5 1.8L121.2 2.1L122.9 2.5L124.6 2.7L126.4 2.8L128.1 3.1L129.8 3.3L130.4 3.5L131.6 3.7L133.3 4.2L135 4.9L135.8 5.2L136.8 5.5L138.5 6.1L140 6.9L140.2 7L142 8.2L142.5 8.6L143.7 9.7L144.3 10.4L145.4 11.6L145.8 12.1L146.9 13.8L147.2 14.3L147.8 15.5L148.5 17.3L148.9 18.2L149.2 19L150 20.7L150.6 21.9L150.9 22.4L151.4 24.2L151.2 25.9L150.6 27L150.2 27.6L148.9 28.5L147.4 29.3L147.2 29.4L145.4 30.1L143.7 30.9L143.3 31.1L142 31.5L140.2 31.9L138.5 32.3L136.8 32.7L136.3 32.8L135 33.1L133.3 33.6L131.6 34.2L130.5 34.5L129.8 34.8L128.1 35.3L126.4 35.6L124.6 35.6L122.9 35.5L121.2 35.3L119.5 35.3L117.7 35.4L116 35.7L114.3 36.2L114 36.2L112.5 36.8L110.8 37.5L109.7 38L109.1 38.3L107.3 39.1L106.2 39.7L105.6 40L103.9 40.9L102.8 41.4L102.1 41.7L100.4 42.3L98.7 43L98 43.1L97 43.5L95.2 43.8L93.5 43.9L91.8 43.8L90 43.6L88.3 43.6L86.6 43.8L84.8 43.8L83.1 43.8L81.4 43.6L79.6 43.4ZM275.3 8.9L277 9.3L278.7 9.5L280.5 9.6L282.2 9.6L283.9 9.6L283.9 8.6L283.9 6.9L283.9 5.2L283.9 3.5L283.9 1.7L283.9 0L283.9 -1.7L283.9 -3.5L283.9 -3.7L282.2 -4.1L280.5 -4.5L278.7 -5L278 -5.2L277 -5.5L275.3 -6.2L273.9 -6.9L273.5 -6.9L271.8 -6.9L270.1 -6.9L268.3 -6.9L266.6 -6.9L264.9 -6.9L263.1 -6.9L261.4 -6.9L259.7 -6.9L258 -6.9L256.2 -6.9L254.5 -6.9L253 -6.9L254.3 -5.2L254.5 -4.9L255.8 -3.5L256.2 -3.1L257.7 -1.7L258 -1.5L259.7 0L259.7 0L261.4 1.5L261.7 1.7L263.1 2.8L264 3.5L264.9 4.1L266.6 5.2L266.6 5.2L268.3 6.4L269.3 6.9L270.1 7.3L271.8 7.9L273.5 8.4L274.3 8.6Z"/>
<path fill="#d31920" stroke="#d31920" stroke-width="0.3" fill-rule="evenodd" d="M79.6 43.4L81.4 43.6L83.1 43.8L84.8 43.8L86.6 43.8L88.3 43.6L90 43.6L91.8 43.8L93.5 43.9L95.2 43.8L97 43.5L98 43.1L98.7 43L100.4 42.3L102.1 41.7L102.8 41.4L103.9 40.9L105.6 40L106.2 39.7L107.3 39.1L109.1 38.3L109.7 38L110.8 37.5L112.5 36.8L114 36.2L114.3 36.2L116 35.7L117.7 35.4L119.5 35.3L121.2 35.3L122.9 35.5L124.6 35.6L126.4 35.6L128.1 35.3L129.8 34.8L130.5 34.5L131.6 34.2L133.3 33.6L135 33.1L136.3 32.8L136.8 32.7L138.5 32.3L140.2 31.9L142 31.5L143.3 31.1L143.7 30.9L145.4 30.1L147.2 29.4L147.4 29.3L148.9 28.5L150.2 27.6L150.6 27L151.2 25.9L151.4 24.2L150.9 22.4L150.6 21.9L150 20.7L149.2 19L148.9 18.2L148.5 17.3L147.8 15.5L147.2 14.3L146.9 13.8L145.8 12.1L145.4 11.6L144.3 10.4L143.7 9.7L142.5 8.6L142 8.2L140.2 7L140 6.9L138.5 6.1L136.8 5.5L135.8 5.2L135 4.9L133.3 4.2L131.6 3.7L130.4 3.5L129.8 3.3L128.1 3.1L126.4 2.8L124.6 2.7L122.9 2.5L121.2 2.1L119.5 1.8L119.3 1.7L117.7 1.4L116 1.2L114.3 1L112.5 1L110.8 1.1L109.1 1.3L107.3 1.5L105.6 1.7L105.3 1.7L103.9 1.8L102.1 1.8L101 1.7L100.4 1.7L98.7 1.5L96.9 1.4L95.2 1.4L93.5 1.7L93.5 1.7L91.8 2.1L90 2.5L88.3 2.9L86.6 3.1L84.8 3.1L83.1 2.9L81.4 2.7L79.6 2.6L77.9 3L77.3 3.5L76.2 4.9L76 5.2L75.4 6.9L75.1 8.6L74.8 10.4L74.6 12.1L74.4 13.3L74.4 13.8L74.2 15.5L74.1 17.3L74 19L73.8 20.7L73.6 22.4L73.4 24.2L73.1 25.9L72.7 27.4L72.7 27.6L72 29.3L71.4 31.1L71 32.6L70.9 32.8L70.5 34.5L70.5 36.2L70.9 38L71 38L72.1 39.7L72.7 40.2L74.3 41.4L74.4 41.5L76.2 42.3L77.9 43L78.4 43.1ZM278.7 -5L280.5 -4.5L282.2 -4.1L283.9 -3.7L283.9 -5.2L283.9 -6.9L282.2 -6.9L280.5 -6.9L278.7 -6.9L277 -6.9L275.3 -6.9L273.9 -6.9L275.3 -6.2L277 -5.5L278 -5.2Z"/>

<path fill="url(#dotsc)" d="M-1.7 31.1 L10.4 27.6 L22.5 20.4 L27.7 13.1 L30.8 6.2 L34.6 -1.7 L278.7 -1.7 L278.7 38.0 L259.7 32.8 L242.4 31.1 L228.5 32.8 L214.7 38.0 L204.3 44.9 L193.9 51.8 L180.0 58.0 L155.8 62.8 L138.5 65.6 L103.9 69.0 L69.2 68.7 L34.6 64.9 L17.3 60.8 L-1.7 53.5 Z"/>
<path fill="none" stroke="#000" stroke-width="0.6" stroke-linejoin="round" d="M-1.4 126.3 L1.7 127.7 L8.3 130.1 L9.3 135.3 L10.4 140.8 L12.5 143.6 L14.2 150.2 L16.6 155.3 L18.4 162.2 L20.8 169.1 L21.8 174.3"/>
<path fill="none" stroke="#000" stroke-width="0.6" stroke-linejoin="round" d="M33.9 174.3 L34.3 167.4 L35.3 161.6 L35.0 154.0 L38.8 150.9 L42.6 148.8 L46.7 145.0 L51.9 140.8 L57.1 137.7 L58.9 133.6 L63.0 132.2 L65.8 131.5 L69.9 131.2 L73.1 129.1 L75.5 130.8 L77.2 133.2 L78.6 136.7 L81.7 139.5 L83.4 142.9 L84.8 147.7 L84.5 151.9 L87.6 152.6 L91.1 149.8 L93.8 149.8 L95.9 153.6 L97.6 160.2 L99.0 165.7 L99.4 170.5 L100.1 174.3"/>
<path fill="none" stroke="#000" stroke-width="0.6" stroke-linejoin="round" d="M101.1 174.3 L101.5 170.9 L102.5 166.4 L103.5 162.6 L104.6 160.5 L107.0 160.9 L107.0 163.3 L109.8 163.6 L112.2 165.4 L113.9 167.4 L115.3 170.2 L118.4 170.9 L120.5 172.9 L120.5 174.3"/>
<path fill="none" stroke="#000" stroke-width="0.6" stroke-linejoin="round" d="M123.3 174.3 L126.4 172.3 L128.1 170.9 L131.2 169.8 L134.7 168.1 L135.7 165.7 L136.4 162.6 L135.7 159.5 L134.3 154.6 L132.3 151.5 L128.8 148.8 L126.7 146.4 L124.3 143.3 L123.6 140.8 L124.6 138.4 L127.1 136.0 L129.5 133.9 L131.9 132.9 L134.0 132.2 L136.1 133.2 L137.8 134.6 L139.5 136.7 L140.2 133.9 L143.0 132.9 L146.1 131.9 L149.9 130.5 L151.0 128.8 L153.4 129.8 L156.9 128.4 L160.7 128.1 L164.1 125.7 L166.5 122.9 L169.0 121.2 L171.4 118.7 L171.7 115.6 L173.8 113.2 L175.9 110.5 L178.3 108.4 L179.7 105.6 L179.7 103.2 L177.3 101.8 L179.7 100.1 L178.0 97.3 L176.2 94.9 L175.2 92.2 L173.8 88.7 L170.7 87.0 L171.7 84.6 L174.2 82.8 L176.2 81.1 L181.8 79.4 L181.4 78.0 L176.9 77.0 L174.2 77.3 L170.4 78.7 L169.3 77.0 L167.2 75.6 L165.2 73.9 L165.9 71.8 L169.3 72.1 L171.4 69.7 L174.9 68.0 L177.3 65.9 L180.7 67.3 L178.3 69.7 L177.3 72.5 L179.0 72.8 L181.4 71.1 L185.2 69.7 L188.4 69.0 L189.7 70.4 L191.5 71.1 L191.5 73.5 L189.7 75.6 L191.8 77.0 L195.6 77.3 L196.3 79.4 L194.9 81.1 L196.0 84.2 L194.9 87.0 L196.0 88.4 L199.1 87.3 L202.6 86.6 L205.3 84.9 L206.0 82.2 L205.7 79.4 L203.6 76.6 L201.9 74.2 L199.4 71.5 L199.4 69.7 L202.6 68.0 L206.7 66.3 L207.1 63.9 L209.8 60.8 L213.3 58.7 L215.7 57.6 L218.5 59.4 L223.3 57.6 L226.8 55.2 L231.3 51.8 L235.1 47.3 L237.5 43.8 L240.6 40.4 L243.4 37.3 L244.1 34.5 L244.5 31.1 L246.5 27.6 L246.5 24.2 L244.5 22.4 L241.0 20.4 L236.1 20.7 L232.7 21.4 L231.3 18.6 L227.1 18.3 L230.6 15.9 L235.4 12.8 L240.6 9.3 L245.8 5.5 L251.0 2.8 L258.0 2.1 L264.9 2.4 L271.8 2.4 L275.3 1.0 L278.7 1.4"/>
<path fill="none" stroke="#000" stroke-width="0.6" stroke-linejoin="round" d="M133.7 140.8 L135.7 138.1 L139.9 137.7 L142.0 139.5 L140.2 142.9 L136.8 144.3 L134.0 143.3 L133.7 140.8"/>
<path fill="none" stroke="#000" stroke-width="0.6" stroke-linejoin="round" d="M173.5 127.7 L175.5 131.2 L176.6 129.4 L178.3 126.0 L179.7 121.5 L178.3 119.8 L176.6 120.8 L173.8 125.0 L173.5 127.7"/>
<path fill="none" stroke="#000" stroke-width="0.6" stroke-linejoin="round" d="M206.4 92.2 L208.4 91.1 L210.9 90.1 L213.3 92.2 L212.9 94.9 L211.6 98.7 L209.8 99.8 L208.4 99.1 L208.4 96.0 L207.1 94.6 L206.4 92.2"/>
<path fill="none" stroke="#000" stroke-width="0.6" stroke-linejoin="round" d="M216.4 90.1 L219.9 88.7 L223.7 89.1 L223.7 90.8 L222.3 92.2 L218.8 93.9 L216.8 92.9 L216.4 90.1"/>
<path fill="none" stroke="#000" stroke-width="0.6" stroke-linejoin="round" d="M210.9 89.8 L212.6 88.4 L216.4 85.6 L219.9 84.6 L225.1 84.2 L227.8 84.2 L228.5 82.8 L230.9 79.7 L233.0 80.1 L235.4 79.4 L237.2 77.7 L240.3 75.6 L242.0 72.5 L242.4 69.0 L242.0 67.0 L243.4 64.9 L246.5 64.9 L247.6 67.3 L249.0 70.8 L247.6 74.2 L245.8 75.9 L245.5 79.4 L244.5 82.2 L245.1 83.9 L243.4 86.0 L241.7 86.3 L239.6 85.6 L238.2 87.7 L236.5 87.3 L232.7 87.7 L231.3 88.7 L228.9 91.5 L226.1 90.8 L225.8 88.4 L223.3 87.3 L219.9 88.4 L216.4 89.1 L214.7 90.1 L211.2 90.1 L210.9 89.8"/>
<path fill="none" stroke="#000" stroke-width="0.6" stroke-linejoin="round" d="M242.4 63.9 L243.1 61.1 L241.7 60.1 L243.8 57.6 L246.9 58.0 L247.9 54.5 L248.3 50.7 L251.0 51.8 L254.5 54.5 L258.0 55.6 L260.7 54.5 L262.5 57.3 L259.7 58.7 L253.8 62.1 L249.3 60.4 L245.8 60.8 L244.1 62.1 L245.5 63.5 L242.4 63.9"/>
<path fill="none" stroke="#000" stroke-width="0.6" stroke-linejoin="round" d="M249.0 48.3 L249.3 44.9 L250.0 39.7 L249.3 36.2 L250.0 31.1 L252.1 25.9 L251.7 22.1 L251.4 19.7 L253.5 24.2 L253.8 29.3 L253.5 34.5 L257.3 38.0 L254.5 39.7 L252.8 43.1 L254.5 47.3 L251.0 45.9 L249.0 48.3"/>
<path fill="none" stroke="#000" stroke-width="0.6" stroke-linejoin="round" d="M263.1 55.9 L266.6 54.2"/>
<path fill="none" stroke="#000" stroke-width="0.6" stroke-linejoin="round" d="M268.3 53.2 L271.8 51.1"/>
<path fill="none" stroke="#000" stroke-width="0.6" stroke-linejoin="round" d="M273.5 50.1 L278.7 47.6"/>
<path fill="none" stroke="#000" stroke-width="0.6" stroke-linejoin="round" d="M175.2 143.3 L177.3 142.9 L180.7 143.3 L181.4 147.7 L180.4 151.2 L178.7 152.9 L178.7 157.4 L180.7 158.8 L184.2 159.5 L187.3 162.2 L186.3 163.6 L183.2 161.2 L181.1 160.2 L179.0 159.1 L176.2 159.1 L175.2 157.1 L173.8 155.3 L172.4 151.2 L174.2 149.8 L174.5 146.4 L175.2 143.3"/>
<path fill="none" stroke="#000" stroke-width="0.6" stroke-linejoin="round" d="M174.5 160.5 L177.3 160.9 L178.3 163.6 L176.9 165.0 L174.9 162.6 L174.5 160.5"/>
<path fill="none" stroke="#000" stroke-width="0.6" stroke-linejoin="round" d="M180.0 166.4 L182.1 167.4 L184.2 169.5 L183.5 171.9 L181.4 171.2 L180.0 169.1 L180.0 166.4"/>
<path fill="none" stroke="#000" stroke-width="0.6" stroke-linejoin="round" d="M186.3 168.5 L187.7 171.2 L187.0 172.9 L185.2 171.2 L186.3 168.5"/>
<path fill="none" stroke="#000" stroke-width="0.6" stroke-linejoin="round" d="M188.0 164.0 L191.1 164.7 L192.5 168.5 L190.4 171.9 L188.4 169.5 L188.0 164.0"/>
<path fill="none" stroke="#000" stroke-width="0.6" stroke-linejoin="round" d="M192.2 173.3 L194.6 174.3 L195.6 173.3"/>
<path fill="none" stroke="#000" stroke-width="0.6" stroke-linejoin="round" d="M12.5 49.7 L15.6 48.3 L20.1 46.9 L24.2 46.6 L29.4 45.9 L32.2 46.3 L29.4 47.3 L24.2 47.6 L19.0 48.7 L15.6 50.7 L13.8 51.8 L12.5 49.7"/>
<path fill="none" stroke="#000" stroke-width="0.6" stroke-linejoin="round" d="M116.3 28.5 L119.5 27.8 L124.0 26.1 L128.8 23.1 L132.6 20.0 L135.0 16.9 L137.1 14.2 L138.5 15.2 L137.5 18.6 L135.0 22.1 L130.9 25.2 L125.7 28.0 L120.5 29.5 L117.0 29.3 L116.3 28.5"/>
<rect x="87.76" y="17.66" width="138.50" height="51.78" fill="none" stroke="#a3301e" stroke-width="1.15"/>
</g>
<rect x="0" y="0" width="277.0" height="172.6" fill="none" stroke="#222" stroke-width="0.9"/>
<line x1="-3" y1="172.60" x2="0" y2="172.60" stroke="#333" stroke-width="0.7"/>
<line x1="-3" y1="155.34" x2="0" y2="155.34" stroke="#333" stroke-width="0.7"/>
<line x1="-6" y1="138.08" x2="0" y2="138.08" stroke="#333" stroke-width="0.7"/>
<line x1="-3" y1="120.82" x2="0" y2="120.82" stroke="#333" stroke-width="0.7"/>
<line x1="-3" y1="103.56" x2="0" y2="103.56" stroke="#333" stroke-width="0.7"/>
<line x1="-3" y1="86.30" x2="0" y2="86.30" stroke="#333" stroke-width="0.7"/>
<line x1="-6" y1="69.04" x2="0" y2="69.04" stroke="#333" stroke-width="0.7"/>
<line x1="-3" y1="51.78" x2="0" y2="51.78" stroke="#333" stroke-width="0.7"/>
<line x1="-3" y1="34.52" x2="0" y2="34.52" stroke="#333" stroke-width="0.7"/>
<line x1="-3" y1="17.26" x2="0" y2="17.26" stroke="#333" stroke-width="0.7"/>
<line x1="-6" y1="0.00" x2="0" y2="0.00" stroke="#333" stroke-width="0.7"/>
<line x1="0.00" y1="172.6" x2="0.00" y2="175.6" stroke="#333" stroke-width="0.7"/>
<line x1="34.62" y1="172.6" x2="34.62" y2="175.6" stroke="#333" stroke-width="0.7"/>
<line x1="69.25" y1="172.6" x2="69.25" y2="178.6" stroke="#333" stroke-width="0.7"/>
<line x1="103.88" y1="172.6" x2="103.88" y2="175.6" stroke="#333" stroke-width="0.7"/>
<line x1="138.50" y1="172.6" x2="138.50" y2="175.6" stroke="#333" stroke-width="0.7"/>
<line x1="173.12" y1="172.6" x2="173.12" y2="178.6" stroke="#333" stroke-width="0.7"/>
<line x1="207.75" y1="172.6" x2="207.75" y2="175.6" stroke="#333" stroke-width="0.7"/>
<line x1="242.38" y1="172.6" x2="242.38" y2="175.6" stroke="#333" stroke-width="0.7"/>
<line x1="277.00" y1="172.6" x2="277.00" y2="178.6" stroke="#333" stroke-width="0.7"/>
<text x="-8.2" y="4.50" text-anchor="end">60N</text>
<text x="-8.2" y="73.54" text-anchor="end">40N</text>
<text x="-8.2" y="142.58" text-anchor="end">20N</text>
<text x="69.55" y="189.60" text-anchor="middle">90E</text>
<text x="173.43" y="189.60" text-anchor="middle">120E</text>
<text x="277.30" y="189.60" text-anchor="middle">150E</text>
<text x="-0.9" y="-4.50">(c) Composite (H400)</text>
<rect x="284.0" y="0.90" width="5.5" height="8.06" fill="#d31920"/>
<rect x="284.0" y="8.66" width="5.5" height="8.06" fill="#ed2024"/>
<rect x="284.0" y="16.42" width="5.5" height="8.06" fill="#f04b23"/>
<rect x="284.0" y="24.18" width="5.5" height="8.06" fill="#f36b21"/>
<rect x="284.0" y="31.94" width="5.5" height="8.06" fill="#f7891e"/>
<rect x="284.0" y="39.70" width="5.5" height="8.06" fill="#faa11b"/>
<rect x="284.0" y="47.45" width="5.5" height="8.06" fill="#fba61f"/>
<rect x="284.0" y="55.21" width="5.5" height="8.06" fill="#fcbb44"/>
<rect x="284.0" y="62.97" width="5.5" height="8.06" fill="#fed679"/>
<rect x="284.0" y="70.73" width="5.5" height="8.06" fill="#ffe9a7"/>
<rect x="284.0" y="78.49" width="5.5" height="8.06" fill="#fff4d1"/>
<rect x="284.0" y="86.25" width="5.5" height="8.06" fill="#c3ecfa"/>
<rect x="284.0" y="94.01" width="5.5" height="8.06" fill="#9ee1f7"/>
<rect x="284.0" y="101.77" width="5.5" height="8.06" fill="#7fd5f3"/>
<rect x="284.0" y="109.53" width="5.5" height="8.06" fill="#66caef"/>
<rect x="284.0" y="117.29" width="5.5" height="8.06" fill="#4abfe9"/>
<rect x="284.0" y="125.05" width="5.5" height="8.06" fill="#35b3e3"/>
<rect x="284.0" y="132.80" width="5.5" height="8.06" fill="#1ea5dc"/>
<rect x="284.0" y="140.56" width="5.5" height="8.06" fill="#0e8ccb"/>
<rect x="284.0" y="148.32" width="5.5" height="8.06" fill="#0b76bb"/>
<rect x="284.0" y="156.08" width="5.5" height="8.06" fill="#0a66ad"/>
<rect x="284.0" y="163.84" width="5.5" height="8.06" fill="#0b539d"/>
<rect x="284.0" y="0.9000000000000004" width="5.5" height="170.7" fill="none" stroke="#777" stroke-width="0.3"/>
<text x="298.0" y="13.36" text-anchor="middle">10</text>
<text x="298.0" y="44.40" text-anchor="middle">6</text>
<text x="298.0" y="75.43" text-anchor="middle">2</text>
<text x="298.0" y="106.47" text-anchor="middle">-2</text>
<text x="298.0" y="137.50" text-anchor="middle">-6</text>
<text x="298.0" y="168.54" text-anchor="middle">-10</text>
</g>
<g transform="translate(379.2,232.5)">
<clipPath id="clipd"><rect x="0" y="0" width="277.0" height="172.6"/></clipPath>
<g clip-path="url(#clipd)">
<rect x="0" y="0" width="277.0" height="172.6" fill="#fba61f"/>
<path fill="#66caef" stroke="#66caef" stroke-width="0.3" fill-rule="evenodd" d="M-6.5 3.5L-5.2 3.3L-3.5 3.2L-1.7 3L0 2.8L1.7 2.5L3.5 2.2L5.2 1.8L5.6 1.7L6.9 1.4L8.7 0.8L10.4 0L10.4 -0L12.1 -1.2L12.7 -1.7L13.8 -2.7L14.5 -3.5L15.6 -4.6L16.1 -5.2L17.3 -6.7L17.5 -6.9L17.3 -6.9L15.6 -6.9L13.8 -6.9L12.1 -6.9L10.4 -6.9L8.7 -6.9L6.9 -6.9L5.2 -6.9L3.5 -6.9L1.7 -6.9L0 -6.9L-1.7 -6.9L-3.5 -6.9L-5.2 -6.9L-6.9 -6.9L-6.9 -5.2L-6.9 -3.5L-6.9 -1.7L-6.9 0L-6.9 1.7L-6.9 3.5L-6.9 3.5Z"/>
<path fill="#7fd5f3" stroke="#7fd5f3" stroke-width="0.3" fill-rule="evenodd" d="M261.4 52L263.1 52.5L264.9 52.5L266.6 51.8L266.7 51.8L268 50.1L268.1 48.3L267.4 46.6L266.6 45.7L265.6 44.9L264.9 44.4L263.1 43.9L261.4 44L259.7 44.6L259.2 44.9L258 46.5L257.9 46.6L257.8 48.3L258 48.7L258.7 50.1L259.7 50.9L261 51.8ZM-5.7 15.5L-5.2 15.5L-3.5 15.2L-1.7 14.8L0 14.5L1.7 14.3L3.5 14L4.7 13.8L5.2 13.7L6.9 13.4L8.7 13L10.4 12.6L12.1 12.1L12.3 12.1L13.8 11.6L15.6 10.9L17 10.4L17.3 10.2L19 9.3L20.2 8.6L20.8 8.3L22.5 7L22.6 6.9L24.2 5.5L24.5 5.2L26 3.7L26.2 3.5L27.6 1.7L27.7 1.7L29.1 0L29.4 -0.4L30.8 -1.7L31.2 -2.1L32.5 -3.5L32.9 -3.9L34.2 -5.2L34.6 -5.6L35.8 -6.9L34.6 -6.9L32.9 -6.9L31.2 -6.9L29.4 -6.9L27.7 -6.9L26 -6.9L24.2 -6.9L22.5 -6.9L20.8 -6.9L19 -6.9L17.5 -6.9L17.3 -6.7L16.1 -5.2L15.6 -4.6L14.5 -3.5L13.8 -2.7L12.7 -1.7L12.1 -1.2L10.4 -0L10.4 0L8.7 0.8L6.9 1.4L5.6 1.7L5.2 1.8L3.5 2.2L1.7 2.5L0 2.8L-1.7 3L-3.5 3.2L-5.2 3.3L-6.5 3.5L-6.9 3.5L-6.9 5.2L-6.9 6.9L-6.9 8.6L-6.9 10.4L-6.9 12.1L-6.9 13.8L-6.9 15.5L-6.9 15.7Z"/>
<path fill="#9ee1f7" stroke="#9ee1f7" stroke-width="0.3" fill-rule="evenodd" d="M230.3 93.4L232 94.1L233.7 94.5L235.4 94.5L237.2 94.2L238.9 93.6L239.7 93.2L240.6 92.7L242.4 91.5L242.4 91.5L244.1 90L244.4 89.8L245.8 88L245.8 88L246.3 86.3L246.1 84.6L245.8 84L244.9 82.8L244.1 82.2L242.4 81.1L242.4 81.1L240.6 79.7L240.2 79.4L238.9 78.5L237.8 77.7L237.2 77.3L235.4 76.2L235.2 75.9L233.7 75.2L232 74.4L231.5 74.2L230.3 74L228.5 74.2L228.4 74.2L227.6 75.9L228.5 77.6L228.6 77.7L230.3 78.2L232 78.9L233 79.4L233.7 80.3L234.5 81.1L234.7 82.8L234.2 84.6L233.7 85.2L233.1 86.3L232 87.5L231.5 88L230.3 89.1L229.6 89.8L228.5 91.5L230 93.2ZM216.4 82.9L216.5 82.8L217.5 81.1L216.8 79.4L216.4 79L214.8 79.4L214.7 79.5L214.3 81.1L214.7 81.6L216.2 82.8ZM261.4 67.6L263.1 67.8L264.9 67.7L266.6 67.5L267.2 67.3L268.3 67L270.1 66.5L271.8 65.6L271.9 65.6L273.5 64.7L274.7 63.9L275.3 63.5L277 62.1L277 62.1L278.7 60.9L279.5 60.4L280.5 59.6L281.6 58.7L282.2 58.1L283.3 57L283.9 56.1L283.9 55.2L283.9 53.5L283.9 51.8L283.9 50.1L283.9 48.3L283.9 46.6L283.9 44.9L283.9 43.1L283.9 41.4L283.9 39.7L283.9 38.5L283.5 38L282.2 36.9L281.3 36.2L280.5 35.7L278.7 35L277 34.5L275.3 34.7L273.5 35L271.8 35.3L270.1 35.3L268.3 35.3L266.6 35.2L264.9 35.2L263.1 35.2L261.4 35.3L259.7 35.5L258 35.9L256.2 36.2L256.2 36.2L254.5 36.6L252.8 36.9L251 37.3L249.3 37.8L248.8 38L247.6 38.4L245.8 39.1L244.6 39.7L244.1 40L242.4 41.4L242.4 41.4L241.7 43.2L241.5 44.9L241.8 46.6L242.3 48.3L242.4 48.4L243.1 50.1L244.1 51.8L244.1 51.8L245.3 53.5L245.8 54.3L246.6 55.2L247.6 56.5L248 57L249.3 58.6L249.4 58.7L250.9 60.4L251 60.6L252.5 62.1L252.8 62.5L254.2 63.9L254.5 64.2L256.2 65.5L256.4 65.6L258 66.5L259.7 67.2L260.2 67.3ZM261 51.8L259.7 50.9L258.7 50.1L258 48.7L257.8 48.3L257.9 46.6L258 46.5L259.2 44.9L259.7 44.6L261.4 44L263.1 43.9L264.9 44.4L265.6 44.9L266.6 45.7L267.4 46.6L268.1 48.3L268 50.1L266.7 51.8L266.6 51.8L264.9 52.5L263.1 52.5L261.4 52ZM-5.2 26.3L-3.5 26.1L-1.7 26L-0 25.9L0 25.9L1.7 25.5L3.5 25L5.2 24.5L6.2 24.2L6.9 24L8.7 23.5L10.4 23L12.1 22.6L12.9 22.4L13.9 22.2L15.6 21.8L17.3 21.4L19 21.1L20.8 20.7L20.8 20.7L22.5 20.2L24.2 19.7L26 19.2L26.6 19L27.7 18.6L29.4 17.9L31 17.3L31.2 17.2L32.9 16.4L34.4 15.5L34.6 15.4L36.4 14.3L37.1 13.8L38.1 13.1L39.4 12.1L39.8 11.8L41.5 10.4L41.5 10.4L43.3 8.8L43.5 8.6L45 7.2L45.3 6.9L46.7 5.5L47.1 5.2L48.5 3.7L48.8 3.5L50.2 1.9L50.4 1.7L51.9 0L51.9 0L53.6 -1.7L53.7 -1.8L55.1 -3.5L55.4 -3.9L56.4 -5.2L57.1 -6.2L57.6 -6.9L57.1 -6.9L55.4 -6.9L53.7 -6.9L51.9 -6.9L50.2 -6.9L48.5 -6.9L46.7 -6.9L45 -6.9L43.3 -6.9L41.5 -6.9L39.8 -6.9L38.1 -6.9L36.4 -6.9L35.8 -6.9L34.6 -5.6L34.2 -5.2L32.9 -3.9L32.5 -3.5L31.2 -2.1L30.8 -1.7L29.4 -0.4L29.1 0L27.7 1.7L27.6 1.7L26.2 3.5L26 3.7L24.5 5.2L24.2 5.5L22.6 6.9L22.5 7L20.8 8.3L20.2 8.6L19 9.3L17.3 10.2L17 10.4L15.6 10.9L13.8 11.6L12.3 12.1L12.1 12.1L10.4 12.6L8.7 13L6.9 13.4L5.2 13.7L4.7 13.8L3.5 14L1.7 14.3L0 14.5L-1.7 14.8L-3.5 15.2L-5.2 15.5L-5.7 15.5L-6.9 15.7L-6.9 17.3L-6.9 19L-6.9 20.7L-6.9 22.4L-6.9 24.2L-6.9 25.9L-6.9 26.5Z"/>
<path fill="#c3ecfa" stroke="#c3ecfa" stroke-width="0.3" fill-rule="evenodd" d="M233.7 103.9L235.4 104.2L237.2 104.4L238.9 104.3L240.6 104.1L242.4 103.7L243 103.6L244.1 103.2L245.8 102.5L247.1 101.8L247.6 101.6L249.3 100.6L250 100.1L251 99.4L252.8 98.4L252.8 98.4L254.5 97.7L256.2 97.1L258 96.7L258.2 96.7L259.7 96.4L261.4 96.1L263.1 95.9L264.9 95.7L266.6 95.6L268.3 95.6L270.1 95.5L271.8 95.5L273.5 95.4L275.3 95.2L277 94.9L277 94.9L278.7 94.5L280.5 93.9L282.2 93.2L282.2 93.2L283.9 92.4L283.9 91.5L283.9 89.8L283.9 88L283.9 86.3L283.9 84.6L283.9 82.8L283.9 81.1L283.9 79.4L283.9 77.7L283.9 75.9L283.9 74.2L283.9 72.5L283.9 70.8L283.9 69L283.9 67.3L283.9 65.6L283.9 63.9L283.9 62.1L283.9 60.4L283.9 58.7L283.9 57L283.9 56.1L283.3 57L282.2 58.1L281.6 58.7L280.5 59.6L279.5 60.4L278.7 60.9L277 62.1L277 62.1L275.3 63.5L274.7 63.9L273.5 64.7L271.9 65.6L271.8 65.6L270.1 66.5L268.3 67L267.2 67.3L266.6 67.5L264.9 67.7L263.1 67.8L261.4 67.6L260.2 67.3L259.7 67.2L258 66.5L256.4 65.6L256.2 65.5L254.5 64.2L254.2 63.9L252.8 62.5L252.5 62.1L251 60.6L250.9 60.4L249.4 58.7L249.3 58.6L248 57L247.6 56.5L246.6 55.2L245.8 54.3L245.3 53.5L244.1 51.8L244.1 51.8L243.1 50.1L242.4 48.4L242.3 48.3L241.8 46.6L241.5 44.9L241.7 43.1L242.4 41.4L242.4 41.4L244.1 40L244.6 39.7L245.8 39.1L247.6 38.4L248.8 38L249.3 37.8L251 37.3L252.8 36.9L254.5 36.6L256.2 36.2L256.2 36.2L258 35.9L259.7 35.5L261.4 35.3L263.1 35.2L264.9 35.2L266.6 35.2L268.3 35.3L270.1 35.3L271.8 35.3L273.5 35L275.3 34.7L277 34.5L278.7 35L280.5 35.7L281.3 36.2L282.2 36.9L283.5 38L283.9 38.5L283.9 38L283.9 36.2L283.9 34.5L283.9 32.8L283.9 31.1L283.9 29.3L283.9 27.6L283.9 25.9L283.9 24.2L283.9 22.4L283.9 20.7L283.9 20.7L283.4 20.7L282.2 20.8L280.5 20.9L278.7 21.1L277 21.4L275.3 21.6L273.5 21.8L271.8 22L270.1 22.4L269.8 22.4L268.3 22.8L266.6 23.2L264.9 23.7L263.1 24.2L263.1 24.2L261.4 24.5L259.7 24.8L258 25.2L256.2 25.5L254.5 25.9L254.5 25.9L252.8 26.1L251 26.3L249.3 26.6L247.6 26.9L245.8 27.3L244.8 27.6L244.1 27.8L242.4 28.4L240.6 29L239.5 29.3L238.9 29.5L237.2 30L235.5 30.6L234.2 31.1L233.7 31.3L232 32L230.3 32.7L229.9 32.8L228.5 33.4L226.8 34.1L225.6 34.5L225.1 34.8L223.3 35.5L221.6 36.1L221.3 36.2L219.9 36.8L218.1 37.4L216.4 37.7L214.7 37.5L212.9 37.7L212.7 38L211.9 39.7L211.7 41.4L211.8 43.1L212 44.9L212.4 46.6L212.9 47.9L213.2 48.3L214.7 49.9L214.9 50.1L216.4 51L218.1 51.5L219.4 51.8L219.9 51.9L221.6 52.2L223.3 52.7L225.1 53.2L225.6 53.5L226.8 54L228.5 54.8L229.2 55.2L230.3 55.8L231.9 57L232 57L233.7 58.5L233.8 58.7L235.2 60.4L235.4 60.8L236.1 62.1L236.4 63.9L236.1 65.6L235.4 66.6L234.9 67.3L233.7 68L232 68.5L230.3 68.1L228.6 67.3L228.5 67.3L226.8 66L226.1 65.6L225.1 64.7L223.9 63.9L223.3 63.3L221.8 62.1L221.6 61.9L219.9 60.7L219.1 60.4L218.1 59.8L216.4 59.4L214.7 59.9L214.1 60.4L212.9 61.1L212.1 62.1L211.2 63.1L210.8 63.9L209.8 65.6L209.5 66.1L208.9 67.3L208.2 69L207.7 70.2L207.6 70.8L207 72.5L206.5 74.2L206.1 75.9L206 76.1L205.6 77.7L205.1 79.4L204.7 81.1L204.4 82.8L204.3 83.8L204.2 84.6L204.1 86.3L204.2 88L204.3 88.7L204.5 89.8L205.3 91.5L206 92.4L207.8 93.2L209.5 92.5L210.8 91.5L211.2 91.3L212.9 90.1L213.4 89.8L214.7 89.2L216.4 88.3L218.1 88.2L219.9 89L220.5 89.8L221.3 91.5L221.6 92.2L221.9 93.2L222.9 94.9L223.3 95.4L224.3 96.7L225.1 97.4L225.8 98.4L226.8 99.5L227.3 100.1L228.5 101.2L229.4 101.8L230.3 102.5L232 103.3L232.7 103.6ZM230 93.2L228.5 91.5L229.6 89.8L230.3 89.1L231.5 88L232 87.5L233.1 86.3L233.7 85.2L234.2 84.6L234.7 82.8L234.5 81.1L233.7 80.3L233 79.4L232 78.9L230.3 78.2L228.6 77.7L228.5 77.6L227.6 75.9L228.4 74.2L228.5 74.2L230.3 74L231.5 74.2L232 74.4L233.7 75.2L235.2 75.9L235.4 76.2L237.2 77.3L237.8 77.7L238.9 78.5L240.2 79.4L240.6 79.7L242.4 81.1L242.4 81.1L244.1 82.2L244.9 82.8L245.8 84L246.1 84.6L246.3 86.3L245.8 88L245.8 88L244.4 89.8L244.1 90L242.4 91.5L242.4 91.5L240.6 92.7L239.7 93.2L238.9 93.6L237.2 94.2L235.4 94.5L233.7 94.5L232 94.1L230.3 93.4ZM216.2 82.8L214.7 81.6L214.3 81.1L214.7 79.5L214.8 79.4L216.4 79L216.8 79.4L217.5 81.1L216.5 82.8L216.4 82.9ZM224.4 82.8L224.1 81.1L225.1 79.5L225.4 79.4L226.8 79.2L227 79.4L228.1 81.1L227.4 82.8L226.8 83.4L225.1 83.6ZM-6.2 36.2L-5.2 35.7L-3.5 34.8L-2.9 34.5L-1.7 34.1L0 33.6L1.7 33.4L3.5 33.3L5.2 33.3L6.9 33.3L8.7 33.2L10.4 33L12.1 32.8L12.3 32.8L13.8 32.6L15.6 32.2L17.3 31.8L19 31.4L20.8 31.1L20.8 31.1L22.5 31L24.2 31L26 30.9L27.7 30.8L29.4 30.6L31.2 30.2L32.9 29.7L33.7 29.3L34.6 29L36.4 28.2L37.3 27.6L38.1 27.2L39.8 26.1L40.1 25.9L41.5 24.8L42.2 24.2L43.3 23.1L44 22.4L45 21.4L45.9 20.7L46.7 20L48.2 19L48.5 18.8L50.2 17.8L51.2 17.3L51.9 16.9L53.7 16.1L55.1 15.5L55.4 15.4L57.1 14.8L58.9 14.1L59.7 13.8L60.6 13.4L62.3 12.4L62.7 12.1L64.1 10.7L64.3 10.4L65.5 8.6L65.8 8.2L66.5 6.9L67.5 5.3L67.6 5.2L68.7 3.5L69.2 2.7L69.9 1.7L71 0L71 -0L71.7 -1.7L72.3 -3.5L72.7 -4.9L72.8 -5.2L73.3 -6.9L72.7 -6.9L71 -6.9L69.2 -6.9L67.5 -6.9L65.8 -6.9L64.1 -6.9L62.3 -6.9L60.6 -6.9L58.9 -6.9L57.6 -6.9L57.1 -6.2L56.4 -5.2L55.4 -3.9L55.1 -3.5L53.7 -1.8L53.6 -1.7L51.9 0L51.9 0L50.4 1.7L50.2 1.9L48.8 3.5L48.5 3.7L47.1 5.2L46.7 5.5L45.3 6.9L45 7.2L43.5 8.6L43.3 8.8L41.5 10.4L41.5 10.4L39.8 11.8L39.4 12.1L38.1 13.1L37.1 13.8L36.4 14.3L34.6 15.4L34.4 15.5L32.9 16.4L31.2 17.2L31 17.3L29.4 17.9L27.7 18.6L26.6 19L26 19.2L24.2 19.7L22.5 20.2L20.8 20.7L20.8 20.7L19 21.1L17.3 21.4L15.6 21.8L13.9 22.2L12.9 22.4L12.1 22.6L10.4 23L8.7 23.5L6.9 24L6.2 24.2L5.2 24.5L3.5 25L1.7 25.5L0 25.9L-0 25.9L-1.7 26L-3.5 26.1L-5.2 26.3L-6.9 26.5L-6.9 27.6L-6.9 29.3L-6.9 31.1L-6.9 32.8L-6.9 34.5L-6.9 36.2L-6.9 36.7Z"/>
<path fill="#fff4d1" stroke="#fff4d1" stroke-width="0.3" fill-rule="evenodd" d="M57.1 141.7L58.9 141.7L59.9 141.5L60.6 141.4L62.3 141L64.1 140.4L65.8 139.8L65.8 139.8L67.5 139.5L69.2 139.1L71 138.4L71.6 138.1L72.7 137.3L73.7 136.4L74.4 135.1L74.7 134.6L75.1 132.9L75.1 131.2L74.7 129.4L74.4 128.7L74 127.7L73.2 126L72.7 125.2L72.1 124.3L71 122.7L70.8 122.5L69.2 120.8L69.2 120.8L67.5 119.5L66.6 119.1L65.8 118.7L64.1 118.4L62.3 118.5L60.6 118.9L60.1 119.1L58.9 119.5L57.1 120.1L55.4 120.8L55.4 120.8L53.7 121.1L51.9 121.6L50.4 122.5L50.2 122.6L48.8 124.3L48.5 124.8L47.9 126L47.6 127.7L47.6 129.4L47.8 131.2L48.1 132.9L48.5 134.2L48.6 134.6L49.4 136.4L50.2 137.8L50.4 138.1L51.9 139.8L51.9 139.8L53.7 140.9L55.4 141.5L55.8 141.5ZM135 138.4L136.8 138.9L138.5 139.2L140.2 139.4L142 139.5L143.7 139.3L145.4 138.7L146.8 138.1L147.2 137.7L148.2 136.4L147.9 134.6L147.2 134.2L145.4 132.9L145.3 132.9L143.7 132.7L142 132.3L140.4 131.2L140.2 131L139.1 129.4L138.5 127.7L138.5 127.7L137.1 126L136.8 125.5L135 124.4L134.2 124.3L133.3 124.1L132.4 124.3L131.6 124.4L129.8 125.2L128.6 126L128.1 126.5L127 127.7L126.4 128.9L126.1 129.4L125.9 131.2L126.4 132.7L126.4 132.9L127.7 134.6L128.1 134.9L129.8 136.2L130.1 136.4L131.6 137.1L133.3 137.8L133.9 138.1ZM162.7 134.6L164.5 134.7L164.6 134.6L166.2 134.3L167.9 133.6L168.8 132.9L169.6 131.2L168.6 129.4L167.9 128.4L167.4 127.7L166.6 126L166.3 124.3L166.4 122.5L167 120.8L167.9 119.5L168.4 119.1L169.7 118.2L171.4 117.7L173.1 117.7L174.9 118.1L176.6 118.9L176.9 119.1L178.3 119.8L180 120.8L180.1 120.8L181.8 121.1L183.5 121.2L185.2 121.2L187 121L188.2 120.8L188.7 120.7L190.4 120.3L192.2 119.9L193.9 119.4L195.2 119.1L195.6 119L197.4 118.5L199.1 118.1L200.8 117.7L202.6 117.4L203.1 117.4L204.3 117.2L206 116.9L207.8 116.6L209.5 116.2L211.2 115.7L211.3 115.6L212.9 115.1L214.7 114.6L216.4 114.2L218.1 114L219.1 113.9L219.9 113.9L221.6 113.9L222.3 113.9L223.3 114L225.1 114.2L226.8 114.5L228.5 114.7L230.3 115L232 115.2L233.7 115.4L235.4 115.6L236.7 115.6L237.2 115.7L238.9 115.7L240.6 115.7L242.4 115.6L242.4 115.6L244.1 115.6L245.8 115.5L247.6 115.4L249.3 115.3L251 115.1L252.8 115L254.5 114.9L256.2 114.8L258 114.7L259.7 114.7L261.4 114.7L263.1 114.8L264.9 114.9L266.6 115L268.3 115.2L270.1 115.3L271.8 115.5L273.5 115.6L274.9 115.6L275.3 115.7L276.8 115.6L277 115.6L278.7 115.4L280.5 115.1L282.2 114.7L283.9 114.3L283.9 113.9L283.9 112.2L283.9 110.5L283.9 108.7L283.9 107L283.9 105.3L283.9 103.6L283.9 101.8L283.9 100.1L283.9 98.4L283.9 96.7L283.9 94.9L283.9 93.2L283.9 92.4L282.2 93.2L282.2 93.2L280.5 93.9L278.7 94.5L277 94.9L277 94.9L275.3 95.2L273.5 95.4L271.8 95.5L270.1 95.5L268.3 95.6L266.6 95.6L264.9 95.7L263.1 95.9L261.4 96.1L259.7 96.4L258.2 96.7L258 96.7L256.2 97.1L254.5 97.7L252.8 98.4L252.8 98.4L251 99.4L250 100.1L249.3 100.6L247.6 101.6L247.1 101.8L245.8 102.5L244.1 103.2L243 103.6L242.4 103.7L240.6 104.1L238.9 104.3L237.2 104.4L235.4 104.2L233.7 103.9L232.7 103.6L232 103.3L230.3 102.5L229.4 101.8L228.5 101.2L227.3 100.1L226.8 99.5L225.8 98.4L225.1 97.4L224.3 96.7L223.3 95.4L222.9 94.9L221.9 93.2L221.6 92.2L221.3 91.5L220.5 89.8L219.9 89L218.1 88.2L216.4 88.3L214.7 89.2L213.4 89.8L212.9 90.1L211.2 91.3L210.8 91.5L209.5 92.5L207.7 93.2L206 92.4L205.3 91.5L204.5 89.8L204.3 88.7L204.2 88L204.1 86.3L204.2 84.6L204.3 83.8L204.4 82.8L204.7 81.1L205.1 79.4L205.6 77.7L206 76.1L206.1 75.9L206.5 74.2L207 72.5L207.6 70.8L207.8 70.2L208.2 69L208.9 67.3L209.5 66.1L209.8 65.6L210.8 63.9L211.2 63.1L212.1 62.1L212.9 61.1L214.1 60.4L214.7 59.9L216.4 59.4L218.1 59.8L219.1 60.4L219.9 60.7L221.6 61.9L221.8 62.1L223.3 63.3L223.9 63.9L225.1 64.7L226.1 65.6L226.8 66L228.5 67.3L228.6 67.3L230.3 68.1L232 68.5L233.7 68L234.9 67.3L235.4 66.6L236.1 65.6L236.4 63.9L236.1 62.1L235.4 60.8L235.2 60.4L233.8 58.7L233.7 58.5L232 57L231.9 57L230.3 55.8L229.2 55.2L228.5 54.8L226.8 54L225.6 53.5L225.1 53.2L223.3 52.7L221.6 52.2L219.9 51.9L219.4 51.8L218.1 51.5L216.4 51L214.9 50.1L214.7 49.9L213.2 48.3L212.9 47.9L212.4 46.6L212 44.9L211.8 43.1L211.7 41.4L211.9 39.7L212.7 38L212.9 37.7L214.7 37.5L216.4 37.7L218.1 37.4L219.9 36.8L221.3 36.2L221.6 36.1L223.3 35.5L225.1 34.8L225.6 34.5L226.8 34.1L228.5 33.4L229.9 32.8L230.3 32.7L232 32L233.7 31.3L234.2 31.1L235.4 30.6L237.2 30L238.9 29.5L239.5 29.3L240.6 29L242.4 28.4L244.1 27.8L244.8 27.6L245.8 27.3L247.6 26.9L249.3 26.6L251 26.3L252.8 26.1L254.5 25.9L254.5 25.9L256.2 25.5L258 25.2L259.7 24.8L261.4 24.5L263.1 24.2L263.1 24.2L264.9 23.7L266.6 23.2L268.3 22.8L269.8 22.4L270.1 22.4L271.8 22L273.5 21.8L275.3 21.6L277 21.4L278.7 21.1L280.5 20.9L282.2 20.8L283.4 20.7L283.9 20.7L283.9 19L283.9 17.3L283.9 15.5L283.9 13.8L283.9 12.1L283.9 10.4L283.9 8.6L283.9 6.9L283.9 5.2L283.9 3.5L283.9 1.7L283.9 0L283.9 -1.7L283.9 -3.5L283.9 -5.2L283.9 -6.9L282.2 -6.9L280.5 -6.9L278.7 -6.9L277 -6.9L275.3 -6.9L273.5 -6.9L271.8 -6.9L270.1 -6.9L268.3 -6.9L266.6 -6.9L264.9 -6.9L263.1 -6.9L261.4 -6.9L259.7 -6.9L258 -6.9L256.2 -6.9L254.5 -6.9L252.8 -6.9L251 -6.9L249.3 -6.9L247.6 -6.9L245.8 -6.9L244.1 -6.9L242.4 -6.9L240.6 -6.9L238.9 -6.9L237.2 -6.9L235.4 -6.9L233.7 -6.9L232 -6.9L230.3 -6.9L228.5 -6.9L226.8 -6.9L226.8 -6.9L226.3 -5.2L225.9 -3.5L225.6 -1.7L225.4 0L225.6 1.7L225.7 3.5L225.8 5.2L225.7 6.9L225.3 8.6L225.1 9L224.3 10.4L223.3 11.3L222.2 12.1L221.6 12.3L219.9 12.4L218.1 12.3L216.4 12.1L214.7 12.1L212.9 12.3L211.2 12.7L209.5 13.2L208.2 13.8L207.8 14L206 14.8L204.9 15.5L204.3 15.9L202.6 17L202.3 17.3L200.8 18.4L200.3 19L199.2 20.7L199.1 21L198.3 22.4L197.4 24.2L197.4 24.3L196.6 25.9L195.8 27.6L195.6 28L195 29.3L194.4 31.1L193.9 32.7L193.9 32.8L193.5 34.5L193 36.2L192.6 38L192.2 39.4L192.1 39.7L191.5 41.4L190.9 43.1L190.4 44.5L190.3 44.9L189.7 46.6L189.1 48.3L188.7 49.6L188.6 50.1L188.1 51.8L187.7 53.5L187.3 55.2L187 56.8L186.9 57L186.7 58.7L186.5 60.4L186.5 62.1L186.9 63.9L187 64.1L187.6 65.6L188.7 66.9L189 67.3L190.3 69L190.4 69.4L191 70.8L191.4 72.5L191.2 74.2L190.5 75.9L190.4 76.1L189.4 77.7L188.7 78.6L188.1 79.4L187.1 81.1L187 81.3L186.1 82.8L185.4 84.6L185.2 84.9L184.7 86.3L184 88L183.5 89.1L183.2 89.8L182.4 91.5L181.8 92.6L181.5 93.2L180.4 94.9L180.1 95.4L179.2 96.7L178.3 97.8L177.9 98.4L176.6 100.1L176.6 100.1L175.7 101.8L174.9 103.1L174.6 103.6L173.2 105.3L173.1 105.3L171.4 106.8L171 107L169.7 107.8L167.9 108.4L166.2 108.7L166.2 108.7L164.5 109.4L162.7 110L161 110.4L160.9 110.5L159.3 110.9L157.5 111.3L155.8 111.8L154.1 112.2L154.1 112.2L152.3 112.8L150.6 113.2L148.9 113.4L147.2 113.6L145.5 113.9L145.4 114.1L145.2 115.6L145.4 115.8L147.2 116.6L148.9 117.4L148.9 117.4L150.6 117.7L152.3 118.5L153 119.1L154.1 120L154.7 120.8L155.8 122.5L155.8 122.6L156.6 124.3L157 126L157.2 127.7L157.3 129.4L157.4 131.2L157.5 131.5L158.3 132.9L159.3 133.6L161 134.3L162.6 134.6ZM69.2 98.5L71 98.9L72.7 99L74.4 99L76.2 98.9L77.9 98.6L79 98.4L79.6 98.3L81.4 97.8L83.1 97.4L84.8 96.8L85.1 96.7L86.6 96.1L88.3 95.3L89.1 94.9L90 94.4L91.8 93.4L92 93.2L93.5 92.2L94.5 91.5L95.2 90.9L96.6 89.8L97 89.5L98.6 88L98.7 87.9L100.4 86.3L100.4 86.3L102 84.6L102.1 84.4L103.4 82.8L103.9 82.3L104.6 81.1L105.5 79.4L105.6 79L106 77.7L106.1 75.9L106 74.2L105.8 72.5L105.6 71.7L105.4 70.8L105 69L104.7 67.3L104.8 65.6L105.5 63.9L105.6 63.7L106.1 62.1L106.9 60.4L107.3 59.5L107.5 58.7L107.3 57.1L107.2 57L105.6 56.7L105.1 57L103.9 58.3L103.6 58.7L103.1 60.4L102.8 62.1L102.1 63.8L102.1 63.9L101.3 65.6L100.4 66.5L99.5 67.3L98.7 68L97 69L96.9 69L95.2 70L93.5 70.6L92.9 70.8L91.8 71.1L90 71.4L88.3 71.6L86.6 71.6L84.8 71.4L83.1 71L82.4 70.8L81.4 70.4L79.6 69.4L79.1 69L77.9 67.3L77.9 67.3L77.5 65.6L77.6 63.9L77.9 62.2L77.9 62.1L78.3 60.4L78.7 58.7L79 57L79.4 55.2L79.6 53.5L79.5 51.8L79.1 50.1L78.5 48.3L77.9 46.7L77.9 46.6L77.2 44.9L76.7 43.1L76.3 41.4L76.2 40.9L75.3 39.7L74.4 38.7L72.7 38.8L71 39.6L70.8 39.7L69.2 40.5L67.5 41.3L67.3 41.4L65.8 42L64.1 42.4L62.3 42.6L60.6 42.5L58.9 42.1L57.1 41.4L57.1 41.4L55.4 40.8L53.7 40.5L51.9 40.1L50.8 39.7L50.2 39.4L48.5 38L48.5 38L47.6 36.2L47.2 34.5L47.2 32.8L47.6 31.1L48.5 29.4L48.5 29.3L50.2 28.2L51.5 27.6L51.9 27.5L53.7 27L55.4 26.6L57.1 26.3L58.9 26.1L60.6 25.9L62.3 25.9L62.3 25.9L62.3 25.9L64.1 25.9L65.8 26.1L67.5 26.4L69.2 26.9L70.9 27.6L71 27.7L72.7 28.8L73.6 29.3L74.4 30L76.2 30.9L77.2 31.1L77.9 31.2L79.6 31.1L79.6 31.1L81.4 30.9L83.1 30.8L84.8 30.9L85.5 31.1L86.6 31.2L88.3 31.6L90 31.9L91.7 31.1L90 30.1L88.7 29.3L88.3 29.1L86.6 27.7L86.5 27.6L85.6 25.9L85.4 24.2L85.6 22.4L86.3 20.7L86.6 20.3L87.2 19L88.3 17.3L88.3 16.9L88.3 15.5L88.3 15.4L87.7 13.8L86.7 12.1L86.6 11.9L85.1 10.4L84.8 10.1L83.2 8.6L83.1 8.4L82.1 6.9L81.9 5.2L82.2 3.5L82.6 1.7L83.1 0L83.1 -0L83.5 -1.7L84 -3.5L84.4 -5.2L84.8 -6.9L84.8 -6.9L84.8 -6.9L83.1 -6.9L81.4 -6.9L79.6 -6.9L77.9 -6.9L76.2 -6.9L74.4 -6.9L73.3 -6.9L72.8 -5.2L72.7 -4.9L72.3 -3.5L71.7 -1.7L71 -0L71 0L69.9 1.7L69.2 2.7L68.7 3.5L67.6 5.2L67.5 5.3L66.5 6.9L65.8 8.2L65.5 8.6L64.3 10.4L64.1 10.7L62.7 12.1L62.3 12.4L60.6 13.4L59.7 13.8L58.9 14.1L57.1 14.8L55.4 15.4L55.1 15.5L53.7 16.1L51.9 16.9L51.2 17.3L50.2 17.8L48.5 18.8L48.2 19L46.7 20L45.9 20.7L45 21.4L44 22.4L43.3 23.1L42.2 24.2L41.5 24.8L40.1 25.9L39.8 26.1L38.1 27.2L37.3 27.6L36.4 28.2L34.6 29L33.7 29.3L32.9 29.7L31.2 30.2L29.4 30.6L27.7 30.8L26 30.9L24.2 31L22.5 31L20.8 31.1L20.8 31.1L19 31.4L17.3 31.8L15.6 32.2L13.8 32.6L12.3 32.8L12.1 32.8L10.4 33L8.7 33.2L6.9 33.3L5.2 33.3L3.5 33.3L1.7 33.4L0 33.6L-1.7 34.1L-2.9 34.5L-3.5 34.8L-5.2 35.7L-6.2 36.2L-6.9 36.7L-6.9 38L-6.9 39.7L-6.9 41.4L-6.9 43.1L-6.9 44.9L-6.9 46.6L-6.9 48.3L-6.9 50.1L-6.9 51.8L-6.9 53.5L-6.9 55.2L-6.9 57L-6.9 58.7L-6.9 60.4L-6.9 62.1L-6.9 63.9L-6.9 65.6L-6.9 67.3L-6.9 69L-6.9 70.8L-6.9 72.5L-6.9 74.2L-6.9 75.9L-6.9 77.7L-6.9 79.4L-6.9 80L-5.2 79.8L-3.5 79.7L-1.7 79.5L-0.7 79.4L0 79.3L1.7 79.1L3.5 78.8L5.2 78.5L6.9 78.1L8.7 77.7L8.7 77.7L10.4 77.2L12.1 76.8L13.8 76.3L15.2 75.9L15.6 75.8L17.3 75.3L19 74.8L20.8 74.3L21.3 74.2L22.5 73.8L24.2 73.2L25.8 72.5L26 71.8L26.1 70.8L26 69L26.1 67.3L26.6 65.6L27.7 63.9L27.7 63.9L29.4 63.1L31.2 62.4L31.9 62.1L32.9 61.9L34.6 61.4L36.4 60.9L38.1 60.5L39 60.4L39.8 60.3L41.5 60.2L43.3 60.4L43.5 60.4L45 60.7L46.7 61.3L48.5 62.1L48.5 62.1L50.2 62.7L51.9 63.4L52.9 63.9L53.7 64.3L55.4 65.2L56.1 65.6L57.1 66.3L58.9 67.3L58.9 67.3L60.6 68.3L62.3 68.7L64.1 68.8L65.7 69L65.8 69.1L66.2 70.8L65.8 71.3L64.1 72.4L63.9 72.5L62.3 73L60.6 74L60.4 74.2L58.9 75.9L58.9 76L58.5 77.7L58.4 79.4L58.3 81.1L58.4 82.8L58.6 84.6L58.9 85.5L59.1 86.3L59.6 88L60.4 89.8L60.6 90.1L61.4 91.5L62.3 92.9L62.5 93.2L64 94.9L64.1 95L65.8 96.6L65.9 96.7L67.5 97.7L69.1 98.4ZM225.1 83.6L226.8 83.4L227.4 82.8L228.1 81.1L227 79.4L226.8 79.2L225.4 79.4L225.1 79.5L224.1 81.1L224.4 82.8ZM140.2 81.6L142 82L143.7 82.3L145.4 82.3L147.2 82.1L148.9 81.9L150.6 81.5L151.8 81.1L152.3 81L154.1 80.4L155.8 79.9L157.5 79.4L157.6 79.4L159.3 78.9L161 78.5L162.7 78.1L164.4 77.7L164.5 77.7L166.2 77.2L167.9 76.7L169.7 76.2L170.6 75.9L171.4 75.6L173.1 75L174.8 74.2L174.9 74.2L176.6 72.9L177.1 72.5L178.1 70.8L178.1 69L176.6 67.4L176.5 67.3L174.9 66.7L173.1 66.3L171.4 66L169.7 65.9L167.9 66L166.2 66.3L164.5 66.7L162.7 67.1L161.7 67.3L161 67.5L159.3 68.1L157.5 68.9L157.1 69L155.8 69.7L154.1 70.1L152.3 70.1L150.6 69.8L148.9 69.2L148.6 69L147.2 68.4L145.4 67.6L144.9 67.3L143.7 66.9L142 66.4L140.2 66.3L138.5 66.8L137.7 67.3L136.8 68.4L136.2 69L135.2 70.8L135 71.3L134.6 72.5L134.2 74.2L134.3 75.9L134.9 77.7L135 77.9L136.3 79.4L136.8 79.8L138.5 80.9L139 81.1ZM31.2 76.7L32.9 77.4L34.6 75.9L32.9 74.2L32.9 74.2L31.2 73.8L29.4 74L29.1 74.2L29.4 74.7L29.9 75.9Z"/>
<path fill="#ffe9a7" stroke="#ffe9a7" stroke-width="0.3" fill-rule="evenodd" d="M-5.2 179.5L-3.5 179.5L-1.7 179.5L0 179.5L1.7 179.5L3.5 179.5L5.2 179.5L6.9 179.5L8.7 179.5L10.4 179.5L12.1 179.5L13.8 179.5L15.6 179.5L17.3 179.5L19 179.5L20.8 179.5L22.5 179.5L24.2 179.5L26 179.5L27.7 179.5L29.4 179.5L31.2 179.5L32.9 179.5L34.6 179.5L36.4 179.5L38.1 179.5L39.8 179.5L41.5 179.5L43.3 179.5L45 179.5L46.7 179.5L48.5 179.5L50.2 179.5L51.9 179.5L53.7 179.5L55.4 179.5L57.1 179.5L58.9 179.5L60.6 179.5L62.3 179.5L64.1 179.5L65.8 179.5L67.5 179.5L69.2 179.5L71 179.5L72.7 179.5L74.4 179.5L76.2 179.5L77.9 179.5L79.6 179.5L81.4 179.5L83.1 179.5L84.8 179.5L86.6 179.5L88.3 179.5L90 179.5L91.8 179.5L93.5 179.5L95.2 179.5L97 179.5L98.7 179.5L100.4 179.5L102.1 179.5L103.9 179.5L105.6 179.5L107.3 179.5L109.1 179.5L110.8 179.5L112.5 179.5L114.3 179.5L116 179.5L117.7 179.5L119.5 179.5L121.2 179.5L122.9 179.5L124.6 179.5L126.4 179.5L128.1 179.5L129.8 179.5L131.6 179.5L133.3 179.5L135 179.5L136.8 179.5L138.5 179.5L140.2 179.5L142 179.5L143.7 179.5L145.4 179.5L147.2 179.5L148.9 179.5L150.6 179.5L152.3 179.5L154.1 179.5L155.8 179.5L157.5 179.5L159.3 179.5L161 179.5L162.7 179.5L164.5 179.5L166.2 179.5L167.9 179.5L169.7 179.5L171.4 179.5L173.1 179.5L174.9 179.5L176.6 179.5L178.3 179.5L180 179.5L181.8 179.5L183.5 179.5L185.2 179.5L187 179.5L187.8 179.5L187 179.3L185.2 179L183.5 178.9L181.8 178.9L180 178.9L178.3 178.9L176.6 179L174.9 179L173.1 179.1L171.4 179.1L169.7 179.1L167.9 179L166.2 178.9L164.5 178.8L162.7 178.5L161 178.2L159.3 177.9L158.9 177.8L157.5 177.4L155.8 176.9L154.1 176.2L153.7 176.1L152.3 175.4L150.6 174.5L150.2 174.3L148.9 173.5L147.5 172.6L147.2 172.4L145.4 171.2L145 170.9L143.7 170L142 169.1L142 169.1L140.2 168.5L138.5 168.1L136.8 167.7L135.3 167.4L135 167.4L133.3 167L131.6 166.5L129.8 165.9L129.4 165.7L128.1 165L126.6 164L126.4 163.7L125 162.2L124.7 161.6L124.1 160.5L123.6 158.8L123.7 157.1L124.1 155.3L124.7 154.5L125.2 153.6L126.4 152.4L127 151.9L128.1 151.3L129.8 150.5L131.6 150.2L133.3 150.2L135 150.4L136.8 150.5L138.5 150.5L140.2 150.4L141.1 150.2L142 150L143.7 149.5L145.4 148.8L146.3 148.4L147.2 148.1L148.9 147.4L150.3 146.7L150.6 146.6L152.3 145.9L154.1 145.2L154.6 145L155.8 144.5L157.5 144L159.3 143.4L159.7 143.3L161 142.9L162.7 142.3L164.5 141.6L164.7 141.5L166.2 140.9L167.9 140.1L168.4 139.8L169.7 139.1L171.3 138.1L171.4 138L173.1 136.5L173.3 136.4L174.5 134.6L174.9 133.6L175.1 132.9L175.2 131.2L174.9 130.5L174.5 129.4L173.4 127.7L174.9 126.3L176.6 126.9L178.3 127.7L178.3 127.8L180 128.6L181.8 129.2L182.7 129.4L183.5 129.7L185.2 130L187 130.2L188.7 130.3L190.4 130.3L192.2 130.2L193.9 130L195.6 129.8L197.4 129.4L197.4 129.4L199.1 129.1L200.8 128.8L202.6 128.5L204.3 128.2L206 128L207.8 127.7L207.9 127.7L209.5 127.6L211.2 127.4L212.9 127.3L214.7 127.2L216.4 127.2L218.1 127.3L219.9 127.3L221.6 127.4L223.3 127.6L225.1 127.7L225.1 127.7L226.8 127.9L228.5 128.1L230.3 128.2L232 128.4L233.7 128.5L235.4 128.6L237.2 128.7L238.9 128.9L240.6 129.2L242.1 129.4L242.4 129.5L244.1 129.9L245.8 130.3L247.6 130.9L248.3 131.2L249.3 131.6L251 132.3L252.2 132.9L252.8 133.2L254.5 134.1L255.6 134.6L256.2 135L258 135.8L259.5 136.4L259.7 136.4L261.4 136.7L263.1 136.5L263.7 136.4L264.9 136L266.6 135.1L267.4 134.6L268.3 134.1L270.1 132.9L270.1 132.9L271.8 131.8L272.9 131.2L273.5 130.8L275.3 130.1L277 129.5L277 129.4L278.7 129.3L280.5 129.4L281.6 129.4L282.2 129.5L283.9 129.7L283.9 129.4L283.9 127.7L283.9 126L283.9 124.3L283.9 122.5L283.9 120.8L283.9 119.1L283.9 117.4L283.9 115.6L283.9 114.3L282.2 114.7L280.5 115.1L278.7 115.4L277 115.6L276.8 115.6L275.3 115.7L274.9 115.6L273.5 115.6L271.8 115.5L270.1 115.3L268.3 115.2L266.6 115L264.9 114.9L263.1 114.8L261.4 114.7L259.7 114.7L258 114.7L256.2 114.8L254.5 114.9L252.8 115L251 115.1L249.3 115.3L247.6 115.4L245.8 115.5L244.1 115.6L242.4 115.6L242.4 115.6L240.6 115.7L238.9 115.7L237.2 115.7L236.7 115.6L235.4 115.6L233.7 115.4L232 115.2L230.3 115L228.5 114.7L226.8 114.5L225.1 114.2L223.3 114L222.3 113.9L221.6 113.9L219.9 113.9L219.1 113.9L218.1 114L216.4 114.2L214.7 114.6L212.9 115.1L211.3 115.6L211.2 115.7L209.5 116.2L207.8 116.6L206 116.9L204.3 117.2L203.1 117.4L202.6 117.4L200.8 117.7L199.1 118.1L197.4 118.5L195.6 119L195.2 119.1L193.9 119.4L192.2 119.9L190.4 120.3L188.7 120.7L188.2 120.8L187 121L185.2 121.2L183.5 121.2L181.8 121.1L180.1 120.8L180 120.8L178.3 119.8L176.9 119.1L176.6 118.9L174.9 118.1L173.1 117.7L171.4 117.7L169.7 118.2L168.4 119.1L167.9 119.5L167 120.8L166.4 122.5L166.3 124.3L166.6 126L167.4 127.7L167.9 128.4L168.6 129.4L169.6 131.2L168.8 132.9L167.9 133.6L166.2 134.3L164.6 134.6L164.5 134.7L162.7 134.6L162.6 134.6L161 134.3L159.3 133.6L158.3 132.9L157.5 131.5L157.4 131.2L157.3 129.4L157.2 127.7L157 126L156.6 124.3L155.8 122.6L155.8 122.5L154.7 120.8L154.1 120L153 119.1L152.3 118.5L150.6 117.7L148.9 117.4L148.9 117.4L147.2 116.6L145.4 115.8L145.2 115.6L145.4 114.1L145.5 113.9L147.2 113.6L148.9 113.4L150.6 113.2L152.3 112.8L154.1 112.2L154.1 112.2L155.8 111.8L157.5 111.3L159.3 110.9L160.9 110.5L161 110.4L162.7 110L164.5 109.4L166.2 108.7L166.2 108.7L167.9 108.4L169.7 107.8L171 107L171.4 106.8L173.1 105.3L173.2 105.3L174.6 103.6L174.9 103.1L175.7 101.8L176.6 100.1L176.6 100.1L177.9 98.4L178.3 97.8L179.2 96.7L180 95.4L180.4 94.9L181.5 93.2L181.8 92.6L182.4 91.5L183.2 89.8L183.5 89.1L184 88L184.7 86.3L185.2 84.9L185.4 84.6L186.1 82.8L187 81.3L187.1 81.1L188.1 79.4L188.7 78.6L189.4 77.7L190.4 76.1L190.5 75.9L191.2 74.2L191.4 72.5L191 70.8L190.4 69.4L190.3 69L189 67.3L188.7 66.9L187.6 65.6L187 64.1L186.9 63.9L186.5 62.1L186.5 60.4L186.7 58.7L186.9 57L187 56.8L187.3 55.2L187.7 53.5L188.1 51.8L188.6 50.1L188.7 49.6L189.1 48.3L189.7 46.6L190.3 44.9L190.4 44.5L190.9 43.1L191.5 41.4L192.1 39.7L192.2 39.4L192.6 38L193 36.2L193.5 34.5L193.9 32.8L193.9 32.7L194.4 31.1L195 29.3L195.6 28L195.8 27.6L196.6 25.9L197.4 24.3L197.4 24.2L198.3 22.4L199.1 21L199.2 20.7L200.3 19L200.8 18.4L202.3 17.3L202.6 17L204.3 15.9L204.9 15.5L206 14.8L207.8 14L208.2 13.8L209.5 13.2L211.2 12.7L212.9 12.3L214.7 12.1L216.4 12.1L218.1 12.3L219.9 12.4L221.6 12.3L222.2 12.1L223.3 11.3L224.3 10.4L225.1 9L225.3 8.6L225.7 6.9L225.8 5.2L225.7 3.5L225.6 1.7L225.4 0L225.6 -1.7L225.9 -3.5L226.3 -5.2L226.8 -6.9L226.8 -6.9L226.8 -6.9L225.1 -6.9L223.3 -6.9L221.6 -6.9L219.9 -6.9L218.1 -6.9L216.4 -6.9L214.7 -6.9L212.9 -6.9L211.2 -6.9L209.5 -6.9L207.8 -6.9L206 -6.9L204.3 -6.9L202.6 -6.9L200.8 -6.9L199.1 -6.9L197.4 -6.9L195.6 -6.9L193.9 -6.9L192.2 -6.9L191.5 -6.9L191.8 -5.2L192.1 -3.5L192.2 -3.3L192.7 -1.7L193.6 0L193.9 0.3L195.6 1.6L195.8 1.7L197.4 2.9L198 3.5L199.1 4.6L199.4 5.2L200 6.9L200.1 8.6L199.9 10.4L199.5 12.1L199.1 13.2L198.9 13.8L198 15.5L197.4 16.4L196.5 17.3L195.6 18.1L194.5 19L193.9 19.6L192.6 20.7L192.2 21.2L191 22.4L190.4 23.2L189.6 24.2L188.7 25.6L188.5 25.9L187.6 27.6L187 28.9L186.8 29.3L186 31.1L185.2 32.8L185.2 32.8L183.9 34.5L183.5 35L182.3 36.2L181.8 36.8L180.5 38L180.1 38.5L178.8 39.7L178.3 40.2L177.2 41.4L176.6 42.1L175.9 43.2L174.9 44.8L174.8 44.9L174.2 46.6L173.8 48.3L173.1 50.1L173.1 50.1L172.4 51.8L171.4 53.1L171.1 53.5L169.7 54.9L169.3 55.2L167.9 56.1L166.2 57L166.2 57L164.5 57.9L163.3 58.7L162.7 59.1L161.3 60.4L161 60.6L159.3 62L159.1 62.1L157.5 63.1L155.8 63.9L155.8 63.9L154.1 64.3L152.3 64.4L150.6 64.2L149.3 63.9L148.9 63.8L147.2 63.2L145.4 62.6L143.7 62.2L142.4 62.1L142 62.1L141.9 62.1L140.2 62.4L138.5 62.9L136.8 63.7L136.4 63.9L135 64.8L133.8 65.6L133.3 66L131.6 67.3L131.5 67.3L129.8 68.6L129 69L128.1 69.7L126.4 70.7L126.2 70.8L124.6 71.5L122.9 71.9L121.2 71.8L119.5 71.3L118.5 70.8L117.7 70.3L116.4 69L116 68.7L115 67.3L114.3 66.2L114 65.6L113.2 63.9L112.6 62.1L112.5 61.8L112.2 60.4L112 58.7L111.8 57L111.3 55.2L110.8 54.3L110.2 53.5L109.1 52.3L108.1 51.8L107.3 51.3L105.6 50.8L103.9 50.4L102.4 50.1L102.1 50L100.4 48.5L100.3 48.3L99.5 46.6L98.8 44.9L98.7 44.4L98.2 43.1L97.7 41.4L97.4 39.7L97.6 38L98.1 36.2L98.7 34.6L98.7 34.5L99 32.8L99 31.1L98.7 29.9L98.5 29.3L97.3 27.6L97 27.3L95.2 26L95.1 25.9L93.5 24.3L93.4 24.2L93.5 23.7L93.8 22.4L95 20.7L95.2 20.4L96.6 19L97 18.5L98.3 17.3L98.7 16.8L99.8 15.5L100.4 14.7L101.1 13.8L101.8 12.1L101.8 10.4L101.4 8.6L100.7 6.9L100.4 6.2L99.9 5.2L99 3.5L98.7 2.7L98.2 1.7L97.7 0L97.6 -1.7L97.7 -3.5L98 -5.2L98.5 -6.9L97 -6.9L95.2 -6.9L93.5 -6.9L91.8 -6.9L90 -6.9L88.3 -6.9L86.6 -6.9L84.8 -6.9L84.8 -6.9L84.4 -5.2L84 -3.5L83.5 -1.7L83.1 -0L83.1 0L82.6 1.7L82.2 3.5L81.9 5.2L82.1 6.9L83.1 8.4L83.2 8.6L84.8 10.1L85.1 10.4L86.6 11.9L86.7 12.1L87.7 13.8L88.3 15.4L88.3 15.5L88.3 16.9L88.3 17.3L87.2 19L86.6 20.3L86.3 20.7L85.6 22.4L85.4 24.2L85.6 25.9L86.5 27.6L86.6 27.7L88.3 29.1L88.7 29.3L90 30.1L91.7 31.1L90 31.9L88.3 31.6L86.6 31.2L85.5 31.1L84.8 30.9L83.1 30.8L81.4 30.9L79.6 31.1L79.6 31.1L77.9 31.2L77.2 31.1L76.2 30.9L74.4 30L73.6 29.3L72.7 28.8L71 27.7L70.9 27.6L69.2 26.9L67.5 26.4L65.8 26.1L64.1 25.9L62.3 25.9L62.3 25.9L62.3 25.9L60.6 25.9L58.9 26.1L57.1 26.3L55.4 26.6L53.7 27L51.9 27.5L51.5 27.6L50.2 28.2L48.5 29.3L48.5 29.4L47.6 31.1L47.2 32.8L47.2 34.5L47.6 36.2L48.5 38L48.5 38L50.2 39.4L50.8 39.7L51.9 40.1L53.7 40.5L55.4 40.8L57.1 41.4L57.1 41.4L58.9 42.1L60.6 42.5L62.3 42.6L64.1 42.4L65.8 42L67.3 41.4L67.5 41.3L69.2 40.5L70.8 39.7L71 39.6L72.7 38.8L74.4 38.7L75.3 39.7L76.2 40.9L76.3 41.4L76.7 43.1L77.2 44.9L77.9 46.6L77.9 46.7L78.5 48.3L79.1 50.1L79.5 51.8L79.6 53.5L79.4 55.2L79 57L78.7 58.7L78.3 60.4L77.9 62.1L77.9 62.2L77.6 63.9L77.5 65.6L77.9 67.3L77.9 67.3L79.1 69L79.6 69.4L81.4 70.4L82.4 70.8L83.1 71L84.8 71.4L86.6 71.6L88.3 71.6L90 71.4L91.8 71.1L92.9 70.8L93.5 70.6L95.2 70L96.9 69L97 69L98.7 68L99.5 67.3L100.4 66.5L101.3 65.6L102.1 63.9L102.1 63.8L102.8 62.1L103.1 60.4L103.6 58.7L103.9 58.3L105.1 57L105.6 56.7L107.2 57L107.3 57.1L107.5 58.7L107.3 59.5L106.9 60.4L106.1 62.1L105.6 63.7L105.5 63.9L104.8 65.6L104.7 67.3L105 69L105.4 70.8L105.6 71.7L105.8 72.5L106 74.2L106.1 75.9L106 77.7L105.6 79L105.5 79.4L104.6 81.1L103.9 82.3L103.4 82.8L102.1 84.4L102 84.6L100.4 86.3L100.4 86.3L98.7 87.9L98.6 88L97 89.5L96.6 89.8L95.2 90.9L94.5 91.5L93.5 92.2L92 93.2L91.8 93.4L90 94.4L89.1 94.9L88.3 95.3L86.6 96.1L85.1 96.7L84.8 96.8L83.1 97.4L81.4 97.8L79.6 98.3L79 98.4L77.9 98.6L76.2 98.9L74.4 99L72.7 99L71 98.9L69.2 98.5L69.1 98.4L67.5 97.7L65.9 96.7L65.8 96.6L64.1 95L64 94.9L62.5 93.2L62.3 92.9L61.4 91.5L60.6 90.1L60.4 89.8L59.6 88L59.1 86.3L58.9 85.5L58.6 84.6L58.4 82.8L58.3 81.1L58.4 79.4L58.5 77.7L58.9 76L58.9 75.9L60.4 74.2L60.6 74L62.3 73L63.9 72.5L64.1 72.4L65.8 71.3L66.2 70.8L65.8 69.1L65.7 69L64.1 68.8L62.3 68.7L60.6 68.3L58.9 67.3L58.9 67.3L57.1 66.3L56.1 65.6L55.4 65.2L53.7 64.3L52.9 63.9L51.9 63.4L50.2 62.7L48.5 62.1L48.5 62.1L46.7 61.3L45 60.7L43.5 60.4L43.3 60.4L41.5 60.2L39.8 60.3L39 60.4L38.1 60.5L36.4 60.9L34.6 61.4L32.9 61.9L31.9 62.1L31.2 62.4L29.4 63.1L27.7 63.9L27.7 63.9L26.6 65.6L26.1 67.3L26 69L26.1 70.8L26 71.8L25.8 72.5L24.2 73.2L22.5 73.8L21.3 74.2L20.8 74.3L19 74.8L17.3 75.3L15.6 75.8L15.2 75.9L13.8 76.3L12.1 76.8L10.4 77.2L8.7 77.7L8.7 77.7L6.9 78.1L5.2 78.5L3.5 78.8L1.7 79.1L0 79.3L-0.7 79.4L-1.7 79.5L-3.5 79.7L-5.2 79.8L-6.9 80L-6.9 81.1L-6.9 82.8L-6.9 84.6L-6.9 86.3L-6.9 88L-6.9 89.8L-6.9 91.5L-6.9 93.2L-6.9 94.9L-6.9 96.7L-6.9 98.4L-6.9 100.1L-6.9 101.8L-6.9 103.6L-6.9 105.3L-6.9 106L-5.2 105.4L-4.9 105.3L-3.5 104.9L-1.7 104.5L0 104.3L1.7 104.1L3.5 104L5.2 104.1L6.9 104.2L8.7 104.4L10.4 104.7L12.1 105.1L12.8 105.3L13.8 105.6L15.6 106.2L17.3 107L17.3 107L19 108L20.1 108.7L20.8 109.3L22.2 110.5L22.5 110.8L23.9 112.2L24.2 112.6L25.3 113.9L26 114.9L26.4 115.6L27.4 117.4L27.7 118L28.1 119.1L28.7 120.8L29.2 122.5L29.4 124.3L29.4 126L29.2 127.7L28.9 129.4L28.6 131.2L28.2 132.9L27.8 134.6L27.7 134.9L27.3 136.4L26.7 138.1L26.1 139.8L26 140.1L25.3 141.5L24.2 143.3L24.2 143.3L22.6 145L22.5 145L20.8 146.2L19.8 146.7L19 147L17.3 147.6L15.6 148L13.8 148.3L12.1 148.4L10.4 148.4L8.7 148.3L6.9 148.1L5.2 147.8L3.5 147.5L1.7 147.1L0 146.7L-0 146.7L-1.7 146.4L-3.5 146.1L-5.2 145.7L-6.9 145.2L-6.9 146.7L-6.9 148.4L-6.9 150.2L-6.9 151.9L-6.9 153.6L-6.9 155.3L-6.9 157.1L-6.9 158.8L-6.9 160.5L-6.9 162.2L-6.9 164L-6.9 165.7L-6.9 167.4L-6.9 169.1L-6.9 170.9L-6.9 172.6L-6.9 174.3L-6.9 176.1L-6.9 177.8L-6.9 179.5ZM55.8 141.5L55.4 141.5L53.7 140.9L51.9 139.8L51.9 139.8L50.4 138.1L50.2 137.8L49.4 136.4L48.6 134.6L48.5 134.2L48.1 132.9L47.8 131.2L47.6 129.4L47.6 127.7L47.9 126L48.5 124.8L48.8 124.3L50.2 122.6L50.4 122.5L51.9 121.6L53.7 121.1L55.4 120.8L55.4 120.8L57.1 120.1L58.9 119.5L60.1 119.1L60.6 118.9L62.3 118.5L64.1 118.4L65.8 118.7L66.6 119.1L67.5 119.5L69.2 120.8L69.2 120.8L70.8 122.5L71 122.7L72.1 124.3L72.7 125.2L73.2 126L74 127.7L74.4 128.7L74.7 129.4L75.1 131.2L75.1 132.9L74.7 134.6L74.4 135.1L73.7 136.4L72.7 137.3L71.6 138.1L71 138.4L69.2 139.1L67.5 139.5L65.8 139.8L65.8 139.8L64.1 140.4L62.3 141L60.6 141.4L59.9 141.5L58.9 141.7L57.1 141.7ZM133.9 138.1L133.3 137.8L131.6 137.1L130.1 136.4L129.8 136.2L128.1 134.9L127.7 134.6L126.4 132.9L126.4 132.7L125.9 131.2L126.1 129.4L126.4 128.9L127 127.7L128.1 126.5L128.6 126L129.8 125.2L131.6 124.4L132.4 124.3L133.3 124.1L134.2 124.3L135 124.4L136.8 125.5L137.1 126L138.5 127.7L138.5 127.7L139.1 129.4L140.2 131L140.4 131.2L142 132.3L143.7 132.7L145.3 132.9L145.4 132.9L147.2 134.2L147.9 134.6L148.2 136.4L147.2 137.7L146.8 138.1L145.4 138.7L143.7 139.3L142 139.5L140.2 139.4L138.5 139.2L136.8 138.9L135 138.4ZM117.3 108.7L116 107.5L115.6 107L114.8 105.3L114.6 103.6L114.7 101.8L115.1 100.1L115.8 98.4L116 98L116.8 96.7L117.7 95.4L118.2 94.9L119.5 93.6L120 93.2L121.2 92.3L122.9 91.5L122.9 91.5L124.7 90.9L126.4 90.7L128.1 90.8L129.8 91.1L131.5 91.5L131.6 91.5L133.3 92.2L135 93L135.4 93.2L136.8 94L138.4 94.9L138.5 95L140.2 96.3L140.6 96.7L141.8 98.4L142 98.8L142.3 100.1L142 101.8L142 102L140.9 103.6L140.2 104.1L138.5 105.3L138.5 105.3L136.8 106.1L135 107L135 107L133.3 107.7L131.6 108.5L130.9 108.7L129.8 109.1L128.1 109.6L126.4 110L124.6 110.3L122.9 110.4L121.2 110.2L119.5 109.8L117.7 109ZM161.5 100.1L161 99.8L159.3 98.6L159.1 98.4L158 96.7L157.7 94.9L158.2 93.2L159.3 92.1L159.9 91.5L161 90.9L162.7 90.2L164.5 90.1L166.2 90.4L167.9 91.4L168 91.5L169.1 93.2L169.4 94.9L169.3 96.7L168.6 98.4L167.9 99.3L166.8 100.1L166.2 100.4L164.5 100.7L162.7 100.5ZM139 81.1L138.5 80.9L136.8 79.8L136.3 79.4L135 77.9L134.9 77.7L134.3 75.9L134.2 74.2L134.6 72.5L135 71.3L135.2 70.8L136.2 69L136.8 68.4L137.7 67.3L138.5 66.8L140.2 66.3L142 66.4L143.7 66.9L144.9 67.3L145.4 67.6L147.2 68.4L148.6 69L148.9 69.2L150.6 69.8L152.3 70.1L154.1 70.1L155.8 69.7L157.1 69L157.5 68.9L159.3 68.1L161 67.5L161.7 67.3L162.7 67.1L164.5 66.7L166.2 66.3L167.9 66L169.7 65.9L171.4 66L173.1 66.3L174.9 66.7L176.5 67.3L176.6 67.4L178.1 69L178.1 70.8L177.1 72.5L176.6 72.9L174.9 74.2L174.8 74.2L173.1 75L171.4 75.6L170.6 75.9L169.7 76.2L167.9 76.7L166.2 77.2L164.5 77.7L164.4 77.7L162.7 78.1L161 78.5L159.3 78.9L157.6 79.4L157.5 79.4L155.8 79.9L154.1 80.4L152.3 81L151.8 81.1L150.6 81.5L148.9 81.9L147.2 82.1L145.4 82.3L143.7 82.3L142 82L140.2 81.6ZM29.9 75.9L29.4 74.7L29.1 74.2L29.4 74L31.2 73.8L32.9 74.2L32.9 74.2L34.6 75.9L32.9 77.4L31.2 76.7ZM237.2 179.5L238.9 179.5L240.6 179.5L242.4 179.5L244.1 179.5L245.8 179.5L247.6 179.5L249.3 179.5L251 179.5L252.8 179.5L254.5 179.5L256.2 179.5L258 179.5L259.7 179.5L261.4 179.5L263.1 179.5L264.9 179.5L266.6 179.5L268.3 179.5L270.1 179.5L271.8 179.5L273.5 179.5L275.3 179.5L277 179.5L278.7 179.5L280.5 179.5L281.9 179.5L280.5 179.3L278.7 179.1L277 178.8L275.3 178.5L273.5 178.3L271.8 178L270.2 177.8L270.1 177.8L268.3 177.5L266.6 177.4L264.9 177.3L263.1 177.2L261.4 177.2L259.7 177.2L258 177.2L256.2 177.2L254.5 177.2L252.8 177.2L251 177.2L249.3 177.1L247.6 177.1L245.8 177.1L244.1 177.3L242.4 177.6L241.7 177.8L240.6 178.1L238.9 178.7L237.2 179.4L237 179.5Z"/>
<path fill="#fed679" stroke="#fed679" stroke-width="0.3" fill-rule="evenodd" d="M159.3 177.9L161 178.2L162.7 178.5L164.5 178.8L166.2 178.9L167.9 179L169.7 179.1L171.4 179.1L173.1 179.1L174.9 179L176.6 179L178.3 178.9L180 178.9L181.8 178.9L183.5 178.9L185.2 179L187 179.3L187.8 179.5L188.7 179.5L190.4 179.5L192.2 179.5L193.9 179.5L195.6 179.5L197.4 179.5L199.1 179.5L200.8 179.5L202.6 179.5L204.3 179.5L206 179.5L207.8 179.5L209.5 179.5L211.2 179.5L212.9 179.5L214.7 179.5L216.4 179.5L218.1 179.5L219.9 179.5L221.6 179.5L223.3 179.5L225.1 179.5L226.8 179.5L228.5 179.5L230.3 179.5L232 179.5L233.7 179.5L235.4 179.5L237 179.5L237.2 179.4L238.9 178.7L240.6 178.1L241.7 177.8L242.4 177.6L244.1 177.3L245.8 177.1L247.6 177.1L249.3 177.1L251 177.2L252.8 177.2L254.5 177.2L256.2 177.2L258 177.2L259.7 177.2L261.4 177.2L263.1 177.2L264.9 177.3L266.6 177.4L268.3 177.5L270.1 177.8L270.2 177.8L271.8 178L273.5 178.3L275.3 178.5L277 178.8L278.7 179.1L280.5 179.3L281.9 179.5L282.2 179.5L283.9 179.5L283.9 177.8L283.9 176.1L283.9 174.3L283.9 172.6L283.9 170.9L283.9 169.1L283.9 167.4L283.9 165.7L283.9 164L283.9 162.2L283.9 160.5L283.9 158.8L283.9 157.1L283.9 155.3L283.9 153.6L283.9 151.9L283.9 150.2L283.9 148.4L283.9 146.7L283.9 145L283.9 143.3L283.9 141.5L283.9 139.8L283.9 138.1L283.9 136.4L283.9 134.6L283.9 132.9L283.9 131.2L283.9 129.7L282.2 129.5L281.6 129.4L280.5 129.4L278.7 129.3L277 129.4L277 129.5L275.3 130.1L273.5 130.8L272.9 131.2L271.8 131.8L270.1 132.9L270.1 132.9L268.3 134.1L267.4 134.6L266.6 135.1L264.9 136L263.7 136.4L263.1 136.5L261.4 136.7L259.7 136.4L259.5 136.4L258 135.8L256.2 135L255.6 134.6L254.5 134.1L252.8 133.2L252.2 132.9L251 132.3L249.3 131.6L248.3 131.2L247.6 130.9L245.8 130.3L244.1 129.9L242.4 129.5L242.1 129.4L240.6 129.2L238.9 128.9L237.2 128.7L235.4 128.6L233.7 128.5L232 128.4L230.3 128.2L228.5 128.1L226.8 127.9L225.1 127.7L225.1 127.7L223.3 127.6L221.6 127.4L219.9 127.3L218.1 127.3L216.4 127.2L214.7 127.2L212.9 127.3L211.2 127.4L209.5 127.6L207.9 127.7L207.8 127.7L206 128L204.3 128.2L202.6 128.5L200.8 128.8L199.1 129.1L197.4 129.4L197.4 129.4L195.6 129.8L193.9 130L192.2 130.2L190.4 130.3L188.7 130.3L187 130.2L185.2 130L183.5 129.7L182.7 129.4L181.8 129.2L180 128.6L178.3 127.8L178.3 127.7L176.6 126.9L174.9 126.3L173.4 127.7L174.5 129.4L174.9 130.5L175.2 131.2L175.1 132.9L174.9 133.6L174.5 134.6L173.3 136.4L173.1 136.5L171.4 138L171.3 138.1L169.7 139.1L168.4 139.8L167.9 140.1L166.2 140.9L164.7 141.5L164.5 141.6L162.7 142.3L161 142.9L159.7 143.3L159.3 143.4L157.5 144L155.8 144.5L154.6 145L154.1 145.2L152.4 145.9L150.6 146.6L150.3 146.7L148.9 147.4L147.2 148.1L146.3 148.4L145.4 148.8L143.7 149.5L142 150L141.1 150.2L140.2 150.4L138.5 150.5L136.8 150.5L135 150.4L133.3 150.2L131.6 150.2L129.8 150.5L128.1 151.3L127 151.9L126.4 152.4L125.2 153.6L124.6 154.5L124.1 155.3L123.7 157.1L123.6 158.8L124.1 160.5L124.7 161.6L125 162.2L126.4 163.7L126.6 164L128.1 165L129.4 165.7L129.8 165.9L131.6 166.5L133.3 167L135 167.4L135.3 167.4L136.8 167.7L138.5 168.1L140.2 168.5L142 169.1L142 169.1L143.7 170L145 170.9L145.4 171.2L147.2 172.4L147.5 172.6L148.9 173.5L150.2 174.3L150.6 174.5L152.3 175.4L153.7 176.1L154.1 176.2L155.8 176.9L157.5 177.4L158.9 177.8ZM208.1 176.1L207.8 176L206 175.7L204.3 175.3L202.6 174.9L200.9 174.3L200.8 174.3L199.1 173.7L197.4 172.9L196.8 172.6L195.6 172L193.9 171.1L193.6 170.9L192.2 170.1L190.4 169.2L190.4 169.1L188.7 168.7L187 168.4L185.2 168.1L183.5 168L181.8 167.8L180 167.6L178.3 167.5L177.7 167.4L176.6 167.3L174.9 167.1L173.1 166.8L171.4 166.5L169.7 166.2L167.9 165.8L167.7 165.7L166.2 165.2L164.5 164.6L162.7 164L162.7 164L161 163.3L159.3 162.5L158.9 162.2L157.5 161.4L156.3 160.5L155.8 160L154.8 158.8L154.1 157.1L154.5 155.3L155.8 154.2L156.7 153.6L157.5 153.2L159.3 152.4L160.3 151.9L161 151.6L162.7 150.7L163.6 150.2L164.5 149.7L166.2 148.5L166.3 148.4L167.9 147.3L168.6 146.7L169.7 146L170.8 145L171.4 144.6L173.1 143.3L173.1 143.3L174.9 142.4L176.6 141.7L177 141.5L178.3 141L180.1 140.5L181.8 140.2L183.5 140L185.2 139.9L187 139.9L188.7 139.9L190.4 139.8L190.4 139.8L192.2 139.4L193.9 139L195.6 138.5L197.1 138.1L197.4 138L199.1 137.6L200.8 137.1L202.6 136.7L204.3 136.4L204.5 136.4L206 136.1L207.8 135.9L209.5 135.7L211.2 135.7L212.9 135.7L214.7 135.8L216.4 136.1L217.6 136.4L218.1 136.5L219.9 137L221.6 137.6L222.9 138.1L223.3 138.2L225.1 138.7L226.8 138.9L228.5 139L230.3 138.9L232 138.9L233.7 138.8L235.4 138.9L237.2 139L238.9 139.2L240.6 139.6L241.3 139.8L242.4 140.1L244.1 140.8L245.4 141.5L245.8 141.8L247.6 143L247.9 143.3L249.3 144.4L249.8 145L251 146.2L251.4 146.7L252.8 148.3L252.9 148.4L254.5 150.2L254.5 150.2L256.2 151.2L257.3 151.9L258 152.5L259.2 153.6L259.7 154.3L260.4 155.3L261 157.1L261 158.8L260.6 160.5L259.7 162.2L259.7 162.2L258.6 164L258 164.7L257 165.7L256.2 166.3L254.5 167.3L254.2 167.4L252.8 168L251 168.4L249.3 168.7L247.6 168.8L245.8 168.8L244.1 168.8L242.4 168.9L240.9 169.1L240.6 169.2L238.9 169.8L237.2 170.4L235.7 170.9L235.4 171L233.7 171.6L232 172.3L231 172.6L230.3 172.9L228.5 173.5L226.8 174L225.8 174.3L225.1 174.5L223.3 175L221.6 175.4L219.9 175.7L218.1 176L217.8 176.1L216.4 176.2L214.7 176.3L212.9 176.4L211.2 176.3L209.5 176.2ZM0 146.7L1.7 147.1L3.5 147.5L5.2 147.8L6.9 148.1L8.7 148.3L10.4 148.4L12.1 148.4L13.8 148.3L15.6 148L17.3 147.6L19 147L19.8 146.7L20.8 146.2L22.5 145L22.6 145L24.2 143.3L24.2 143.3L25.3 141.5L26 140.1L26.1 139.8L26.7 138.1L27.3 136.4L27.7 134.9L27.8 134.6L28.2 132.9L28.6 131.2L28.9 129.4L29.2 127.7L29.4 126L29.4 124.3L29.2 122.5L28.7 120.8L28.1 119.1L27.7 118L27.4 117.4L26.4 115.6L26 114.9L25.3 113.9L24.2 112.6L23.9 112.2L22.5 110.8L22.2 110.5L20.8 109.3L20.1 108.7L19 108L17.3 107L17.3 107L15.6 106.2L13.8 105.6L12.8 105.3L12.1 105.1L10.4 104.7L8.7 104.4L6.9 104.2L5.2 104.1L3.5 104L1.7 104.1L0 104.3L-1.7 104.5L-3.5 104.9L-4.9 105.3L-5.2 105.4L-6.9 106L-6.9 107L-6.9 108.7L-6.9 110.5L-6.9 112.2L-6.9 113.9L-6.9 115.6L-6.9 117.4L-6.9 119.1L-6.9 120.8L-6.9 122.5L-6.9 124.3L-6.9 126L-6.9 127.7L-6.9 129.4L-6.9 131.2L-6.9 132.9L-6.9 134.6L-6.9 136.4L-6.9 138.1L-6.9 139.8L-6.9 141.5L-6.9 143.3L-6.9 145L-6.9 145.2L-5.2 145.7L-3.5 146.1L-1.7 146.4L-0 146.7ZM117.7 109L119.5 109.8L121.2 110.2L122.9 110.4L124.6 110.3L126.4 110L128.1 109.6L129.8 109.1L130.9 108.7L131.6 108.5L133.3 107.7L135 107L135 107L136.8 106.1L138.5 105.3L138.5 105.3L140.2 104.1L140.9 103.6L142 102L142 101.8L142.3 100.1L142 98.8L141.8 98.4L140.6 96.7L140.2 96.3L138.5 95L138.4 94.9L136.8 94L135.4 93.2L135 93L133.3 92.2L131.6 91.5L131.5 91.5L129.8 91.1L128.1 90.8L126.4 90.7L124.7 90.9L122.9 91.5L122.9 91.5L121.2 92.3L120 93.2L119.5 93.6L118.2 94.9L117.7 95.4L116.8 96.7L116 98L115.8 98.4L115.1 100.1L114.7 101.8L114.6 103.6L114.8 105.3L115.6 107L116 107.5L117.3 108.7ZM162.7 100.5L164.5 100.7L166.2 100.4L166.8 100.1L167.9 99.3L168.6 98.4L169.3 96.7L169.4 94.9L169.1 93.2L168 91.5L167.9 91.4L166.2 90.4L164.5 90.1L162.7 90.2L161 90.9L159.9 91.5L159.3 92.1L158.2 93.2L157.7 94.9L158 96.7L159.1 98.4L159.3 98.6L161 99.8L161.5 100.1ZM119.5 71.3L121.2 71.8L122.9 71.9L124.6 71.5L126.2 70.8L126.4 70.7L128.1 69.7L129 69L129.8 68.6L131.5 67.3L131.6 67.3L133.3 66L133.8 65.6L135 64.8L136.4 63.9L136.8 63.7L138.5 62.9L140.2 62.4L141.9 62.1L142 62.1L142.4 62.1L143.7 62.2L145.4 62.6L147.2 63.2L148.9 63.8L149.3 63.9L150.6 64.2L152.3 64.4L154.1 64.3L155.8 63.9L155.8 63.9L157.5 63.1L159.1 62.1L159.3 62L161 60.6L161.3 60.4L162.7 59.1L163.3 58.7L164.5 57.9L166.2 57L166.2 57L167.9 56.1L169.3 55.2L169.7 54.9L171.1 53.5L171.4 53.1L172.4 51.8L173.1 50.1L173.1 50.1L173.8 48.3L174.2 46.6L174.8 44.9L174.9 44.8L175.9 43.1L176.6 42.1L177.2 41.4L178.3 40.2L178.8 39.7L180.1 38.5L180.5 38L181.8 36.8L182.3 36.2L183.5 35L183.9 34.5L185.2 32.8L185.2 32.8L186 31.1L186.8 29.3L187 28.9L187.6 27.6L188.5 25.9L188.7 25.6L189.6 24.2L190.4 23.2L191 22.4L192.2 21.2L192.6 20.7L193.9 19.6L194.5 19L195.6 18.1L196.5 17.3L197.4 16.4L198 15.5L198.9 13.8L199.1 13.2L199.5 12.1L199.9 10.4L200.1 8.6L200 6.9L199.4 5.2L199.1 4.6L198 3.5L197.4 2.9L195.8 1.7L195.6 1.6L193.9 0.3L193.6 0L192.7 -1.7L192.2 -3.3L192.1 -3.5L191.8 -5.2L191.5 -6.9L190.4 -6.9L188.7 -6.9L187 -6.9L185.2 -6.9L183.5 -6.9L181.8 -6.9L180 -6.9L178.3 -6.9L176.6 -6.9L175.4 -6.9L176.4 -5.2L176.6 -4.8L177.2 -3.5L178 -1.7L178.3 -0.9L178.6 0L179 1.7L179.1 3.5L179.1 5.2L178.9 6.9L178.4 8.6L178.3 8.9L177.7 10.4L176.6 12.1L176.6 12.1L175.9 13.8L175 15.5L174.9 15.7L173.9 17.3L173.1 18.2L172.5 19L171.4 20.1L170.6 20.7L169.7 21.5L168.3 22.4L167.9 22.7L166.2 23.8L165.4 24.2L164.5 24.7L162.7 25.4L161 25.9L161 25.9L159.3 26.3L157.5 26.5L155.8 26.6L154.1 26.8L152.3 27.4L151.7 27.6L150.6 28.8L149.5 29.3L149.3 31.1L150.6 31.4L152.3 32L153.5 32.8L154.1 33.2L155 34.5L155.8 35.6L156.2 36.2L157.4 38L157.5 38.2L158.7 39.7L159.3 40.3L160.4 41.4L161 41.9L162.4 43.1L162.7 43.5L163.7 44.9L164.5 46.3L164.6 46.6L164.9 48.3L164.8 50.1L164.5 51L164 51.8L162.7 52.7L161.7 53.5L161 53.9L159.5 55.2L159.3 55.4L157.7 57L157.5 57.1L156 58.7L155.8 58.8L154.1 59.8L152.3 60L150.6 59.7L148.9 59.2L147.2 58.8L146.4 58.7L145.4 58.5L143.7 58.4L142 58.5L140.9 58.7L140.2 58.8L138.5 59.3L136.8 60L136 60.4L135 60.9L133.3 61.9L132.8 62.1L131.6 62.7L129.8 63.2L128.1 63.6L126.6 63.9L126.4 63.9L124.6 63.9L124 63.9L122.9 63.7L121.2 63.1L119.5 62.1L119.5 62.1L117.7 60.4L117.7 60.4L116.7 58.7L116.1 57L116 56.1L115.9 55.2L115.6 53.5L115 51.8L114.3 50.2L114.2 50.1L112.9 48.3L112.5 47.9L111.3 46.6L110.8 45.9L109.6 44.9L109.1 44.1L108.1 43.1L107.8 41.4L108.9 39.7L109.1 39.5L110.8 38.5L112.5 38L113 38L114.3 37.9L115 38L116 38.1L117.7 38.4L119.5 38.7L121.2 39L122.9 38.8L124.6 38.2L125.3 38L126.4 37.4L128.1 36.7L129.4 36.2L129.8 36.1L131.6 35.5L133.3 35.2L135 35.1L136.8 35L138.5 34.9L140.2 34.7L141 34.5L142 34.2L143.7 33.5L145.2 32.8L145.4 32.6L147.2 31.1L147.2 31.1L147.2 31.1L145.4 29.4L145.3 29.3L143.7 28.9L142 28.6L140.2 28.4L138.5 27.9L138 27.6L136.8 27.2L135 26.2L134.7 25.9L133.3 24.9L132.6 24.2L131.6 23L131.1 22.4L130 20.7L129.8 20.5L129.1 19L128.3 17.3L128.1 16.6L127.7 15.5L127.2 13.8L126.7 12.1L126.4 11.3L126 10.4L125.2 8.6L124.7 7.3L124.5 6.9L123.8 5.2L123.3 3.5L122.9 2L122.9 1.7L122.6 0L122.5 -1.7L122.5 -3.5L122.8 -5.2L122.9 -5.7L123.2 -6.9L122.9 -6.9L121.2 -6.9L119.5 -6.9L117.7 -6.9L116 -6.9L114.3 -6.9L112.5 -6.9L110.8 -6.9L109.1 -6.9L107.3 -6.9L105.6 -6.9L103.9 -6.9L102.1 -6.9L100.4 -6.9L98.7 -6.9L98.5 -6.9L98 -5.2L97.7 -3.5L97.6 -1.7L97.7 0L98.2 1.7L98.7 2.7L99 3.5L99.9 5.2L100.4 6.2L100.7 6.9L101.4 8.6L101.8 10.4L101.8 12.1L101.1 13.8L100.4 14.7L99.8 15.5L98.7 16.8L98.3 17.3L97 18.5L96.6 19L95.2 20.4L95 20.7L93.8 22.4L93.5 23.7L93.4 24.2L93.5 24.3L95.1 25.9L95.2 26L97 27.3L97.3 27.6L98.5 29.3L98.7 29.9L99 31.1L99 32.8L98.7 34.5L98.7 34.6L98.1 36.2L97.6 38L97.4 39.7L97.7 41.4L98.2 43.1L98.7 44.4L98.8 44.9L99.5 46.6L100.3 48.3L100.4 48.5L102.1 50L102.4 50.1L103.9 50.4L105.6 50.8L107.3 51.3L108.1 51.8L109.1 52.3L110.2 53.5L110.8 54.3L111.3 55.2L111.8 57L112 58.7L112.2 60.4L112.5 61.8L112.6 62.1L113.2 63.9L114 65.6L114.3 66.2L115 67.3L116 68.7L116.4 69L117.7 70.3L118.5 70.8Z"/>
<path fill="#fcbb44" stroke="#fcbb44" stroke-width="0.3" fill-rule="evenodd" d="M209.5 176.2L211.2 176.3L212.9 176.4L214.7 176.3L216.4 176.2L217.8 176.1L218.1 176L219.9 175.7L221.6 175.4L223.3 175L225.1 174.5L225.8 174.3L226.8 174L228.5 173.5L230.3 172.9L231 172.6L232 172.3L233.7 171.6L235.4 171L235.7 170.9L237.2 170.4L238.9 169.8L240.6 169.2L240.9 169.1L242.4 168.9L244.1 168.8L245.8 168.8L247.6 168.8L249.3 168.7L251 168.4L252.8 168L254.2 167.4L254.5 167.3L256.2 166.3L257 165.7L258 164.7L258.6 164L259.7 162.2L259.7 162.2L260.6 160.5L261 158.8L261 157.1L260.4 155.3L259.7 154.3L259.2 153.6L258 152.5L257.3 151.9L256.2 151.2L254.5 150.2L254.5 150.2L252.9 148.4L252.8 148.3L251.4 146.7L251 146.2L249.8 145L249.3 144.4L247.9 143.3L247.6 143L245.8 141.8L245.4 141.5L244.1 140.8L242.4 140.1L241.3 139.8L240.6 139.6L238.9 139.2L237.2 139L235.4 138.9L233.7 138.8L232 138.9L230.3 138.9L228.5 139L226.8 138.9L225.1 138.7L223.3 138.2L222.9 138.1L221.6 137.6L219.9 137L218.1 136.5L217.6 136.4L216.4 136.1L214.7 135.8L212.9 135.7L211.2 135.7L209.5 135.7L207.8 135.9L206 136.1L204.5 136.4L204.3 136.4L202.6 136.7L200.8 137.1L199.1 137.6L197.4 138L197.1 138.1L195.6 138.5L193.9 139L192.2 139.4L190.4 139.8L190.4 139.8L188.7 139.9L187 139.9L185.2 139.9L183.5 140L181.8 140.2L180 140.5L178.3 141L177 141.5L176.6 141.7L174.9 142.4L173.1 143.3L173.1 143.3L171.4 144.6L170.8 145L169.7 146L168.6 146.7L167.9 147.3L166.3 148.4L166.2 148.5L164.5 149.7L163.6 150.2L162.7 150.7L161 151.6L160.3 151.9L159.3 152.4L157.5 153.2L156.7 153.6L155.8 154.2L154.5 155.3L154.1 157.1L154.8 158.8L155.8 160L156.3 160.5L157.5 161.4L158.9 162.2L159.3 162.5L161 163.3L162.7 164L162.7 164L164.5 164.6L166.2 165.2L167.7 165.7L167.9 165.8L169.7 166.2L171.4 166.5L173.1 166.8L174.9 167.1L176.6 167.3L177.7 167.4L178.3 167.5L180 167.6L181.8 167.8L183.5 168L185.2 168.1L187 168.4L188.7 168.7L190.4 169.1L190.4 169.2L192.2 170.1L193.6 170.9L193.9 171.1L195.6 172L196.8 172.6L197.4 172.9L199.1 173.7L200.8 174.3L200.9 174.3L202.6 174.9L204.3 175.3L206 175.7L207.8 176L208.1 176.1ZM200 165.7L199.1 165.5L197.4 165L195.6 164.6L193.9 164L193.9 164L192.2 162.8L191.3 162.2L190.4 161.5L189 160.5L188.7 160.2L187 158.9L186.8 158.8L185.2 157.3L185 157.1L183.8 155.3L183.6 153.6L184.9 151.9L185.2 151.7L187 150.7L188.1 150.2L188.7 149.9L190.4 149.3L192.2 148.6L192.6 148.4L193.9 148L195.6 147.4L197.4 146.7L197.4 146.7L199.1 146.2L200.8 145.7L202.6 145.3L203.7 145L204.3 144.9L206 144.5L207.8 144.2L209.5 143.9L211.2 143.8L212.9 143.7L214.7 143.7L216.4 143.9L218.1 144.3L219.9 144.9L220.1 145L221.6 145.6L223.3 146.2L225.1 146.6L225.6 146.7L226.8 147L228.5 147.2L230.3 147.3L232 147.3L233.7 147.3L235.4 147.4L237.2 147.5L238.9 147.7L240.6 148L242.4 148.4L242.4 148.4L244.1 149.2L245.8 150L246 150.2L247.6 151.1L249 151.9L249.3 152.1L251 153.1L251.8 153.6L252.8 154.6L253.2 155.3L253.4 157.1L252.8 158.8L252.8 158.9L251.4 160.5L251 160.8L249.3 161.9L248.6 162.2L247.6 162.6L245.8 163.2L244.1 163.6L242.4 164L241.5 164L240.6 164L240.5 164L238.9 163.9L237.2 163.9L235.8 164L235.4 164L233.7 164.1L232 164.3L230.3 164.5L228.5 164.7L226.8 165L225.1 165.4L223.5 165.7L223.3 165.7L221.6 166L219.9 166.3L218.1 166.6L216.4 166.8L214.7 166.9L212.9 167L211.2 167L209.5 167L207.8 166.9L206 166.7L204.3 166.5L202.6 166.2L200.8 165.9ZM124.6 63.9L126.4 63.9L126.6 63.9L128.1 63.6L129.8 63.2L131.6 62.7L132.8 62.1L133.3 61.9L135 60.9L136 60.4L136.8 60L138.5 59.3L140.2 58.8L140.9 58.7L142 58.5L143.7 58.4L145.4 58.5L146.4 58.7L147.2 58.8L148.9 59.2L150.6 59.7L152.3 60L154.1 59.8L155.8 58.8L156 58.7L157.5 57.1L157.7 57L159.3 55.4L159.5 55.2L161 53.9L161.7 53.5L162.7 52.7L164 51.8L164.5 51L164.8 50.1L164.9 48.3L164.6 46.6L164.5 46.3L163.7 44.9L162.7 43.5L162.4 43.1L161 41.9L160.4 41.4L159.3 40.3L158.7 39.7L157.5 38.2L157.4 38L156.2 36.2L155.8 35.6L155 34.5L154.1 33.2L153.5 32.8L152.3 32L150.6 31.4L149.3 31.1L149.5 29.3L150.6 28.8L151.7 27.6L152.3 27.4L154.1 26.8L155.8 26.6L157.5 26.5L159.3 26.3L161 25.9L161 25.9L162.7 25.4L164.5 24.7L165.4 24.2L166.2 23.8L167.9 22.7L168.3 22.4L169.7 21.5L170.6 20.7L171.4 20.1L172.5 19L173.1 18.2L173.9 17.3L174.9 15.7L175 15.5L175.9 13.8L176.6 12.1L176.6 12.1L177.7 10.4L178.3 8.9L178.4 8.6L178.9 6.9L179.1 5.2L179.1 3.5L179 1.7L178.6 0L178.3 -0.9L178 -1.7L177.2 -3.5L176.6 -4.8L176.4 -5.2L175.4 -6.9L174.9 -6.9L173.1 -6.9L171.4 -6.9L169.7 -6.9L167.9 -6.9L166.2 -6.9L164.5 -6.9L162.7 -6.9L161 -6.9L159.3 -6.9L157.5 -6.9L155.8 -6.9L154.1 -6.9L152.3 -6.9L150.6 -6.9L148.9 -6.9L147.2 -6.9L145.4 -6.9L143.7 -6.9L142 -6.9L140.2 -6.9L138.5 -6.9L136.8 -6.9L135 -6.9L133.3 -6.9L131.6 -6.9L129.8 -6.9L128.1 -6.9L126.4 -6.9L124.6 -6.9L123.2 -6.9L122.9 -5.7L122.8 -5.2L122.5 -3.5L122.5 -1.7L122.6 0L122.9 1.7L122.9 2L123.3 3.5L123.8 5.2L124.5 6.9L124.7 7.3L125.2 8.6L126 10.4L126.4 11.3L126.7 12.1L127.2 13.8L127.7 15.5L128.1 16.6L128.3 17.3L129.1 19L129.8 20.5L130 20.7L131.1 22.4L131.6 23L132.6 24.2L133.3 24.9L134.7 25.9L135 26.2L136.8 27.2L138 27.6L138.5 27.9L140.2 28.4L142 28.6L143.7 28.9L145.3 29.3L145.4 29.4L147.2 31.1L147.2 31.1L147.2 31.1L145.4 32.6L145.2 32.8L143.7 33.5L142 34.2L141 34.5L140.2 34.7L138.5 34.9L136.8 35L135 35.1L133.3 35.2L131.6 35.5L129.8 36.1L129.4 36.2L128.1 36.7L126.4 37.4L125.3 38L124.6 38.2L122.9 38.8L121.2 39L119.5 38.7L117.7 38.4L116 38.1L115 38L114.3 37.9L113 38L112.5 38L110.8 38.5L109.1 39.5L108.9 39.7L107.8 41.4L108.1 43.1L109.1 44.1L109.6 44.9L110.8 45.9L111.3 46.6L112.5 47.9L112.9 48.3L114.2 50.1L114.3 50.2L115 51.8L115.6 53.5L115.9 55.2L116 56.1L116.1 57L116.7 58.7L117.7 60.4L117.7 60.4L119.5 62.1L119.5 62.1L121.2 63.1L122.9 63.7L124 63.9ZM128.4 55.2L128.1 54.7L127.6 53.5L127.8 51.8L128.1 51.1L128.7 50.1L129.8 48.9L130.7 48.3L131.6 48L133.3 47.7L135 48L135.8 48.3L136.8 48.8L138.5 49.6L140.2 50L140.6 50.1L142 50.8L143 51.8L142 52.1L140.2 52.5L138.7 53.5L138.5 53.6L136.8 54.4L135.4 55.2L135 55.4L133.3 56L131.6 56.3L129.8 56ZM148.1 12.1L147.2 11.3L146.5 10.4L146.8 8.6L147.2 8.2L148.9 7.4L150.6 7.4L152.4 7.5L154.1 8.5L154.2 8.6L154.4 10.4L154.1 10.7L152.7 12.1L152.3 12.2L150.6 12.5L148.9 12.4Z"/>
<path fill="#fba61f" stroke="#fba61f" stroke-width="0.3" fill-rule="evenodd" d="M200.8 165.9L202.6 166.2L204.3 166.5L206 166.7L207.8 166.9L209.5 167L211.2 167L212.9 167L214.7 166.9L216.4 166.8L218.1 166.6L219.9 166.3L221.6 166L223.3 165.7L223.5 165.7L225.1 165.4L226.8 165L228.5 164.7L230.3 164.5L232 164.3L233.7 164.1L235.4 164L235.8 164L237.2 163.9L238.9 163.9L240.5 164L240.6 164L241.5 164L242.4 164L244.1 163.6L245.8 163.2L247.6 162.6L248.6 162.2L249.3 161.9L251 160.8L251.4 160.5L252.8 158.9L252.8 158.8L253.4 157.1L253.2 155.3L252.8 154.6L251.8 153.6L251 153.1L249.3 152.1L249 151.9L247.6 151.1L246 150.2L245.8 150L244.1 149.2L242.4 148.4L242.4 148.4L240.6 148L238.9 147.7L237.2 147.5L235.4 147.4L233.7 147.3L232 147.3L230.3 147.3L228.5 147.2L226.8 147L225.6 146.7L225.1 146.6L223.3 146.2L221.6 145.6L220.1 145L219.9 144.9L218.1 144.3L216.4 143.9L214.7 143.7L212.9 143.7L211.2 143.8L209.5 143.9L207.8 144.2L206 144.5L204.3 144.9L203.7 145L202.6 145.3L200.8 145.7L199.1 146.2L197.4 146.7L197.4 146.7L195.6 147.4L193.9 148L192.6 148.4L192.2 148.6L190.4 149.3L188.7 149.9L188.1 150.2L187 150.7L185.2 151.7L184.9 151.9L183.6 153.6L183.8 155.3L185 157.1L185.2 157.3L186.8 158.8L187 158.9L188.7 160.2L189 160.5L190.4 161.5L191.3 162.2L192.2 162.8L193.9 164L193.9 164L195.6 164.6L197.4 165L199.1 165.5L200 165.7ZM129.8 56L131.6 56.3L133.3 56L135 55.4L135.4 55.2L136.8 54.4L138.5 53.6L138.7 53.5L140.2 52.5L142 52.1L143 51.8L142 50.8L140.6 50.1L140.2 50L138.5 49.6L136.8 48.8L135.8 48.3L135 48L133.3 47.7L131.6 48L130.7 48.3L129.8 48.9L128.7 50.1L128.1 51.1L127.8 51.8L127.6 53.5L128.1 54.7L128.4 55.2ZM148.9 12.4L150.6 12.5L152.3 12.2L152.7 12.1L154.1 10.7L154.4 10.4L154.2 8.6L154.1 8.5L152.3 7.5L150.6 7.4L148.9 7.4L147.2 8.2L146.8 8.6L146.5 10.4L147.2 11.3L148.1 12.1Z"/>

<path fill="#bebebe" d="M107.3 120.8H109.1V122.5H107.3ZM97.0 117.4H98.7V119.1H97.0ZM107.3 117.4H109.1V119.1H107.3ZM100.4 115.6H112.5V117.4H100.4ZM114.3 115.6H116.0V117.4H114.3ZM65.8 113.9H67.5V115.6H65.8ZM98.7 113.9H114.3V115.6H98.7ZM64.1 112.2H65.8V113.9H64.1ZM71.0 112.2H72.7V113.9H71.0ZM98.7 112.2H116.0V113.9H98.7ZM55.4 110.5H77.9V112.2H55.4ZM91.8 110.5H93.5V112.2H91.8ZM97.0 110.5H112.5V112.2H97.0ZM50.2 108.7H81.4V110.5H50.2ZM83.1 108.7H86.6V110.5H83.1ZM90.0 108.7H91.8V110.5H90.0ZM93.5 108.7H114.3V110.5H93.5ZM39.8 107.0H45.0V108.7H39.8ZM46.7 107.0H88.3V108.7H46.7ZM93.5 107.0H95.2V108.7H93.5ZM97.0 107.0H114.3V108.7H97.0ZM36.4 105.3H38.1V107.0H36.4ZM39.8 105.3H41.5V107.0H39.8ZM43.3 105.3H76.2V107.0H43.3ZM77.9 105.3H112.5V107.0H77.9ZM36.4 103.6H41.5V105.3H36.4ZM43.3 103.6H112.5V105.3H43.3ZM31.2 101.8H32.9V103.6H31.2ZM34.6 101.8H112.5V103.6H34.6ZM31.2 100.1H110.8V101.8H31.2ZM27.7 98.4H114.3V100.1H27.7ZM24.2 96.7H112.5V98.4H24.2ZM26.0 94.9H112.5V96.7H26.0ZM19.0 93.2H114.3V94.9H19.0ZM17.3 91.5H116.0V93.2H17.3ZM15.6 89.8H17.3V91.5H15.6ZM20.8 89.8H116.0V91.5H20.8ZM20.8 88.0H116.0V89.8H20.8ZM13.8 86.3H15.6V88.0H13.8ZM17.3 86.3H117.7V88.0H17.3ZM121.2 86.3H124.6V88.0H121.2ZM-1.7 84.6H0.0V86.3H-1.7ZM5.2 84.6H119.5V86.3H5.2ZM-1.7 82.8H0.0V84.6H-1.7ZM1.7 82.8H117.7V84.6H1.7ZM119.5 82.8H121.2V84.6H119.5ZM0.0 81.1H121.2V82.8H0.0ZM122.9 81.1H126.4V82.8H122.9ZM-1.7 79.4H41.5V81.1H-1.7ZM46.7 79.4H48.5V81.1H46.7ZM50.2 79.4H122.9V81.1H50.2ZM126.4 79.4H128.1V81.1H126.4ZM0.0 77.7H26.0V79.4H0.0ZM27.7 77.7H34.6V79.4H27.7ZM38.1 77.7H43.3V79.4H38.1ZM45.0 77.7H48.5V79.4H45.0ZM50.2 77.7H121.2V79.4H50.2ZM0.0 75.9H27.7V77.7H0.0ZM46.7 75.9H48.5V77.7H46.7ZM50.2 75.9H51.9V77.7H50.2ZM60.6 75.9H121.2V77.7H60.6ZM-1.7 74.2H26.0V75.9H-1.7ZM65.8 74.2H116.0V75.9H65.8ZM117.7 74.2H119.5V75.9H117.7ZM0.0 72.5H20.8V74.2H0.0ZM67.5 72.5H117.7V74.2H67.5ZM-1.7 70.8H13.8V72.5H-1.7ZM72.7 70.8H76.2V72.5H72.7ZM77.9 70.8H88.3V72.5H77.9ZM90.0 70.8H103.9V72.5H90.0ZM105.6 70.8H109.1V72.5H105.6ZM110.8 70.8H112.5V72.5H110.8ZM-1.7 69.0H8.7V70.8H-1.7ZM10.4 69.0H12.1V70.8H10.4ZM71.0 69.0H72.7V70.8H71.0ZM81.4 69.0H83.1V70.8H81.4ZM84.8 69.0H86.6V70.8H84.8ZM90.0 69.0H95.2V70.8H90.0ZM102.1 69.0H103.9V70.8H102.1ZM-1.7 67.3H5.2V69.0H-1.7ZM6.9 67.3H12.1V69.0H6.9ZM17.3 67.3H19.0V69.0H17.3ZM79.6 67.3H81.4V69.0H79.6ZM95.2 67.3H97.0V69.0H95.2ZM100.4 67.3H102.1V69.0H100.4ZM-1.7 65.6H17.3V67.3H-1.7ZM20.8 65.6H27.7V67.3H20.8ZM31.2 65.6H32.9V67.3H31.2ZM-1.7 63.9H12.1V65.6H-1.7ZM13.8 63.9H32.9V65.6H13.8ZM34.6 63.9H38.1V65.6H34.6ZM41.5 63.9H43.3V65.6H41.5ZM64.1 63.9H65.8V65.6H64.1ZM3.5 62.1H8.7V63.9H3.5ZM10.4 62.1H12.1V63.9H10.4ZM17.3 62.1H46.7V63.9H17.3ZM50.2 62.1H53.7V63.9H50.2ZM8.7 60.4H10.4V62.1H8.7ZM22.5 60.4H43.3V62.1H22.5ZM45.0 60.4H57.1V62.1H45.0ZM65.8 60.4H69.2V62.1H65.8ZM77.9 60.4H81.4V62.1H77.9ZM8.7 58.7H10.4V60.4H8.7ZM13.8 58.7H15.6V60.4H13.8ZM19.0 58.7H20.8V60.4H19.0ZM22.5 58.7H24.2V60.4H22.5ZM26.0 58.7H31.2V60.4H26.0ZM34.6 58.7H51.9V60.4H34.6ZM53.7 58.7H57.1V60.4H53.7ZM64.1 58.7H65.8V60.4H64.1ZM67.5 58.7H69.2V60.4H67.5ZM79.6 58.7H81.4V60.4H79.6ZM32.9 57.0H48.5V58.7H32.9ZM77.9 57.0H79.6V58.7H77.9ZM34.6 55.2H41.5V57.0H34.6ZM45.0 55.2H46.7V57.0H45.0ZM32.9 53.5H34.6V55.2H32.9ZM38.1 53.5H45.0V55.2H38.1ZM32.9 51.8H34.6V53.5H32.9ZM77.9 50.1H81.4V51.8H77.9ZM88.3 50.1H90.0V51.8H88.3ZM97.0 50.1H98.7V51.8H97.0ZM100.4 50.1H102.1V51.8H100.4ZM77.9 48.3H81.4V50.1H77.9ZM83.1 48.3H84.8V50.1H83.1ZM90.0 48.3H95.2V50.1H90.0ZM97.0 48.3H100.4V50.1H97.0ZM103.9 48.3H107.3V50.1H103.9ZM72.7 46.6H76.2V48.3H72.7ZM79.6 46.6H81.4V48.3H79.6ZM88.3 46.6H103.9V48.3H88.3ZM107.3 46.6H109.1V48.3H107.3ZM71.0 44.9H72.7V46.6H71.0ZM74.4 44.9H77.9V46.6H74.4ZM90.0 44.9H112.5V46.6H90.0ZM71.0 43.1H72.7V44.9H71.0ZM74.4 43.1H79.6V44.9H74.4ZM84.8 43.1H112.5V44.9H84.8ZM65.8 41.4H76.2V43.1H65.8ZM90.0 41.4H112.5V43.1H90.0ZM60.6 39.7H62.3V41.4H60.6ZM67.5 39.7H72.7V41.4H67.5ZM74.4 39.7H77.9V41.4H74.4ZM86.6 39.7H88.3V41.4H86.6ZM90.0 39.7H112.5V41.4H90.0ZM64.1 38.0H72.7V39.7H64.1ZM88.3 38.0H107.3V39.7H88.3ZM53.7 36.2H74.4V38.0H53.7ZM88.3 36.2H90.0V38.0H88.3ZM91.8 36.2H103.9V38.0H91.8ZM107.3 36.2H109.1V38.0H107.3ZM53.7 34.5H74.4V36.2H53.7ZM76.2 34.5H77.9V36.2H76.2ZM93.5 34.5H105.6V36.2H93.5ZM53.7 32.8H55.4V34.5H53.7ZM57.1 32.8H71.0V34.5H57.1ZM95.2 32.8H97.0V34.5H95.2ZM98.7 32.8H102.1V34.5H98.7ZM103.9 32.8H105.6V34.5H103.9ZM60.6 31.1H74.4V32.8H60.6ZM102.1 31.1H103.9V32.8H102.1ZM58.9 29.3H60.6V31.1H58.9ZM62.3 29.3H65.8V31.1H62.3ZM67.5 29.3H69.2V31.1H67.5ZM95.2 29.3H97.0V31.1H95.2ZM100.4 29.3H103.9V31.1H100.4ZM65.8 27.6H67.5V29.3H65.8ZM71.0 27.6H72.7V29.3H71.0ZM98.7 27.6H100.4V29.3H98.7ZM102.1 27.6H103.9V29.3H102.1ZM105.6 27.6H107.3V29.3H105.6ZM100.4 25.9H102.1V27.6H100.4ZM102.1 24.2H105.6V25.9H102.1ZM103.9 22.4H105.6V24.2H103.9ZM100.4 20.7H102.1V22.4H100.4Z"/>
<path fill="url(#dotsd)" d="M0.0 108.0 L24.2 101.8 L48.5 106.0 L64.7 120.1 L71.0 132.6 L101.1 134.6 L133.7 136.4 L170.4 134.6 L178.3 136.4 L190.4 128.4 L211.2 126.3 L242.4 128.4 L278.7 132.6 L278.7 174.3 L-1.7 174.3 Z"/>
<path fill="url(#dotsd)" d="M88.3 -1.7 L91.8 17.3 L93.5 34.5 L97.0 44.9 L103.9 53.5 L121.2 58.7 L138.5 60.4 L166.2 60.4 L183.5 55.2 L190.4 44.9 L193.9 27.6 L197.4 13.8 L199.1 -1.7 Z"/>
<path fill="url(#dotsd)" d="M-1.7 -1.7 L8.7 -1.7 L8.7 12.1 L-1.7 12.1 Z"/>
<path fill="url(#dotsd)" d="M178.3 81.8 L190.4 81.8 L190.4 91.8 L178.3 91.8 Z"/>
<path fill="none" stroke="#000" stroke-width="0.6" stroke-linejoin="round" d="M-1.4 126.3 L1.7 127.7 L8.3 130.1 L9.3 135.3 L10.4 140.8 L12.5 143.6 L14.2 150.2 L16.6 155.3 L18.4 162.2 L20.8 169.1 L21.8 174.3"/>
<path fill="none" stroke="#000" stroke-width="0.6" stroke-linejoin="round" d="M33.9 174.3 L34.3 167.4 L35.3 161.6 L35.0 154.0 L38.8 150.9 L42.6 148.8 L46.7 145.0 L51.9 140.8 L57.1 137.7 L58.9 133.6 L63.0 132.2 L65.8 131.5 L69.9 131.2 L73.1 129.1 L75.5 130.8 L77.2 133.2 L78.6 136.7 L81.7 139.5 L83.4 142.9 L84.8 147.7 L84.5 151.9 L87.6 152.6 L91.1 149.8 L93.8 149.8 L95.9 153.6 L97.6 160.2 L99.0 165.7 L99.4 170.5 L100.1 174.3"/>
<path fill="none" stroke="#000" stroke-width="0.6" stroke-linejoin="round" d="M101.1 174.3 L101.5 170.9 L102.5 166.4 L103.5 162.6 L104.6 160.5 L107.0 160.9 L107.0 163.3 L109.8 163.6 L112.2 165.4 L113.9 167.4 L115.3 170.2 L118.4 170.9 L120.5 172.9 L120.5 174.3"/>
<path fill="none" stroke="#000" stroke-width="0.6" stroke-linejoin="round" d="M123.3 174.3 L126.4 172.3 L128.1 170.9 L131.2 169.8 L134.7 168.1 L135.7 165.7 L136.4 162.6 L135.7 159.5 L134.3 154.6 L132.3 151.5 L128.8 148.8 L126.7 146.4 L124.3 143.3 L123.6 140.8 L124.6 138.4 L127.1 136.0 L129.5 133.9 L131.9 132.9 L134.0 132.2 L136.1 133.2 L137.8 134.6 L139.5 136.7 L140.2 133.9 L143.0 132.9 L146.1 131.9 L149.9 130.5 L151.0 128.8 L153.4 129.8 L156.9 128.4 L160.7 128.1 L164.1 125.7 L166.5 122.9 L169.0 121.2 L171.4 118.7 L171.7 115.6 L173.8 113.2 L175.9 110.5 L178.3 108.4 L179.7 105.6 L179.7 103.2 L177.3 101.8 L179.7 100.1 L178.0 97.3 L176.2 94.9 L175.2 92.2 L173.8 88.7 L170.7 87.0 L171.7 84.6 L174.2 82.8 L176.2 81.1 L181.8 79.4 L181.4 78.0 L176.9 77.0 L174.2 77.3 L170.4 78.7 L169.3 77.0 L167.2 75.6 L165.2 73.9 L165.9 71.8 L169.3 72.1 L171.4 69.7 L174.9 68.0 L177.3 65.9 L180.7 67.3 L178.3 69.7 L177.3 72.5 L179.0 72.8 L181.4 71.1 L185.2 69.7 L188.4 69.0 L189.7 70.4 L191.5 71.1 L191.5 73.5 L189.7 75.6 L191.8 77.0 L195.6 77.3 L196.3 79.4 L194.9 81.1 L196.0 84.2 L194.9 87.0 L196.0 88.4 L199.1 87.3 L202.6 86.6 L205.3 84.9 L206.0 82.2 L205.7 79.4 L203.6 76.6 L201.9 74.2 L199.4 71.5 L199.4 69.7 L202.6 68.0 L206.7 66.3 L207.1 63.9 L209.8 60.8 L213.3 58.7 L215.7 57.6 L218.5 59.4 L223.3 57.6 L226.8 55.2 L231.3 51.8 L235.1 47.3 L237.5 43.8 L240.6 40.4 L243.4 37.3 L244.1 34.5 L244.5 31.1 L246.5 27.6 L246.5 24.2 L244.5 22.4 L241.0 20.4 L236.1 20.7 L232.7 21.4 L231.3 18.6 L227.1 18.3 L230.6 15.9 L235.4 12.8 L240.6 9.3 L245.8 5.5 L251.0 2.8 L258.0 2.1 L264.9 2.4 L271.8 2.4 L275.3 1.0 L278.7 1.4"/>
<path fill="none" stroke="#000" stroke-width="0.6" stroke-linejoin="round" d="M133.7 140.8 L135.7 138.1 L139.9 137.7 L142.0 139.5 L140.2 142.9 L136.8 144.3 L134.0 143.3 L133.7 140.8"/>
<path fill="none" stroke="#000" stroke-width="0.6" stroke-linejoin="round" d="M173.5 127.7 L175.5 131.2 L176.6 129.4 L178.3 126.0 L179.7 121.5 L178.3 119.8 L176.6 120.8 L173.8 125.0 L173.5 127.7"/>
<path fill="none" stroke="#000" stroke-width="0.6" stroke-linejoin="round" d="M206.4 92.2 L208.4 91.1 L210.9 90.1 L213.3 92.2 L212.9 94.9 L211.6 98.7 L209.8 99.8 L208.4 99.1 L208.4 96.0 L207.1 94.6 L206.4 92.2"/>
<path fill="none" stroke="#000" stroke-width="0.6" stroke-linejoin="round" d="M216.4 90.1 L219.9 88.7 L223.7 89.1 L223.7 90.8 L222.3 92.2 L218.8 93.9 L216.8 92.9 L216.4 90.1"/>
<path fill="none" stroke="#000" stroke-width="0.6" stroke-linejoin="round" d="M210.9 89.8 L212.6 88.4 L216.4 85.6 L219.9 84.6 L225.1 84.2 L227.8 84.2 L228.5 82.8 L230.9 79.7 L233.0 80.1 L235.4 79.4 L237.2 77.7 L240.3 75.6 L242.0 72.5 L242.4 69.0 L242.0 67.0 L243.4 64.9 L246.5 64.9 L247.6 67.3 L249.0 70.8 L247.6 74.2 L245.8 75.9 L245.5 79.4 L244.5 82.2 L245.1 83.9 L243.4 86.0 L241.7 86.3 L239.6 85.6 L238.2 87.7 L236.5 87.3 L232.7 87.7 L231.3 88.7 L228.9 91.5 L226.1 90.8 L225.8 88.4 L223.3 87.3 L219.9 88.4 L216.4 89.1 L214.7 90.1 L211.2 90.1 L210.9 89.8"/>
<path fill="none" stroke="#000" stroke-width="0.6" stroke-linejoin="round" d="M242.4 63.9 L243.1 61.1 L241.7 60.1 L243.8 57.6 L246.9 58.0 L247.9 54.5 L248.3 50.7 L251.0 51.8 L254.5 54.5 L258.0 55.6 L260.7 54.5 L262.5 57.3 L259.7 58.7 L253.8 62.1 L249.3 60.4 L245.8 60.8 L244.1 62.1 L245.5 63.5 L242.4 63.9"/>
<path fill="none" stroke="#000" stroke-width="0.6" stroke-linejoin="round" d="M249.0 48.3 L249.3 44.9 L250.0 39.7 L249.3 36.2 L250.0 31.1 L252.1 25.9 L251.7 22.1 L251.4 19.7 L253.5 24.2 L253.8 29.3 L253.5 34.5 L257.3 38.0 L254.5 39.7 L252.8 43.1 L254.5 47.3 L251.0 45.9 L249.0 48.3"/>
<path fill="none" stroke="#000" stroke-width="0.6" stroke-linejoin="round" d="M263.1 55.9 L266.6 54.2"/>
<path fill="none" stroke="#000" stroke-width="0.6" stroke-linejoin="round" d="M268.3 53.2 L271.8 51.1"/>
<path fill="none" stroke="#000" stroke-width="0.6" stroke-linejoin="round" d="M273.5 50.1 L278.7 47.6"/>
<path fill="none" stroke="#000" stroke-width="0.6" stroke-linejoin="round" d="M175.2 143.3 L177.3 142.9 L180.7 143.3 L181.4 147.7 L180.4 151.2 L178.7 152.9 L178.7 157.4 L180.7 158.8 L184.2 159.5 L187.3 162.2 L186.3 163.6 L183.2 161.2 L181.1 160.2 L179.0 159.1 L176.2 159.1 L175.2 157.1 L173.8 155.3 L172.4 151.2 L174.2 149.8 L174.5 146.4 L175.2 143.3"/>
<path fill="none" stroke="#000" stroke-width="0.6" stroke-linejoin="round" d="M174.5 160.5 L177.3 160.9 L178.3 163.6 L176.9 165.0 L174.9 162.6 L174.5 160.5"/>
<path fill="none" stroke="#000" stroke-width="0.6" stroke-linejoin="round" d="M180.0 166.4 L182.1 167.4 L184.2 169.5 L183.5 171.9 L181.4 171.2 L180.0 169.1 L180.0 166.4"/>
<path fill="none" stroke="#000" stroke-width="0.6" stroke-linejoin="round" d="M186.3 168.5 L187.7 171.2 L187.0 172.9 L185.2 171.2 L186.3 168.5"/>
<path fill="none" stroke="#000" stroke-width="0.6" stroke-linejoin="round" d="M188.0 164.0 L191.1 164.7 L192.5 168.5 L190.4 171.9 L188.4 169.5 L188.0 164.0"/>
<path fill="none" stroke="#000" stroke-width="0.6" stroke-linejoin="round" d="M192.2 173.3 L194.6 174.3 L195.6 173.3"/>
<path fill="none" stroke="#000" stroke-width="0.6" stroke-linejoin="round" d="M12.5 49.7 L15.6 48.3 L20.1 46.9 L24.2 46.6 L29.4 45.9 L32.2 46.3 L29.4 47.3 L24.2 47.6 L19.0 48.7 L15.6 50.7 L13.8 51.8 L12.5 49.7"/>
<path fill="none" stroke="#000" stroke-width="0.6" stroke-linejoin="round" d="M116.3 28.5 L119.5 27.8 L124.0 26.1 L128.8 23.1 L132.6 20.0 L135.0 16.9 L137.1 14.2 L138.5 15.2 L137.5 18.6 L135.0 22.1 L130.9 25.2 L125.7 28.0 L120.5 29.5 L117.0 29.3 L116.3 28.5"/>
<rect x="69.45" y="69.44" width="103.88" height="69.04" fill="none" stroke="#1f36d6" stroke-width="1.35"/>
</g>
<rect x="0" y="0" width="277.0" height="172.6" fill="none" stroke="#222" stroke-width="0.9"/>
<line x1="-3" y1="172.60" x2="0" y2="172.60" stroke="#333" stroke-width="0.7"/>
<line x1="-3" y1="155.34" x2="0" y2="155.34" stroke="#333" stroke-width="0.7"/>
<line x1="-6" y1="138.08" x2="0" y2="138.08" stroke="#333" stroke-width="0.7"/>
<line x1="-3" y1="120.82" x2="0" y2="120.82" stroke="#333" stroke-width="0.7"/>
<line x1="-3" y1="103.56" x2="0" y2="103.56" stroke="#333" stroke-width="0.7"/>
<line x1="-3" y1="86.30" x2="0" y2="86.30" stroke="#333" stroke-width="0.7"/>
<line x1="-6" y1="69.04" x2="0" y2="69.04" stroke="#333" stroke-width="0.7"/>
<line x1="-3" y1="51.78" x2="0" y2="51.78" stroke="#333" stroke-width="0.7"/>
<line x1="-3" y1="34.52" x2="0" y2="34.52" stroke="#333" stroke-width="0.7"/>
<line x1="-3" y1="17.26" x2="0" y2="17.26" stroke="#333" stroke-width="0.7"/>
<line x1="-6" y1="0.00" x2="0" y2="0.00" stroke="#333" stroke-width="0.7"/>
<line x1="0.00" y1="172.6" x2="0.00" y2="175.6" stroke="#333" stroke-width="0.7"/>
<line x1="34.62" y1="172.6" x2="34.62" y2="175.6" stroke="#333" stroke-width="0.7"/>
<line x1="69.25" y1="172.6" x2="69.25" y2="178.6" stroke="#333" stroke-width="0.7"/>
<line x1="103.88" y1="172.6" x2="103.88" y2="175.6" stroke="#333" stroke-width="0.7"/>
<line x1="138.50" y1="172.6" x2="138.50" y2="175.6" stroke="#333" stroke-width="0.7"/>
<line x1="173.12" y1="172.6" x2="173.12" y2="178.6" stroke="#333" stroke-width="0.7"/>
<line x1="207.75" y1="172.6" x2="207.75" y2="175.6" stroke="#333" stroke-width="0.7"/>
<line x1="242.38" y1="172.6" x2="242.38" y2="175.6" stroke="#333" stroke-width="0.7"/>
<line x1="277.00" y1="172.6" x2="277.00" y2="178.6" stroke="#333" stroke-width="0.7"/>
<text x="-8.2" y="5.10" text-anchor="end">60N</text>
<text x="-8.2" y="74.14" text-anchor="end">40N</text>
<text x="-8.2" y="143.18" text-anchor="end">20N</text>
<text x="69.55" y="189.40" text-anchor="middle">90E</text>
<text x="173.43" y="189.40" text-anchor="middle">120E</text>
<text x="277.30" y="189.40" text-anchor="middle">150E</text>
<text x="-0.9" y="-3.90">(d) Composite (H1000)</text>
<rect x="284.0" y="1.50" width="5.5" height="8.06" fill="#d31920"/>
<rect x="284.0" y="9.26" width="5.5" height="8.06" fill="#ed2024"/>
<rect x="284.0" y="17.02" width="5.5" height="8.06" fill="#f04b23"/>
<rect x="284.0" y="24.78" width="5.5" height="8.06" fill="#f36b21"/>
<rect x="284.0" y="32.54" width="5.5" height="8.06" fill="#f7891e"/>
<rect x="284.0" y="40.30" width="5.5" height="8.06" fill="#faa11b"/>
<rect x="284.0" y="48.05" width="5.5" height="8.06" fill="#fba61f"/>
<rect x="284.0" y="55.81" width="5.5" height="8.06" fill="#fcbb44"/>
<rect x="284.0" y="63.57" width="5.5" height="8.06" fill="#fed679"/>
<rect x="284.0" y="71.33" width="5.5" height="8.06" fill="#ffe9a7"/>
<rect x="284.0" y="79.09" width="5.5" height="8.06" fill="#fff4d1"/>
<rect x="284.0" y="86.85" width="5.5" height="8.06" fill="#c3ecfa"/>
<rect x="284.0" y="94.61" width="5.5" height="8.06" fill="#9ee1f7"/>
<rect x="284.0" y="102.37" width="5.5" height="8.06" fill="#7fd5f3"/>
<rect x="284.0" y="110.13" width="5.5" height="8.06" fill="#66caef"/>
<rect x="284.0" y="117.89" width="5.5" height="8.06" fill="#4abfe9"/>
<rect x="284.0" y="125.65" width="5.5" height="8.06" fill="#35b3e3"/>
<rect x="284.0" y="133.40" width="5.5" height="8.06" fill="#1ea5dc"/>
<rect x="284.0" y="141.16" width="5.5" height="8.06" fill="#0e8ccb"/>
<rect x="284.0" y="148.92" width="5.5" height="8.06" fill="#0b76bb"/>
<rect x="284.0" y="156.68" width="5.5" height="8.06" fill="#0a66ad"/>
<rect x="284.0" y="164.44" width="5.5" height="8.06" fill="#0b539d"/>
<rect x="284.0" y="1.5" width="5.5" height="170.7" fill="none" stroke="#777" stroke-width="0.3"/>
<text x="298.0" y="13.96" text-anchor="middle">10</text>
<text x="298.0" y="45.00" text-anchor="middle">6</text>
<text x="298.0" y="76.03" text-anchor="middle">2</text>
<text x="298.0" y="107.07" text-anchor="middle">-2</text>
<text x="298.0" y="138.10" text-anchor="middle">-6</text>
<text x="298.0" y="169.14" text-anchor="middle">-10</text>
</g>
</svg>
</body></html>
